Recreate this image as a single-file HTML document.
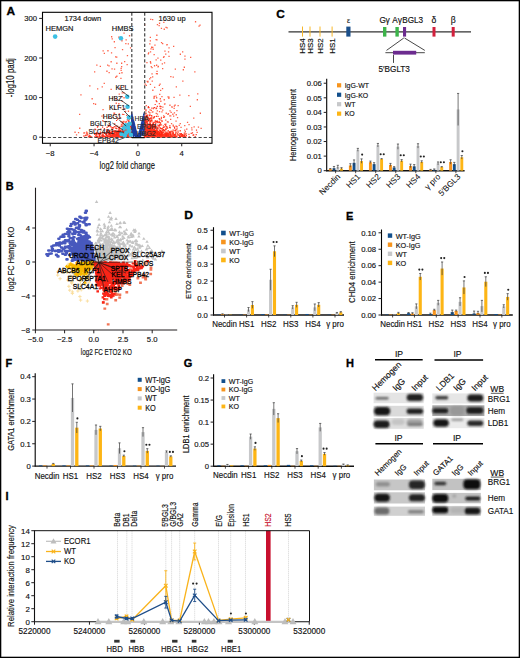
<!DOCTYPE html>
<html><head><meta charset="utf-8"><style>
html,body{margin:0;padding:0;background:#fff;width:520px;height:658px;overflow:hidden}
svg{display:block}
text{font-family:"Liberation Sans", sans-serif}
</style></head><body>
<svg width="520" height="658" viewBox="0 0 520 658">
<defs><filter id="bl" x="-20%" y="-60%" width="140%" height="220%"><feGaussianBlur stdDeviation="0.9"/></filter></defs>
<rect x="0" y="0" width="520" height="658" fill="#fff"/>
<text transform="translate(6.5 14.9) scale(1.08 1)" font-size="11" text-anchor="start" fill="#000" font-weight="bold" stroke="#000" stroke-width="0.3">A</text>
<path fill="#ff3a1a" fill-opacity="0.8" d="M156.0 97.1h1.3v1.3h-1.3zM170.6 130.5h1.3v1.3h-1.3zM155.6 100.1h1.3v1.3h-1.3zM158.5 121.0h1.3v1.3h-1.3zM174.4 134.1h1.3v1.3h-1.3zM156.8 113.5h1.3v1.3h-1.3zM152.2 111.3h1.3v1.3h-1.3zM158.6 134.0h1.3v1.3h-1.3zM156.4 129.9h1.3v1.3h-1.3zM176.3 109.9h1.3v1.3h-1.3zM153.7 95.8h1.3v1.3h-1.3zM170.0 118.7h1.3v1.3h-1.3zM158.6 118.0h1.3v1.3h-1.3zM168.9 132.2h1.3v1.3h-1.3zM145.6 105.0h1.3v1.3h-1.3zM153.5 53.9h1.3v1.3h-1.3zM157.5 115.8h1.3v1.3h-1.3zM149.1 129.6h1.3v1.3h-1.3zM148.7 120.5h1.3v1.3h-1.3zM155.4 120.5h1.3v1.3h-1.3zM151.6 80.5h1.3v1.3h-1.3zM180.4 126.7h1.3v1.3h-1.3zM190.0 56.7h1.3v1.3h-1.3zM182.2 80.5h1.3v1.3h-1.3zM193.1 117.4h1.3v1.3h-1.3zM149.7 40.3h1.3v1.3h-1.3zM192.4 134.6h1.3v1.3h-1.3zM163.0 115.2h1.3v1.3h-1.3zM167.9 51.2h1.3v1.3h-1.3zM165.1 119.5h1.3v1.3h-1.3zM162.5 129.7h1.3v1.3h-1.3zM159.3 124.7h1.3v1.3h-1.3zM162.9 56.8h1.3v1.3h-1.3zM159.0 133.1h1.3v1.3h-1.3zM171.1 106.3h1.3v1.3h-1.3zM155.5 38.9h1.3v1.3h-1.3zM160.1 59.5h1.3v1.3h-1.3zM148.2 134.6h1.3v1.3h-1.3zM169.2 115.2h1.3v1.3h-1.3zM167.8 113.1h1.3v1.3h-1.3zM160.8 124.3h1.3v1.3h-1.3zM169.2 126.8h1.3v1.3h-1.3zM162.8 125.3h1.3v1.3h-1.3zM171.6 106.5h1.3v1.3h-1.3zM175.4 120.5h1.3v1.3h-1.3zM169.6 127.2h1.3v1.3h-1.3zM159.6 133.4h1.3v1.3h-1.3zM163.9 62.3h1.3v1.3h-1.3zM173.0 45.7h1.3v1.3h-1.3zM150.1 18.8h1.3v1.3h-1.3zM167.2 113.8h1.3v1.3h-1.3zM177.0 133.1h1.3v1.3h-1.3zM147.8 126.6h1.3v1.3h-1.3zM156.4 70.7h1.3v1.3h-1.3zM159.0 134.6h1.3v1.3h-1.3zM177.5 104.9h1.3v1.3h-1.3zM170.1 115.2h1.3v1.3h-1.3zM167.4 96.3h1.3v1.3h-1.3zM162.2 106.5h1.3v1.3h-1.3zM150.7 133.6h1.3v1.3h-1.3zM199.7 112.6h1.3v1.3h-1.3zM183.7 66.6h1.3v1.3h-1.3zM158.7 84.8h1.3v1.3h-1.3zM150.6 130.7h1.3v1.3h-1.3zM159.5 105.5h1.3v1.3h-1.3zM148.4 124.6h1.3v1.3h-1.3zM173.7 105.4h1.3v1.3h-1.3zM159.5 134.5h1.3v1.3h-1.3zM156.0 64.6h1.3v1.3h-1.3zM160.8 27.7h1.3v1.3h-1.3zM162.6 131.6h1.3v1.3h-1.3zM159.1 132.2h1.3v1.3h-1.3zM153.3 116.5h1.3v1.3h-1.3zM172.0 133.1h1.3v1.3h-1.3zM161.3 111.3h1.3v1.3h-1.3zM151.7 134.5h1.3v1.3h-1.3zM156.3 126.7h1.3v1.3h-1.3zM179.7 130.1h1.3v1.3h-1.3zM157.6 133.6h1.3v1.3h-1.3zM165.3 134.0h1.3v1.3h-1.3zM151.4 67.0h1.3v1.3h-1.3zM159.5 83.5h1.3v1.3h-1.3zM155.9 132.6h1.3v1.3h-1.3zM184.5 134.0h1.3v1.3h-1.3zM166.2 44.3h1.3v1.3h-1.3zM175.2 131.5h1.3v1.3h-1.3zM149.9 51.3h1.3v1.3h-1.3zM156.7 110.3h1.3v1.3h-1.3zM178.6 124.7h1.3v1.3h-1.3zM162.5 128.9h1.3v1.3h-1.3zM179.9 133.3h1.3v1.3h-1.3zM160.2 108.0h1.3v1.3h-1.3zM149.1 129.5h1.3v1.3h-1.3zM151.8 132.1h1.3v1.3h-1.3zM163.1 130.1h1.3v1.3h-1.3zM151.4 73.3h1.3v1.3h-1.3zM147.1 130.4h1.3v1.3h-1.3zM159.1 93.7h1.3v1.3h-1.3zM179.2 94.4h1.3v1.3h-1.3zM157.3 57.5h1.3v1.3h-1.3zM151.4 133.2h1.3v1.3h-1.3zM147.2 81.4h1.3v1.3h-1.3zM158.9 132.8h1.3v1.3h-1.3zM159.3 134.5h1.3v1.3h-1.3zM184.7 133.2h1.3v1.3h-1.3zM164.7 131.2h1.3v1.3h-1.3zM144.3 126.9h1.3v1.3h-1.3zM155.8 73.0h1.3v1.3h-1.3zM168.4 55.7h1.3v1.3h-1.3zM151.1 131.5h1.3v1.3h-1.3zM150.1 132.5h1.3v1.3h-1.3zM188.4 124.0h1.3v1.3h-1.3zM150.2 130.2h1.3v1.3h-1.3zM186.9 121.8h1.3v1.3h-1.3zM163.6 99.1h1.3v1.3h-1.3zM161.9 87.9h1.3v1.3h-1.3zM149.7 36.7h1.3v1.3h-1.3zM184.1 134.5h1.3v1.3h-1.3zM170.9 130.9h1.3v1.3h-1.3zM168.2 97.7h1.3v1.3h-1.3zM161.3 134.5h1.3v1.3h-1.3zM159.2 132.7h1.3v1.3h-1.3zM175.7 86.3h1.3v1.3h-1.3zM169.0 131.6h1.3v1.3h-1.3zM156.2 34.6h1.3v1.3h-1.3zM150.4 48.2h1.3v1.3h-1.3zM200.5 127.7h1.3v1.3h-1.3zM152.0 76.3h1.3v1.3h-1.3zM164.3 103.3h1.3v1.3h-1.3zM149.8 61.1h1.3v1.3h-1.3zM154.8 126.2h1.3v1.3h-1.3zM154.6 130.2h1.3v1.3h-1.3zM151.0 119.8h1.3v1.3h-1.3zM160.7 118.0h1.3v1.3h-1.3zM145.6 134.4h1.3v1.3h-1.3zM149.0 78.3h1.3v1.3h-1.3zM163.2 21.8h1.3v1.3h-1.3zM163.8 116.1h1.3v1.3h-1.3zM145.3 110.3h1.3v1.3h-1.3zM173.4 96.7h1.3v1.3h-1.3zM155.4 95.4h1.3v1.3h-1.3zM147.0 133.9h1.3v1.3h-1.3zM155.5 59.2h1.3v1.3h-1.3zM153.4 97.6h1.3v1.3h-1.3zM194.2 71.3h1.3v1.3h-1.3zM154.0 128.1h1.3v1.3h-1.3zM161.5 128.4h1.3v1.3h-1.3zM147.7 125.7h1.3v1.3h-1.3zM196.7 99.1h1.3v1.3h-1.3zM162.0 42.9h1.3v1.3h-1.3zM173.0 129.4h1.3v1.3h-1.3zM152.2 89.6h1.3v1.3h-1.3zM158.5 24.9h1.3v1.3h-1.3zM144.5 83.5h1.3v1.3h-1.3zM184.3 55.4h1.3v1.3h-1.3zM179.5 130.1h1.3v1.3h-1.3zM159.9 122.0h1.3v1.3h-1.3zM197.1 93.3h1.3v1.3h-1.3zM158.6 133.5h1.3v1.3h-1.3zM159.6 107.8h1.3v1.3h-1.3zM159.8 134.4h1.3v1.3h-1.3zM199.4 24.4h1.3v1.3h-1.3zM166.5 27.2h1.3v1.3h-1.3zM181.4 134.5h1.3v1.3h-1.3zM172.3 129.5h1.3v1.3h-1.3zM176.9 116.9h1.3v1.3h-1.3zM154.2 127.2h1.3v1.3h-1.3zM149.8 119.9h1.3v1.3h-1.3zM172.7 125.5h1.3v1.3h-1.3zM170.5 111.8h1.3v1.3h-1.3zM154.1 134.1h1.3v1.3h-1.3zM150.7 109.7h1.3v1.3h-1.3zM150.4 131.2h1.3v1.3h-1.3zM167.5 131.3h1.3v1.3h-1.3zM172.7 132.1h1.3v1.3h-1.3zM172.2 113.6h1.3v1.3h-1.3zM149.3 123.0h1.3v1.3h-1.3zM165.1 53.5h1.3v1.3h-1.3zM150.1 77.0h1.3v1.3h-1.3zM149.8 83.7h1.3v1.3h-1.3zM153.4 124.2h1.3v1.3h-1.3zM155.4 107.9h1.3v1.3h-1.3zM174.4 134.6h1.3v1.3h-1.3zM184.1 129.4h1.3v1.3h-1.3zM168.4 47.2h1.3v1.3h-1.3zM152.8 107.9h1.3v1.3h-1.3zM191.1 127.3h1.3v1.3h-1.3zM150.1 62.4h1.3v1.3h-1.3zM147.3 80.8h1.3v1.3h-1.3zM171.3 134.3h1.3v1.3h-1.3zM157.0 134.2h1.3v1.3h-1.3zM150.3 119.9h1.3v1.3h-1.3zM151.2 134.6h1.3v1.3h-1.3zM171.5 133.1h1.3v1.3h-1.3zM160.0 89.8h1.3v1.3h-1.3zM164.3 50.5h1.3v1.3h-1.3zM157.4 66.3h1.3v1.3h-1.3zM145.8 114.8h1.3v1.3h-1.3zM166.2 133.1h1.3v1.3h-1.3zM152.7 117.4h1.3v1.3h-1.3zM149.4 124.1h1.3v1.3h-1.3zM147.9 132.4h1.3v1.3h-1.3zM166.0 126.2h1.3v1.3h-1.3zM172.5 124.4h1.3v1.3h-1.3zM166.1 134.6h1.3v1.3h-1.3zM152.7 134.5h1.3v1.3h-1.3zM157.6 130.5h1.3v1.3h-1.3zM172.3 130.9h1.3v1.3h-1.3zM163.6 28.6h1.3v1.3h-1.3zM182.0 51.3h1.3v1.3h-1.3zM159.7 98.1h1.3v1.3h-1.3zM182.7 69.1h1.3v1.3h-1.3zM191.3 129.2h1.3v1.3h-1.3zM175.6 114.1h1.3v1.3h-1.3zM162.1 109.4h1.3v1.3h-1.3zM159.5 127.5h1.3v1.3h-1.3zM160.8 116.8h1.3v1.3h-1.3zM160.8 131.8h1.3v1.3h-1.3zM165.4 134.6h1.3v1.3h-1.3zM153.5 129.3h1.3v1.3h-1.3zM159.0 129.3h1.3v1.3h-1.3zM149.4 109.3h1.3v1.3h-1.3zM189.7 105.7h1.3v1.3h-1.3zM148.0 52.3h1.3v1.3h-1.3zM154.3 44.5h1.3v1.3h-1.3zM153.4 134.6h1.3v1.3h-1.3zM154.0 86.8h1.3v1.3h-1.3zM174.9 132.8h1.3v1.3h-1.3zM153.5 96.1h1.3v1.3h-1.3zM165.4 26.8h1.3v1.3h-1.3zM150.6 66.0h1.3v1.3h-1.3zM158.9 111.0h1.3v1.3h-1.3zM161.3 96.0h1.3v1.3h-1.3zM148.6 127.5h1.3v1.3h-1.3zM176.9 134.5h1.3v1.3h-1.3zM173.0 115.5h1.3v1.3h-1.3zM145.8 118.5h1.3v1.3h-1.3zM173.5 107.8h1.3v1.3h-1.3zM150.3 128.0h1.3v1.3h-1.3zM174.5 133.8h1.3v1.3h-1.3zM169.3 104.6h1.3v1.3h-1.3zM158.7 102.9h1.3v1.3h-1.3zM184.7 131.1h1.3v1.3h-1.3zM156.6 73.1h1.3v1.3h-1.3zM158.9 22.6h1.3v1.3h-1.3zM145.4 112.5h1.3v1.3h-1.3zM188.2 95.0h1.3v1.3h-1.3zM152.0 19.0h1.3v1.3h-1.3zM147.0 134.3h1.3v1.3h-1.3zM168.4 134.5h1.3v1.3h-1.3zM152.8 133.2h1.3v1.3h-1.3zM146.6 80.7h1.3v1.3h-1.3zM177.4 131.6h1.3v1.3h-1.3zM162.0 68.0h1.3v1.3h-1.3zM149.2 43.3h1.3v1.3h-1.3zM178.5 134.5h1.3v1.3h-1.3zM147.7 53.3h1.3v1.3h-1.3zM179.6 122.9h1.3v1.3h-1.3zM156.8 132.1h1.3v1.3h-1.3zM155.6 121.0h1.3v1.3h-1.3zM172.6 76.5h1.3v1.3h-1.3zM151.6 111.4h1.3v1.3h-1.3zM179.7 53.6h1.3v1.3h-1.3zM160.0 130.1h1.3v1.3h-1.3zM151.0 46.6h1.3v1.3h-1.3zM163.9 103.4h1.3v1.3h-1.3zM152.5 48.6h1.3v1.3h-1.3zM193.5 126.2h1.3v1.3h-1.3zM160.8 133.1h1.3v1.3h-1.3zM151.2 134.6h1.3v1.3h-1.3zM153.6 134.6h1.3v1.3h-1.3zM160.5 134.3h1.3v1.3h-1.3zM145.7 84.7h1.3v1.3h-1.3zM196.5 131.8h1.3v1.3h-1.3zM168.6 134.5h1.3v1.3h-1.3zM166.8 121.3h1.3v1.3h-1.3zM153.6 121.5h1.3v1.3h-1.3zM188.3 133.7h1.3v1.3h-1.3zM161.1 134.2h1.3v1.3h-1.3zM156.3 39.3h1.3v1.3h-1.3zM198.4 25.5h1.3v1.3h-1.3zM153.8 130.5h1.3v1.3h-1.3zM147.9 134.5h1.3v1.3h-1.3zM170.9 123.0h1.3v1.3h-1.3zM182.6 134.6h1.3v1.3h-1.3zM169.4 110.2h1.3v1.3h-1.3zM194.9 21.1h1.3v1.3h-1.3zM159.1 123.7h1.3v1.3h-1.3zM156.8 23.9h1.3v1.3h-1.3zM152.3 122.9h1.3v1.3h-1.3zM175.4 134.6h1.3v1.3h-1.3zM175.3 131.2h1.3v1.3h-1.3zM154.7 131.6h1.3v1.3h-1.3zM184.3 58.4h1.3v1.3h-1.3zM183.2 134.5h1.3v1.3h-1.3zM168.3 96.4h1.3v1.3h-1.3zM144.1 24.3h1.3v1.3h-1.3zM163.4 55.9h1.3v1.3h-1.3zM152.1 46.8h1.3v1.3h-1.3zM184.1 125.0h1.3v1.3h-1.3zM173.8 112.2h1.3v1.3h-1.3zM176.5 128.3h1.3v1.3h-1.3zM175.6 132.2h1.3v1.3h-1.3zM160.9 41.9h1.3v1.3h-1.3zM165.6 112.6h1.3v1.3h-1.3zM169.7 133.8h1.3v1.3h-1.3zM153.9 65.1h1.3v1.3h-1.3zM161.7 63.2h1.3v1.3h-1.3zM146.3 62.0h1.3v1.3h-1.3zM150.8 124.9h1.3v1.3h-1.3zM156.9 133.7h1.3v1.3h-1.3zM197.8 126.4h1.3v1.3h-1.3zM149.9 119.4h1.3v1.3h-1.3zM170.2 76.0h1.3v1.3h-1.3zM174.7 68.4h1.3v1.3h-1.3zM155.6 112.8h1.3v1.3h-1.3zM162.0 127.4h1.3v1.3h-1.3zM172.6 132.7h1.3v1.3h-1.3zM185.8 133.2h1.3v1.3h-1.3zM156.3 128.2h1.3v1.3h-1.3zM177.7 134.3h1.3v1.3h-1.3zM164.2 132.7h1.3v1.3h-1.3zM160.2 100.6h1.3v1.3h-1.3zM161.0 120.3h1.3v1.3h-1.3zM163.3 129.6h1.3v1.3h-1.3zM157.7 65.7h1.3v1.3h-1.3zM160.5 105.9h1.3v1.3h-1.3zM149.3 127.9h1.3v1.3h-1.3zM169.2 125.0h1.3v1.3h-1.3zM166.5 43.9h1.3v1.3h-1.3zM113.9 112.6h1.3v1.3h-1.3zM113.0 114.7h1.3v1.3h-1.3zM107.0 64.5h1.3v1.3h-1.3zM128.3 118.0h1.3v1.3h-1.3zM93.0 103.0h1.3v1.3h-1.3zM122.2 133.1h1.3v1.3h-1.3zM99.7 65.8h1.3v1.3h-1.3zM99.3 134.3h1.3v1.3h-1.3zM127.8 110.6h1.3v1.3h-1.3zM108.1 116.6h1.3v1.3h-1.3zM121.0 65.9h1.3v1.3h-1.3zM120.8 134.6h1.3v1.3h-1.3zM111.3 127.9h1.3v1.3h-1.3zM119.4 134.3h1.3v1.3h-1.3zM113.9 68.4h1.3v1.3h-1.3zM113.3 112.4h1.3v1.3h-1.3zM127.9 120.8h1.3v1.3h-1.3zM116.9 105.3h1.3v1.3h-1.3zM120.8 123.8h1.3v1.3h-1.3zM97.2 125.8h1.3v1.3h-1.3zM115.5 98.5h1.3v1.3h-1.3zM115.5 114.2h1.3v1.3h-1.3zM105.9 134.3h1.3v1.3h-1.3zM114.4 47.0h1.3v1.3h-1.3zM102.4 109.0h1.3v1.3h-1.3zM122.7 125.6h1.3v1.3h-1.3zM86.7 132.4h1.3v1.3h-1.3zM102.9 116.9h1.3v1.3h-1.3zM107.3 50.1h1.3v1.3h-1.3zM121.8 134.2h1.3v1.3h-1.3zM108.9 124.1h1.3v1.3h-1.3zM121.9 49.0h1.3v1.3h-1.3zM84.0 132.2h1.3v1.3h-1.3zM128.6 118.8h1.3v1.3h-1.3zM123.2 92.3h1.3v1.3h-1.3zM113.2 133.7h1.3v1.3h-1.3zM101.3 115.5h1.3v1.3h-1.3zM126.5 63.9h1.3v1.3h-1.3zM123.4 32.4h1.3v1.3h-1.3zM115.1 76.6h1.3v1.3h-1.3zM112.2 133.7h1.3v1.3h-1.3zM111.8 97.8h1.3v1.3h-1.3zM120.6 132.6h1.3v1.3h-1.3zM124.0 61.0h1.3v1.3h-1.3zM105.7 134.5h1.3v1.3h-1.3zM127.9 122.4h1.3v1.3h-1.3zM121.9 113.8h1.3v1.3h-1.3zM127.1 131.3h1.3v1.3h-1.3zM108.7 133.6h1.3v1.3h-1.3zM115.3 98.0h1.3v1.3h-1.3zM126.5 107.4h1.3v1.3h-1.3zM107.2 132.8h1.3v1.3h-1.3zM102.2 120.1h1.3v1.3h-1.3zM74.4 131.6h1.3v1.3h-1.3zM124.9 110.8h1.3v1.3h-1.3zM126.8 55.0h1.3v1.3h-1.3zM125.9 105.0h1.3v1.3h-1.3zM109.8 131.8h1.3v1.3h-1.3zM123.2 120.7h1.3v1.3h-1.3zM125.2 130.3h1.3v1.3h-1.3zM116.1 56.4h1.3v1.3h-1.3zM85.2 134.5h1.3v1.3h-1.3zM123.2 85.7h1.3v1.3h-1.3zM116.2 132.1h1.3v1.3h-1.3zM107.7 125.8h1.3v1.3h-1.3zM91.5 98.1h1.3v1.3h-1.3zM121.3 134.2h1.3v1.3h-1.3zM128.9 35.1h1.3v1.3h-1.3zM89.2 85.3h1.3v1.3h-1.3zM129.9 47.3h1.3v1.3h-1.3zM116.4 117.1h1.3v1.3h-1.3zM94.4 128.4h1.3v1.3h-1.3zM118.1 132.2h1.3v1.3h-1.3zM122.3 130.5h1.3v1.3h-1.3zM118.1 36.5h1.3v1.3h-1.3zM108.5 72.0h1.3v1.3h-1.3zM80.3 94.3h1.3v1.3h-1.3zM95.6 133.7h1.3v1.3h-1.3zM77.9 131.9h1.3v1.3h-1.3zM102.5 50.3h1.3v1.3h-1.3zM111.4 68.3h1.3v1.3h-1.3zM96.2 64.5h1.3v1.3h-1.3zM121.4 125.4h1.3v1.3h-1.3zM123.0 129.0h1.3v1.3h-1.3zM112.1 128.8h1.3v1.3h-1.3zM101.6 86.2h1.3v1.3h-1.3zM94.0 71.3h1.3v1.3h-1.3zM127.7 43.3h1.3v1.3h-1.3zM121.0 62.6h1.3v1.3h-1.3zM116.2 62.6h1.3v1.3h-1.3zM105.4 133.3h1.3v1.3h-1.3zM122.7 123.0h1.3v1.3h-1.3zM110.5 61.1h1.3v1.3h-1.3zM120.5 133.8h1.3v1.3h-1.3zM102.9 114.5h1.3v1.3h-1.3zM120.5 133.1h1.3v1.3h-1.3zM122.4 121.0h1.3v1.3h-1.3zM113.8 96.2h1.3v1.3h-1.3zM124.2 108.1h1.3v1.3h-1.3zM118.6 113.3h1.3v1.3h-1.3zM118.2 103.1h1.3v1.3h-1.3zM110.9 52.3h1.3v1.3h-1.3zM121.3 40.1h1.3v1.3h-1.3zM118.6 93.5h1.3v1.3h-1.3zM119.3 87.4h1.3v1.3h-1.3zM75.9 134.2h1.3v1.3h-1.3zM115.6 102.6h1.3v1.3h-1.3zM103.7 52.8h1.3v1.3h-1.3zM118.7 134.4h1.3v1.3h-1.3zM113.7 41.1h1.3v1.3h-1.3zM116.2 134.3h1.3v1.3h-1.3zM121.6 92.2h1.3v1.3h-1.3zM109.7 125.8h1.3v1.3h-1.3zM111.0 36.1h1.3v1.3h-1.3zM118.7 87.5h1.3v1.3h-1.3zM103.6 82.7h1.3v1.3h-1.3zM107.5 131.9h1.3v1.3h-1.3zM120.5 69.7h1.3v1.3h-1.3zM120.1 107.2h1.3v1.3h-1.3zM116.9 125.4h1.3v1.3h-1.3zM125.5 39.3h1.3v1.3h-1.3zM125.2 42.9h1.3v1.3h-1.3zM126.0 114.8h1.3v1.3h-1.3zM117.1 118.6h1.3v1.3h-1.3zM122.9 127.2h1.3v1.3h-1.3zM79.0 113.7h1.3v1.3h-1.3zM121.3 72.1h1.3v1.3h-1.3zM116.2 75.6h1.3v1.3h-1.3zM97.0 88.3h1.3v1.3h-1.3zM120.4 121.0h1.3v1.3h-1.3zM79.1 127.6h1.3v1.3h-1.3zM121.8 121.7h1.3v1.3h-1.3zM94.9 103.6h1.3v1.3h-1.3zM119.9 117.0h1.3v1.3h-1.3zM111.6 38.2h1.3v1.3h-1.3zM118.9 72.8h1.3v1.3h-1.3zM120.3 77.8h1.3v1.3h-1.3zM120.5 67.7h1.3v1.3h-1.3zM115.0 56.3h1.3v1.3h-1.3zM120.0 88.4h1.3v1.3h-1.3zM112.4 117.0h1.3v1.3h-1.3zM110.5 88.7h1.3v1.3h-1.3zM121.5 100.7h1.3v1.3h-1.3zM106.3 70.6h1.3v1.3h-1.3zM114.1 108.8h1.3v1.3h-1.3zM108.4 65.2h1.3v1.3h-1.3zM97.2 132.8h1.3v1.3h-1.3zM121.6 96.0h1.3v1.3h-1.3zM123.4 97.1h1.3v1.3h-1.3zM99.8 133.7h1.3v1.3h-1.3z"/>
<path fill="#ff1e08" fill-opacity="0.9" d="M153.5 133.8h1.2v1.2h-1.2zM151.0 136.1h1.2v1.2h-1.2zM154.7 134.1h1.2v1.2h-1.2zM143.7 130.3h1.2v1.2h-1.2zM144.6 134.6h1.2v1.2h-1.2zM144.1 132.9h1.2v1.2h-1.2zM148.6 126.2h1.2v1.2h-1.2zM144.0 125.5h1.2v1.2h-1.2zM144.4 135.0h1.2v1.2h-1.2zM149.7 134.0h1.2v1.2h-1.2zM146.1 131.3h1.2v1.2h-1.2zM145.2 126.6h1.2v1.2h-1.2zM145.1 125.0h1.2v1.2h-1.2zM153.7 131.7h1.2v1.2h-1.2zM143.9 127.1h1.2v1.2h-1.2zM143.9 132.1h1.2v1.2h-1.2zM147.0 136.2h1.2v1.2h-1.2zM149.7 128.4h1.2v1.2h-1.2zM149.0 133.4h1.2v1.2h-1.2zM148.0 131.0h1.2v1.2h-1.2zM145.3 123.8h1.2v1.2h-1.2zM176.5 126.3h1.2v1.2h-1.2zM163.3 134.1h1.2v1.2h-1.2zM169.6 136.1h1.2v1.2h-1.2zM147.6 135.7h1.2v1.2h-1.2zM147.4 129.3h1.2v1.2h-1.2zM151.1 132.8h1.2v1.2h-1.2zM146.2 135.3h1.2v1.2h-1.2zM146.8 134.5h1.2v1.2h-1.2zM145.0 128.2h1.2v1.2h-1.2zM148.1 132.9h1.2v1.2h-1.2zM145.0 128.9h1.2v1.2h-1.2zM145.0 134.6h1.2v1.2h-1.2zM148.7 128.9h1.2v1.2h-1.2zM165.5 127.9h1.2v1.2h-1.2zM161.6 120.6h1.2v1.2h-1.2zM151.4 128.5h1.2v1.2h-1.2zM144.1 135.1h1.2v1.2h-1.2zM143.8 124.0h1.2v1.2h-1.2zM151.4 130.3h1.2v1.2h-1.2zM145.6 133.8h1.2v1.2h-1.2zM144.8 130.3h1.2v1.2h-1.2zM172.4 134.3h1.2v1.2h-1.2zM144.0 135.4h1.2v1.2h-1.2zM146.4 122.1h1.2v1.2h-1.2zM153.5 132.8h1.2v1.2h-1.2zM144.4 135.9h1.2v1.2h-1.2zM144.7 127.1h1.2v1.2h-1.2zM147.6 107.0h1.2v1.2h-1.2zM158.3 126.6h1.2v1.2h-1.2zM147.6 125.7h1.2v1.2h-1.2zM144.5 135.9h1.2v1.2h-1.2zM148.7 132.1h1.2v1.2h-1.2zM145.1 134.8h1.2v1.2h-1.2zM143.8 121.4h1.2v1.2h-1.2zM151.2 118.2h1.2v1.2h-1.2zM167.5 133.0h1.2v1.2h-1.2zM151.7 133.5h1.2v1.2h-1.2zM153.8 124.9h1.2v1.2h-1.2zM144.6 136.5h1.2v1.2h-1.2zM145.2 131.0h1.2v1.2h-1.2zM146.6 136.5h1.2v1.2h-1.2zM154.4 126.8h1.2v1.2h-1.2zM147.5 136.3h1.2v1.2h-1.2zM157.0 131.8h1.2v1.2h-1.2zM144.2 134.1h1.2v1.2h-1.2zM149.6 122.9h1.2v1.2h-1.2zM147.7 130.1h1.2v1.2h-1.2zM145.1 134.8h1.2v1.2h-1.2zM158.0 133.5h1.2v1.2h-1.2zM144.4 130.9h1.2v1.2h-1.2zM144.5 135.2h1.2v1.2h-1.2zM147.4 131.0h1.2v1.2h-1.2zM149.8 128.8h1.2v1.2h-1.2zM147.2 136.2h1.2v1.2h-1.2zM151.5 136.2h1.2v1.2h-1.2zM147.5 133.4h1.2v1.2h-1.2zM150.4 128.7h1.2v1.2h-1.2zM145.4 130.0h1.2v1.2h-1.2zM150.8 132.6h1.2v1.2h-1.2zM144.6 121.4h1.2v1.2h-1.2zM149.2 136.2h1.2v1.2h-1.2zM145.4 109.2h1.2v1.2h-1.2zM145.3 133.4h1.2v1.2h-1.2zM153.1 125.6h1.2v1.2h-1.2zM149.8 128.0h1.2v1.2h-1.2zM143.9 136.0h1.2v1.2h-1.2zM166.2 126.3h1.2v1.2h-1.2zM143.9 136.3h1.2v1.2h-1.2zM145.4 119.7h1.2v1.2h-1.2zM145.2 129.5h1.2v1.2h-1.2zM159.8 130.2h1.2v1.2h-1.2zM158.9 134.7h1.2v1.2h-1.2zM144.7 136.5h1.2v1.2h-1.2zM152.2 135.9h1.2v1.2h-1.2zM165.5 128.8h1.2v1.2h-1.2zM145.0 126.2h1.2v1.2h-1.2zM144.8 132.1h1.2v1.2h-1.2zM144.4 126.8h1.2v1.2h-1.2zM157.0 120.9h1.2v1.2h-1.2zM143.7 124.5h1.2v1.2h-1.2zM148.6 125.7h1.2v1.2h-1.2zM147.9 130.5h1.2v1.2h-1.2zM149.2 126.4h1.2v1.2h-1.2zM144.2 136.2h1.2v1.2h-1.2zM148.5 134.4h1.2v1.2h-1.2zM146.8 136.6h1.2v1.2h-1.2zM151.9 136.4h1.2v1.2h-1.2zM154.4 126.0h1.2v1.2h-1.2zM147.4 135.8h1.2v1.2h-1.2zM150.0 135.1h1.2v1.2h-1.2zM147.1 135.9h1.2v1.2h-1.2zM166.3 131.6h1.2v1.2h-1.2zM146.3 136.0h1.2v1.2h-1.2zM151.6 124.6h1.2v1.2h-1.2zM155.1 135.9h1.2v1.2h-1.2zM146.5 134.3h1.2v1.2h-1.2zM152.4 135.6h1.2v1.2h-1.2zM149.3 112.3h1.2v1.2h-1.2zM152.5 136.6h1.2v1.2h-1.2zM144.2 135.8h1.2v1.2h-1.2zM150.8 130.8h1.2v1.2h-1.2zM148.1 132.7h1.2v1.2h-1.2zM146.9 130.6h1.2v1.2h-1.2zM150.0 120.9h1.2v1.2h-1.2zM151.7 126.5h1.2v1.2h-1.2zM158.4 125.1h1.2v1.2h-1.2zM151.3 136.4h1.2v1.2h-1.2zM150.6 124.6h1.2v1.2h-1.2zM147.1 123.3h1.2v1.2h-1.2zM144.9 118.5h1.2v1.2h-1.2zM147.2 128.8h1.2v1.2h-1.2zM145.5 134.3h1.2v1.2h-1.2zM146.3 134.1h1.2v1.2h-1.2zM144.3 132.9h1.2v1.2h-1.2zM167.6 129.9h1.2v1.2h-1.2zM159.9 127.5h1.2v1.2h-1.2zM154.6 103.9h1.2v1.2h-1.2zM152.1 134.6h1.2v1.2h-1.2zM145.4 133.2h1.2v1.2h-1.2zM143.8 134.9h1.2v1.2h-1.2zM156.8 120.5h1.2v1.2h-1.2zM146.1 127.3h1.2v1.2h-1.2zM152.7 122.6h1.2v1.2h-1.2zM153.3 131.8h1.2v1.2h-1.2zM144.4 125.5h1.2v1.2h-1.2zM146.0 130.4h1.2v1.2h-1.2zM146.5 131.7h1.2v1.2h-1.2zM164.0 135.5h1.2v1.2h-1.2zM148.3 129.9h1.2v1.2h-1.2zM148.4 119.0h1.2v1.2h-1.2zM146.9 121.1h1.2v1.2h-1.2zM150.8 114.9h1.2v1.2h-1.2zM144.3 135.1h1.2v1.2h-1.2zM145.8 121.6h1.2v1.2h-1.2zM143.8 134.7h1.2v1.2h-1.2zM151.3 107.6h1.2v1.2h-1.2zM144.9 132.9h1.2v1.2h-1.2zM150.7 129.2h1.2v1.2h-1.2zM152.0 127.7h1.2v1.2h-1.2zM145.4 134.7h1.2v1.2h-1.2zM143.9 129.2h1.2v1.2h-1.2zM145.1 134.7h1.2v1.2h-1.2zM163.8 130.1h1.2v1.2h-1.2zM149.1 129.8h1.2v1.2h-1.2zM149.2 129.1h1.2v1.2h-1.2zM145.9 136.2h1.2v1.2h-1.2zM144.1 136.5h1.2v1.2h-1.2zM146.4 135.6h1.2v1.2h-1.2zM144.4 132.3h1.2v1.2h-1.2zM164.8 129.2h1.2v1.2h-1.2zM145.6 127.3h1.2v1.2h-1.2zM144.9 135.9h1.2v1.2h-1.2zM145.9 133.3h1.2v1.2h-1.2zM150.8 132.9h1.2v1.2h-1.2zM151.6 136.0h1.2v1.2h-1.2zM159.9 133.9h1.2v1.2h-1.2zM154.5 136.4h1.2v1.2h-1.2zM154.3 135.0h1.2v1.2h-1.2zM155.4 126.3h1.2v1.2h-1.2zM150.4 134.5h1.2v1.2h-1.2zM143.8 135.3h1.2v1.2h-1.2zM157.9 135.5h1.2v1.2h-1.2zM150.2 131.0h1.2v1.2h-1.2zM150.2 135.3h1.2v1.2h-1.2zM144.6 136.0h1.2v1.2h-1.2zM168.2 133.5h1.2v1.2h-1.2zM150.1 131.3h1.2v1.2h-1.2zM145.2 136.2h1.2v1.2h-1.2zM143.8 124.5h1.2v1.2h-1.2zM144.6 115.7h1.2v1.2h-1.2zM146.4 128.5h1.2v1.2h-1.2zM144.6 126.8h1.2v1.2h-1.2zM145.5 133.7h1.2v1.2h-1.2zM148.2 135.9h1.2v1.2h-1.2zM145.4 126.5h1.2v1.2h-1.2zM145.7 133.6h1.2v1.2h-1.2zM152.4 135.0h1.2v1.2h-1.2zM145.0 135.0h1.2v1.2h-1.2zM146.6 133.7h1.2v1.2h-1.2zM149.9 132.6h1.2v1.2h-1.2zM156.0 136.3h1.2v1.2h-1.2zM150.3 125.1h1.2v1.2h-1.2zM145.3 136.4h1.2v1.2h-1.2zM147.2 135.8h1.2v1.2h-1.2zM147.4 128.7h1.2v1.2h-1.2zM144.3 135.8h1.2v1.2h-1.2zM147.6 135.4h1.2v1.2h-1.2zM145.3 132.9h1.2v1.2h-1.2zM144.5 136.2h1.2v1.2h-1.2zM146.4 132.6h1.2v1.2h-1.2zM160.3 131.5h1.2v1.2h-1.2zM144.2 135.0h1.2v1.2h-1.2zM151.9 131.4h1.2v1.2h-1.2zM156.0 115.8h1.2v1.2h-1.2zM155.5 135.9h1.2v1.2h-1.2zM161.1 131.9h1.2v1.2h-1.2zM145.4 135.4h1.2v1.2h-1.2zM155.8 135.1h1.2v1.2h-1.2zM144.2 134.6h1.2v1.2h-1.2zM159.3 132.7h1.2v1.2h-1.2zM151.6 136.1h1.2v1.2h-1.2zM147.3 134.2h1.2v1.2h-1.2zM145.1 129.7h1.2v1.2h-1.2zM146.4 135.8h1.2v1.2h-1.2zM168.7 132.4h1.2v1.2h-1.2zM144.9 136.5h1.2v1.2h-1.2zM150.1 132.0h1.2v1.2h-1.2zM143.9 132.6h1.2v1.2h-1.2zM151.8 131.7h1.2v1.2h-1.2zM145.3 132.2h1.2v1.2h-1.2zM149.3 129.9h1.2v1.2h-1.2zM144.7 126.3h1.2v1.2h-1.2zM161.3 128.1h1.2v1.2h-1.2zM155.4 133.7h1.2v1.2h-1.2zM157.8 135.3h1.2v1.2h-1.2zM145.3 130.8h1.2v1.2h-1.2zM157.7 136.1h1.2v1.2h-1.2zM145.2 136.4h1.2v1.2h-1.2zM147.2 135.6h1.2v1.2h-1.2zM145.0 127.8h1.2v1.2h-1.2zM149.0 118.8h1.2v1.2h-1.2zM146.8 129.4h1.2v1.2h-1.2zM143.8 117.8h1.2v1.2h-1.2zM145.3 132.5h1.2v1.2h-1.2zM148.0 117.8h1.2v1.2h-1.2zM147.8 106.1h1.2v1.2h-1.2zM149.6 135.1h1.2v1.2h-1.2zM154.5 135.2h1.2v1.2h-1.2zM190.6 132.7h1.2v1.2h-1.2zM145.3 116.0h1.2v1.2h-1.2zM146.1 133.3h1.2v1.2h-1.2zM146.2 129.6h1.2v1.2h-1.2zM143.9 133.6h1.2v1.2h-1.2zM144.8 125.4h1.2v1.2h-1.2zM143.7 130.7h1.2v1.2h-1.2zM145.5 132.8h1.2v1.2h-1.2zM148.7 128.7h1.2v1.2h-1.2zM144.6 134.9h1.2v1.2h-1.2zM144.5 116.2h1.2v1.2h-1.2zM144.7 135.7h1.2v1.2h-1.2zM148.2 131.1h1.2v1.2h-1.2zM156.8 136.2h1.2v1.2h-1.2zM145.3 135.4h1.2v1.2h-1.2zM149.0 132.8h1.2v1.2h-1.2zM146.9 122.7h1.2v1.2h-1.2zM150.2 124.1h1.2v1.2h-1.2zM162.7 134.6h1.2v1.2h-1.2zM160.9 133.3h1.2v1.2h-1.2zM144.0 121.0h1.2v1.2h-1.2zM144.4 136.5h1.2v1.2h-1.2zM145.8 134.4h1.2v1.2h-1.2zM164.3 123.7h1.2v1.2h-1.2zM147.0 131.8h1.2v1.2h-1.2zM155.1 126.2h1.2v1.2h-1.2zM150.1 132.0h1.2v1.2h-1.2zM144.5 134.8h1.2v1.2h-1.2zM150.2 131.0h1.2v1.2h-1.2zM153.4 122.1h1.2v1.2h-1.2zM163.5 135.2h1.2v1.2h-1.2zM144.2 122.2h1.2v1.2h-1.2zM148.8 135.3h1.2v1.2h-1.2zM150.8 134.7h1.2v1.2h-1.2zM145.3 133.7h1.2v1.2h-1.2zM148.2 129.4h1.2v1.2h-1.2zM144.2 128.0h1.2v1.2h-1.2zM149.6 132.6h1.2v1.2h-1.2zM150.4 126.4h1.2v1.2h-1.2zM143.8 132.5h1.2v1.2h-1.2zM150.5 128.8h1.2v1.2h-1.2zM150.0 135.3h1.2v1.2h-1.2zM162.9 126.8h1.2v1.2h-1.2zM145.3 133.0h1.2v1.2h-1.2zM162.8 135.1h1.2v1.2h-1.2zM146.9 115.9h1.2v1.2h-1.2zM157.6 134.9h1.2v1.2h-1.2zM151.7 133.8h1.2v1.2h-1.2zM150.3 127.4h1.2v1.2h-1.2zM144.5 135.0h1.2v1.2h-1.2zM145.2 134.6h1.2v1.2h-1.2zM143.9 135.7h1.2v1.2h-1.2zM146.9 133.1h1.2v1.2h-1.2zM144.2 131.1h1.2v1.2h-1.2zM160.9 131.1h1.2v1.2h-1.2zM146.4 128.9h1.2v1.2h-1.2zM147.2 135.4h1.2v1.2h-1.2zM147.7 136.5h1.2v1.2h-1.2zM150.5 135.5h1.2v1.2h-1.2zM146.5 115.8h1.2v1.2h-1.2zM152.5 125.2h1.2v1.2h-1.2zM149.9 130.2h1.2v1.2h-1.2zM151.1 115.1h1.2v1.2h-1.2zM145.0 127.4h1.2v1.2h-1.2zM145.9 134.7h1.2v1.2h-1.2zM154.1 130.8h1.2v1.2h-1.2zM155.1 123.4h1.2v1.2h-1.2zM149.1 135.2h1.2v1.2h-1.2zM143.8 131.8h1.2v1.2h-1.2zM151.5 134.6h1.2v1.2h-1.2zM144.1 136.6h1.2v1.2h-1.2zM144.9 129.1h1.2v1.2h-1.2zM143.7 134.9h1.2v1.2h-1.2zM145.6 128.7h1.2v1.2h-1.2zM170.0 136.5h1.2v1.2h-1.2zM144.4 119.3h1.2v1.2h-1.2zM164.8 135.6h1.2v1.2h-1.2zM146.2 131.9h1.2v1.2h-1.2zM146.0 133.2h1.2v1.2h-1.2zM147.6 134.7h1.2v1.2h-1.2zM144.1 136.0h1.2v1.2h-1.2zM144.8 136.0h1.2v1.2h-1.2zM149.6 129.0h1.2v1.2h-1.2zM145.6 126.7h1.2v1.2h-1.2zM151.6 134.0h1.2v1.2h-1.2zM147.8 135.3h1.2v1.2h-1.2zM159.7 131.4h1.2v1.2h-1.2zM144.0 135.5h1.2v1.2h-1.2zM150.8 133.5h1.2v1.2h-1.2zM151.3 134.9h1.2v1.2h-1.2zM153.3 126.3h1.2v1.2h-1.2zM144.3 131.0h1.2v1.2h-1.2zM145.0 128.8h1.2v1.2h-1.2zM153.5 126.7h1.2v1.2h-1.2zM145.3 136.0h1.2v1.2h-1.2zM150.3 131.3h1.2v1.2h-1.2zM144.6 135.2h1.2v1.2h-1.2zM149.0 135.9h1.2v1.2h-1.2zM149.8 134.9h1.2v1.2h-1.2zM145.5 133.1h1.2v1.2h-1.2zM148.3 128.4h1.2v1.2h-1.2zM143.9 128.4h1.2v1.2h-1.2zM145.2 134.4h1.2v1.2h-1.2zM149.9 129.2h1.2v1.2h-1.2zM149.5 121.9h1.2v1.2h-1.2zM145.1 134.2h1.2v1.2h-1.2zM150.3 134.7h1.2v1.2h-1.2zM144.7 135.0h1.2v1.2h-1.2zM152.6 125.5h1.2v1.2h-1.2zM151.3 116.4h1.2v1.2h-1.2zM153.2 134.3h1.2v1.2h-1.2zM146.0 128.5h1.2v1.2h-1.2zM144.1 130.6h1.2v1.2h-1.2zM144.3 136.3h1.2v1.2h-1.2zM148.1 135.6h1.2v1.2h-1.2zM159.9 123.3h1.2v1.2h-1.2zM147.4 135.2h1.2v1.2h-1.2zM144.5 132.1h1.2v1.2h-1.2zM148.2 133.7h1.2v1.2h-1.2zM151.3 131.8h1.2v1.2h-1.2zM152.7 135.9h1.2v1.2h-1.2zM144.1 133.5h1.2v1.2h-1.2zM147.7 134.8h1.2v1.2h-1.2zM150.4 135.0h1.2v1.2h-1.2zM146.0 132.5h1.2v1.2h-1.2zM151.2 127.3h1.2v1.2h-1.2zM146.5 132.8h1.2v1.2h-1.2zM159.5 119.4h1.2v1.2h-1.2zM149.5 135.9h1.2v1.2h-1.2zM147.4 130.2h1.2v1.2h-1.2zM145.7 136.4h1.2v1.2h-1.2zM167.7 121.4h1.2v1.2h-1.2zM144.5 132.6h1.2v1.2h-1.2zM149.5 134.3h1.2v1.2h-1.2zM144.1 127.8h1.2v1.2h-1.2zM152.6 133.0h1.2v1.2h-1.2zM144.3 133.4h1.2v1.2h-1.2zM144.3 115.6h1.2v1.2h-1.2zM144.0 134.4h1.2v1.2h-1.2zM152.5 135.7h1.2v1.2h-1.2zM144.4 136.1h1.2v1.2h-1.2zM144.8 131.8h1.2v1.2h-1.2zM154.5 135.4h1.2v1.2h-1.2zM144.9 127.4h1.2v1.2h-1.2zM147.1 134.0h1.2v1.2h-1.2zM144.5 134.8h1.2v1.2h-1.2zM165.2 135.8h1.2v1.2h-1.2zM145.5 128.0h1.2v1.2h-1.2zM157.1 121.7h1.2v1.2h-1.2zM147.6 116.8h1.2v1.2h-1.2zM149.3 134.4h1.2v1.2h-1.2zM147.5 128.6h1.2v1.2h-1.2zM151.7 135.7h1.2v1.2h-1.2zM145.0 116.5h1.2v1.2h-1.2zM144.4 126.0h1.2v1.2h-1.2zM146.2 134.8h1.2v1.2h-1.2zM145.5 132.6h1.2v1.2h-1.2zM171.8 135.6h1.2v1.2h-1.2zM155.3 134.1h1.2v1.2h-1.2zM144.9 127.9h1.2v1.2h-1.2zM146.2 135.3h1.2v1.2h-1.2zM147.0 125.7h1.2v1.2h-1.2zM155.7 131.2h1.2v1.2h-1.2zM143.8 127.5h1.2v1.2h-1.2zM149.3 122.0h1.2v1.2h-1.2zM162.0 134.1h1.2v1.2h-1.2zM155.1 125.8h1.2v1.2h-1.2zM145.6 133.7h1.2v1.2h-1.2zM146.5 133.8h1.2v1.2h-1.2zM146.6 135.9h1.2v1.2h-1.2zM145.3 121.4h1.2v1.2h-1.2zM146.9 130.2h1.2v1.2h-1.2zM156.9 127.7h1.2v1.2h-1.2zM145.4 120.6h1.2v1.2h-1.2zM153.5 107.0h1.2v1.2h-1.2zM151.6 127.7h1.2v1.2h-1.2zM153.8 134.8h1.2v1.2h-1.2zM150.1 133.6h1.2v1.2h-1.2zM154.7 135.7h1.2v1.2h-1.2zM148.4 134.0h1.2v1.2h-1.2zM154.1 133.9h1.2v1.2h-1.2zM154.9 124.7h1.2v1.2h-1.2zM156.4 135.7h1.2v1.2h-1.2zM160.5 128.0h1.2v1.2h-1.2zM150.5 129.9h1.2v1.2h-1.2zM144.0 123.7h1.2v1.2h-1.2zM148.5 132.7h1.2v1.2h-1.2zM146.2 126.9h1.2v1.2h-1.2zM152.9 123.7h1.2v1.2h-1.2zM145.2 134.0h1.2v1.2h-1.2zM145.4 135.9h1.2v1.2h-1.2zM146.1 136.4h1.2v1.2h-1.2zM153.3 135.0h1.2v1.2h-1.2zM144.2 136.2h1.2v1.2h-1.2zM151.9 135.2h1.2v1.2h-1.2zM147.4 133.3h1.2v1.2h-1.2zM153.5 117.1h1.2v1.2h-1.2zM145.9 130.3h1.2v1.2h-1.2zM157.3 132.6h1.2v1.2h-1.2zM157.6 128.2h1.2v1.2h-1.2zM146.0 123.5h1.2v1.2h-1.2zM148.8 135.9h1.2v1.2h-1.2zM149.0 125.4h1.2v1.2h-1.2zM148.1 132.4h1.2v1.2h-1.2zM147.0 123.1h1.2v1.2h-1.2zM150.3 135.1h1.2v1.2h-1.2zM146.4 133.7h1.2v1.2h-1.2zM162.9 129.1h1.2v1.2h-1.2zM144.5 121.0h1.2v1.2h-1.2zM143.9 130.9h1.2v1.2h-1.2zM147.1 128.6h1.2v1.2h-1.2zM147.1 136.0h1.2v1.2h-1.2zM148.2 125.7h1.2v1.2h-1.2zM153.1 133.8h1.2v1.2h-1.2zM145.2 127.9h1.2v1.2h-1.2zM153.5 135.0h1.2v1.2h-1.2zM156.7 105.7h1.2v1.2h-1.2zM147.1 133.6h1.2v1.2h-1.2zM151.2 119.8h1.2v1.2h-1.2zM145.1 134.3h1.2v1.2h-1.2zM146.1 128.3h1.2v1.2h-1.2zM145.0 131.6h1.2v1.2h-1.2zM147.9 129.6h1.2v1.2h-1.2zM144.6 116.7h1.2v1.2h-1.2zM173.9 126.6h1.2v1.2h-1.2zM144.9 121.3h1.2v1.2h-1.2zM148.5 127.6h1.2v1.2h-1.2zM155.9 133.8h1.2v1.2h-1.2zM159.2 135.1h1.2v1.2h-1.2zM143.9 132.2h1.2v1.2h-1.2zM157.5 122.0h1.2v1.2h-1.2zM162.4 132.1h1.2v1.2h-1.2zM160.0 131.4h1.2v1.2h-1.2zM144.6 130.3h1.2v1.2h-1.2zM153.5 133.1h1.2v1.2h-1.2zM149.3 134.7h1.2v1.2h-1.2zM145.7 133.1h1.2v1.2h-1.2zM148.1 132.6h1.2v1.2h-1.2zM144.3 136.6h1.2v1.2h-1.2zM146.2 128.6h1.2v1.2h-1.2zM152.0 134.9h1.2v1.2h-1.2zM145.5 132.0h1.2v1.2h-1.2zM144.9 130.7h1.2v1.2h-1.2zM157.8 135.2h1.2v1.2h-1.2zM149.0 128.5h1.2v1.2h-1.2zM152.0 128.7h1.2v1.2h-1.2zM151.2 134.6h1.2v1.2h-1.2zM154.7 120.2h1.2v1.2h-1.2zM144.0 118.3h1.2v1.2h-1.2zM147.2 136.0h1.2v1.2h-1.2zM144.1 126.5h1.2v1.2h-1.2zM150.5 135.6h1.2v1.2h-1.2zM147.4 130.1h1.2v1.2h-1.2zM180.1 134.0h1.2v1.2h-1.2zM152.5 134.8h1.2v1.2h-1.2zM145.0 135.5h1.2v1.2h-1.2zM146.9 130.5h1.2v1.2h-1.2zM145.9 135.5h1.2v1.2h-1.2zM145.2 136.0h1.2v1.2h-1.2zM145.0 134.2h1.2v1.2h-1.2zM147.9 135.3h1.2v1.2h-1.2zM147.7 132.9h1.2v1.2h-1.2zM165.5 132.4h1.2v1.2h-1.2zM161.2 132.6h1.2v1.2h-1.2zM145.0 130.9h1.2v1.2h-1.2zM144.7 135.4h1.2v1.2h-1.2zM144.2 128.9h1.2v1.2h-1.2zM164.3 133.3h1.2v1.2h-1.2zM146.3 133.1h1.2v1.2h-1.2zM146.3 129.2h1.2v1.2h-1.2zM146.7 135.6h1.2v1.2h-1.2zM155.8 131.2h1.2v1.2h-1.2zM143.8 124.6h1.2v1.2h-1.2zM151.6 133.8h1.2v1.2h-1.2zM149.7 120.6h1.2v1.2h-1.2zM146.8 133.0h1.2v1.2h-1.2zM145.8 131.5h1.2v1.2h-1.2zM150.3 128.2h1.2v1.2h-1.2zM161.7 135.6h1.2v1.2h-1.2zM146.5 124.5h1.2v1.2h-1.2zM153.1 131.0h1.2v1.2h-1.2zM150.5 134.0h1.2v1.2h-1.2zM161.2 131.5h1.2v1.2h-1.2zM146.8 135.3h1.2v1.2h-1.2zM144.5 122.2h1.2v1.2h-1.2zM153.4 136.4h1.2v1.2h-1.2zM146.1 132.5h1.2v1.2h-1.2zM147.8 133.7h1.2v1.2h-1.2zM157.3 133.9h1.2v1.2h-1.2zM148.3 119.8h1.2v1.2h-1.2zM149.9 132.5h1.2v1.2h-1.2zM146.1 133.5h1.2v1.2h-1.2zM149.4 126.8h1.2v1.2h-1.2zM145.5 133.7h1.2v1.2h-1.2zM146.7 133.7h1.2v1.2h-1.2zM158.4 131.7h1.2v1.2h-1.2zM145.7 134.0h1.2v1.2h-1.2zM154.1 135.5h1.2v1.2h-1.2zM150.8 136.5h1.2v1.2h-1.2zM145.0 136.2h1.2v1.2h-1.2zM153.6 135.6h1.2v1.2h-1.2zM145.3 136.2h1.2v1.2h-1.2zM145.6 128.2h1.2v1.2h-1.2zM151.4 121.3h1.2v1.2h-1.2zM161.4 131.5h1.2v1.2h-1.2zM159.1 136.0h1.2v1.2h-1.2zM159.3 133.0h1.2v1.2h-1.2zM145.0 127.9h1.2v1.2h-1.2zM155.5 133.5h1.2v1.2h-1.2zM144.3 123.5h1.2v1.2h-1.2zM152.2 130.8h1.2v1.2h-1.2zM166.4 136.4h1.2v1.2h-1.2zM144.1 135.8h1.2v1.2h-1.2zM143.8 128.8h1.2v1.2h-1.2zM149.7 135.8h1.2v1.2h-1.2zM144.8 135.3h1.2v1.2h-1.2zM149.4 129.5h1.2v1.2h-1.2zM164.8 133.8h1.2v1.2h-1.2zM167.0 133.0h1.2v1.2h-1.2zM146.7 134.7h1.2v1.2h-1.2zM145.3 113.3h1.2v1.2h-1.2zM175.5 128.8h1.2v1.2h-1.2zM144.9 135.3h1.2v1.2h-1.2zM144.7 133.9h1.2v1.2h-1.2zM151.8 136.2h1.2v1.2h-1.2zM148.3 129.4h1.2v1.2h-1.2zM143.9 132.9h1.2v1.2h-1.2zM153.1 131.2h1.2v1.2h-1.2zM147.3 123.1h1.2v1.2h-1.2zM149.3 134.0h1.2v1.2h-1.2zM146.8 118.4h1.2v1.2h-1.2zM155.5 121.0h1.2v1.2h-1.2zM148.7 135.6h1.2v1.2h-1.2zM144.9 133.5h1.2v1.2h-1.2zM150.8 136.6h1.2v1.2h-1.2zM153.5 126.8h1.2v1.2h-1.2zM148.1 136.6h1.2v1.2h-1.2zM153.4 133.2h1.2v1.2h-1.2zM150.4 131.3h1.2v1.2h-1.2zM151.6 133.3h1.2v1.2h-1.2zM163.1 116.9h1.2v1.2h-1.2zM159.7 130.5h1.2v1.2h-1.2zM146.0 133.6h1.2v1.2h-1.2zM145.6 121.8h1.2v1.2h-1.2zM153.2 126.8h1.2v1.2h-1.2zM154.1 106.9h1.2v1.2h-1.2zM150.7 134.2h1.2v1.2h-1.2zM152.3 134.7h1.2v1.2h-1.2zM149.4 135.5h1.2v1.2h-1.2zM155.5 132.3h1.2v1.2h-1.2zM145.7 120.4h1.2v1.2h-1.2zM144.2 119.7h1.2v1.2h-1.2zM152.2 135.6h1.2v1.2h-1.2zM152.3 131.2h1.2v1.2h-1.2zM158.0 131.0h1.2v1.2h-1.2zM147.1 119.4h1.2v1.2h-1.2zM144.3 127.1h1.2v1.2h-1.2zM144.4 134.5h1.2v1.2h-1.2zM144.4 123.6h1.2v1.2h-1.2zM147.2 128.4h1.2v1.2h-1.2zM145.5 128.3h1.2v1.2h-1.2zM150.0 135.9h1.2v1.2h-1.2zM147.8 128.5h1.2v1.2h-1.2zM145.2 129.9h1.2v1.2h-1.2zM145.7 133.7h1.2v1.2h-1.2zM158.9 118.4h1.2v1.2h-1.2zM180.9 133.1h1.2v1.2h-1.2zM148.8 126.1h1.2v1.2h-1.2zM152.3 132.7h1.2v1.2h-1.2zM155.7 133.4h1.2v1.2h-1.2zM161.8 132.5h1.2v1.2h-1.2zM144.5 127.8h1.2v1.2h-1.2zM144.7 129.4h1.2v1.2h-1.2zM144.0 108.4h1.2v1.2h-1.2zM148.4 128.1h1.2v1.2h-1.2zM144.6 130.2h1.2v1.2h-1.2zM146.6 134.8h1.2v1.2h-1.2zM153.9 136.4h1.2v1.2h-1.2zM147.6 136.0h1.2v1.2h-1.2zM155.2 122.4h1.2v1.2h-1.2zM143.9 132.6h1.2v1.2h-1.2zM147.5 128.6h1.2v1.2h-1.2zM151.6 133.9h1.2v1.2h-1.2zM160.0 135.3h1.2v1.2h-1.2zM144.6 125.9h1.2v1.2h-1.2zM144.5 135.3h1.2v1.2h-1.2zM147.9 134.0h1.2v1.2h-1.2zM144.8 119.8h1.2v1.2h-1.2zM147.6 126.8h1.2v1.2h-1.2zM145.4 121.2h1.2v1.2h-1.2zM145.2 121.6h1.2v1.2h-1.2zM149.4 114.2h1.2v1.2h-1.2zM152.6 130.3h1.2v1.2h-1.2zM148.3 124.4h1.2v1.2h-1.2zM147.2 135.9h1.2v1.2h-1.2zM158.5 126.2h1.2v1.2h-1.2zM150.6 127.9h1.2v1.2h-1.2zM145.3 132.7h1.2v1.2h-1.2zM154.1 115.9h1.2v1.2h-1.2zM159.2 135.5h1.2v1.2h-1.2zM150.7 131.5h1.2v1.2h-1.2zM146.8 135.4h1.2v1.2h-1.2zM144.6 132.6h1.2v1.2h-1.2zM147.8 134.6h1.2v1.2h-1.2zM146.5 131.5h1.2v1.2h-1.2zM152.4 131.0h1.2v1.2h-1.2zM144.8 122.8h1.2v1.2h-1.2zM146.5 116.2h1.2v1.2h-1.2zM167.8 135.6h1.2v1.2h-1.2zM149.0 115.0h1.2v1.2h-1.2zM146.6 131.6h1.2v1.2h-1.2zM146.0 136.4h1.2v1.2h-1.2zM145.1 135.8h1.2v1.2h-1.2zM145.7 130.3h1.2v1.2h-1.2zM148.7 117.8h1.2v1.2h-1.2zM150.7 133.7h1.2v1.2h-1.2zM161.7 130.2h1.2v1.2h-1.2zM148.4 124.0h1.2v1.2h-1.2zM150.4 133.8h1.2v1.2h-1.2zM149.3 134.3h1.2v1.2h-1.2zM164.7 134.8h1.2v1.2h-1.2zM165.5 136.2h1.2v1.2h-1.2zM143.8 131.5h1.2v1.2h-1.2zM145.1 132.1h1.2v1.2h-1.2zM144.5 125.1h1.2v1.2h-1.2zM150.4 129.3h1.2v1.2h-1.2zM159.5 105.9h1.2v1.2h-1.2zM150.5 128.7h1.2v1.2h-1.2zM143.7 136.3h1.2v1.2h-1.2zM147.1 114.6h1.2v1.2h-1.2zM146.0 131.3h1.2v1.2h-1.2zM143.8 133.2h1.2v1.2h-1.2zM157.7 131.0h1.2v1.2h-1.2zM154.2 136.5h1.2v1.2h-1.2zM145.1 135.3h1.2v1.2h-1.2zM154.5 135.9h1.2v1.2h-1.2zM159.9 134.6h1.2v1.2h-1.2zM156.5 132.0h1.2v1.2h-1.2zM146.1 115.1h1.2v1.2h-1.2zM146.8 129.0h1.2v1.2h-1.2zM144.1 125.4h1.2v1.2h-1.2zM167.7 135.9h1.2v1.2h-1.2zM152.0 134.6h1.2v1.2h-1.2zM144.7 133.7h1.2v1.2h-1.2zM150.2 117.2h1.2v1.2h-1.2zM174.5 104.6h1.2v1.2h-1.2zM149.6 129.9h1.2v1.2h-1.2zM144.8 128.4h1.2v1.2h-1.2zM148.5 133.8h1.2v1.2h-1.2zM157.6 134.7h1.2v1.2h-1.2zM144.6 135.5h1.2v1.2h-1.2zM144.7 131.0h1.2v1.2h-1.2zM153.4 135.5h1.2v1.2h-1.2zM147.9 131.2h1.2v1.2h-1.2zM148.7 133.2h1.2v1.2h-1.2zM148.4 136.5h1.2v1.2h-1.2zM144.1 133.1h1.2v1.2h-1.2zM145.3 127.6h1.2v1.2h-1.2zM145.4 125.6h1.2v1.2h-1.2zM145.4 136.0h1.2v1.2h-1.2zM147.6 133.5h1.2v1.2h-1.2zM146.2 127.4h1.2v1.2h-1.2zM145.2 129.6h1.2v1.2h-1.2zM154.6 132.8h1.2v1.2h-1.2zM147.9 120.3h1.2v1.2h-1.2zM149.3 135.3h1.2v1.2h-1.2zM144.1 136.1h1.2v1.2h-1.2zM146.1 136.0h1.2v1.2h-1.2zM150.0 133.1h1.2v1.2h-1.2zM145.9 132.1h1.2v1.2h-1.2zM160.3 134.8h1.2v1.2h-1.2zM144.7 134.3h1.2v1.2h-1.2zM146.1 121.3h1.2v1.2h-1.2zM151.1 133.1h1.2v1.2h-1.2zM144.8 136.3h1.2v1.2h-1.2zM144.5 124.7h1.2v1.2h-1.2zM150.0 135.5h1.2v1.2h-1.2zM149.6 136.2h1.2v1.2h-1.2zM148.0 134.0h1.2v1.2h-1.2zM144.4 128.0h1.2v1.2h-1.2zM151.3 132.1h1.2v1.2h-1.2zM144.8 129.6h1.2v1.2h-1.2zM147.1 129.7h1.2v1.2h-1.2zM144.3 121.8h1.2v1.2h-1.2zM143.7 135.0h1.2v1.2h-1.2zM146.8 135.2h1.2v1.2h-1.2zM144.3 129.2h1.2v1.2h-1.2zM174.4 134.0h1.2v1.2h-1.2zM145.6 129.6h1.2v1.2h-1.2zM145.2 133.4h1.2v1.2h-1.2zM150.7 133.0h1.2v1.2h-1.2zM144.7 136.1h1.2v1.2h-1.2zM148.4 107.0h1.2v1.2h-1.2zM158.9 135.9h1.2v1.2h-1.2zM147.9 132.4h1.2v1.2h-1.2zM145.0 129.6h1.2v1.2h-1.2zM147.8 126.1h1.2v1.2h-1.2zM145.8 119.4h1.2v1.2h-1.2zM153.9 132.5h1.2v1.2h-1.2zM144.6 132.4h1.2v1.2h-1.2zM144.5 129.3h1.2v1.2h-1.2zM150.9 131.1h1.2v1.2h-1.2zM166.3 136.3h1.2v1.2h-1.2zM151.3 126.4h1.2v1.2h-1.2zM144.4 134.1h1.2v1.2h-1.2zM144.0 131.1h1.2v1.2h-1.2zM151.5 133.9h1.2v1.2h-1.2zM150.9 133.7h1.2v1.2h-1.2zM151.2 134.5h1.2v1.2h-1.2zM166.8 132.9h1.2v1.2h-1.2zM143.7 136.0h1.2v1.2h-1.2zM151.5 123.9h1.2v1.2h-1.2zM149.8 135.5h1.2v1.2h-1.2zM156.1 128.6h1.2v1.2h-1.2zM144.4 133.6h1.2v1.2h-1.2zM150.4 136.6h1.2v1.2h-1.2zM144.0 133.8h1.2v1.2h-1.2zM156.2 101.0h1.2v1.2h-1.2zM146.0 121.4h1.2v1.2h-1.2zM153.0 123.9h1.2v1.2h-1.2zM149.1 114.5h1.2v1.2h-1.2zM149.9 117.9h1.2v1.2h-1.2zM148.7 135.2h1.2v1.2h-1.2zM148.1 132.4h1.2v1.2h-1.2zM146.2 133.6h1.2v1.2h-1.2zM148.0 131.0h1.2v1.2h-1.2zM145.2 134.5h1.2v1.2h-1.2zM147.9 132.2h1.2v1.2h-1.2zM147.0 129.7h1.2v1.2h-1.2zM144.9 131.8h1.2v1.2h-1.2zM145.7 127.3h1.2v1.2h-1.2zM151.0 127.0h1.2v1.2h-1.2zM148.1 134.8h1.2v1.2h-1.2zM159.4 132.1h1.2v1.2h-1.2zM146.5 134.4h1.2v1.2h-1.2zM146.8 128.8h1.2v1.2h-1.2zM154.0 132.4h1.2v1.2h-1.2zM151.6 135.1h1.2v1.2h-1.2zM147.3 133.8h1.2v1.2h-1.2zM145.9 133.8h1.2v1.2h-1.2zM152.2 128.2h1.2v1.2h-1.2zM145.1 134.9h1.2v1.2h-1.2zM153.0 129.9h1.2v1.2h-1.2zM150.5 130.2h1.2v1.2h-1.2zM150.8 134.6h1.2v1.2h-1.2zM144.1 133.8h1.2v1.2h-1.2zM143.9 115.9h1.2v1.2h-1.2zM148.2 129.6h1.2v1.2h-1.2zM164.2 126.3h1.2v1.2h-1.2zM145.3 134.0h1.2v1.2h-1.2zM144.4 126.5h1.2v1.2h-1.2zM151.8 132.4h1.2v1.2h-1.2zM146.5 134.6h1.2v1.2h-1.2zM147.7 128.7h1.2v1.2h-1.2zM157.3 124.6h1.2v1.2h-1.2zM155.9 132.9h1.2v1.2h-1.2zM147.0 134.2h1.2v1.2h-1.2zM165.8 135.3h1.2v1.2h-1.2zM144.7 134.5h1.2v1.2h-1.2zM159.1 124.5h1.2v1.2h-1.2zM146.1 124.5h1.2v1.2h-1.2zM157.1 133.1h1.2v1.2h-1.2zM145.0 127.2h1.2v1.2h-1.2zM146.5 135.8h1.2v1.2h-1.2zM157.8 132.9h1.2v1.2h-1.2zM146.8 130.9h1.2v1.2h-1.2zM145.5 136.5h1.2v1.2h-1.2zM146.7 133.6h1.2v1.2h-1.2zM143.8 133.7h1.2v1.2h-1.2zM152.3 134.0h1.2v1.2h-1.2zM150.6 130.4h1.2v1.2h-1.2zM145.0 136.5h1.2v1.2h-1.2zM150.5 130.6h1.2v1.2h-1.2zM145.8 135.2h1.2v1.2h-1.2zM155.4 121.4h1.2v1.2h-1.2zM145.3 131.0h1.2v1.2h-1.2zM148.9 134.1h1.2v1.2h-1.2zM143.9 134.1h1.2v1.2h-1.2zM149.9 130.8h1.2v1.2h-1.2zM148.0 135.8h1.2v1.2h-1.2zM145.2 134.2h1.2v1.2h-1.2zM147.0 133.7h1.2v1.2h-1.2zM157.7 135.8h1.2v1.2h-1.2zM169.6 134.9h1.2v1.2h-1.2zM155.4 134.8h1.2v1.2h-1.2zM149.0 133.6h1.2v1.2h-1.2zM143.9 126.5h1.2v1.2h-1.2zM153.7 134.6h1.2v1.2h-1.2zM152.7 132.5h1.2v1.2h-1.2zM169.9 136.2h1.2v1.2h-1.2zM146.6 135.0h1.2v1.2h-1.2zM149.6 127.1h1.2v1.2h-1.2zM154.8 131.6h1.2v1.2h-1.2zM146.7 126.4h1.2v1.2h-1.2zM144.4 134.7h1.2v1.2h-1.2zM152.1 132.9h1.2v1.2h-1.2zM173.6 136.0h1.2v1.2h-1.2zM147.4 135.1h1.2v1.2h-1.2zM143.7 136.0h1.2v1.2h-1.2zM144.3 133.7h1.2v1.2h-1.2zM147.1 132.1h1.2v1.2h-1.2zM145.8 128.9h1.2v1.2h-1.2zM148.1 111.2h1.2v1.2h-1.2zM144.8 132.1h1.2v1.2h-1.2zM147.8 133.7h1.2v1.2h-1.2zM155.6 135.1h1.2v1.2h-1.2zM156.4 133.8h1.2v1.2h-1.2zM146.2 130.6h1.2v1.2h-1.2zM148.7 134.5h1.2v1.2h-1.2zM144.2 116.9h1.2v1.2h-1.2zM146.5 135.8h1.2v1.2h-1.2zM150.2 131.8h1.2v1.2h-1.2zM146.1 134.1h1.2v1.2h-1.2zM155.0 134.0h1.2v1.2h-1.2zM147.0 116.7h1.2v1.2h-1.2zM146.4 133.3h1.2v1.2h-1.2zM144.8 129.7h1.2v1.2h-1.2zM150.3 132.9h1.2v1.2h-1.2zM146.9 134.9h1.2v1.2h-1.2zM153.1 132.7h1.2v1.2h-1.2zM154.5 133.6h1.2v1.2h-1.2zM151.7 136.4h1.2v1.2h-1.2zM145.2 116.1h1.2v1.2h-1.2zM150.6 129.5h1.2v1.2h-1.2zM147.9 132.5h1.2v1.2h-1.2zM145.0 135.4h1.2v1.2h-1.2zM150.0 129.1h1.2v1.2h-1.2zM145.5 130.0h1.2v1.2h-1.2zM144.6 130.6h1.2v1.2h-1.2zM144.8 132.1h1.2v1.2h-1.2zM146.0 131.5h1.2v1.2h-1.2zM144.6 132.4h1.2v1.2h-1.2zM149.5 135.7h1.2v1.2h-1.2zM145.9 129.4h1.2v1.2h-1.2zM148.5 130.5h1.2v1.2h-1.2zM152.8 131.2h1.2v1.2h-1.2zM145.2 132.9h1.2v1.2h-1.2zM154.4 131.3h1.2v1.2h-1.2zM152.1 133.7h1.2v1.2h-1.2zM147.3 114.4h1.2v1.2h-1.2zM154.1 129.9h1.2v1.2h-1.2zM144.4 130.6h1.2v1.2h-1.2zM143.9 119.4h1.2v1.2h-1.2zM165.3 128.3h1.2v1.2h-1.2zM145.6 124.8h1.2v1.2h-1.2zM144.9 125.5h1.2v1.2h-1.2zM148.1 136.5h1.2v1.2h-1.2zM157.0 132.9h1.2v1.2h-1.2zM154.4 129.2h1.2v1.2h-1.2zM148.3 124.0h1.2v1.2h-1.2zM145.1 122.1h1.2v1.2h-1.2zM146.2 136.4h1.2v1.2h-1.2zM146.2 136.2h1.2v1.2h-1.2zM144.2 130.4h1.2v1.2h-1.2zM144.5 135.5h1.2v1.2h-1.2zM145.8 134.5h1.2v1.2h-1.2zM158.9 121.7h1.2v1.2h-1.2zM156.0 107.5h1.2v1.2h-1.2zM147.2 126.5h1.2v1.2h-1.2zM145.7 120.1h1.2v1.2h-1.2zM153.7 128.3h1.2v1.2h-1.2zM145.3 136.0h1.2v1.2h-1.2zM159.3 131.5h1.2v1.2h-1.2zM149.4 124.1h1.2v1.2h-1.2zM144.6 129.0h1.2v1.2h-1.2zM147.5 126.8h1.2v1.2h-1.2zM147.4 135.2h1.2v1.2h-1.2zM162.6 134.5h1.2v1.2h-1.2zM151.9 125.3h1.2v1.2h-1.2zM145.4 129.1h1.2v1.2h-1.2zM146.8 135.0h1.2v1.2h-1.2zM145.2 117.1h1.2v1.2h-1.2zM146.5 132.1h1.2v1.2h-1.2zM147.9 136.4h1.2v1.2h-1.2zM152.2 127.9h1.2v1.2h-1.2zM156.3 133.8h1.2v1.2h-1.2zM145.1 133.9h1.2v1.2h-1.2zM151.7 129.8h1.2v1.2h-1.2zM146.9 131.9h1.2v1.2h-1.2zM144.7 120.7h1.2v1.2h-1.2zM147.6 132.1h1.2v1.2h-1.2zM153.0 135.2h1.2v1.2h-1.2zM151.4 133.8h1.2v1.2h-1.2zM153.8 136.0h1.2v1.2h-1.2zM145.7 130.2h1.2v1.2h-1.2zM147.7 133.6h1.2v1.2h-1.2zM148.9 135.0h1.2v1.2h-1.2zM147.2 136.6h1.2v1.2h-1.2zM153.4 134.7h1.2v1.2h-1.2zM154.4 131.5h1.2v1.2h-1.2zM149.3 130.4h1.2v1.2h-1.2zM144.5 127.1h1.2v1.2h-1.2zM145.8 124.0h1.2v1.2h-1.2zM153.0 129.4h1.2v1.2h-1.2zM153.9 133.0h1.2v1.2h-1.2zM150.5 117.3h1.2v1.2h-1.2zM145.0 135.9h1.2v1.2h-1.2zM146.9 132.1h1.2v1.2h-1.2zM144.7 135.0h1.2v1.2h-1.2zM155.9 133.5h1.2v1.2h-1.2zM144.7 135.3h1.2v1.2h-1.2zM156.0 136.1h1.2v1.2h-1.2zM152.9 134.8h1.2v1.2h-1.2zM152.0 134.9h1.2v1.2h-1.2zM169.5 136.6h1.2v1.2h-1.2zM181.6 136.1h1.2v1.2h-1.2zM144.3 133.1h1.2v1.2h-1.2zM155.7 134.8h1.2v1.2h-1.2zM147.2 133.0h1.2v1.2h-1.2zM148.9 133.5h1.2v1.2h-1.2zM147.4 134.6h1.2v1.2h-1.2zM158.6 135.5h1.2v1.2h-1.2zM153.0 136.4h1.2v1.2h-1.2zM158.4 133.8h1.2v1.2h-1.2zM146.1 134.7h1.2v1.2h-1.2zM162.5 136.3h1.2v1.2h-1.2zM169.7 131.7h1.2v1.2h-1.2zM144.4 135.9h1.2v1.2h-1.2zM145.0 135.9h1.2v1.2h-1.2zM145.0 135.0h1.2v1.2h-1.2zM147.8 135.8h1.2v1.2h-1.2zM152.5 135.5h1.2v1.2h-1.2zM165.8 133.6h1.2v1.2h-1.2zM145.4 136.0h1.2v1.2h-1.2zM143.8 135.7h1.2v1.2h-1.2zM145.3 133.8h1.2v1.2h-1.2zM165.3 123.6h1.2v1.2h-1.2zM147.1 136.5h1.2v1.2h-1.2zM163.9 135.3h1.2v1.2h-1.2zM181.8 135.4h1.2v1.2h-1.2zM149.0 136.4h1.2v1.2h-1.2zM185.8 134.9h1.2v1.2h-1.2zM152.0 135.2h1.2v1.2h-1.2zM164.6 132.4h1.2v1.2h-1.2zM152.9 136.1h1.2v1.2h-1.2zM151.1 131.3h1.2v1.2h-1.2zM151.2 134.0h1.2v1.2h-1.2zM155.4 135.1h1.2v1.2h-1.2zM155.9 135.9h1.2v1.2h-1.2zM155.3 131.8h1.2v1.2h-1.2zM144.9 135.5h1.2v1.2h-1.2zM174.0 127.5h1.2v1.2h-1.2zM143.9 134.3h1.2v1.2h-1.2zM158.0 132.2h1.2v1.2h-1.2zM152.8 136.3h1.2v1.2h-1.2zM148.8 133.6h1.2v1.2h-1.2zM162.3 136.1h1.2v1.2h-1.2zM158.4 134.1h1.2v1.2h-1.2zM159.0 136.5h1.2v1.2h-1.2zM152.0 135.7h1.2v1.2h-1.2zM156.7 135.6h1.2v1.2h-1.2zM145.7 134.0h1.2v1.2h-1.2zM148.5 132.9h1.2v1.2h-1.2zM148.9 134.7h1.2v1.2h-1.2zM167.2 136.3h1.2v1.2h-1.2zM162.4 136.4h1.2v1.2h-1.2zM182.9 136.5h1.2v1.2h-1.2zM162.1 135.5h1.2v1.2h-1.2zM146.5 135.4h1.2v1.2h-1.2zM153.6 135.3h1.2v1.2h-1.2zM145.6 134.8h1.2v1.2h-1.2zM148.8 128.5h1.2v1.2h-1.2zM150.6 135.2h1.2v1.2h-1.2zM147.4 128.4h1.2v1.2h-1.2zM149.2 134.1h1.2v1.2h-1.2zM169.2 135.4h1.2v1.2h-1.2zM163.8 135.8h1.2v1.2h-1.2zM145.4 136.5h1.2v1.2h-1.2zM152.2 131.7h1.2v1.2h-1.2zM146.9 135.2h1.2v1.2h-1.2zM164.2 135.8h1.2v1.2h-1.2zM146.1 134.9h1.2v1.2h-1.2zM151.6 130.0h1.2v1.2h-1.2zM176.2 136.0h1.2v1.2h-1.2zM155.4 135.3h1.2v1.2h-1.2zM144.2 135.2h1.2v1.2h-1.2zM178.9 135.7h1.2v1.2h-1.2zM156.3 133.7h1.2v1.2h-1.2zM144.6 130.5h1.2v1.2h-1.2zM145.4 135.7h1.2v1.2h-1.2zM161.6 136.6h1.2v1.2h-1.2zM150.4 136.3h1.2v1.2h-1.2zM152.8 136.6h1.2v1.2h-1.2zM146.0 136.0h1.2v1.2h-1.2zM144.9 136.4h1.2v1.2h-1.2zM146.8 134.9h1.2v1.2h-1.2zM145.8 132.5h1.2v1.2h-1.2zM151.4 135.9h1.2v1.2h-1.2zM147.6 132.3h1.2v1.2h-1.2zM144.4 133.4h1.2v1.2h-1.2zM145.2 129.7h1.2v1.2h-1.2zM151.2 134.4h1.2v1.2h-1.2zM172.1 136.3h1.2v1.2h-1.2zM144.7 133.8h1.2v1.2h-1.2zM156.3 133.6h1.2v1.2h-1.2zM148.3 135.0h1.2v1.2h-1.2zM146.7 135.2h1.2v1.2h-1.2zM148.4 134.5h1.2v1.2h-1.2zM148.8 135.8h1.2v1.2h-1.2zM158.4 136.4h1.2v1.2h-1.2zM166.7 135.0h1.2v1.2h-1.2zM147.4 136.3h1.2v1.2h-1.2zM153.8 134.9h1.2v1.2h-1.2zM161.8 135.5h1.2v1.2h-1.2zM151.3 131.3h1.2v1.2h-1.2zM148.3 127.2h1.2v1.2h-1.2zM175.5 125.6h1.2v1.2h-1.2zM184.6 135.9h1.2v1.2h-1.2zM167.7 134.4h1.2v1.2h-1.2zM147.0 122.4h1.2v1.2h-1.2zM158.6 132.7h1.2v1.2h-1.2zM155.3 136.4h1.2v1.2h-1.2zM172.1 136.1h1.2v1.2h-1.2zM148.0 134.3h1.2v1.2h-1.2zM146.8 135.1h1.2v1.2h-1.2zM161.5 136.4h1.2v1.2h-1.2zM159.1 136.3h1.2v1.2h-1.2zM152.9 134.1h1.2v1.2h-1.2zM160.3 136.5h1.2v1.2h-1.2zM146.7 128.9h1.2v1.2h-1.2zM150.8 135.3h1.2v1.2h-1.2zM150.4 133.8h1.2v1.2h-1.2zM162.9 134.1h1.2v1.2h-1.2zM151.0 134.6h1.2v1.2h-1.2zM154.0 136.1h1.2v1.2h-1.2zM186.2 128.6h1.2v1.2h-1.2zM165.1 125.0h1.2v1.2h-1.2zM152.6 132.3h1.2v1.2h-1.2zM147.6 133.4h1.2v1.2h-1.2zM161.6 130.0h1.2v1.2h-1.2zM169.2 131.6h1.2v1.2h-1.2zM148.2 132.9h1.2v1.2h-1.2zM152.9 135.7h1.2v1.2h-1.2zM150.3 132.8h1.2v1.2h-1.2zM170.1 132.2h1.2v1.2h-1.2zM159.5 136.2h1.2v1.2h-1.2zM146.1 134.6h1.2v1.2h-1.2zM147.1 135.6h1.2v1.2h-1.2zM145.3 136.2h1.2v1.2h-1.2zM161.7 136.0h1.2v1.2h-1.2zM170.5 135.7h1.2v1.2h-1.2zM170.6 135.7h1.2v1.2h-1.2zM148.1 135.4h1.2v1.2h-1.2zM143.9 135.2h1.2v1.2h-1.2zM150.5 136.6h1.2v1.2h-1.2zM171.9 135.5h1.2v1.2h-1.2zM143.7 128.9h1.2v1.2h-1.2zM147.4 135.9h1.2v1.2h-1.2zM144.1 136.4h1.2v1.2h-1.2zM161.3 134.5h1.2v1.2h-1.2zM153.7 135.9h1.2v1.2h-1.2zM148.5 128.3h1.2v1.2h-1.2zM150.3 125.8h1.2v1.2h-1.2zM174.7 136.3h1.2v1.2h-1.2zM170.6 136.5h1.2v1.2h-1.2zM161.4 132.7h1.2v1.2h-1.2zM160.7 134.7h1.2v1.2h-1.2zM167.6 136.2h1.2v1.2h-1.2zM154.8 135.9h1.2v1.2h-1.2zM151.0 136.1h1.2v1.2h-1.2zM161.3 134.6h1.2v1.2h-1.2zM165.2 134.2h1.2v1.2h-1.2zM156.7 130.5h1.2v1.2h-1.2zM167.6 134.6h1.2v1.2h-1.2zM149.3 130.4h1.2v1.2h-1.2zM150.3 136.3h1.2v1.2h-1.2zM149.5 133.7h1.2v1.2h-1.2zM181.9 134.1h1.2v1.2h-1.2zM159.2 130.0h1.2v1.2h-1.2zM165.1 135.2h1.2v1.2h-1.2zM152.5 133.2h1.2v1.2h-1.2zM149.2 136.3h1.2v1.2h-1.2zM157.5 132.7h1.2v1.2h-1.2zM147.8 133.9h1.2v1.2h-1.2zM175.5 136.3h1.2v1.2h-1.2zM145.8 135.0h1.2v1.2h-1.2zM149.5 129.5h1.2v1.2h-1.2zM167.7 132.9h1.2v1.2h-1.2zM157.9 136.1h1.2v1.2h-1.2zM194.6 136.1h1.2v1.2h-1.2zM144.8 135.2h1.2v1.2h-1.2zM144.0 135.0h1.2v1.2h-1.2zM151.3 129.3h1.2v1.2h-1.2zM151.3 132.1h1.2v1.2h-1.2zM165.3 134.5h1.2v1.2h-1.2zM147.6 135.7h1.2v1.2h-1.2zM153.3 135.4h1.2v1.2h-1.2zM158.5 134.9h1.2v1.2h-1.2zM149.3 134.4h1.2v1.2h-1.2zM154.6 135.6h1.2v1.2h-1.2zM143.9 136.4h1.2v1.2h-1.2zM144.5 135.3h1.2v1.2h-1.2zM169.5 133.8h1.2v1.2h-1.2zM191.9 132.3h1.2v1.2h-1.2zM156.3 134.5h1.2v1.2h-1.2zM143.9 135.5h1.2v1.2h-1.2zM148.0 134.3h1.2v1.2h-1.2zM144.7 134.7h1.2v1.2h-1.2zM150.4 135.0h1.2v1.2h-1.2zM151.1 136.3h1.2v1.2h-1.2zM162.4 132.8h1.2v1.2h-1.2zM156.7 136.3h1.2v1.2h-1.2zM156.7 131.7h1.2v1.2h-1.2zM184.6 136.5h1.2v1.2h-1.2zM173.7 134.0h1.2v1.2h-1.2zM148.3 130.6h1.2v1.2h-1.2zM168.6 131.2h1.2v1.2h-1.2zM147.8 134.6h1.2v1.2h-1.2zM150.5 135.8h1.2v1.2h-1.2zM164.1 134.3h1.2v1.2h-1.2zM149.5 134.7h1.2v1.2h-1.2zM181.3 134.6h1.2v1.2h-1.2zM178.6 134.6h1.2v1.2h-1.2zM145.3 135.1h1.2v1.2h-1.2zM155.2 133.5h1.2v1.2h-1.2zM193.1 134.3h1.2v1.2h-1.2zM153.0 134.2h1.2v1.2h-1.2zM154.6 133.7h1.2v1.2h-1.2zM185.6 136.6h1.2v1.2h-1.2zM149.2 131.6h1.2v1.2h-1.2zM144.6 132.9h1.2v1.2h-1.2zM144.2 134.1h1.2v1.2h-1.2zM166.7 136.0h1.2v1.2h-1.2zM150.6 136.0h1.2v1.2h-1.2zM161.1 134.8h1.2v1.2h-1.2zM157.0 135.7h1.2v1.2h-1.2zM156.3 129.3h1.2v1.2h-1.2zM165.2 129.4h1.2v1.2h-1.2zM147.8 134.9h1.2v1.2h-1.2zM150.7 135.6h1.2v1.2h-1.2zM166.9 136.1h1.2v1.2h-1.2zM155.4 133.1h1.2v1.2h-1.2zM182.8 136.6h1.2v1.2h-1.2zM148.2 135.0h1.2v1.2h-1.2zM183.0 136.2h1.2v1.2h-1.2zM169.9 135.4h1.2v1.2h-1.2zM155.0 130.3h1.2v1.2h-1.2zM144.7 135.7h1.2v1.2h-1.2zM146.1 136.3h1.2v1.2h-1.2zM148.9 133.7h1.2v1.2h-1.2zM156.1 136.3h1.2v1.2h-1.2zM166.7 134.9h1.2v1.2h-1.2zM145.9 132.5h1.2v1.2h-1.2zM168.2 136.0h1.2v1.2h-1.2zM183.7 132.6h1.2v1.2h-1.2zM147.4 136.6h1.2v1.2h-1.2zM172.5 132.4h1.2v1.2h-1.2zM145.2 133.1h1.2v1.2h-1.2zM164.8 134.2h1.2v1.2h-1.2zM169.2 126.7h1.2v1.2h-1.2zM149.4 132.3h1.2v1.2h-1.2zM179.9 135.7h1.2v1.2h-1.2zM160.1 133.9h1.2v1.2h-1.2zM170.6 134.6h1.2v1.2h-1.2zM148.3 135.9h1.2v1.2h-1.2zM154.9 136.3h1.2v1.2h-1.2zM171.7 131.4h1.2v1.2h-1.2zM147.7 133.8h1.2v1.2h-1.2zM159.6 136.3h1.2v1.2h-1.2zM165.2 133.1h1.2v1.2h-1.2zM148.9 136.4h1.2v1.2h-1.2zM148.4 133.1h1.2v1.2h-1.2zM152.7 132.6h1.2v1.2h-1.2zM146.2 136.3h1.2v1.2h-1.2zM149.8 131.6h1.2v1.2h-1.2zM146.2 136.4h1.2v1.2h-1.2zM163.6 136.4h1.2v1.2h-1.2zM159.4 136.4h1.2v1.2h-1.2zM147.8 134.0h1.2v1.2h-1.2zM173.2 135.3h1.2v1.2h-1.2zM152.2 136.5h1.2v1.2h-1.2zM149.6 135.9h1.2v1.2h-1.2zM165.9 133.6h1.2v1.2h-1.2zM165.6 134.8h1.2v1.2h-1.2zM160.8 136.3h1.2v1.2h-1.2zM150.6 135.8h1.2v1.2h-1.2zM148.4 133.4h1.2v1.2h-1.2zM147.1 135.7h1.2v1.2h-1.2zM148.4 131.9h1.2v1.2h-1.2zM158.2 135.0h1.2v1.2h-1.2zM150.5 130.6h1.2v1.2h-1.2zM183.7 135.2h1.2v1.2h-1.2zM155.6 131.9h1.2v1.2h-1.2zM147.9 135.9h1.2v1.2h-1.2zM145.3 134.9h1.2v1.2h-1.2zM164.6 136.2h1.2v1.2h-1.2zM151.8 125.5h1.2v1.2h-1.2zM153.1 135.5h1.2v1.2h-1.2zM169.8 131.3h1.2v1.2h-1.2zM150.4 136.3h1.2v1.2h-1.2zM158.1 133.4h1.2v1.2h-1.2zM180.3 134.0h1.2v1.2h-1.2zM149.0 134.9h1.2v1.2h-1.2zM148.5 135.2h1.2v1.2h-1.2zM152.7 130.8h1.2v1.2h-1.2zM177.4 130.4h1.2v1.2h-1.2zM153.0 128.7h1.2v1.2h-1.2zM145.8 130.6h1.2v1.2h-1.2zM158.3 131.7h1.2v1.2h-1.2zM151.3 125.4h1.2v1.2h-1.2zM144.1 132.1h1.2v1.2h-1.2zM168.1 135.5h1.2v1.2h-1.2zM168.8 136.0h1.2v1.2h-1.2zM163.6 135.1h1.2v1.2h-1.2zM151.3 136.1h1.2v1.2h-1.2zM166.6 133.5h1.2v1.2h-1.2zM145.0 127.5h1.2v1.2h-1.2zM147.3 135.5h1.2v1.2h-1.2zM151.3 134.6h1.2v1.2h-1.2zM175.2 129.7h1.2v1.2h-1.2zM158.0 135.5h1.2v1.2h-1.2zM145.3 136.4h1.2v1.2h-1.2zM154.1 134.5h1.2v1.2h-1.2zM152.2 127.0h1.2v1.2h-1.2zM151.3 135.6h1.2v1.2h-1.2zM151.4 136.2h1.2v1.2h-1.2zM183.6 134.5h1.2v1.2h-1.2zM154.9 135.3h1.2v1.2h-1.2zM147.8 135.7h1.2v1.2h-1.2zM153.4 135.2h1.2v1.2h-1.2zM174.0 136.0h1.2v1.2h-1.2zM144.5 136.2h1.2v1.2h-1.2zM149.8 133.0h1.2v1.2h-1.2zM175.1 136.0h1.2v1.2h-1.2zM165.3 135.2h1.2v1.2h-1.2zM154.7 134.8h1.2v1.2h-1.2zM144.3 136.4h1.2v1.2h-1.2zM159.4 133.8h1.2v1.2h-1.2zM150.5 130.6h1.2v1.2h-1.2zM168.1 135.7h1.2v1.2h-1.2zM144.7 134.7h1.2v1.2h-1.2zM158.8 136.0h1.2v1.2h-1.2zM144.4 135.0h1.2v1.2h-1.2zM144.2 133.4h1.2v1.2h-1.2zM157.7 135.8h1.2v1.2h-1.2zM152.1 136.0h1.2v1.2h-1.2zM146.6 136.1h1.2v1.2h-1.2zM167.8 135.2h1.2v1.2h-1.2zM161.6 135.6h1.2v1.2h-1.2zM167.1 134.4h1.2v1.2h-1.2zM158.8 135.4h1.2v1.2h-1.2zM155.5 136.1h1.2v1.2h-1.2zM195.6 134.0h1.2v1.2h-1.2zM154.5 134.2h1.2v1.2h-1.2zM145.2 135.6h1.2v1.2h-1.2zM147.4 132.2h1.2v1.2h-1.2zM143.9 135.2h1.2v1.2h-1.2zM172.6 133.0h1.2v1.2h-1.2zM161.8 135.7h1.2v1.2h-1.2zM147.5 133.7h1.2v1.2h-1.2zM148.8 133.5h1.2v1.2h-1.2zM149.8 133.2h1.2v1.2h-1.2zM155.8 132.6h1.2v1.2h-1.2zM164.1 126.4h1.2v1.2h-1.2zM143.9 131.6h1.2v1.2h-1.2zM144.1 134.7h1.2v1.2h-1.2zM150.7 133.1h1.2v1.2h-1.2zM149.1 136.0h1.2v1.2h-1.2zM165.6 134.7h1.2v1.2h-1.2zM163.8 135.0h1.2v1.2h-1.2zM144.2 133.1h1.2v1.2h-1.2zM147.2 135.1h1.2v1.2h-1.2zM143.7 135.9h1.2v1.2h-1.2zM159.3 133.2h1.2v1.2h-1.2zM158.1 135.2h1.2v1.2h-1.2zM162.5 134.0h1.2v1.2h-1.2zM147.0 134.8h1.2v1.2h-1.2zM156.7 133.5h1.2v1.2h-1.2zM146.9 135.7h1.2v1.2h-1.2zM149.7 136.4h1.2v1.2h-1.2zM149.8 133.5h1.2v1.2h-1.2zM156.0 136.1h1.2v1.2h-1.2zM162.5 136.3h1.2v1.2h-1.2zM163.5 136.2h1.2v1.2h-1.2zM145.2 135.9h1.2v1.2h-1.2zM154.0 135.9h1.2v1.2h-1.2zM174.4 130.0h1.2v1.2h-1.2zM148.5 133.3h1.2v1.2h-1.2zM160.7 134.6h1.2v1.2h-1.2zM147.9 129.5h1.2v1.2h-1.2zM188.4 136.6h1.2v1.2h-1.2zM149.4 135.7h1.2v1.2h-1.2zM146.9 135.3h1.2v1.2h-1.2zM176.3 136.5h1.2v1.2h-1.2zM169.5 135.7h1.2v1.2h-1.2zM143.9 131.1h1.2v1.2h-1.2zM148.2 136.0h1.2v1.2h-1.2zM145.5 135.5h1.2v1.2h-1.2zM145.5 136.1h1.2v1.2h-1.2zM147.8 134.5h1.2v1.2h-1.2zM152.1 135.7h1.2v1.2h-1.2zM154.3 133.1h1.2v1.2h-1.2zM162.1 135.6h1.2v1.2h-1.2zM179.3 132.9h1.2v1.2h-1.2zM155.5 135.1h1.2v1.2h-1.2zM149.4 136.3h1.2v1.2h-1.2zM174.6 134.4h1.2v1.2h-1.2zM145.2 130.4h1.2v1.2h-1.2zM174.8 136.5h1.2v1.2h-1.2zM160.9 136.0h1.2v1.2h-1.2zM154.6 132.3h1.2v1.2h-1.2zM149.9 135.0h1.2v1.2h-1.2zM159.3 136.1h1.2v1.2h-1.2zM157.7 135.3h1.2v1.2h-1.2zM153.8 133.7h1.2v1.2h-1.2zM144.3 135.8h1.2v1.2h-1.2zM145.5 136.2h1.2v1.2h-1.2zM154.4 136.1h1.2v1.2h-1.2zM166.3 136.4h1.2v1.2h-1.2zM157.6 131.9h1.2v1.2h-1.2zM145.6 136.0h1.2v1.2h-1.2zM164.3 135.1h1.2v1.2h-1.2zM182.0 135.6h1.2v1.2h-1.2zM150.9 129.1h1.2v1.2h-1.2zM149.7 128.5h1.2v1.2h-1.2zM175.3 136.1h1.2v1.2h-1.2zM155.0 129.9h1.2v1.2h-1.2zM145.5 132.1h1.2v1.2h-1.2zM164.9 133.3h1.2v1.2h-1.2zM156.8 136.3h1.2v1.2h-1.2zM189.0 136.3h1.2v1.2h-1.2zM165.5 133.5h1.2v1.2h-1.2zM149.2 133.9h1.2v1.2h-1.2zM151.2 133.3h1.2v1.2h-1.2zM144.3 130.2h1.2v1.2h-1.2zM150.6 132.7h1.2v1.2h-1.2zM152.8 132.6h1.2v1.2h-1.2zM148.8 134.7h1.2v1.2h-1.2zM144.1 135.0h1.2v1.2h-1.2zM144.9 131.9h1.2v1.2h-1.2zM159.8 135.3h1.2v1.2h-1.2zM195.9 129.6h1.2v1.2h-1.2zM188.5 136.4h1.2v1.2h-1.2zM161.1 133.5h1.2v1.2h-1.2zM157.0 136.6h1.2v1.2h-1.2zM180.4 135.2h1.2v1.2h-1.2zM156.6 132.6h1.2v1.2h-1.2zM148.3 136.5h1.2v1.2h-1.2zM180.3 135.9h1.2v1.2h-1.2zM144.3 136.3h1.2v1.2h-1.2zM183.6 136.0h1.2v1.2h-1.2zM146.0 131.2h1.2v1.2h-1.2zM159.3 134.5h1.2v1.2h-1.2zM145.7 135.3h1.2v1.2h-1.2zM185.4 136.6h1.2v1.2h-1.2zM151.5 136.5h1.2v1.2h-1.2zM149.3 129.3h1.2v1.2h-1.2zM169.9 133.5h1.2v1.2h-1.2zM144.3 133.8h1.2v1.2h-1.2zM153.4 135.0h1.2v1.2h-1.2zM145.9 134.9h1.2v1.2h-1.2zM166.8 136.3h1.2v1.2h-1.2zM173.5 135.3h1.2v1.2h-1.2zM148.1 136.0h1.2v1.2h-1.2zM152.5 134.1h1.2v1.2h-1.2zM155.7 131.4h1.2v1.2h-1.2zM153.9 134.9h1.2v1.2h-1.2zM155.3 136.6h1.2v1.2h-1.2zM149.4 135.7h1.2v1.2h-1.2zM145.6 135.3h1.2v1.2h-1.2zM144.2 130.6h1.2v1.2h-1.2zM153.1 131.6h1.2v1.2h-1.2zM160.7 133.5h1.2v1.2h-1.2zM164.0 135.7h1.2v1.2h-1.2zM162.3 136.1h1.2v1.2h-1.2zM155.2 134.5h1.2v1.2h-1.2zM165.0 136.2h1.2v1.2h-1.2zM149.7 132.5h1.2v1.2h-1.2zM167.0 127.5h1.2v1.2h-1.2zM145.5 136.0h1.2v1.2h-1.2zM145.3 133.5h1.2v1.2h-1.2zM163.2 134.1h1.2v1.2h-1.2zM165.3 134.9h1.2v1.2h-1.2zM155.5 130.6h1.2v1.2h-1.2zM158.6 134.1h1.2v1.2h-1.2zM156.4 135.0h1.2v1.2h-1.2zM163.9 134.6h1.2v1.2h-1.2zM145.7 135.3h1.2v1.2h-1.2zM151.5 135.3h1.2v1.2h-1.2zM155.4 135.5h1.2v1.2h-1.2zM150.8 135.3h1.2v1.2h-1.2zM150.3 128.1h1.2v1.2h-1.2zM145.1 136.6h1.2v1.2h-1.2zM161.9 135.4h1.2v1.2h-1.2zM152.2 134.5h1.2v1.2h-1.2zM150.2 136.0h1.2v1.2h-1.2zM143.9 131.7h1.2v1.2h-1.2zM183.6 135.8h1.2v1.2h-1.2zM152.6 135.7h1.2v1.2h-1.2zM144.6 131.3h1.2v1.2h-1.2zM169.5 135.9h1.2v1.2h-1.2zM147.9 133.8h1.2v1.2h-1.2zM166.4 135.1h1.2v1.2h-1.2zM150.7 136.0h1.2v1.2h-1.2zM166.5 131.9h1.2v1.2h-1.2zM171.5 136.3h1.2v1.2h-1.2zM156.5 126.6h1.2v1.2h-1.2zM161.6 135.1h1.2v1.2h-1.2zM145.9 136.5h1.2v1.2h-1.2zM162.5 136.4h1.2v1.2h-1.2zM167.3 134.0h1.2v1.2h-1.2zM126.7 129.6h1.2v1.2h-1.2zM113.2 133.6h1.2v1.2h-1.2zM130.2 133.8h1.2v1.2h-1.2zM127.3 135.7h1.2v1.2h-1.2zM113.5 132.4h1.2v1.2h-1.2zM130.0 135.8h1.2v1.2h-1.2zM128.1 133.9h1.2v1.2h-1.2zM128.3 134.8h1.2v1.2h-1.2zM119.8 136.0h1.2v1.2h-1.2zM122.5 135.3h1.2v1.2h-1.2zM111.9 127.0h1.2v1.2h-1.2zM128.3 133.6h1.2v1.2h-1.2zM130.1 134.9h1.2v1.2h-1.2zM124.5 133.4h1.2v1.2h-1.2zM128.1 136.5h1.2v1.2h-1.2zM130.0 134.0h1.2v1.2h-1.2zM129.7 135.4h1.2v1.2h-1.2zM124.6 129.3h1.2v1.2h-1.2zM126.1 135.7h1.2v1.2h-1.2zM125.1 135.6h1.2v1.2h-1.2zM120.9 136.1h1.2v1.2h-1.2zM128.9 134.8h1.2v1.2h-1.2zM115.2 136.0h1.2v1.2h-1.2zM129.5 136.2h1.2v1.2h-1.2zM129.3 135.3h1.2v1.2h-1.2zM127.6 132.1h1.2v1.2h-1.2zM127.5 134.6h1.2v1.2h-1.2zM127.6 131.9h1.2v1.2h-1.2zM115.5 134.8h1.2v1.2h-1.2zM114.2 135.7h1.2v1.2h-1.2zM105.8 134.2h1.2v1.2h-1.2zM123.4 135.1h1.2v1.2h-1.2zM128.8 136.1h1.2v1.2h-1.2zM116.6 135.2h1.2v1.2h-1.2zM123.0 134.6h1.2v1.2h-1.2zM126.0 135.9h1.2v1.2h-1.2zM129.6 135.3h1.2v1.2h-1.2zM123.4 134.1h1.2v1.2h-1.2zM130.9 132.7h1.2v1.2h-1.2zM127.2 136.4h1.2v1.2h-1.2zM128.9 135.8h1.2v1.2h-1.2zM119.5 134.1h1.2v1.2h-1.2zM128.3 135.7h1.2v1.2h-1.2zM128.6 135.6h1.2v1.2h-1.2zM128.1 131.6h1.2v1.2h-1.2zM120.7 132.8h1.2v1.2h-1.2zM116.7 133.2h1.2v1.2h-1.2zM130.1 136.5h1.2v1.2h-1.2zM129.7 135.7h1.2v1.2h-1.2zM125.9 131.1h1.2v1.2h-1.2zM125.1 134.8h1.2v1.2h-1.2zM129.1 123.9h1.2v1.2h-1.2zM121.7 135.3h1.2v1.2h-1.2zM130.6 123.9h1.2v1.2h-1.2zM128.9 130.6h1.2v1.2h-1.2zM130.1 133.2h1.2v1.2h-1.2zM128.0 129.6h1.2v1.2h-1.2zM128.6 136.3h1.2v1.2h-1.2zM129.4 131.4h1.2v1.2h-1.2zM105.6 133.3h1.2v1.2h-1.2zM123.4 135.6h1.2v1.2h-1.2zM128.8 136.3h1.2v1.2h-1.2zM103.4 136.5h1.2v1.2h-1.2zM124.7 135.2h1.2v1.2h-1.2zM129.5 134.8h1.2v1.2h-1.2zM113.3 135.7h1.2v1.2h-1.2zM129.7 133.5h1.2v1.2h-1.2zM123.9 134.3h1.2v1.2h-1.2zM129.6 130.0h1.2v1.2h-1.2zM130.1 136.0h1.2v1.2h-1.2zM129.1 134.3h1.2v1.2h-1.2zM126.6 134.0h1.2v1.2h-1.2zM122.4 129.5h1.2v1.2h-1.2zM126.7 136.5h1.2v1.2h-1.2zM119.2 136.5h1.2v1.2h-1.2zM128.4 136.1h1.2v1.2h-1.2zM124.8 131.8h1.2v1.2h-1.2zM130.0 135.5h1.2v1.2h-1.2zM118.4 132.9h1.2v1.2h-1.2zM130.1 132.9h1.2v1.2h-1.2zM120.5 134.9h1.2v1.2h-1.2zM129.8 133.2h1.2v1.2h-1.2zM128.4 136.1h1.2v1.2h-1.2zM129.7 135.0h1.2v1.2h-1.2zM130.0 135.1h1.2v1.2h-1.2zM125.6 134.1h1.2v1.2h-1.2zM127.5 131.5h1.2v1.2h-1.2zM130.3 135.3h1.2v1.2h-1.2zM113.1 130.3h1.2v1.2h-1.2zM114.2 132.0h1.2v1.2h-1.2zM125.8 131.7h1.2v1.2h-1.2zM125.3 136.2h1.2v1.2h-1.2zM128.9 136.3h1.2v1.2h-1.2zM117.2 135.4h1.2v1.2h-1.2zM127.4 134.2h1.2v1.2h-1.2zM130.2 132.7h1.2v1.2h-1.2zM120.4 131.6h1.2v1.2h-1.2zM116.9 135.4h1.2v1.2h-1.2zM129.9 132.1h1.2v1.2h-1.2zM123.1 135.1h1.2v1.2h-1.2zM128.1 136.1h1.2v1.2h-1.2zM119.2 134.6h1.2v1.2h-1.2zM119.9 135.3h1.2v1.2h-1.2zM128.3 134.3h1.2v1.2h-1.2zM121.9 129.8h1.2v1.2h-1.2zM128.0 132.9h1.2v1.2h-1.2zM127.5 130.3h1.2v1.2h-1.2zM121.5 134.0h1.2v1.2h-1.2zM127.9 135.6h1.2v1.2h-1.2zM116.7 131.5h1.2v1.2h-1.2zM128.5 136.3h1.2v1.2h-1.2zM129.5 126.0h1.2v1.2h-1.2zM130.6 131.3h1.2v1.2h-1.2zM125.9 134.0h1.2v1.2h-1.2zM125.8 134.9h1.2v1.2h-1.2zM125.5 136.3h1.2v1.2h-1.2zM114.3 136.3h1.2v1.2h-1.2zM129.9 133.1h1.2v1.2h-1.2zM124.2 131.4h1.2v1.2h-1.2zM123.1 128.1h1.2v1.2h-1.2zM130.5 136.6h1.2v1.2h-1.2zM129.1 131.8h1.2v1.2h-1.2zM129.8 134.2h1.2v1.2h-1.2zM121.2 136.1h1.2v1.2h-1.2zM126.0 129.3h1.2v1.2h-1.2zM121.8 135.0h1.2v1.2h-1.2zM126.6 135.6h1.2v1.2h-1.2zM109.6 131.8h1.2v1.2h-1.2zM123.4 135.5h1.2v1.2h-1.2zM122.2 134.5h1.2v1.2h-1.2zM120.4 135.2h1.2v1.2h-1.2zM116.9 132.9h1.2v1.2h-1.2zM126.9 134.0h1.2v1.2h-1.2zM120.1 134.2h1.2v1.2h-1.2zM109.7 136.6h1.2v1.2h-1.2zM115.9 132.6h1.2v1.2h-1.2zM126.5 130.6h1.2v1.2h-1.2zM129.8 135.3h1.2v1.2h-1.2zM122.7 131.1h1.2v1.2h-1.2zM127.8 120.3h1.2v1.2h-1.2zM124.0 136.5h1.2v1.2h-1.2zM130.0 136.3h1.2v1.2h-1.2zM125.3 135.4h1.2v1.2h-1.2zM128.9 134.7h1.2v1.2h-1.2zM130.4 129.0h1.2v1.2h-1.2zM118.9 134.0h1.2v1.2h-1.2zM127.0 135.4h1.2v1.2h-1.2zM124.8 135.3h1.2v1.2h-1.2zM106.5 126.7h1.2v1.2h-1.2zM122.4 131.1h1.2v1.2h-1.2zM130.4 136.2h1.2v1.2h-1.2zM128.1 136.2h1.2v1.2h-1.2zM127.3 123.1h1.2v1.2h-1.2zM119.1 126.5h1.2v1.2h-1.2zM129.2 135.8h1.2v1.2h-1.2zM130.7 135.6h1.2v1.2h-1.2zM130.5 134.2h1.2v1.2h-1.2zM128.5 133.1h1.2v1.2h-1.2zM125.5 133.7h1.2v1.2h-1.2zM128.5 132.4h1.2v1.2h-1.2zM123.2 132.6h1.2v1.2h-1.2zM126.7 134.6h1.2v1.2h-1.2zM128.7 136.5h1.2v1.2h-1.2zM126.8 133.6h1.2v1.2h-1.2zM129.5 130.4h1.2v1.2h-1.2zM117.0 130.5h1.2v1.2h-1.2zM119.8 134.5h1.2v1.2h-1.2zM129.6 135.6h1.2v1.2h-1.2zM122.1 123.4h1.2v1.2h-1.2zM130.1 136.6h1.2v1.2h-1.2zM128.0 135.2h1.2v1.2h-1.2zM124.9 136.2h1.2v1.2h-1.2zM118.7 135.3h1.2v1.2h-1.2zM115.2 135.3h1.2v1.2h-1.2zM128.5 136.0h1.2v1.2h-1.2zM108.7 133.8h1.2v1.2h-1.2zM119.4 136.4h1.2v1.2h-1.2zM125.7 132.4h1.2v1.2h-1.2zM103.8 127.9h1.2v1.2h-1.2zM130.2 135.1h1.2v1.2h-1.2zM86.9 134.2h1.2v1.2h-1.2zM110.2 135.7h1.2v1.2h-1.2zM130.7 127.3h1.2v1.2h-1.2zM128.9 134.0h1.2v1.2h-1.2zM127.9 133.9h1.2v1.2h-1.2zM113.0 127.3h1.2v1.2h-1.2zM117.1 135.7h1.2v1.2h-1.2zM119.6 136.5h1.2v1.2h-1.2zM127.3 127.5h1.2v1.2h-1.2zM129.0 135.2h1.2v1.2h-1.2zM125.2 135.7h1.2v1.2h-1.2zM122.8 133.3h1.2v1.2h-1.2zM130.2 128.6h1.2v1.2h-1.2zM130.4 132.8h1.2v1.2h-1.2zM128.1 136.1h1.2v1.2h-1.2zM130.4 117.3h1.2v1.2h-1.2zM120.3 134.7h1.2v1.2h-1.2zM120.5 125.5h1.2v1.2h-1.2zM113.7 134.2h1.2v1.2h-1.2zM128.8 134.3h1.2v1.2h-1.2zM104.7 132.4h1.2v1.2h-1.2zM123.6 130.7h1.2v1.2h-1.2zM127.4 134.0h1.2v1.2h-1.2zM118.5 135.9h1.2v1.2h-1.2zM118.0 136.5h1.2v1.2h-1.2zM125.8 133.9h1.2v1.2h-1.2zM129.8 128.5h1.2v1.2h-1.2zM127.1 136.0h1.2v1.2h-1.2zM127.4 133.8h1.2v1.2h-1.2zM127.2 136.6h1.2v1.2h-1.2zM130.3 132.6h1.2v1.2h-1.2zM130.0 135.7h1.2v1.2h-1.2zM120.1 130.3h1.2v1.2h-1.2zM116.9 136.0h1.2v1.2h-1.2zM130.9 132.2h1.2v1.2h-1.2zM124.9 135.2h1.2v1.2h-1.2zM130.8 134.8h1.2v1.2h-1.2zM129.1 133.8h1.2v1.2h-1.2zM104.9 135.9h1.2v1.2h-1.2zM130.4 132.8h1.2v1.2h-1.2zM130.1 135.8h1.2v1.2h-1.2zM127.1 123.1h1.2v1.2h-1.2zM128.3 135.4h1.2v1.2h-1.2zM126.6 136.0h1.2v1.2h-1.2zM127.5 132.8h1.2v1.2h-1.2zM128.3 131.6h1.2v1.2h-1.2zM129.5 136.3h1.2v1.2h-1.2zM124.4 134.7h1.2v1.2h-1.2zM114.4 136.2h1.2v1.2h-1.2zM121.9 133.1h1.2v1.2h-1.2zM127.8 136.2h1.2v1.2h-1.2zM124.7 132.1h1.2v1.2h-1.2zM126.7 134.6h1.2v1.2h-1.2zM123.3 133.6h1.2v1.2h-1.2zM127.3 135.9h1.2v1.2h-1.2zM126.8 134.1h1.2v1.2h-1.2zM116.0 119.9h1.2v1.2h-1.2zM125.5 135.3h1.2v1.2h-1.2zM129.2 133.4h1.2v1.2h-1.2zM122.1 135.7h1.2v1.2h-1.2zM123.2 113.9h1.2v1.2h-1.2zM127.6 127.7h1.2v1.2h-1.2zM127.1 133.3h1.2v1.2h-1.2zM117.6 135.9h1.2v1.2h-1.2zM128.1 123.5h1.2v1.2h-1.2zM130.4 135.4h1.2v1.2h-1.2zM126.6 132.3h1.2v1.2h-1.2zM124.3 128.2h1.2v1.2h-1.2zM123.6 136.6h1.2v1.2h-1.2zM130.4 136.5h1.2v1.2h-1.2zM127.2 136.5h1.2v1.2h-1.2zM126.0 133.4h1.2v1.2h-1.2zM129.4 130.5h1.2v1.2h-1.2zM127.4 126.4h1.2v1.2h-1.2zM128.0 133.5h1.2v1.2h-1.2zM125.8 135.6h1.2v1.2h-1.2zM120.9 136.6h1.2v1.2h-1.2zM129.0 135.4h1.2v1.2h-1.2zM116.8 134.4h1.2v1.2h-1.2zM130.6 135.5h1.2v1.2h-1.2zM124.7 131.4h1.2v1.2h-1.2zM130.1 131.8h1.2v1.2h-1.2zM127.6 134.2h1.2v1.2h-1.2zM127.3 134.8h1.2v1.2h-1.2zM100.3 128.6h1.2v1.2h-1.2zM114.4 132.4h1.2v1.2h-1.2zM123.0 136.1h1.2v1.2h-1.2zM130.7 131.0h1.2v1.2h-1.2zM123.5 133.4h1.2v1.2h-1.2zM128.4 135.6h1.2v1.2h-1.2zM114.2 134.2h1.2v1.2h-1.2zM130.8 135.3h1.2v1.2h-1.2zM128.1 136.4h1.2v1.2h-1.2zM105.8 129.2h1.2v1.2h-1.2zM119.8 136.6h1.2v1.2h-1.2zM127.3 136.2h1.2v1.2h-1.2zM122.4 131.3h1.2v1.2h-1.2zM120.6 131.6h1.2v1.2h-1.2zM130.0 136.6h1.2v1.2h-1.2zM130.2 130.7h1.2v1.2h-1.2zM119.3 134.3h1.2v1.2h-1.2zM129.1 130.4h1.2v1.2h-1.2zM130.0 135.4h1.2v1.2h-1.2zM130.9 123.7h1.2v1.2h-1.2zM127.4 131.9h1.2v1.2h-1.2zM120.3 133.8h1.2v1.2h-1.2zM102.4 131.9h1.2v1.2h-1.2zM113.7 126.1h1.2v1.2h-1.2zM130.3 132.2h1.2v1.2h-1.2zM129.2 135.4h1.2v1.2h-1.2zM128.1 122.4h1.2v1.2h-1.2zM130.5 134.8h1.2v1.2h-1.2zM130.0 117.7h1.2v1.2h-1.2zM126.4 132.8h1.2v1.2h-1.2zM126.1 132.0h1.2v1.2h-1.2zM128.2 134.9h1.2v1.2h-1.2zM121.9 132.8h1.2v1.2h-1.2zM116.5 135.4h1.2v1.2h-1.2zM118.5 132.4h1.2v1.2h-1.2zM125.3 134.9h1.2v1.2h-1.2zM125.4 136.3h1.2v1.2h-1.2zM130.2 135.4h1.2v1.2h-1.2zM130.0 136.4h1.2v1.2h-1.2zM122.6 132.4h1.2v1.2h-1.2zM124.6 135.9h1.2v1.2h-1.2zM122.5 131.1h1.2v1.2h-1.2zM124.5 135.8h1.2v1.2h-1.2zM125.4 135.0h1.2v1.2h-1.2zM128.8 136.1h1.2v1.2h-1.2zM117.7 133.4h1.2v1.2h-1.2zM113.1 136.0h1.2v1.2h-1.2zM128.9 134.3h1.2v1.2h-1.2zM130.5 135.5h1.2v1.2h-1.2zM125.8 134.5h1.2v1.2h-1.2zM115.1 133.9h1.2v1.2h-1.2zM124.2 133.8h1.2v1.2h-1.2zM120.8 135.2h1.2v1.2h-1.2zM130.9 124.1h1.2v1.2h-1.2zM120.5 136.2h1.2v1.2h-1.2zM130.1 135.8h1.2v1.2h-1.2zM123.8 136.2h1.2v1.2h-1.2zM130.8 134.4h1.2v1.2h-1.2zM130.8 135.7h1.2v1.2h-1.2zM127.7 135.9h1.2v1.2h-1.2zM130.9 135.6h1.2v1.2h-1.2zM129.1 135.4h1.2v1.2h-1.2zM127.4 135.2h1.2v1.2h-1.2zM128.3 136.5h1.2v1.2h-1.2zM118.9 132.4h1.2v1.2h-1.2zM126.4 136.6h1.2v1.2h-1.2zM129.1 129.3h1.2v1.2h-1.2zM126.9 135.9h1.2v1.2h-1.2zM119.6 129.6h1.2v1.2h-1.2zM130.0 134.4h1.2v1.2h-1.2zM125.5 136.2h1.2v1.2h-1.2zM128.4 133.5h1.2v1.2h-1.2zM123.5 133.5h1.2v1.2h-1.2zM124.5 135.1h1.2v1.2h-1.2zM130.4 136.5h1.2v1.2h-1.2zM118.9 130.3h1.2v1.2h-1.2zM115.4 136.3h1.2v1.2h-1.2zM121.2 136.0h1.2v1.2h-1.2zM128.1 135.9h1.2v1.2h-1.2zM118.0 131.2h1.2v1.2h-1.2zM119.1 135.1h1.2v1.2h-1.2zM112.8 135.6h1.2v1.2h-1.2zM125.3 133.1h1.2v1.2h-1.2zM129.1 135.1h1.2v1.2h-1.2zM130.2 131.6h1.2v1.2h-1.2zM129.5 136.1h1.2v1.2h-1.2zM128.7 133.4h1.2v1.2h-1.2zM124.2 134.2h1.2v1.2h-1.2zM118.3 132.2h1.2v1.2h-1.2zM129.3 134.2h1.2v1.2h-1.2zM129.7 135.7h1.2v1.2h-1.2zM129.8 136.3h1.2v1.2h-1.2zM128.1 129.7h1.2v1.2h-1.2zM123.9 136.3h1.2v1.2h-1.2zM129.3 133.8h1.2v1.2h-1.2zM125.9 136.5h1.2v1.2h-1.2zM130.2 134.0h1.2v1.2h-1.2zM124.8 136.3h1.2v1.2h-1.2zM121.1 135.7h1.2v1.2h-1.2zM125.0 134.2h1.2v1.2h-1.2zM128.2 127.3h1.2v1.2h-1.2zM127.6 134.9h1.2v1.2h-1.2zM125.8 130.8h1.2v1.2h-1.2zM102.0 132.0h1.2v1.2h-1.2zM125.8 132.6h1.2v1.2h-1.2zM124.2 126.5h1.2v1.2h-1.2zM107.7 132.1h1.2v1.2h-1.2zM129.3 133.9h1.2v1.2h-1.2zM127.1 135.8h1.2v1.2h-1.2zM120.9 135.8h1.2v1.2h-1.2zM122.8 134.5h1.2v1.2h-1.2zM127.2 132.7h1.2v1.2h-1.2zM122.4 122.1h1.2v1.2h-1.2zM86.1 131.5h1.2v1.2h-1.2zM128.9 133.1h1.2v1.2h-1.2zM126.4 127.7h1.2v1.2h-1.2zM127.0 135.2h1.2v1.2h-1.2zM130.7 134.6h1.2v1.2h-1.2zM125.9 135.4h1.2v1.2h-1.2zM130.2 134.5h1.2v1.2h-1.2zM130.4 136.0h1.2v1.2h-1.2zM127.0 135.2h1.2v1.2h-1.2zM126.3 134.2h1.2v1.2h-1.2zM127.7 136.1h1.2v1.2h-1.2zM130.8 134.0h1.2v1.2h-1.2zM107.8 135.6h1.2v1.2h-1.2zM128.0 135.4h1.2v1.2h-1.2zM122.0 134.4h1.2v1.2h-1.2zM120.4 136.6h1.2v1.2h-1.2zM130.0 135.9h1.2v1.2h-1.2zM127.9 135.0h1.2v1.2h-1.2zM127.7 125.9h1.2v1.2h-1.2zM127.1 133.9h1.2v1.2h-1.2zM109.1 133.3h1.2v1.2h-1.2zM124.9 131.0h1.2v1.2h-1.2zM128.2 136.5h1.2v1.2h-1.2zM110.1 134.2h1.2v1.2h-1.2zM125.2 136.4h1.2v1.2h-1.2zM121.9 135.1h1.2v1.2h-1.2zM124.1 135.5h1.2v1.2h-1.2zM114.4 135.1h1.2v1.2h-1.2zM128.8 129.5h1.2v1.2h-1.2zM129.2 135.6h1.2v1.2h-1.2zM126.5 124.1h1.2v1.2h-1.2zM130.1 135.9h1.2v1.2h-1.2zM120.4 136.4h1.2v1.2h-1.2zM127.4 131.8h1.2v1.2h-1.2zM122.7 131.6h1.2v1.2h-1.2zM130.1 129.6h1.2v1.2h-1.2zM128.0 131.3h1.2v1.2h-1.2zM126.7 129.6h1.2v1.2h-1.2zM126.6 135.7h1.2v1.2h-1.2zM129.8 134.4h1.2v1.2h-1.2zM130.6 136.0h1.2v1.2h-1.2zM117.2 133.9h1.2v1.2h-1.2zM117.8 136.1h1.2v1.2h-1.2zM126.6 134.6h1.2v1.2h-1.2zM130.1 135.6h1.2v1.2h-1.2zM114.1 132.5h1.2v1.2h-1.2zM126.2 133.6h1.2v1.2h-1.2zM117.9 126.9h1.2v1.2h-1.2zM125.0 136.4h1.2v1.2h-1.2zM117.4 136.0h1.2v1.2h-1.2zM129.1 136.1h1.2v1.2h-1.2zM126.2 133.8h1.2v1.2h-1.2zM126.8 134.6h1.2v1.2h-1.2zM129.9 132.6h1.2v1.2h-1.2zM125.8 135.4h1.2v1.2h-1.2zM119.1 127.7h1.2v1.2h-1.2zM114.1 123.3h1.2v1.2h-1.2zM130.4 135.0h1.2v1.2h-1.2zM127.0 135.7h1.2v1.2h-1.2zM121.9 129.1h1.2v1.2h-1.2zM129.9 134.4h1.2v1.2h-1.2zM108.4 129.6h1.2v1.2h-1.2zM126.9 136.2h1.2v1.2h-1.2zM126.9 134.3h1.2v1.2h-1.2zM120.8 135.9h1.2v1.2h-1.2zM128.7 123.4h1.2v1.2h-1.2zM130.8 133.6h1.2v1.2h-1.2zM130.2 132.2h1.2v1.2h-1.2zM127.3 128.4h1.2v1.2h-1.2zM129.2 129.9h1.2v1.2h-1.2zM129.2 136.4h1.2v1.2h-1.2zM130.3 136.3h1.2v1.2h-1.2zM127.7 125.3h1.2v1.2h-1.2zM128.0 132.6h1.2v1.2h-1.2zM130.7 134.3h1.2v1.2h-1.2zM125.8 136.3h1.2v1.2h-1.2zM125.2 134.7h1.2v1.2h-1.2zM128.3 131.0h1.2v1.2h-1.2zM123.2 136.2h1.2v1.2h-1.2zM130.2 136.4h1.2v1.2h-1.2zM128.9 133.4h1.2v1.2h-1.2zM108.2 125.6h1.2v1.2h-1.2zM117.7 136.2h1.2v1.2h-1.2zM120.6 132.1h1.2v1.2h-1.2zM126.7 119.3h1.2v1.2h-1.2zM124.9 136.2h1.2v1.2h-1.2zM129.3 136.2h1.2v1.2h-1.2zM124.7 133.5h1.2v1.2h-1.2zM118.1 136.6h1.2v1.2h-1.2zM130.8 125.2h1.2v1.2h-1.2zM128.9 135.6h1.2v1.2h-1.2zM117.6 136.2h1.2v1.2h-1.2zM120.5 129.4h1.2v1.2h-1.2zM125.5 133.6h1.2v1.2h-1.2zM130.8 133.6h1.2v1.2h-1.2zM124.6 131.9h1.2v1.2h-1.2zM126.1 136.2h1.2v1.2h-1.2zM129.2 133.2h1.2v1.2h-1.2zM130.3 136.2h1.2v1.2h-1.2zM129.0 131.6h1.2v1.2h-1.2zM125.7 135.2h1.2v1.2h-1.2zM109.1 133.8h1.2v1.2h-1.2zM129.1 134.0h1.2v1.2h-1.2zM118.2 135.1h1.2v1.2h-1.2zM127.1 133.9h1.2v1.2h-1.2zM102.2 133.4h1.2v1.2h-1.2zM129.6 133.8h1.2v1.2h-1.2zM128.3 134.6h1.2v1.2h-1.2zM122.7 136.5h1.2v1.2h-1.2zM126.2 135.4h1.2v1.2h-1.2zM124.9 131.2h1.2v1.2h-1.2zM126.7 133.5h1.2v1.2h-1.2zM128.6 135.7h1.2v1.2h-1.2zM126.2 134.2h1.2v1.2h-1.2zM129.2 132.0h1.2v1.2h-1.2zM126.3 135.2h1.2v1.2h-1.2zM129.0 130.9h1.2v1.2h-1.2zM115.6 127.8h1.2v1.2h-1.2zM129.0 136.4h1.2v1.2h-1.2zM124.3 136.5h1.2v1.2h-1.2zM118.1 133.0h1.2v1.2h-1.2zM128.2 134.8h1.2v1.2h-1.2zM123.3 136.0h1.2v1.2h-1.2zM127.9 131.7h1.2v1.2h-1.2zM123.4 133.8h1.2v1.2h-1.2zM130.2 135.8h1.2v1.2h-1.2zM128.9 136.5h1.2v1.2h-1.2zM124.2 133.9h1.2v1.2h-1.2zM113.9 134.0h1.2v1.2h-1.2zM114.4 134.6h1.2v1.2h-1.2zM126.1 135.6h1.2v1.2h-1.2zM126.8 127.9h1.2v1.2h-1.2zM126.5 136.6h1.2v1.2h-1.2zM128.0 135.9h1.2v1.2h-1.2zM124.5 134.3h1.2v1.2h-1.2zM126.6 128.3h1.2v1.2h-1.2zM121.4 136.3h1.2v1.2h-1.2zM130.7 132.8h1.2v1.2h-1.2zM124.9 133.3h1.2v1.2h-1.2zM126.3 136.5h1.2v1.2h-1.2zM126.9 130.9h1.2v1.2h-1.2zM124.8 136.5h1.2v1.2h-1.2zM130.0 129.2h1.2v1.2h-1.2zM125.7 136.0h1.2v1.2h-1.2zM122.8 128.4h1.2v1.2h-1.2zM117.7 133.3h1.2v1.2h-1.2zM120.1 136.3h1.2v1.2h-1.2zM126.8 131.3h1.2v1.2h-1.2zM128.1 136.1h1.2v1.2h-1.2zM117.7 132.7h1.2v1.2h-1.2zM130.8 136.4h1.2v1.2h-1.2zM125.5 126.8h1.2v1.2h-1.2zM124.6 130.0h1.2v1.2h-1.2zM130.2 133.9h1.2v1.2h-1.2zM129.6 135.3h1.2v1.2h-1.2zM129.8 134.6h1.2v1.2h-1.2zM130.6 133.2h1.2v1.2h-1.2zM124.1 129.2h1.2v1.2h-1.2zM121.3 136.4h1.2v1.2h-1.2zM117.5 134.1h1.2v1.2h-1.2zM112.8 134.5h1.2v1.2h-1.2zM130.3 132.7h1.2v1.2h-1.2zM129.6 123.5h1.2v1.2h-1.2zM125.8 129.2h1.2v1.2h-1.2zM126.4 135.3h1.2v1.2h-1.2zM123.8 132.7h1.2v1.2h-1.2zM126.8 135.6h1.2v1.2h-1.2zM127.3 132.6h1.2v1.2h-1.2zM129.2 136.1h1.2v1.2h-1.2zM126.5 133.2h1.2v1.2h-1.2zM130.4 135.6h1.2v1.2h-1.2zM107.5 135.6h1.2v1.2h-1.2zM121.2 135.4h1.2v1.2h-1.2zM130.3 134.5h1.2v1.2h-1.2zM117.5 131.8h1.2v1.2h-1.2zM130.6 132.7h1.2v1.2h-1.2zM124.5 134.5h1.2v1.2h-1.2zM123.7 134.3h1.2v1.2h-1.2zM129.6 132.8h1.2v1.2h-1.2zM130.0 135.4h1.2v1.2h-1.2zM118.3 133.9h1.2v1.2h-1.2zM126.2 132.7h1.2v1.2h-1.2zM126.4 135.1h1.2v1.2h-1.2zM125.6 136.5h1.2v1.2h-1.2zM128.0 136.5h1.2v1.2h-1.2zM95.0 129.0h1.2v1.2h-1.2zM123.9 136.1h1.2v1.2h-1.2zM118.2 135.5h1.2v1.2h-1.2zM120.1 133.3h1.2v1.2h-1.2zM124.8 132.3h1.2v1.2h-1.2zM128.8 130.9h1.2v1.2h-1.2zM125.7 132.1h1.2v1.2h-1.2zM118.8 135.7h1.2v1.2h-1.2zM127.4 135.2h1.2v1.2h-1.2zM130.4 130.0h1.2v1.2h-1.2zM123.3 134.5h1.2v1.2h-1.2zM125.7 129.9h1.2v1.2h-1.2zM130.4 135.2h1.2v1.2h-1.2zM123.3 134.2h1.2v1.2h-1.2zM126.4 135.7h1.2v1.2h-1.2zM129.2 133.1h1.2v1.2h-1.2zM128.1 127.8h1.2v1.2h-1.2zM115.6 125.5h1.2v1.2h-1.2zM128.8 134.3h1.2v1.2h-1.2zM130.2 135.2h1.2v1.2h-1.2zM130.4 134.4h1.2v1.2h-1.2zM110.2 132.0h1.2v1.2h-1.2zM127.9 135.6h1.2v1.2h-1.2zM113.3 136.4h1.2v1.2h-1.2zM118.6 130.5h1.2v1.2h-1.2zM130.4 127.0h1.2v1.2h-1.2zM124.1 135.0h1.2v1.2h-1.2zM127.2 133.6h1.2v1.2h-1.2zM126.0 130.2h1.2v1.2h-1.2zM116.1 135.3h1.2v1.2h-1.2zM130.8 131.8h1.2v1.2h-1.2zM124.0 133.2h1.2v1.2h-1.2zM130.4 136.4h1.2v1.2h-1.2zM115.8 135.2h1.2v1.2h-1.2zM126.7 125.1h1.2v1.2h-1.2zM129.5 133.4h1.2v1.2h-1.2zM130.5 134.0h1.2v1.2h-1.2zM122.1 136.1h1.2v1.2h-1.2zM121.5 125.6h1.2v1.2h-1.2zM119.4 131.6h1.2v1.2h-1.2zM111.5 132.6h1.2v1.2h-1.2zM125.7 131.1h1.2v1.2h-1.2zM120.1 133.5h1.2v1.2h-1.2zM123.6 136.0h1.2v1.2h-1.2zM128.2 135.4h1.2v1.2h-1.2zM118.0 131.8h1.2v1.2h-1.2zM128.6 120.5h1.2v1.2h-1.2zM130.5 136.4h1.2v1.2h-1.2zM128.3 136.3h1.2v1.2h-1.2zM111.2 135.2h1.2v1.2h-1.2zM127.7 130.5h1.2v1.2h-1.2zM125.9 133.4h1.2v1.2h-1.2zM127.1 134.6h1.2v1.2h-1.2zM110.2 135.6h1.2v1.2h-1.2zM126.0 134.5h1.2v1.2h-1.2zM129.9 136.1h1.2v1.2h-1.2zM126.2 131.5h1.2v1.2h-1.2zM127.2 136.4h1.2v1.2h-1.2zM112.9 136.1h1.2v1.2h-1.2zM116.7 136.5h1.2v1.2h-1.2zM124.0 136.1h1.2v1.2h-1.2zM128.9 134.9h1.2v1.2h-1.2zM121.6 134.8h1.2v1.2h-1.2zM127.3 135.0h1.2v1.2h-1.2zM126.1 135.6h1.2v1.2h-1.2zM110.8 135.9h1.2v1.2h-1.2zM130.0 134.1h1.2v1.2h-1.2zM128.0 132.6h1.2v1.2h-1.2zM130.6 133.0h1.2v1.2h-1.2zM127.9 128.3h1.2v1.2h-1.2zM128.5 134.8h1.2v1.2h-1.2zM128.4 134.2h1.2v1.2h-1.2zM128.7 133.1h1.2v1.2h-1.2zM127.4 132.7h1.2v1.2h-1.2zM128.6 134.7h1.2v1.2h-1.2zM125.5 132.6h1.2v1.2h-1.2zM123.9 134.8h1.2v1.2h-1.2zM130.3 136.2h1.2v1.2h-1.2zM129.8 136.0h1.2v1.2h-1.2zM129.6 133.2h1.2v1.2h-1.2zM128.1 129.0h1.2v1.2h-1.2zM129.1 135.7h1.2v1.2h-1.2zM129.6 136.1h1.2v1.2h-1.2zM123.4 133.9h1.2v1.2h-1.2zM129.0 131.3h1.2v1.2h-1.2zM123.5 134.8h1.2v1.2h-1.2zM124.7 133.2h1.2v1.2h-1.2zM127.1 136.3h1.2v1.2h-1.2zM127.9 127.3h1.2v1.2h-1.2zM127.8 133.4h1.2v1.2h-1.2zM130.3 131.9h1.2v1.2h-1.2zM117.8 135.1h1.2v1.2h-1.2zM127.8 134.3h1.2v1.2h-1.2zM129.0 135.9h1.2v1.2h-1.2zM130.0 132.9h1.2v1.2h-1.2zM126.2 126.7h1.2v1.2h-1.2zM109.3 130.0h1.2v1.2h-1.2zM111.9 130.8h1.2v1.2h-1.2zM130.7 136.2h1.2v1.2h-1.2zM106.4 130.0h1.2v1.2h-1.2zM124.6 133.5h1.2v1.2h-1.2zM127.1 134.8h1.2v1.2h-1.2zM129.9 134.1h1.2v1.2h-1.2zM128.8 136.2h1.2v1.2h-1.2zM117.5 133.9h1.2v1.2h-1.2zM117.2 135.5h1.2v1.2h-1.2zM125.2 135.6h1.2v1.2h-1.2zM119.2 135.9h1.2v1.2h-1.2zM124.0 134.0h1.2v1.2h-1.2zM128.3 136.3h1.2v1.2h-1.2zM126.5 134.3h1.2v1.2h-1.2zM119.7 135.9h1.2v1.2h-1.2zM129.5 135.4h1.2v1.2h-1.2zM120.2 135.8h1.2v1.2h-1.2zM124.3 136.5h1.2v1.2h-1.2zM130.3 132.7h1.2v1.2h-1.2zM126.4 136.2h1.2v1.2h-1.2zM126.7 127.7h1.2v1.2h-1.2zM127.6 134.0h1.2v1.2h-1.2zM127.3 134.4h1.2v1.2h-1.2zM130.6 129.8h1.2v1.2h-1.2zM125.2 135.2h1.2v1.2h-1.2zM128.7 135.9h1.2v1.2h-1.2zM113.0 130.8h1.2v1.2h-1.2zM127.8 133.7h1.2v1.2h-1.2zM125.6 135.9h1.2v1.2h-1.2zM130.7 132.4h1.2v1.2h-1.2zM129.7 134.0h1.2v1.2h-1.2zM130.8 136.5h1.2v1.2h-1.2zM129.7 133.2h1.2v1.2h-1.2zM124.6 121.6h1.2v1.2h-1.2zM123.8 134.3h1.2v1.2h-1.2zM130.8 126.6h1.2v1.2h-1.2zM126.5 130.4h1.2v1.2h-1.2zM130.6 130.9h1.2v1.2h-1.2zM126.6 135.8h1.2v1.2h-1.2zM127.5 136.4h1.2v1.2h-1.2zM125.2 135.8h1.2v1.2h-1.2zM122.9 136.0h1.2v1.2h-1.2zM123.2 133.6h1.2v1.2h-1.2zM122.7 127.1h1.2v1.2h-1.2zM128.6 133.0h1.2v1.2h-1.2zM127.6 129.5h1.2v1.2h-1.2zM119.4 132.0h1.2v1.2h-1.2zM124.9 135.6h1.2v1.2h-1.2zM115.2 125.6h1.2v1.2h-1.2zM111.2 135.3h1.2v1.2h-1.2zM119.5 133.0h1.2v1.2h-1.2zM118.8 131.5h1.2v1.2h-1.2zM126.9 135.0h1.2v1.2h-1.2zM120.4 133.2h1.2v1.2h-1.2zM125.8 130.0h1.2v1.2h-1.2zM130.7 136.6h1.2v1.2h-1.2zM126.8 136.3h1.2v1.2h-1.2zM118.7 136.3h1.2v1.2h-1.2zM116.8 135.8h1.2v1.2h-1.2zM129.9 132.2h1.2v1.2h-1.2zM123.4 134.9h1.2v1.2h-1.2zM124.9 134.0h1.2v1.2h-1.2zM111.4 134.4h1.2v1.2h-1.2zM125.8 134.6h1.2v1.2h-1.2zM127.4 132.9h1.2v1.2h-1.2zM130.1 132.9h1.2v1.2h-1.2zM113.5 132.1h1.2v1.2h-1.2zM125.7 135.2h1.2v1.2h-1.2zM130.2 136.3h1.2v1.2h-1.2zM125.8 129.9h1.2v1.2h-1.2zM117.7 136.0h1.2v1.2h-1.2zM121.8 131.4h1.2v1.2h-1.2zM126.6 130.4h1.2v1.2h-1.2zM129.5 135.3h1.2v1.2h-1.2zM126.1 132.5h1.2v1.2h-1.2zM127.0 135.5h1.2v1.2h-1.2zM117.6 135.0h1.2v1.2h-1.2zM127.3 135.8h1.2v1.2h-1.2zM126.5 132.7h1.2v1.2h-1.2zM127.9 133.2h1.2v1.2h-1.2zM126.4 136.6h1.2v1.2h-1.2zM109.3 135.5h1.2v1.2h-1.2zM125.7 126.5h1.2v1.2h-1.2zM129.4 136.4h1.2v1.2h-1.2zM129.4 136.1h1.2v1.2h-1.2zM118.4 134.3h1.2v1.2h-1.2zM130.6 135.6h1.2v1.2h-1.2zM126.2 136.0h1.2v1.2h-1.2zM128.5 129.2h1.2v1.2h-1.2zM127.0 135.8h1.2v1.2h-1.2zM124.9 136.2h1.2v1.2h-1.2zM126.1 133.3h1.2v1.2h-1.2zM130.3 134.1h1.2v1.2h-1.2zM128.5 132.3h1.2v1.2h-1.2zM124.6 129.0h1.2v1.2h-1.2zM124.7 136.0h1.2v1.2h-1.2zM129.5 132.7h1.2v1.2h-1.2zM120.0 136.4h1.2v1.2h-1.2zM127.3 135.5h1.2v1.2h-1.2zM126.7 130.1h1.2v1.2h-1.2zM125.5 132.3h1.2v1.2h-1.2zM121.4 135.6h1.2v1.2h-1.2zM124.5 135.1h1.2v1.2h-1.2zM126.7 134.2h1.2v1.2h-1.2zM123.7 136.0h1.2v1.2h-1.2zM118.9 136.0h1.2v1.2h-1.2zM128.4 130.6h1.2v1.2h-1.2zM103.2 135.2h1.2v1.2h-1.2zM110.9 136.5h1.2v1.2h-1.2zM110.5 135.9h1.2v1.2h-1.2zM130.7 132.1h1.2v1.2h-1.2zM129.7 132.2h1.2v1.2h-1.2zM130.8 136.2h1.2v1.2h-1.2zM128.0 136.3h1.2v1.2h-1.2zM126.7 135.3h1.2v1.2h-1.2zM122.1 134.4h1.2v1.2h-1.2zM108.8 130.7h1.2v1.2h-1.2zM129.7 128.7h1.2v1.2h-1.2zM116.1 134.0h1.2v1.2h-1.2zM126.0 136.0h1.2v1.2h-1.2zM128.3 135.8h1.2v1.2h-1.2zM129.5 133.6h1.2v1.2h-1.2zM128.3 132.0h1.2v1.2h-1.2zM125.3 131.0h1.2v1.2h-1.2zM130.3 130.6h1.2v1.2h-1.2zM126.2 133.4h1.2v1.2h-1.2zM129.1 132.8h1.2v1.2h-1.2zM127.5 132.6h1.2v1.2h-1.2zM125.1 136.1h1.2v1.2h-1.2zM128.5 132.2h1.2v1.2h-1.2zM130.8 133.4h1.2v1.2h-1.2zM125.7 132.6h1.2v1.2h-1.2zM128.3 134.5h1.2v1.2h-1.2zM126.6 132.2h1.2v1.2h-1.2zM130.4 134.3h1.2v1.2h-1.2zM128.9 133.8h1.2v1.2h-1.2zM128.9 135.9h1.2v1.2h-1.2zM129.2 129.5h1.2v1.2h-1.2zM127.9 129.9h1.2v1.2h-1.2zM122.1 135.6h1.2v1.2h-1.2zM125.6 136.6h1.2v1.2h-1.2zM113.1 133.4h1.2v1.2h-1.2zM130.1 134.3h1.2v1.2h-1.2zM126.4 133.1h1.2v1.2h-1.2zM128.6 129.0h1.2v1.2h-1.2zM124.5 136.4h1.2v1.2h-1.2zM119.7 129.8h1.2v1.2h-1.2zM128.5 132.7h1.2v1.2h-1.2zM117.9 129.8h1.2v1.2h-1.2zM130.4 130.9h1.2v1.2h-1.2zM129.0 131.5h1.2v1.2h-1.2zM123.3 134.6h1.2v1.2h-1.2zM115.6 131.4h1.2v1.2h-1.2zM96.9 126.5h1.2v1.2h-1.2zM125.3 132.4h1.2v1.2h-1.2zM123.6 135.0h1.2v1.2h-1.2zM126.3 134.4h1.2v1.2h-1.2zM129.3 135.6h1.2v1.2h-1.2zM118.6 130.7h1.2v1.2h-1.2zM123.0 132.9h1.2v1.2h-1.2zM126.2 133.9h1.2v1.2h-1.2zM123.7 136.6h1.2v1.2h-1.2zM127.0 125.5h1.2v1.2h-1.2zM129.4 134.6h1.2v1.2h-1.2zM130.4 135.7h1.2v1.2h-1.2zM119.5 136.5h1.2v1.2h-1.2zM120.3 131.5h1.2v1.2h-1.2zM117.6 135.7h1.2v1.2h-1.2zM113.3 135.1h1.2v1.2h-1.2zM127.0 127.1h1.2v1.2h-1.2zM125.7 133.0h1.2v1.2h-1.2zM130.1 136.6h1.2v1.2h-1.2zM128.9 136.2h1.2v1.2h-1.2zM119.5 135.7h1.2v1.2h-1.2zM110.1 133.0h1.2v1.2h-1.2zM129.5 132.7h1.2v1.2h-1.2zM128.4 134.2h1.2v1.2h-1.2zM130.4 130.9h1.2v1.2h-1.2zM120.7 133.8h1.2v1.2h-1.2zM123.2 135.3h1.2v1.2h-1.2zM130.0 135.4h1.2v1.2h-1.2zM122.0 134.0h1.2v1.2h-1.2zM129.9 135.7h1.2v1.2h-1.2zM126.7 136.6h1.2v1.2h-1.2zM130.6 134.7h1.2v1.2h-1.2zM129.9 129.6h1.2v1.2h-1.2zM130.0 132.2h1.2v1.2h-1.2zM120.5 135.4h1.2v1.2h-1.2zM125.8 121.3h1.2v1.2h-1.2zM124.6 135.0h1.2v1.2h-1.2zM106.4 135.6h1.2v1.2h-1.2zM110.4 135.4h1.2v1.2h-1.2zM127.3 135.4h1.2v1.2h-1.2zM123.9 129.8h1.2v1.2h-1.2zM123.2 136.0h1.2v1.2h-1.2zM100.4 132.5h1.2v1.2h-1.2zM126.2 130.6h1.2v1.2h-1.2zM130.1 133.7h1.2v1.2h-1.2zM120.8 131.9h1.2v1.2h-1.2zM123.5 136.4h1.2v1.2h-1.2zM126.6 135.6h1.2v1.2h-1.2zM124.7 135.0h1.2v1.2h-1.2zM126.9 134.2h1.2v1.2h-1.2zM125.1 129.6h1.2v1.2h-1.2zM128.7 135.6h1.2v1.2h-1.2zM129.5 136.2h1.2v1.2h-1.2zM118.4 128.6h1.2v1.2h-1.2zM130.0 135.2h1.2v1.2h-1.2zM115.5 130.3h1.2v1.2h-1.2zM105.7 121.1h1.2v1.2h-1.2zM128.5 136.4h1.2v1.2h-1.2zM129.0 134.4h1.2v1.2h-1.2zM130.8 135.7h1.2v1.2h-1.2zM126.7 133.0h1.2v1.2h-1.2zM129.8 136.2h1.2v1.2h-1.2zM128.3 136.3h1.2v1.2h-1.2zM130.0 136.3h1.2v1.2h-1.2zM120.3 129.9h1.2v1.2h-1.2zM130.6 131.4h1.2v1.2h-1.2zM118.7 133.3h1.2v1.2h-1.2zM128.5 131.2h1.2v1.2h-1.2zM130.3 136.4h1.2v1.2h-1.2zM110.5 135.8h1.2v1.2h-1.2zM114.7 132.2h1.2v1.2h-1.2zM130.6 136.3h1.2v1.2h-1.2zM124.1 136.1h1.2v1.2h-1.2zM123.7 133.1h1.2v1.2h-1.2zM129.2 134.5h1.2v1.2h-1.2zM129.3 130.1h1.2v1.2h-1.2zM124.3 132.9h1.2v1.2h-1.2zM124.5 136.4h1.2v1.2h-1.2zM116.6 131.8h1.2v1.2h-1.2zM126.1 133.8h1.2v1.2h-1.2zM126.4 132.1h1.2v1.2h-1.2zM125.9 135.6h1.2v1.2h-1.2zM126.1 135.8h1.2v1.2h-1.2zM130.9 134.3h1.2v1.2h-1.2zM117.4 132.6h1.2v1.2h-1.2zM129.3 134.4h1.2v1.2h-1.2zM125.1 133.9h1.2v1.2h-1.2zM126.8 134.3h1.2v1.2h-1.2zM123.2 129.9h1.2v1.2h-1.2zM126.1 131.7h1.2v1.2h-1.2zM123.4 136.2h1.2v1.2h-1.2zM128.9 135.4h1.2v1.2h-1.2zM128.0 134.5h1.2v1.2h-1.2zM128.6 117.2h1.2v1.2h-1.2zM122.2 135.1h1.2v1.2h-1.2zM123.0 128.4h1.2v1.2h-1.2zM129.7 133.5h1.2v1.2h-1.2zM109.9 135.1h1.2v1.2h-1.2zM117.1 131.4h1.2v1.2h-1.2zM128.4 136.1h1.2v1.2h-1.2zM120.1 134.9h1.2v1.2h-1.2zM128.1 134.6h1.2v1.2h-1.2zM122.3 129.5h1.2v1.2h-1.2zM114.6 132.0h1.2v1.2h-1.2zM129.6 135.1h1.2v1.2h-1.2zM130.8 135.9h1.2v1.2h-1.2zM128.2 136.0h1.2v1.2h-1.2zM126.6 136.2h1.2v1.2h-1.2zM123.9 134.9h1.2v1.2h-1.2zM129.0 132.9h1.2v1.2h-1.2zM128.3 136.5h1.2v1.2h-1.2zM118.9 132.2h1.2v1.2h-1.2zM117.0 135.5h1.2v1.2h-1.2zM128.9 132.8h1.2v1.2h-1.2zM129.8 125.8h1.2v1.2h-1.2zM123.9 134.1h1.2v1.2h-1.2zM130.5 135.5h1.2v1.2h-1.2zM127.3 124.1h1.2v1.2h-1.2zM129.9 133.8h1.2v1.2h-1.2zM130.4 125.4h1.2v1.2h-1.2zM121.8 131.3h1.2v1.2h-1.2zM121.8 136.0h1.2v1.2h-1.2zM129.1 136.5h1.2v1.2h-1.2zM125.6 136.3h1.2v1.2h-1.2zM129.5 136.0h1.2v1.2h-1.2zM114.3 131.7h1.2v1.2h-1.2zM128.7 125.4h1.2v1.2h-1.2zM129.7 136.1h1.2v1.2h-1.2zM127.7 131.4h1.2v1.2h-1.2zM130.2 131.7h1.2v1.2h-1.2zM125.7 131.5h1.2v1.2h-1.2zM128.2 136.5h1.2v1.2h-1.2zM130.2 132.5h1.2v1.2h-1.2zM126.2 132.0h1.2v1.2h-1.2zM129.4 135.6h1.2v1.2h-1.2zM129.3 130.6h1.2v1.2h-1.2zM122.9 136.1h1.2v1.2h-1.2zM122.4 136.5h1.2v1.2h-1.2zM126.8 135.7h1.2v1.2h-1.2zM121.4 132.6h1.2v1.2h-1.2zM123.3 135.9h1.2v1.2h-1.2zM130.6 133.4h1.2v1.2h-1.2zM123.1 136.6h1.2v1.2h-1.2zM118.9 129.4h1.2v1.2h-1.2zM127.9 134.3h1.2v1.2h-1.2zM124.0 128.4h1.2v1.2h-1.2zM124.0 134.3h1.2v1.2h-1.2zM121.3 134.5h1.2v1.2h-1.2zM130.7 134.1h1.2v1.2h-1.2zM127.4 135.3h1.2v1.2h-1.2zM127.6 135.8h1.2v1.2h-1.2zM128.4 132.2h1.2v1.2h-1.2zM116.6 134.7h1.2v1.2h-1.2zM118.6 136.2h1.2v1.2h-1.2zM126.1 132.3h1.2v1.2h-1.2zM120.9 135.0h1.2v1.2h-1.2zM129.7 126.3h1.2v1.2h-1.2zM124.7 133.2h1.2v1.2h-1.2zM128.1 136.2h1.2v1.2h-1.2zM125.3 135.0h1.2v1.2h-1.2zM116.4 133.2h1.2v1.2h-1.2zM121.6 133.9h1.2v1.2h-1.2zM121.7 136.1h1.2v1.2h-1.2zM94.1 133.8h1.2v1.2h-1.2zM124.9 135.9h1.2v1.2h-1.2zM130.3 132.7h1.2v1.2h-1.2zM122.4 133.1h1.2v1.2h-1.2zM129.0 134.5h1.2v1.2h-1.2zM121.3 133.4h1.2v1.2h-1.2zM115.1 136.3h1.2v1.2h-1.2zM121.1 136.6h1.2v1.2h-1.2zM124.4 134.2h1.2v1.2h-1.2zM130.4 134.9h1.2v1.2h-1.2zM123.6 130.2h1.2v1.2h-1.2zM130.4 134.3h1.2v1.2h-1.2zM120.5 136.2h1.2v1.2h-1.2zM116.2 127.7h1.2v1.2h-1.2zM128.1 135.9h1.2v1.2h-1.2zM129.9 135.8h1.2v1.2h-1.2zM127.3 132.7h1.2v1.2h-1.2zM112.7 134.0h1.2v1.2h-1.2zM110.8 134.8h1.2v1.2h-1.2zM123.8 136.6h1.2v1.2h-1.2zM127.3 136.5h1.2v1.2h-1.2zM130.0 131.4h1.2v1.2h-1.2zM130.1 135.5h1.2v1.2h-1.2zM126.0 134.2h1.2v1.2h-1.2zM130.7 136.2h1.2v1.2h-1.2zM113.6 135.8h1.2v1.2h-1.2zM129.4 135.6h1.2v1.2h-1.2zM123.7 124.4h1.2v1.2h-1.2zM130.1 136.3h1.2v1.2h-1.2zM129.7 135.3h1.2v1.2h-1.2zM120.1 136.4h1.2v1.2h-1.2zM119.0 135.9h1.2v1.2h-1.2zM116.7 135.1h1.2v1.2h-1.2zM126.3 135.7h1.2v1.2h-1.2zM119.4 135.8h1.2v1.2h-1.2zM118.1 136.5h1.2v1.2h-1.2zM122.5 129.7h1.2v1.2h-1.2zM123.1 135.5h1.2v1.2h-1.2zM109.4 133.9h1.2v1.2h-1.2zM110.4 135.8h1.2v1.2h-1.2zM111.8 136.2h1.2v1.2h-1.2zM116.2 136.6h1.2v1.2h-1.2zM127.6 136.3h1.2v1.2h-1.2zM124.2 134.5h1.2v1.2h-1.2zM130.6 133.3h1.2v1.2h-1.2zM129.4 131.8h1.2v1.2h-1.2zM85.2 135.1h1.2v1.2h-1.2zM102.7 132.1h1.2v1.2h-1.2zM121.8 133.5h1.2v1.2h-1.2zM130.3 134.2h1.2v1.2h-1.2zM114.9 134.2h1.2v1.2h-1.2zM128.4 136.5h1.2v1.2h-1.2zM119.5 135.1h1.2v1.2h-1.2zM113.0 136.3h1.2v1.2h-1.2zM118.0 131.1h1.2v1.2h-1.2zM126.4 133.9h1.2v1.2h-1.2zM115.1 135.7h1.2v1.2h-1.2zM122.6 135.6h1.2v1.2h-1.2zM128.8 136.5h1.2v1.2h-1.2zM125.9 136.3h1.2v1.2h-1.2zM95.6 135.9h1.2v1.2h-1.2zM98.9 135.3h1.2v1.2h-1.2zM95.9 133.0h1.2v1.2h-1.2zM111.8 135.7h1.2v1.2h-1.2zM126.6 135.3h1.2v1.2h-1.2zM125.2 133.8h1.2v1.2h-1.2zM130.2 135.0h1.2v1.2h-1.2zM124.5 135.7h1.2v1.2h-1.2zM118.9 130.2h1.2v1.2h-1.2zM99.8 131.6h1.2v1.2h-1.2zM83.0 135.4h1.2v1.2h-1.2zM118.2 136.3h1.2v1.2h-1.2zM107.0 135.5h1.2v1.2h-1.2zM108.9 132.6h1.2v1.2h-1.2zM115.9 134.7h1.2v1.2h-1.2zM118.7 136.4h1.2v1.2h-1.2zM121.5 136.5h1.2v1.2h-1.2zM127.8 130.4h1.2v1.2h-1.2zM123.5 136.4h1.2v1.2h-1.2zM122.1 136.5h1.2v1.2h-1.2zM116.6 136.2h1.2v1.2h-1.2zM127.1 135.0h1.2v1.2h-1.2zM91.1 136.6h1.2v1.2h-1.2zM111.6 135.2h1.2v1.2h-1.2zM120.6 135.7h1.2v1.2h-1.2zM130.7 135.9h1.2v1.2h-1.2zM119.5 136.0h1.2v1.2h-1.2zM99.0 133.6h1.2v1.2h-1.2zM105.4 134.1h1.2v1.2h-1.2zM120.5 135.5h1.2v1.2h-1.2zM102.4 136.4h1.2v1.2h-1.2zM127.0 136.6h1.2v1.2h-1.2zM120.5 135.6h1.2v1.2h-1.2zM83.1 132.4h1.2v1.2h-1.2zM122.9 135.5h1.2v1.2h-1.2zM129.2 134.4h1.2v1.2h-1.2zM119.7 136.3h1.2v1.2h-1.2zM98.8 136.5h1.2v1.2h-1.2zM127.6 135.6h1.2v1.2h-1.2zM89.2 136.1h1.2v1.2h-1.2zM106.9 136.0h1.2v1.2h-1.2zM90.3 136.6h1.2v1.2h-1.2zM126.7 136.0h1.2v1.2h-1.2zM102.0 136.4h1.2v1.2h-1.2zM113.7 133.1h1.2v1.2h-1.2zM121.5 136.5h1.2v1.2h-1.2zM120.8 136.2h1.2v1.2h-1.2zM128.9 136.2h1.2v1.2h-1.2zM110.5 135.2h1.2v1.2h-1.2zM128.7 136.1h1.2v1.2h-1.2zM129.8 132.5h1.2v1.2h-1.2zM109.4 135.6h1.2v1.2h-1.2zM129.8 136.2h1.2v1.2h-1.2zM126.4 136.3h1.2v1.2h-1.2zM115.7 135.2h1.2v1.2h-1.2zM119.7 134.2h1.2v1.2h-1.2zM119.3 136.0h1.2v1.2h-1.2zM113.9 131.9h1.2v1.2h-1.2zM130.1 135.5h1.2v1.2h-1.2zM128.6 134.4h1.2v1.2h-1.2zM122.2 133.7h1.2v1.2h-1.2zM113.9 131.5h1.2v1.2h-1.2zM117.6 135.2h1.2v1.2h-1.2zM121.4 135.9h1.2v1.2h-1.2zM129.2 132.6h1.2v1.2h-1.2zM129.9 132.5h1.2v1.2h-1.2zM89.3 134.9h1.2v1.2h-1.2zM85.3 135.1h1.2v1.2h-1.2zM109.9 135.2h1.2v1.2h-1.2zM127.0 136.5h1.2v1.2h-1.2zM110.0 135.6h1.2v1.2h-1.2zM128.8 135.3h1.2v1.2h-1.2zM126.2 136.1h1.2v1.2h-1.2zM98.8 135.1h1.2v1.2h-1.2zM109.7 133.9h1.2v1.2h-1.2zM122.1 135.6h1.2v1.2h-1.2zM122.2 135.9h1.2v1.2h-1.2zM107.8 133.2h1.2v1.2h-1.2zM125.5 134.6h1.2v1.2h-1.2zM127.2 136.6h1.2v1.2h-1.2zM113.2 134.2h1.2v1.2h-1.2zM124.7 128.2h1.2v1.2h-1.2zM111.4 136.0h1.2v1.2h-1.2zM109.0 133.7h1.2v1.2h-1.2zM128.6 132.8h1.2v1.2h-1.2zM122.1 136.1h1.2v1.2h-1.2zM123.6 135.4h1.2v1.2h-1.2zM119.4 136.0h1.2v1.2h-1.2zM129.9 135.0h1.2v1.2h-1.2zM111.5 134.7h1.2v1.2h-1.2zM123.1 133.5h1.2v1.2h-1.2zM130.6 136.4h1.2v1.2h-1.2zM130.6 135.3h1.2v1.2h-1.2zM119.5 136.2h1.2v1.2h-1.2zM119.4 136.6h1.2v1.2h-1.2zM130.3 131.4h1.2v1.2h-1.2zM97.6 136.5h1.2v1.2h-1.2zM114.5 135.5h1.2v1.2h-1.2zM119.0 133.7h1.2v1.2h-1.2zM115.2 132.1h1.2v1.2h-1.2zM113.3 132.7h1.2v1.2h-1.2zM129.0 133.9h1.2v1.2h-1.2zM125.0 132.6h1.2v1.2h-1.2zM106.8 131.2h1.2v1.2h-1.2zM109.3 135.8h1.2v1.2h-1.2zM119.5 134.2h1.2v1.2h-1.2zM130.0 135.4h1.2v1.2h-1.2zM118.0 134.6h1.2v1.2h-1.2zM124.5 135.1h1.2v1.2h-1.2zM110.5 135.8h1.2v1.2h-1.2zM113.3 132.9h1.2v1.2h-1.2zM123.8 135.4h1.2v1.2h-1.2zM120.7 133.7h1.2v1.2h-1.2zM126.1 136.1h1.2v1.2h-1.2zM123.2 134.9h1.2v1.2h-1.2zM128.3 130.5h1.2v1.2h-1.2zM120.2 134.5h1.2v1.2h-1.2zM122.7 136.6h1.2v1.2h-1.2zM123.4 135.3h1.2v1.2h-1.2zM129.4 130.4h1.2v1.2h-1.2zM117.3 135.6h1.2v1.2h-1.2zM130.4 136.2h1.2v1.2h-1.2zM124.6 134.9h1.2v1.2h-1.2zM128.0 135.5h1.2v1.2h-1.2zM126.0 135.3h1.2v1.2h-1.2zM113.0 135.4h1.2v1.2h-1.2zM109.6 135.1h1.2v1.2h-1.2zM129.5 134.9h1.2v1.2h-1.2zM120.7 134.3h1.2v1.2h-1.2zM88.4 135.9h1.2v1.2h-1.2zM101.8 136.2h1.2v1.2h-1.2zM114.8 136.6h1.2v1.2h-1.2zM104.2 135.7h1.2v1.2h-1.2zM121.6 135.5h1.2v1.2h-1.2zM123.7 136.2h1.2v1.2h-1.2zM112.8 135.0h1.2v1.2h-1.2zM130.0 136.1h1.2v1.2h-1.2zM89.7 136.1h1.2v1.2h-1.2zM125.6 135.2h1.2v1.2h-1.2zM123.7 131.9h1.2v1.2h-1.2zM88.7 136.2h1.2v1.2h-1.2zM128.0 135.7h1.2v1.2h-1.2zM125.8 134.8h1.2v1.2h-1.2zM97.6 136.5h1.2v1.2h-1.2zM130.5 136.4h1.2v1.2h-1.2zM125.2 136.4h1.2v1.2h-1.2zM122.2 135.9h1.2v1.2h-1.2zM110.9 131.2h1.2v1.2h-1.2zM102.8 135.0h1.2v1.2h-1.2zM128.7 135.1h1.2v1.2h-1.2zM97.9 133.2h1.2v1.2h-1.2zM128.6 136.3h1.2v1.2h-1.2zM95.3 134.7h1.2v1.2h-1.2zM108.8 136.5h1.2v1.2h-1.2zM116.1 136.6h1.2v1.2h-1.2zM110.4 134.1h1.2v1.2h-1.2zM124.9 136.6h1.2v1.2h-1.2zM110.6 126.5h1.2v1.2h-1.2zM116.0 135.9h1.2v1.2h-1.2zM124.8 134.0h1.2v1.2h-1.2zM100.2 136.2h1.2v1.2h-1.2zM103.2 135.7h1.2v1.2h-1.2zM125.2 134.6h1.2v1.2h-1.2zM105.2 133.5h1.2v1.2h-1.2zM123.0 135.7h1.2v1.2h-1.2zM106.0 131.0h1.2v1.2h-1.2zM109.3 134.7h1.2v1.2h-1.2zM103.9 132.6h1.2v1.2h-1.2zM83.8 135.4h1.2v1.2h-1.2zM123.4 136.6h1.2v1.2h-1.2zM119.4 135.9h1.2v1.2h-1.2zM130.9 128.7h1.2v1.2h-1.2zM125.3 132.3h1.2v1.2h-1.2zM130.6 135.9h1.2v1.2h-1.2zM107.4 134.8h1.2v1.2h-1.2zM113.7 135.5h1.2v1.2h-1.2zM129.4 133.8h1.2v1.2h-1.2zM108.9 135.6h1.2v1.2h-1.2zM118.2 134.0h1.2v1.2h-1.2zM120.4 135.6h1.2v1.2h-1.2zM120.7 134.5h1.2v1.2h-1.2zM110.5 136.0h1.2v1.2h-1.2zM107.9 135.9h1.2v1.2h-1.2zM113.7 135.8h1.2v1.2h-1.2zM95.7 132.1h1.2v1.2h-1.2zM107.8 135.8h1.2v1.2h-1.2zM124.2 135.7h1.2v1.2h-1.2zM116.6 136.5h1.2v1.2h-1.2zM118.8 132.4h1.2v1.2h-1.2zM129.9 133.1h1.2v1.2h-1.2zM117.9 127.0h1.2v1.2h-1.2zM111.2 134.6h1.2v1.2h-1.2zM109.4 135.7h1.2v1.2h-1.2zM129.0 133.5h1.2v1.2h-1.2zM98.7 134.6h1.2v1.2h-1.2zM127.1 135.5h1.2v1.2h-1.2zM119.8 135.9h1.2v1.2h-1.2zM120.6 135.6h1.2v1.2h-1.2zM112.8 130.7h1.2v1.2h-1.2zM94.2 136.3h1.2v1.2h-1.2zM108.3 135.8h1.2v1.2h-1.2zM116.9 135.3h1.2v1.2h-1.2zM110.2 136.0h1.2v1.2h-1.2zM113.5 135.9h1.2v1.2h-1.2zM107.5 135.5h1.2v1.2h-1.2zM115.1 127.6h1.2v1.2h-1.2zM125.8 136.6h1.2v1.2h-1.2zM96.2 135.4h1.2v1.2h-1.2zM114.9 133.8h1.2v1.2h-1.2zM97.0 135.8h1.2v1.2h-1.2zM101.4 134.5h1.2v1.2h-1.2zM103.5 135.9h1.2v1.2h-1.2zM122.5 135.9h1.2v1.2h-1.2zM124.5 135.8h1.2v1.2h-1.2zM102.0 136.5h1.2v1.2h-1.2zM120.8 135.3h1.2v1.2h-1.2zM115.1 136.0h1.2v1.2h-1.2zM108.7 133.3h1.2v1.2h-1.2zM123.5 135.5h1.2v1.2h-1.2zM127.1 136.1h1.2v1.2h-1.2zM101.6 135.0h1.2v1.2h-1.2zM121.8 135.0h1.2v1.2h-1.2zM127.7 136.6h1.2v1.2h-1.2zM124.1 135.2h1.2v1.2h-1.2zM127.8 135.4h1.2v1.2h-1.2zM124.9 136.1h1.2v1.2h-1.2zM110.2 135.9h1.2v1.2h-1.2zM110.1 134.4h1.2v1.2h-1.2zM123.7 136.5h1.2v1.2h-1.2zM102.5 135.3h1.2v1.2h-1.2zM117.6 134.8h1.2v1.2h-1.2zM118.7 132.8h1.2v1.2h-1.2zM130.8 131.1h1.2v1.2h-1.2zM116.2 135.8h1.2v1.2h-1.2zM94.4 133.0h1.2v1.2h-1.2zM117.0 136.6h1.2v1.2h-1.2zM115.9 135.8h1.2v1.2h-1.2zM117.8 133.8h1.2v1.2h-1.2zM128.7 133.7h1.2v1.2h-1.2zM125.2 136.1h1.2v1.2h-1.2zM130.3 136.4h1.2v1.2h-1.2zM126.1 135.4h1.2v1.2h-1.2zM87.8 136.3h1.2v1.2h-1.2zM125.7 135.9h1.2v1.2h-1.2zM115.2 135.9h1.2v1.2h-1.2zM113.9 136.3h1.2v1.2h-1.2zM130.2 135.2h1.2v1.2h-1.2zM111.1 136.4h1.2v1.2h-1.2zM130.1 134.8h1.2v1.2h-1.2zM129.8 132.5h1.2v1.2h-1.2zM112.9 136.3h1.2v1.2h-1.2zM122.8 136.5h1.2v1.2h-1.2zM129.5 135.9h1.2v1.2h-1.2zM98.7 132.8h1.2v1.2h-1.2zM109.4 135.0h1.2v1.2h-1.2zM117.4 135.5h1.2v1.2h-1.2zM114.5 135.5h1.2v1.2h-1.2zM123.1 133.7h1.2v1.2h-1.2zM125.4 135.8h1.2v1.2h-1.2zM113.4 131.3h1.2v1.2h-1.2zM124.4 135.7h1.2v1.2h-1.2zM123.0 136.2h1.2v1.2h-1.2zM124.2 134.1h1.2v1.2h-1.2zM127.7 135.6h1.2v1.2h-1.2zM125.8 135.2h1.2v1.2h-1.2zM108.1 136.4h1.2v1.2h-1.2zM120.7 136.3h1.2v1.2h-1.2zM114.9 134.8h1.2v1.2h-1.2zM127.1 136.2h1.2v1.2h-1.2zM125.3 136.0h1.2v1.2h-1.2zM96.6 133.3h1.2v1.2h-1.2zM106.8 135.8h1.2v1.2h-1.2zM121.5 136.2h1.2v1.2h-1.2zM121.4 131.8h1.2v1.2h-1.2zM129.4 135.8h1.2v1.2h-1.2zM127.6 133.6h1.2v1.2h-1.2zM125.4 135.5h1.2v1.2h-1.2zM130.1 134.7h1.2v1.2h-1.2zM119.8 134.0h1.2v1.2h-1.2zM111.3 134.4h1.2v1.2h-1.2zM126.2 136.1h1.2v1.2h-1.2zM116.9 136.5h1.2v1.2h-1.2zM88.5 134.6h1.2v1.2h-1.2zM120.5 135.9h1.2v1.2h-1.2zM129.7 135.3h1.2v1.2h-1.2zM108.1 136.4h1.2v1.2h-1.2zM129.3 134.8h1.2v1.2h-1.2zM121.1 134.1h1.2v1.2h-1.2zM122.8 130.2h1.2v1.2h-1.2zM99.3 136.0h1.2v1.2h-1.2zM119.1 135.2h1.2v1.2h-1.2zM121.7 133.9h1.2v1.2h-1.2zM112.1 133.9h1.2v1.2h-1.2zM126.4 135.5h1.2v1.2h-1.2zM118.9 135.2h1.2v1.2h-1.2zM130.6 134.0h1.2v1.2h-1.2zM121.8 136.3h1.2v1.2h-1.2zM101.3 135.3h1.2v1.2h-1.2zM110.2 134.5h1.2v1.2h-1.2zM115.9 132.7h1.2v1.2h-1.2zM130.0 136.0h1.2v1.2h-1.2zM128.1 135.0h1.2v1.2h-1.2zM127.1 136.6h1.2v1.2h-1.2zM128.6 136.3h1.2v1.2h-1.2zM119.0 135.6h1.2v1.2h-1.2zM121.3 136.6h1.2v1.2h-1.2zM119.4 136.1h1.2v1.2h-1.2zM129.4 136.5h1.2v1.2h-1.2zM128.4 135.8h1.2v1.2h-1.2zM128.1 135.6h1.2v1.2h-1.2zM128.1 134.5h1.2v1.2h-1.2zM98.9 136.0h1.2v1.2h-1.2zM129.7 131.3h1.2v1.2h-1.2zM129.5 134.9h1.2v1.2h-1.2zM109.2 135.6h1.2v1.2h-1.2zM96.9 136.3h1.2v1.2h-1.2zM111.3 132.8h1.2v1.2h-1.2zM96.0 133.6h1.2v1.2h-1.2zM122.1 135.5h1.2v1.2h-1.2zM101.9 135.8h1.2v1.2h-1.2zM126.4 136.5h1.2v1.2h-1.2zM127.4 136.4h1.2v1.2h-1.2zM90.2 136.0h1.2v1.2h-1.2zM124.2 130.8h1.2v1.2h-1.2zM112.9 135.7h1.2v1.2h-1.2zM129.2 135.9h1.2v1.2h-1.2zM125.6 131.9h1.2v1.2h-1.2zM122.5 130.9h1.2v1.2h-1.2zM126.1 136.5h1.2v1.2h-1.2zM95.7 136.5h1.2v1.2h-1.2zM107.1 135.2h1.2v1.2h-1.2zM125.8 133.8h1.2v1.2h-1.2zM122.3 130.1h1.2v1.2h-1.2zM118.4 132.0h1.2v1.2h-1.2zM90.0 135.9h1.2v1.2h-1.2zM112.8 134.5h1.2v1.2h-1.2zM114.6 136.6h1.2v1.2h-1.2zM113.0 134.3h1.2v1.2h-1.2zM127.6 136.4h1.2v1.2h-1.2zM129.8 135.4h1.2v1.2h-1.2zM129.2 133.6h1.2v1.2h-1.2zM122.7 128.0h1.2v1.2h-1.2zM110.6 135.7h1.2v1.2h-1.2zM127.8 135.7h1.2v1.2h-1.2zM116.6 133.5h1.2v1.2h-1.2zM96.7 136.0h1.2v1.2h-1.2zM130.5 134.9h1.2v1.2h-1.2zM113.0 134.9h1.2v1.2h-1.2zM105.9 134.0h1.2v1.2h-1.2zM115.8 133.9h1.2v1.2h-1.2zM128.8 132.0h1.2v1.2h-1.2zM114.0 136.4h1.2v1.2h-1.2zM128.1 135.0h1.2v1.2h-1.2zM125.3 132.2h1.2v1.2h-1.2zM125.9 135.5h1.2v1.2h-1.2zM120.1 132.1h1.2v1.2h-1.2zM125.3 133.1h1.2v1.2h-1.2zM111.2 135.3h1.2v1.2h-1.2zM86.1 133.2h1.2v1.2h-1.2zM109.7 135.4h1.2v1.2h-1.2zM130.2 136.2h1.2v1.2h-1.2zM114.7 136.4h1.2v1.2h-1.2zM115.1 135.9h1.2v1.2h-1.2zM123.4 133.9h1.2v1.2h-1.2zM102.7 134.4h1.2v1.2h-1.2zM121.8 135.4h1.2v1.2h-1.2zM127.3 135.1h1.2v1.2h-1.2zM129.6 132.9h1.2v1.2h-1.2zM130.2 136.4h1.2v1.2h-1.2zM114.4 136.3h1.2v1.2h-1.2zM109.4 134.8h1.2v1.2h-1.2zM128.1 132.8h1.2v1.2h-1.2zM114.3 130.2h1.2v1.2h-1.2zM106.1 135.6h1.2v1.2h-1.2zM104.2 132.2h1.2v1.2h-1.2zM112.6 136.5h1.2v1.2h-1.2zM123.7 134.7h1.2v1.2h-1.2zM123.9 136.3h1.2v1.2h-1.2zM121.5 136.4h1.2v1.2h-1.2zM121.0 136.4h1.2v1.2h-1.2zM111.0 136.2h1.2v1.2h-1.2zM88.8 136.4h1.2v1.2h-1.2zM115.6 135.0h1.2v1.2h-1.2zM127.5 135.0h1.2v1.2h-1.2zM118.7 135.1h1.2v1.2h-1.2zM127.7 135.6h1.2v1.2h-1.2zM103.1 135.1h1.2v1.2h-1.2zM126.6 136.0h1.2v1.2h-1.2zM98.5 136.5h1.2v1.2h-1.2zM120.9 135.5h1.2v1.2h-1.2zM122.3 136.6h1.2v1.2h-1.2zM129.2 133.7h1.2v1.2h-1.2zM121.6 136.1h1.2v1.2h-1.2zM121.7 136.5h1.2v1.2h-1.2zM129.6 133.8h1.2v1.2h-1.2zM109.0 136.3h1.2v1.2h-1.2zM125.0 136.5h1.2v1.2h-1.2zM125.0 135.4h1.2v1.2h-1.2zM109.5 135.5h1.2v1.2h-1.2zM102.0 126.5h1.2v1.2h-1.2zM118.0 136.5h1.2v1.2h-1.2zM128.7 134.8h1.2v1.2h-1.2zM128.7 133.0h1.2v1.2h-1.2zM130.0 136.5h1.2v1.2h-1.2zM102.2 135.3h1.2v1.2h-1.2zM117.0 136.4h1.2v1.2h-1.2zM124.6 135.9h1.2v1.2h-1.2zM110.3 134.2h1.2v1.2h-1.2zM112.7 136.3h1.2v1.2h-1.2zM121.4 132.7h1.2v1.2h-1.2zM127.9 135.9h1.2v1.2h-1.2zM116.2 128.1h1.2v1.2h-1.2zM130.5 134.7h1.2v1.2h-1.2zM121.4 135.4h1.2v1.2h-1.2zM102.7 136.4h1.2v1.2h-1.2z"/>
<path fill="#1d3ca0" d="M135.1 133.8h1v1h-1zM139.3 135.1h1v1h-1zM137.9 135.7h1v1h-1zM131.7 121.4h1v1h-1zM131.5 122.2h1v1h-1zM131.9 131.4h1v1h-1zM136.4 133.2h1v1h-1zM132.6 128.8h1v1h-1zM139.0 130.3h1v1h-1zM138.4 134.4h1v1h-1zM143.5 132.8h1v1h-1zM142.0 127.9h1v1h-1zM132.8 131.6h1v1h-1zM134.9 127.9h1v1h-1zM133.3 124.7h1v1h-1zM139.2 132.7h1v1h-1zM138.0 136.2h1v1h-1zM131.8 127.8h1v1h-1zM139.7 131.1h1v1h-1zM135.0 129.7h1v1h-1zM136.8 135.5h1v1h-1zM141.2 124.4h1v1h-1zM134.1 127.2h1v1h-1zM137.7 135.5h1v1h-1zM140.3 131.1h1v1h-1zM143.6 129.8h1v1h-1zM136.4 133.1h1v1h-1zM132.9 124.9h1v1h-1zM131.5 117.9h1v1h-1zM140.8 126.9h1v1h-1zM142.2 127.0h1v1h-1zM139.9 129.3h1v1h-1zM138.4 134.1h1v1h-1zM141.8 119.7h1v1h-1zM137.1 135.6h1v1h-1zM131.8 118.3h1v1h-1zM139.3 129.1h1v1h-1zM141.5 128.8h1v1h-1zM135.9 132.0h1v1h-1zM131.3 121.1h1v1h-1zM133.1 131.9h1v1h-1zM131.7 117.2h1v1h-1zM132.6 128.4h1v1h-1zM136.0 131.5h1v1h-1zM132.0 123.2h1v1h-1zM138.0 134.3h1v1h-1zM141.5 121.5h1v1h-1zM134.6 129.9h1v1h-1zM135.6 129.9h1v1h-1zM143.3 129.1h1v1h-1zM133.2 129.7h1v1h-1zM134.0 127.7h1v1h-1zM138.5 134.6h1v1h-1zM131.0 121.4h1v1h-1zM135.7 131.9h1v1h-1zM143.2 117.9h1v1h-1zM137.6 136.1h1v1h-1zM139.7 135.1h1v1h-1zM142.5 118.8h1v1h-1zM142.2 119.7h1v1h-1zM136.0 133.5h1v1h-1zM132.3 121.0h1v1h-1zM131.8 132.2h1v1h-1zM133.7 131.6h1v1h-1zM135.3 135.3h1v1h-1zM131.0 128.3h1v1h-1zM132.3 125.4h1v1h-1zM131.3 114.0h1v1h-1zM138.9 134.8h1v1h-1zM134.2 129.9h1v1h-1zM135.7 134.7h1v1h-1zM141.9 118.7h1v1h-1zM137.0 135.6h1v1h-1zM132.1 131.2h1v1h-1zM135.4 133.0h1v1h-1zM141.6 131.0h1v1h-1zM131.3 112.7h1v1h-1zM137.8 136.2h1v1h-1zM138.0 136.4h1v1h-1zM137.8 135.3h1v1h-1zM142.1 121.5h1v1h-1zM134.3 129.9h1v1h-1zM133.1 121.9h1v1h-1zM137.8 135.2h1v1h-1zM135.2 133.1h1v1h-1zM141.4 120.7h1v1h-1zM141.9 120.6h1v1h-1zM141.5 122.9h1v1h-1zM133.9 127.1h1v1h-1zM135.5 135.8h1v1h-1zM131.3 125.3h1v1h-1zM134.3 126.7h1v1h-1zM143.3 122.1h1v1h-1zM143.0 114.2h1v1h-1zM143.2 123.8h1v1h-1zM133.8 130.7h1v1h-1zM133.5 130.6h1v1h-1zM139.0 130.7h1v1h-1zM141.8 125.3h1v1h-1zM139.4 129.8h1v1h-1zM132.1 119.9h1v1h-1zM142.7 118.3h1v1h-1zM140.6 128.4h1v1h-1zM133.3 122.2h1v1h-1zM135.3 129.1h1v1h-1zM143.4 122.7h1v1h-1zM136.1 131.7h1v1h-1zM140.3 132.7h1v1h-1zM132.6 130.5h1v1h-1zM142.6 118.2h1v1h-1zM132.9 120.3h1v1h-1zM143.6 117.3h1v1h-1zM135.5 131.3h1v1h-1zM132.7 135.2h1v1h-1zM143.4 117.8h1v1h-1zM137.7 135.4h1v1h-1zM136.6 133.5h1v1h-1zM141.6 130.0h1v1h-1zM134.2 130.5h1v1h-1zM134.1 126.9h1v1h-1zM134.3 129.3h1v1h-1zM132.7 118.6h1v1h-1zM135.5 131.9h1v1h-1zM138.5 132.6h1v1h-1zM136.4 132.8h1v1h-1zM137.4 136.6h1v1h-1zM137.7 136.6h1v1h-1zM136.6 135.6h1v1h-1zM131.0 114.2h1v1h-1zM133.2 125.8h1v1h-1zM140.3 128.5h1v1h-1zM135.2 130.6h1v1h-1zM138.1 134.2h1v1h-1zM132.3 122.3h1v1h-1zM134.2 130.7h1v1h-1zM140.9 127.3h1v1h-1zM138.2 134.0h1v1h-1zM142.7 123.6h1v1h-1zM138.8 132.8h1v1h-1zM137.6 136.2h1v1h-1zM136.8 135.0h1v1h-1zM137.1 135.6h1v1h-1zM140.0 127.1h1v1h-1zM143.1 126.5h1v1h-1zM138.2 133.7h1v1h-1zM141.8 131.3h1v1h-1zM132.5 124.7h1v1h-1zM131.9 127.3h1v1h-1zM131.9 119.3h1v1h-1zM141.0 122.9h1v1h-1zM133.0 122.0h1v1h-1zM139.5 134.1h1v1h-1zM142.3 117.2h1v1h-1zM133.8 122.6h1v1h-1zM136.1 133.3h1v1h-1zM143.7 113.9h1v1h-1zM133.1 126.1h1v1h-1zM137.6 136.3h1v1h-1zM133.5 128.8h1v1h-1zM140.2 135.6h1v1h-1zM138.1 135.0h1v1h-1zM131.2 123.8h1v1h-1zM139.0 132.4h1v1h-1zM131.8 114.3h1v1h-1zM141.1 122.0h1v1h-1zM132.3 127.4h1v1h-1zM131.5 116.1h1v1h-1zM134.5 133.2h1v1h-1zM136.4 132.9h1v1h-1zM141.5 129.3h1v1h-1zM132.9 119.4h1v1h-1zM138.3 133.7h1v1h-1zM132.1 132.9h1v1h-1zM139.8 130.9h1v1h-1zM131.9 115.3h1v1h-1zM139.1 130.6h1v1h-1zM132.1 117.0h1v1h-1zM131.8 116.1h1v1h-1zM136.8 135.4h1v1h-1zM138.1 134.1h1v1h-1zM134.4 133.2h1v1h-1zM137.7 136.1h1v1h-1zM132.4 129.9h1v1h-1zM131.6 127.8h1v1h-1zM135.0 131.9h1v1h-1zM140.7 130.3h1v1h-1zM137.4 136.7h1v1h-1zM135.4 136.0h1v1h-1zM134.2 135.6h1v1h-1zM140.4 128.2h1v1h-1zM133.4 126.4h1v1h-1zM143.0 130.8h1v1h-1zM141.5 126.7h1v1h-1zM137.3 136.5h1v1h-1zM136.0 133.0h1v1h-1zM139.8 127.1h1v1h-1zM135.4 129.4h1v1h-1zM140.1 128.5h1v1h-1zM136.2 134.1h1v1h-1zM131.7 129.9h1v1h-1zM131.9 118.1h1v1h-1zM134.3 132.4h1v1h-1zM132.1 117.3h1v1h-1zM142.2 121.6h1v1h-1zM134.6 131.9h1v1h-1zM134.7 130.0h1v1h-1zM133.0 125.8h1v1h-1zM134.4 124.7h1v1h-1zM143.5 119.6h1v1h-1zM134.1 123.7h1v1h-1zM135.0 131.4h1v1h-1zM131.0 122.2h1v1h-1zM137.1 135.8h1v1h-1zM133.6 126.4h1v1h-1zM131.1 125.1h1v1h-1zM132.1 124.4h1v1h-1zM131.5 134.3h1v1h-1zM134.9 132.5h1v1h-1zM138.5 133.7h1v1h-1zM140.6 126.6h1v1h-1zM140.2 126.3h1v1h-1zM136.0 133.8h1v1h-1zM143.6 128.7h1v1h-1zM140.3 127.8h1v1h-1zM131.5 115.4h1v1h-1zM142.4 121.3h1v1h-1zM140.4 126.0h1v1h-1zM132.8 124.0h1v1h-1zM137.5 136.5h1v1h-1zM141.3 122.6h1v1h-1zM138.5 132.6h1v1h-1zM139.7 129.1h1v1h-1zM133.9 135.0h1v1h-1zM132.7 126.4h1v1h-1zM132.3 118.3h1v1h-1zM138.2 134.4h1v1h-1zM139.0 131.5h1v1h-1zM137.3 136.7h1v1h-1zM141.2 123.7h1v1h-1zM137.4 136.6h1v1h-1zM139.4 135.1h1v1h-1zM140.4 131.3h1v1h-1zM131.9 126.7h1v1h-1zM140.3 132.1h1v1h-1zM140.5 124.4h1v1h-1zM137.3 136.5h1v1h-1zM137.1 135.8h1v1h-1zM140.8 126.3h1v1h-1zM139.2 135.1h1v1h-1zM132.9 128.7h1v1h-1zM140.5 130.5h1v1h-1zM138.3 136.4h1v1h-1zM131.8 126.3h1v1h-1zM139.6 129.5h1v1h-1zM139.7 132.4h1v1h-1zM137.6 136.2h1v1h-1zM137.0 136.2h1v1h-1zM142.4 128.9h1v1h-1zM143.5 112.9h1v1h-1zM131.2 121.0h1v1h-1zM141.5 120.4h1v1h-1zM136.8 135.5h1v1h-1zM133.7 122.1h1v1h-1zM133.7 125.9h1v1h-1zM132.8 124.1h1v1h-1zM143.2 129.7h1v1h-1zM141.5 125.6h1v1h-1zM142.4 120.4h1v1h-1zM134.0 123.6h1v1h-1zM137.2 136.6h1v1h-1zM131.0 119.9h1v1h-1zM136.8 135.5h1v1h-1zM132.8 126.9h1v1h-1zM135.0 128.1h1v1h-1zM131.0 114.9h1v1h-1zM141.7 131.8h1v1h-1zM142.9 118.6h1v1h-1zM142.5 126.8h1v1h-1zM135.8 132.9h1v1h-1zM143.8 117.9h1v1h-1zM135.6 132.4h1v1h-1zM134.5 134.8h1v1h-1zM132.3 118.2h1v1h-1zM134.7 126.0h1v1h-1zM134.2 130.8h1v1h-1zM137.5 136.5h1v1h-1zM135.8 130.3h1v1h-1zM142.3 119.1h1v1h-1zM139.1 130.3h1v1h-1zM143.1 120.7h1v1h-1zM140.2 134.8h1v1h-1zM140.4 129.2h1v1h-1zM140.6 126.6h1v1h-1zM134.7 134.9h1v1h-1zM142.9 130.3h1v1h-1zM137.0 135.9h1v1h-1zM134.8 127.9h1v1h-1zM143.5 125.7h1v1h-1zM139.4 132.8h1v1h-1zM138.1 135.0h1v1h-1zM133.1 130.9h1v1h-1zM133.7 122.4h1v1h-1zM137.4 136.6h1v1h-1zM142.6 115.7h1v1h-1zM136.8 135.9h1v1h-1zM133.5 132.9h1v1h-1zM135.4 134.8h1v1h-1zM134.1 130.7h1v1h-1zM138.3 133.3h1v1h-1zM140.6 129.1h1v1h-1zM136.3 133.7h1v1h-1zM135.8 133.4h1v1h-1zM131.8 126.2h1v1h-1zM143.4 129.7h1v1h-1zM137.4 136.6h1v1h-1zM142.1 129.2h1v1h-1zM134.5 131.5h1v1h-1zM136.1 133.5h1v1h-1zM143.2 115.4h1v1h-1zM142.2 134.8h1v1h-1zM131.4 116.9h1v1h-1zM142.5 123.6h1v1h-1zM138.5 136.7h1v1h-1zM136.0 131.3h1v1h-1zM141.6 121.3h1v1h-1zM143.5 126.1h1v1h-1zM132.4 130.1h1v1h-1zM137.7 135.8h1v1h-1zM143.1 117.9h1v1h-1zM139.3 130.2h1v1h-1zM136.9 135.2h1v1h-1zM131.5 116.1h1v1h-1zM134.0 123.5h1v1h-1zM139.3 133.0h1v1h-1zM132.6 128.3h1v1h-1zM139.1 131.0h1v1h-1zM132.4 132.6h1v1h-1zM137.7 135.8h1v1h-1zM136.0 134.3h1v1h-1zM138.7 136.4h1v1h-1zM134.9 130.2h1v1h-1zM143.3 118.4h1v1h-1zM142.3 124.0h1v1h-1zM134.0 130.8h1v1h-1zM143.3 117.3h1v1h-1zM134.9 135.7h1v1h-1zM137.4 136.6h1v1h-1zM136.4 134.9h1v1h-1zM139.5 128.4h1v1h-1zM133.9 134.8h1v1h-1zM135.3 131.7h1v1h-1zM139.7 133.1h1v1h-1zM141.2 123.8h1v1h-1zM137.5 136.6h1v1h-1zM143.4 124.6h1v1h-1zM141.5 129.8h1v1h-1zM133.8 124.4h1v1h-1zM134.8 126.4h1v1h-1zM137.3 136.6h1v1h-1zM133.9 128.2h1v1h-1zM139.5 128.4h1v1h-1zM132.9 126.2h1v1h-1zM133.7 122.0h1v1h-1zM132.8 133.6h1v1h-1zM131.8 123.7h1v1h-1zM142.5 117.5h1v1h-1zM140.4 124.6h1v1h-1zM142.9 125.2h1v1h-1zM133.4 121.0h1v1h-1zM140.6 135.1h1v1h-1zM139.5 131.9h1v1h-1zM135.8 133.3h1v1h-1zM133.2 136.2h1v1h-1zM134.6 130.6h1v1h-1zM143.2 130.0h1v1h-1zM143.4 127.3h1v1h-1zM135.6 130.1h1v1h-1zM141.5 126.6h1v1h-1zM131.6 121.8h1v1h-1zM135.8 130.4h1v1h-1zM133.5 128.0h1v1h-1zM142.5 134.2h1v1h-1zM136.3 132.6h1v1h-1zM140.8 134.7h1v1h-1zM131.4 132.1h1v1h-1zM142.8 127.1h1v1h-1zM140.6 124.7h1v1h-1zM135.3 132.9h1v1h-1zM143.3 118.9h1v1h-1zM134.4 126.6h1v1h-1zM135.0 132.3h1v1h-1zM131.0 114.9h1v1h-1zM142.7 120.3h1v1h-1zM143.1 134.2h1v1h-1zM134.0 127.9h1v1h-1zM143.3 113.7h1v1h-1zM135.9 134.1h1v1h-1zM136.5 134.3h1v1h-1zM142.9 128.7h1v1h-1zM141.3 123.6h1v1h-1zM141.5 122.4h1v1h-1zM138.8 133.8h1v1h-1zM135.1 131.6h1v1h-1zM141.0 133.5h1v1h-1zM133.5 123.5h1v1h-1zM134.2 134.2h1v1h-1zM131.4 119.8h1v1h-1zM135.2 127.8h1v1h-1zM142.3 116.9h1v1h-1zM134.4 133.9h1v1h-1zM132.2 122.9h1v1h-1zM140.1 130.0h1v1h-1zM134.0 128.5h1v1h-1zM138.9 131.8h1v1h-1zM140.6 125.1h1v1h-1zM139.5 134.3h1v1h-1zM141.8 128.2h1v1h-1zM138.3 134.8h1v1h-1zM140.5 132.0h1v1h-1zM134.2 131.1h1v1h-1zM133.0 120.0h1v1h-1zM138.4 134.6h1v1h-1zM136.1 131.3h1v1h-1zM137.5 136.5h1v1h-1zM141.4 124.3h1v1h-1zM143.7 130.2h1v1h-1zM137.1 135.5h1v1h-1zM141.8 120.0h1v1h-1zM131.5 125.3h1v1h-1zM132.5 129.4h1v1h-1zM143.5 118.9h1v1h-1zM142.9 124.4h1v1h-1zM142.1 124.9h1v1h-1zM134.3 126.0h1v1h-1zM143.1 130.7h1v1h-1zM138.6 133.0h1v1h-1zM133.8 128.6h1v1h-1zM132.8 129.5h1v1h-1zM134.3 127.3h1v1h-1zM139.3 133.7h1v1h-1zM131.1 123.7h1v1h-1zM139.7 133.3h1v1h-1zM135.0 133.0h1v1h-1zM141.2 126.0h1v1h-1zM131.8 131.0h1v1h-1zM136.1 132.9h1v1h-1zM139.2 135.0h1v1h-1zM133.1 122.7h1v1h-1zM136.2 134.5h1v1h-1zM134.9 127.0h1v1h-1zM135.0 129.8h1v1h-1zM135.6 132.3h1v1h-1zM142.1 117.8h1v1h-1zM135.7 134.0h1v1h-1zM140.3 132.1h1v1h-1zM131.1 112.6h1v1h-1zM136.4 133.2h1v1h-1zM136.2 132.2h1v1h-1zM136.9 136.0h1v1h-1zM131.2 119.1h1v1h-1zM139.2 129.8h1v1h-1zM132.1 120.7h1v1h-1zM135.7 132.3h1v1h-1zM132.9 128.1h1v1h-1zM137.7 135.7h1v1h-1zM132.4 123.5h1v1h-1zM141.3 121.2h1v1h-1zM133.5 132.2h1v1h-1zM143.1 114.0h1v1h-1zM137.2 136.5h1v1h-1zM142.9 124.2h1v1h-1zM142.6 120.9h1v1h-1zM141.6 131.1h1v1h-1zM141.1 130.7h1v1h-1zM136.2 132.2h1v1h-1zM141.6 130.5h1v1h-1zM133.8 128.3h1v1h-1zM137.6 136.2h1v1h-1zM132.6 128.2h1v1h-1zM140.3 125.8h1v1h-1zM131.5 119.8h1v1h-1zM140.7 134.8h1v1h-1zM141.7 131.8h1v1h-1zM138.7 133.1h1v1h-1zM139.0 133.5h1v1h-1zM136.4 133.7h1v1h-1zM136.4 133.7h1v1h-1zM136.7 135.0h1v1h-1zM131.3 118.2h1v1h-1zM137.3 136.5h1v1h-1zM140.8 124.9h1v1h-1zM136.9 135.9h1v1h-1zM137.1 136.3h1v1h-1zM132.6 125.1h1v1h-1zM132.2 123.7h1v1h-1zM137.5 136.6h1v1h-1zM139.1 135.1h1v1h-1zM140.4 126.3h1v1h-1zM137.5 136.6h1v1h-1zM137.5 136.6h1v1h-1zM143.2 129.6h1v1h-1zM142.0 118.2h1v1h-1zM140.4 126.0h1v1h-1zM133.5 121.0h1v1h-1zM137.3 136.3h1v1h-1zM142.7 129.4h1v1h-1zM141.1 122.4h1v1h-1zM131.8 124.7h1v1h-1zM140.7 132.3h1v1h-1zM142.5 127.2h1v1h-1zM141.4 131.6h1v1h-1zM137.4 136.6h1v1h-1zM133.7 129.9h1v1h-1zM137.5 136.5h1v1h-1zM131.5 128.0h1v1h-1zM133.1 119.8h1v1h-1zM139.7 128.0h1v1h-1zM133.2 121.8h1v1h-1zM132.5 123.0h1v1h-1zM139.1 132.9h1v1h-1zM142.2 123.1h1v1h-1zM138.4 132.8h1v1h-1zM132.3 116.3h1v1h-1zM139.1 132.8h1v1h-1zM141.2 129.7h1v1h-1zM143.7 118.4h1v1h-1zM135.6 130.5h1v1h-1zM136.7 135.6h1v1h-1zM140.5 134.6h1v1h-1zM141.5 129.4h1v1h-1zM139.2 129.5h1v1h-1zM138.5 133.2h1v1h-1zM135.0 136.5h1v1h-1zM131.4 129.0h1v1h-1zM138.9 133.1h1v1h-1zM137.6 136.1h1v1h-1zM132.7 128.9h1v1h-1zM139.4 135.9h1v1h-1zM131.0 122.8h1v1h-1zM132.4 125.7h1v1h-1zM133.9 126.3h1v1h-1zM138.5 134.9h1v1h-1zM139.0 132.6h1v1h-1zM132.7 118.5h1v1h-1zM134.1 132.4h1v1h-1zM132.2 120.7h1v1h-1zM142.2 120.1h1v1h-1zM136.1 134.4h1v1h-1zM131.1 117.2h1v1h-1zM138.2 135.0h1v1h-1zM139.3 132.1h1v1h-1zM143.0 117.9h1v1h-1zM134.2 124.4h1v1h-1zM131.6 120.5h1v1h-1zM136.2 134.6h1v1h-1zM131.7 117.0h1v1h-1zM131.1 119.0h1v1h-1zM143.1 129.6h1v1h-1zM133.5 125.1h1v1h-1zM137.5 136.4h1v1h-1zM141.4 131.0h1v1h-1zM135.0 131.9h1v1h-1zM131.6 114.9h1v1h-1zM141.0 124.7h1v1h-1zM131.1 113.6h1v1h-1zM140.5 128.7h1v1h-1zM140.5 128.9h1v1h-1zM133.9 133.0h1v1h-1zM134.0 134.7h1v1h-1zM135.3 129.5h1v1h-1zM139.9 127.5h1v1h-1zM140.1 131.7h1v1h-1zM138.1 135.0h1v1h-1zM141.1 126.6h1v1h-1zM134.4 127.4h1v1h-1zM143.4 127.0h1v1h-1zM142.3 135.1h1v1h-1zM134.3 131.5h1v1h-1zM140.5 124.5h1v1h-1zM140.6 130.2h1v1h-1zM142.3 126.6h1v1h-1zM134.1 123.9h1v1h-1zM139.1 131.3h1v1h-1zM139.5 128.2h1v1h-1zM137.0 135.3h1v1h-1zM139.9 127.3h1v1h-1zM136.6 134.0h1v1h-1zM138.3 134.9h1v1h-1zM133.7 125.5h1v1h-1zM132.0 116.0h1v1h-1zM132.8 134.6h1v1h-1zM132.4 117.2h1v1h-1zM135.4 134.2h1v1h-1zM131.4 133.1h1v1h-1zM139.9 129.1h1v1h-1zM139.9 128.2h1v1h-1zM131.8 120.3h1v1h-1zM135.6 130.4h1v1h-1zM141.5 121.2h1v1h-1zM131.8 116.0h1v1h-1zM142.7 115.9h1v1h-1zM132.4 128.8h1v1h-1zM132.4 134.0h1v1h-1zM141.9 120.8h1v1h-1zM139.1 130.5h1v1h-1zM139.1 133.5h1v1h-1zM132.3 131.6h1v1h-1zM140.7 131.5h1v1h-1zM135.1 131.1h1v1h-1zM131.3 125.7h1v1h-1zM134.6 127.5h1v1h-1zM135.7 133.2h1v1h-1zM143.3 120.7h1v1h-1zM141.9 123.0h1v1h-1zM131.4 122.4h1v1h-1zM136.6 133.9h1v1h-1zM135.4 130.3h1v1h-1zM137.9 135.9h1v1h-1zM142.0 132.2h1v1h-1zM141.5 131.0h1v1h-1zM131.0 126.8h1v1h-1zM140.8 123.3h1v1h-1zM131.0 119.9h1v1h-1zM137.3 136.3h1v1h-1zM133.4 126.0h1v1h-1zM135.4 129.6h1v1h-1zM134.3 124.7h1v1h-1zM134.6 132.2h1v1h-1zM140.0 129.9h1v1h-1zM132.4 121.3h1v1h-1zM132.0 117.8h1v1h-1zM139.9 127.8h1v1h-1zM139.0 133.1h1v1h-1zM136.1 133.8h1v1h-1zM142.4 132.0h1v1h-1zM142.4 134.5h1v1h-1zM133.6 129.9h1v1h-1zM142.5 122.9h1v1h-1zM135.9 130.9h1v1h-1zM134.0 128.0h1v1h-1zM137.8 135.3h1v1h-1zM140.6 126.6h1v1h-1zM135.5 132.7h1v1h-1zM133.0 120.6h1v1h-1zM139.5 129.7h1v1h-1zM133.2 126.2h1v1h-1zM140.9 126.5h1v1h-1zM132.6 124.5h1v1h-1zM142.3 128.3h1v1h-1zM133.4 128.9h1v1h-1zM140.0 127.2h1v1h-1zM133.0 130.8h1v1h-1zM134.2 130.0h1v1h-1zM137.7 136.3h1v1h-1zM135.2 133.4h1v1h-1zM143.5 116.3h1v1h-1zM132.3 116.5h1v1h-1zM132.3 125.1h1v1h-1zM143.6 114.8h1v1h-1zM140.4 129.4h1v1h-1zM133.5 124.7h1v1h-1zM132.4 128.8h1v1h-1zM136.0 135.9h1v1h-1zM136.1 132.1h1v1h-1zM139.9 130.1h1v1h-1zM139.1 132.4h1v1h-1zM132.8 123.0h1v1h-1zM136.2 132.6h1v1h-1zM142.6 123.9h1v1h-1zM138.3 133.5h1v1h-1zM136.4 135.0h1v1h-1zM140.2 126.0h1v1h-1zM140.9 125.2h1v1h-1zM141.9 122.2h1v1h-1zM139.2 132.1h1v1h-1zM135.0 129.4h1v1h-1zM132.2 124.3h1v1h-1zM141.0 124.7h1v1h-1zM139.1 133.8h1v1h-1zM136.4 134.2h1v1h-1zM139.0 133.0h1v1h-1zM139.6 128.0h1v1h-1zM133.3 123.9h1v1h-1zM141.0 128.5h1v1h-1zM137.3 136.2h1v1h-1zM131.5 120.1h1v1h-1zM133.1 121.5h1v1h-1zM143.0 121.3h1v1h-1zM132.3 121.9h1v1h-1zM137.9 135.0h1v1h-1zM137.6 136.2h1v1h-1zM141.6 125.1h1v1h-1zM136.3 132.2h1v1h-1zM133.7 124.7h1v1h-1zM136.0 132.0h1v1h-1zM132.6 117.3h1v1h-1zM135.5 135.4h1v1h-1zM134.5 129.9h1v1h-1zM131.2 121.7h1v1h-1zM136.4 133.4h1v1h-1zM135.5 133.2h1v1h-1zM133.9 124.7h1v1h-1zM143.0 121.2h1v1h-1zM133.8 123.9h1v1h-1zM136.0 134.5h1v1h-1zM132.6 120.2h1v1h-1zM141.4 124.5h1v1h-1zM137.0 135.6h1v1h-1zM133.9 122.8h1v1h-1zM135.5 130.9h1v1h-1zM141.5 122.1h1v1h-1zM137.0 135.9h1v1h-1zM138.0 136.0h1v1h-1zM141.7 127.4h1v1h-1zM141.9 128.5h1v1h-1zM135.8 133.9h1v1h-1zM136.5 135.3h1v1h-1zM131.0 115.5h1v1h-1zM134.6 131.8h1v1h-1zM134.9 130.1h1v1h-1zM136.5 133.9h1v1h-1zM139.4 132.2h1v1h-1zM142.9 116.5h1v1h-1zM131.7 116.2h1v1h-1zM142.6 118.5h1v1h-1zM132.8 120.0h1v1h-1zM139.1 136.1h1v1h-1zM131.1 112.1h1v1h-1zM139.4 133.2h1v1h-1zM132.3 130.3h1v1h-1zM134.0 124.8h1v1h-1zM135.4 134.1h1v1h-1zM142.6 118.5h1v1h-1zM133.1 120.6h1v1h-1zM138.8 131.9h1v1h-1zM139.6 128.5h1v1h-1zM141.1 123.2h1v1h-1zM133.5 124.1h1v1h-1zM137.8 135.4h1v1h-1zM136.6 133.7h1v1h-1zM138.1 135.4h1v1h-1zM134.0 132.5h1v1h-1zM137.3 136.6h1v1h-1zM137.0 136.2h1v1h-1zM137.3 136.4h1v1h-1zM137.9 134.8h1v1h-1zM131.1 113.6h1v1h-1zM137.0 135.5h1v1h-1zM139.5 129.0h1v1h-1zM135.8 132.9h1v1h-1zM143.3 131.6h1v1h-1zM139.2 131.3h1v1h-1zM131.4 118.5h1v1h-1zM139.7 127.6h1v1h-1zM135.2 128.0h1v1h-1zM137.5 136.3h1v1h-1zM142.5 134.0h1v1h-1zM140.2 128.2h1v1h-1zM135.3 129.0h1v1h-1zM135.7 132.3h1v1h-1zM137.7 135.6h1v1h-1zM133.7 127.6h1v1h-1zM136.4 133.9h1v1h-1zM141.6 128.6h1v1h-1zM141.6 126.8h1v1h-1zM137.4 136.6h1v1h-1zM137.5 136.4h1v1h-1zM139.4 129.7h1v1h-1zM135.2 132.3h1v1h-1zM134.8 129.1h1v1h-1zM139.1 130.7h1v1h-1zM131.5 117.1h1v1h-1zM142.3 122.8h1v1h-1zM131.6 125.3h1v1h-1zM131.1 127.2h1v1h-1zM142.8 120.5h1v1h-1zM139.4 129.6h1v1h-1zM142.7 120.9h1v1h-1zM138.9 132.1h1v1h-1zM139.9 129.2h1v1h-1zM139.7 133.0h1v1h-1zM139.5 131.3h1v1h-1zM140.8 133.2h1v1h-1zM133.3 134.4h1v1h-1zM140.9 123.2h1v1h-1zM139.4 132.3h1v1h-1zM141.5 122.2h1v1h-1zM138.2 135.3h1v1h-1zM134.9 130.6h1v1h-1zM135.1 131.0h1v1h-1zM139.2 129.6h1v1h-1zM131.7 120.2h1v1h-1zM131.5 130.0h1v1h-1zM141.4 125.1h1v1h-1zM142.8 123.3h1v1h-1zM131.2 122.4h1v1h-1zM138.6 132.1h1v1h-1zM143.6 120.7h1v1h-1zM136.3 135.5h1v1h-1zM139.3 133.7h1v1h-1zM132.9 135.2h1v1h-1zM131.0 116.2h1v1h-1zM132.5 117.5h1v1h-1zM132.1 117.0h1v1h-1zM132.6 135.0h1v1h-1zM140.2 131.8h1v1h-1zM140.4 132.3h1v1h-1zM131.6 116.7h1v1h-1zM140.1 126.6h1v1h-1zM140.3 134.0h1v1h-1zM139.0 131.3h1v1h-1zM136.9 134.7h1v1h-1zM134.2 124.2h1v1h-1zM140.2 135.9h1v1h-1zM131.2 117.2h1v1h-1zM141.5 133.1h1v1h-1zM135.0 128.6h1v1h-1zM133.1 120.9h1v1h-1zM137.2 136.6h1v1h-1zM135.7 131.8h1v1h-1zM136.6 134.2h1v1h-1zM132.8 120.6h1v1h-1zM135.6 131.2h1v1h-1zM139.1 132.7h1v1h-1zM135.9 131.6h1v1h-1zM143.1 116.7h1v1h-1zM138.3 135.0h1v1h-1zM131.8 114.3h1v1h-1zM140.0 127.3h1v1h-1zM135.2 130.2h1v1h-1zM143.5 114.5h1v1h-1zM138.7 134.1h1v1h-1zM136.5 133.2h1v1h-1zM135.8 131.6h1v1h-1zM138.7 131.8h1v1h-1zM141.3 129.2h1v1h-1zM131.0 125.1h1v1h-1zM136.4 133.8h1v1h-1zM141.5 121.4h1v1h-1zM131.5 115.4h1v1h-1zM141.4 121.8h1v1h-1zM138.3 135.0h1v1h-1zM141.9 120.7h1v1h-1zM139.8 127.6h1v1h-1zM135.4 134.9h1v1h-1zM138.1 134.3h1v1h-1zM133.6 123.6h1v1h-1zM142.9 127.3h1v1h-1zM138.8 132.3h1v1h-1zM137.0 136.0h1v1h-1zM134.3 126.0h1v1h-1zM141.1 127.2h1v1h-1zM132.1 117.9h1v1h-1zM140.9 130.8h1v1h-1zM138.4 132.8h1v1h-1zM142.3 123.2h1v1h-1zM137.1 135.8h1v1h-1zM133.4 130.7h1v1h-1zM133.3 123.3h1v1h-1zM135.6 131.6h1v1h-1zM136.1 133.3h1v1h-1zM132.9 133.9h1v1h-1zM143.8 122.4h1v1h-1zM132.3 121.2h1v1h-1zM141.1 131.8h1v1h-1zM138.6 134.0h1v1h-1zM137.6 136.6h1v1h-1zM131.4 112.6h1v1h-1zM142.1 124.4h1v1h-1zM138.3 135.1h1v1h-1zM141.0 128.0h1v1h-1zM143.1 116.9h1v1h-1zM141.5 120.5h1v1h-1zM134.2 134.9h1v1h-1zM133.6 131.1h1v1h-1zM132.1 133.1h1v1h-1zM138.1 134.0h1v1h-1zM136.9 134.6h1v1h-1zM142.7 132.6h1v1h-1zM138.7 133.8h1v1h-1zM132.5 117.5h1v1h-1zM134.3 127.8h1v1h-1zM139.2 129.6h1v1h-1zM139.6 131.7h1v1h-1zM136.7 135.8h1v1h-1zM143.4 112.7h1v1h-1zM133.8 134.7h1v1h-1zM134.3 129.9h1v1h-1zM142.6 117.0h1v1h-1zM141.7 133.9h1v1h-1zM141.1 124.6h1v1h-1zM139.3 129.2h1v1h-1zM131.7 129.5h1v1h-1zM140.7 124.0h1v1h-1zM139.7 132.3h1v1h-1zM138.6 132.7h1v1h-1zM132.3 126.3h1v1h-1zM134.3 133.1h1v1h-1zM137.2 136.4h1v1h-1zM134.0 132.5h1v1h-1zM139.7 136.0h1v1h-1zM140.2 132.5h1v1h-1zM131.5 113.7h1v1h-1zM133.8 122.8h1v1h-1zM142.1 119.0h1v1h-1zM132.8 125.2h1v1h-1zM132.2 116.7h1v1h-1zM141.8 123.3h1v1h-1zM136.8 135.4h1v1h-1zM141.5 125.9h1v1h-1zM139.0 134.6h1v1h-1zM133.8 134.1h1v1h-1zM140.1 128.9h1v1h-1zM132.8 119.7h1v1h-1zM134.4 129.6h1v1h-1zM133.0 128.5h1v1h-1zM141.8 127.6h1v1h-1zM133.1 125.4h1v1h-1zM135.1 127.8h1v1h-1zM132.5 116.9h1v1h-1zM131.7 115.2h1v1h-1zM139.6 133.3h1v1h-1zM137.1 136.1h1v1h-1zM134.3 131.9h1v1h-1zM135.7 129.7h1v1h-1zM143.8 112.0h1v1h-1zM132.2 126.8h1v1h-1zM142.5 133.0h1v1h-1zM140.3 131.1h1v1h-1zM143.5 134.6h1v1h-1zM141.3 128.3h1v1h-1zM132.8 136.3h1v1h-1zM141.7 125.0h1v1h-1zM133.4 126.8h1v1h-1zM142.7 128.1h1v1h-1zM138.3 135.6h1v1h-1zM133.3 122.5h1v1h-1zM140.1 132.6h1v1h-1zM132.0 131.6h1v1h-1zM138.8 133.0h1v1h-1zM134.5 132.2h1v1h-1zM138.8 132.0h1v1h-1zM141.4 125.0h1v1h-1zM133.6 133.7h1v1h-1zM140.4 129.6h1v1h-1zM140.2 134.7h1v1h-1zM141.4 128.3h1v1h-1zM141.8 120.4h1v1h-1zM137.3 136.7h1v1h-1zM142.7 123.1h1v1h-1zM142.2 128.0h1v1h-1zM133.4 122.1h1v1h-1zM135.7 134.4h1v1h-1zM135.7 131.8h1v1h-1zM131.0 119.3h1v1h-1zM136.7 134.8h1v1h-1zM132.5 120.6h1v1h-1zM141.5 121.6h1v1h-1zM135.1 129.1h1v1h-1zM135.9 131.5h1v1h-1zM131.8 115.7h1v1h-1zM143.2 121.3h1v1h-1zM137.6 136.2h1v1h-1zM137.9 136.5h1v1h-1zM143.4 126.8h1v1h-1zM133.3 132.5h1v1h-1zM134.2 125.2h1v1h-1zM131.4 130.7h1v1h-1zM140.0 132.8h1v1h-1zM131.2 118.3h1v1h-1zM138.4 134.0h1v1h-1zM140.0 134.0h1v1h-1zM142.1 121.0h1v1h-1zM131.6 130.0h1v1h-1zM137.3 136.5h1v1h-1zM134.6 133.5h1v1h-1zM136.2 135.2h1v1h-1zM138.6 132.3h1v1h-1zM132.9 123.6h1v1h-1zM140.6 132.4h1v1h-1zM141.6 120.4h1v1h-1zM136.0 133.3h1v1h-1zM141.8 124.7h1v1h-1zM136.1 131.5h1v1h-1zM141.0 129.2h1v1h-1zM134.1 129.7h1v1h-1zM136.6 133.4h1v1h-1zM141.3 121.7h1v1h-1zM141.4 121.9h1v1h-1zM131.7 121.1h1v1h-1zM143.3 113.9h1v1h-1zM134.2 128.9h1v1h-1zM139.1 132.9h1v1h-1zM137.8 136.4h1v1h-1zM136.5 134.4h1v1h-1zM131.3 129.1h1v1h-1zM143.4 115.8h1v1h-1zM143.0 119.5h1v1h-1zM141.4 121.8h1v1h-1zM142.3 134.1h1v1h-1z"/>
<g stroke="#444" stroke-width="1.2" stroke-dasharray="3.2 2">
<line x1="42.5" y1="137.5" x2="212" y2="137.5"/>
<line x1="131.8" y1="12.5" x2="131.8" y2="137.2"/>
<line x1="144.7" y1="12.5" x2="144.7" y2="137.2"/>
</g>
<line x1="131.8" y1="137.6" x2="144.7" y2="137.6" stroke="#111" stroke-width="1.3" />
<circle cx="55.15" cy="36.62" r="2.3" fill="#3cc0e4"/>
<circle cx="120.91" cy="38.2" r="2.3" fill="#3cc0e4"/>
<circle cx="127.27" cy="96.81" r="2.3" fill="#3cc0e4"/>
<circle cx="127.6" cy="106.71" r="2.3" fill="#3cc0e4"/>
<circle cx="128.91" cy="117.4" r="2.3" fill="#3cc0e4"/>
<circle cx="129.68" cy="123.74" r="2.3" fill="#3cc0e4"/>
<circle cx="125.84" cy="125.32" r="2.3" fill="#3cc0e4"/>
<circle cx="123.65" cy="128.49" r="2.3" fill="#3cc0e4"/>
<circle cx="129.13" cy="130.86" r="2.3" fill="#3cc0e4"/>
<circle cx="126.39" cy="132.45" r="2.3" fill="#3cc0e4"/>
<circle cx="130.78" cy="134.82" r="2.3" fill="#3cc0e4"/>
<circle cx="121.46" cy="134.03" r="2.3" fill="#3cc0e4"/>
<circle cx="128.04" cy="127.7" r="2.3" fill="#3cc0e4"/>
<circle cx="124.75" cy="135.62" r="2.3" fill="#3cc0e4"/>
<rect x="42.5" y="12.3" width="169.5" height="131" fill="none" stroke="#000" stroke-width="1.1"/>
<line x1="39.2" y1="137.2" x2="42.5" y2="137.2" stroke="#231f20" stroke-width="1" />
<text transform="translate(37 140)" font-size="7.7" text-anchor="end" fill="#111"  stroke="#111" stroke-width="0.15">0</text>
<line x1="39.2" y1="97.6" x2="42.5" y2="97.6" stroke="#231f20" stroke-width="1" />
<text transform="translate(37 100.4)" font-size="7.7" text-anchor="end" fill="#111"  stroke="#111" stroke-width="0.15">100</text>
<line x1="39.2" y1="58" x2="42.5" y2="58" stroke="#231f20" stroke-width="1" />
<text transform="translate(37 60.8)" font-size="7.7" text-anchor="end" fill="#111"  stroke="#111" stroke-width="0.15">200</text>
<line x1="39.2" y1="18.4" x2="42.5" y2="18.4" stroke="#231f20" stroke-width="1" />
<text transform="translate(37 21.2)" font-size="7.7" text-anchor="end" fill="#111"  stroke="#111" stroke-width="0.15">300</text>
<line x1="50.22" y1="143.3" x2="50.22" y2="146.3" stroke="#231f20" stroke-width="1" />
<text transform="translate(50.22 156.2)" font-size="7.7" text-anchor="middle" fill="#111"  stroke="#111" stroke-width="0.15">−8</text>
<line x1="94.06" y1="143.3" x2="94.06" y2="146.3" stroke="#231f20" stroke-width="1" />
<text transform="translate(94.06 156.2)" font-size="7.7" text-anchor="middle" fill="#111"  stroke="#111" stroke-width="0.15">−4</text>
<line x1="137.9" y1="143.3" x2="137.9" y2="146.3" stroke="#231f20" stroke-width="1" />
<text transform="translate(137.9 156.2)" font-size="7.7" text-anchor="middle" fill="#111"  stroke="#111" stroke-width="0.15">0</text>
<line x1="181.74" y1="143.3" x2="181.74" y2="146.3" stroke="#231f20" stroke-width="1" />
<text transform="translate(181.74 156.2)" font-size="7.7" text-anchor="middle" fill="#111"  stroke="#111" stroke-width="0.15">4</text>
<text transform="translate(127.3 169.3) scale(0.755 1)" font-size="10.0" text-anchor="middle" fill="#111"  stroke="#111" stroke-width="0.15">log2 fold change</text>
<text transform="translate(14.4 77.7) rotate(-90) scale(0.79 1)" font-size="10.0" text-anchor="middle" fill="#111"  stroke="#111" stroke-width="0.15">-log10 padj</text>
<text transform="translate(64.5 20.7)" font-size="7.5" text-anchor="start" fill="#111"  stroke="#111" stroke-width="0.15">1734 down</text>
<text transform="translate(158.5 20.7)" font-size="7.5" text-anchor="start" fill="#111"  stroke="#111" stroke-width="0.15">1630 up</text>
<text transform="translate(45.6 31)" font-size="7.5" text-anchor="start" fill="#111"  stroke="#111" stroke-width="0.15">HEMGN</text>
<text transform="translate(111.8 31)" font-size="7.5" text-anchor="start" fill="#111"  stroke="#111" stroke-width="0.15">HMBS</text>
<text transform="translate(115.5 90) scale(0.9 1)" font-size="7.6" text-anchor="start" fill="#111"  stroke="#111" stroke-width="0.15">KEL</text>
<text transform="translate(108.5 100.5) scale(0.9 1)" font-size="7.6" text-anchor="start" fill="#111"  stroke="#111" stroke-width="0.15">HBZ</text>
<text transform="translate(109 110) scale(0.9 1)" font-size="7.6" text-anchor="start" fill="#111"  stroke="#111" stroke-width="0.15">KLF1</text>
<text transform="translate(102.8 118.5) scale(0.9 1)" font-size="7.6" text-anchor="start" fill="#111"  stroke="#111" stroke-width="0.15">HBG1</text>
<text transform="translate(90 126) scale(0.9 1)" font-size="7.6" text-anchor="start" fill="#111"  stroke="#111" stroke-width="0.15">BGLT3</text>
<text transform="translate(88.5 134) scale(0.9 1)" font-size="7.6" text-anchor="start" fill="#111"  stroke="#111" stroke-width="0.15">SLC4A1</text>
<text transform="translate(97.5 142.5) scale(0.9 1)" font-size="7.6" text-anchor="start" fill="#111"  stroke="#111" stroke-width="0.15">EPB42</text>
<line x1="121.5" y1="90.8" x2="129" y2="96.5" stroke="#111" stroke-width="0.7" />
<line x1="121.2" y1="100.3" x2="129" y2="106" stroke="#111" stroke-width="0.7" />
<line x1="123.8" y1="110.8" x2="130" y2="117" stroke="#111" stroke-width="0.7" />
<line x1="119.2" y1="120" x2="126.2" y2="126" stroke="#111" stroke-width="0.7" />
<line x1="112.3" y1="123" x2="123" y2="130" stroke="#111" stroke-width="0.7" />
<line x1="114.6" y1="131" x2="123.8" y2="132.3" stroke="#111" stroke-width="0.7" />
<line x1="118.5" y1="140" x2="124.6" y2="137.7" stroke="#111" stroke-width="0.7" />
<text transform="translate(134.5 120.5) scale(0.9 1)" font-size="7.6" text-anchor="start" fill="#2a2a2a"  stroke="#2a2a2a" stroke-width="0.15">HBA</text>
<text transform="translate(137 129.3) scale(0.9 1)" font-size="7.6" text-anchor="start" fill="#2a2a2a"  stroke="#2a2a2a" stroke-width="0.15">EPOR</text>
<text transform="translate(137 136.3) scale(0.9 1)" font-size="7.6" text-anchor="start" fill="#2a2a2a"  stroke="#2a2a2a" stroke-width="0.15">HBG2</text>
<text transform="translate(5.8 189.6)" font-size="11" text-anchor="start" fill="#000" font-weight="bold" stroke="#000" stroke-width="0.3">B</text>
<path stroke="#f9dc9a" stroke-width="0.9" d="M82.1 272.7h3.4M83.8 271.0v3.4M80.8 277.2h3.4M82.5 275.5v3.4M70.7 293.4h3.4M72.4 291.7v3.4M70.7 291.9h3.4M72.4 290.2v3.4M73.6 271.5h3.4M75.3 269.8v3.4M67.2 286.3h3.4M68.9 284.6v3.4M68.1 272.4h3.4M69.8 270.7v3.4M78.1 267.5h3.4M79.8 265.8v3.4M70.0 283.0h3.4M71.7 281.3v3.4M78.6 284.3h3.4M80.3 282.6v3.4M82.3 264.8h3.4M84.0 263.1v3.4M60.7 271.9h3.4M62.4 270.2v3.4M68.0 290.2h3.4M69.7 288.5v3.4M87.3 282.2h3.4M89.0 280.5v3.4M85.0 273.4h3.4M86.7 271.7v3.4M70.5 280.8h3.4M72.2 279.1v3.4M76.6 272.6h3.4M78.3 270.9v3.4M87.1 266.5h3.4M88.8 264.8v3.4M77.4 263.9h3.4M79.1 262.2v3.4M66.4 264.4h3.4M68.1 262.7v3.4M90.6 262.9h3.4M92.3 261.2v3.4M84.7 279.3h3.4M86.4 277.6v3.4M79.1 271.7h3.4M80.8 270.0v3.4M83.5 269.9h3.4M85.2 268.2v3.4M78.8 281.3h3.4M80.5 279.6v3.4M68.3 276.7h3.4M70.0 275.0v3.4M69.7 277.1h3.4M71.4 275.4v3.4M65.2 272.4h3.4M66.9 270.7v3.4M66.2 280.0h3.4M67.9 278.3v3.4M88.4 264.9h3.4M90.1 263.2v3.4M79.5 289.8h3.4M81.2 288.1v3.4M79.7 270.8h3.4M81.4 269.1v3.4M81.0 273.1h3.4M82.7 271.4v3.4M83.9 283.4h3.4M85.6 281.7v3.4M56.0 271.9h3.4M57.7 270.2v3.4M83.7 273.2h3.4M85.4 271.5v3.4M58.4 278.7h3.4M60.1 277.0v3.4M88.6 265.3h3.4M90.3 263.6v3.4M73.9 271.1h3.4M75.6 269.4v3.4M78.1 264.3h3.4M79.8 262.6v3.4M74.5 275.9h3.4M76.2 274.2v3.4M92.6 263.3h3.4M94.3 261.6v3.4M89.4 265.3h3.4M91.1 263.6v3.4M62.4 272.0h3.4M64.1 270.3v3.4M74.1 274.1h3.4M75.8 272.4v3.4M56.0 275.1h3.4M57.7 273.4v3.4M79.4 265.3h3.4M81.1 263.6v3.4M72.7 274.5h3.4M74.4 272.8v3.4M61.0 270.2h3.4M62.7 268.5v3.4M76.8 269.8h3.4M78.5 268.1v3.4M90.0 268.4h3.4M91.7 266.7v3.4M77.2 271.7h3.4M78.9 270.0v3.4M90.2 265.2h3.4M91.9 263.5v3.4M88.2 267.8h3.4M89.9 266.1v3.4M86.6 274.1h3.4M88.3 272.4v3.4M69.2 276.0h3.4M70.9 274.3v3.4M73.5 273.6h3.4M75.2 271.9v3.4M84.8 278.1h3.4M86.5 276.4v3.4M65.8 271.9h3.4M67.5 270.2v3.4M86.0 279.1h3.4M87.7 277.4v3.4M81.0 273.0h3.4M82.7 271.3v3.4M78.9 300.1h3.4M80.6 298.4v3.4M70.0 282.8h3.4M71.7 281.1v3.4M76.2 291.0h3.4M77.9 289.3v3.4M78.8 269.8h3.4M80.5 268.1v3.4M85.7 301.0h3.4M87.4 299.3v3.4M81.4 275.9h3.4M83.1 274.2v3.4M78.2 296.6h3.4M79.9 294.9v3.4M89.6 265.0h3.4M91.3 263.3v3.4M78.0 288.0h3.4M79.7 286.3v3.4"/>
<path fill="#c4c4c4" d="M94.8 263.0h3.4l-1.7-2.8zM111.1 236.7h3.4l-1.7-2.8zM111.3 251.7h3.4l-1.7-2.8zM92.9 263.6h3.4l-1.7-2.8zM96.2 248.0h3.4l-1.7-2.8zM101.8 257.5h3.4l-1.7-2.8zM105.3 256.2h3.4l-1.7-2.8zM123.0 223.9h3.4l-1.7-2.8zM95.1 262.9h3.4l-1.7-2.8zM133.9 250.7h3.4l-1.7-2.8zM108.3 249.0h3.4l-1.7-2.8zM110.7 249.1h3.4l-1.7-2.8zM98.1 260.8h3.4l-1.7-2.8zM110.5 246.2h3.4l-1.7-2.8zM128.9 236.3h3.4l-1.7-2.8zM115.8 248.6h3.4l-1.7-2.8zM109.7 219.0h3.4l-1.7-2.8zM134.9 241.8h3.4l-1.7-2.8zM120.6 258.9h3.4l-1.7-2.8zM100.4 260.0h3.4l-1.7-2.8zM97.0 258.8h3.4l-1.7-2.8zM104.1 246.5h3.4l-1.7-2.8zM142.1 239.7h3.4l-1.7-2.8zM94.1 260.8h3.4l-1.7-2.8zM106.9 217.7h3.4l-1.7-2.8zM149.2 252.5h3.4l-1.7-2.8zM103.5 255.2h3.4l-1.7-2.8zM131.0 244.0h3.4l-1.7-2.8zM110.2 249.9h3.4l-1.7-2.8zM97.7 258.6h3.4l-1.7-2.8zM119.1 252.3h3.4l-1.7-2.8zM103.2 241.8h3.4l-1.7-2.8zM101.9 254.4h3.4l-1.7-2.8zM118.1 224.3h3.4l-1.7-2.8zM109.0 247.9h3.4l-1.7-2.8zM116.2 255.5h3.4l-1.7-2.8zM127.0 238.4h3.4l-1.7-2.8zM95.7 260.9h3.4l-1.7-2.8zM107.8 257.0h3.4l-1.7-2.8zM97.7 260.1h3.4l-1.7-2.8zM104.0 246.1h3.4l-1.7-2.8zM105.7 247.0h3.4l-1.7-2.8zM109.6 242.6h3.4l-1.7-2.8zM115.4 237.3h3.4l-1.7-2.8zM125.2 252.6h3.4l-1.7-2.8zM129.6 238.0h3.4l-1.7-2.8zM99.9 248.3h3.4l-1.7-2.8zM96.0 232.5h3.4l-1.7-2.8zM96.9 261.7h3.4l-1.7-2.8zM95.7 262.4h3.4l-1.7-2.8zM108.1 251.6h3.4l-1.7-2.8zM121.0 237.5h3.4l-1.7-2.8zM151.5 259.1h3.4l-1.7-2.8zM116.9 244.0h3.4l-1.7-2.8zM130.5 256.4h3.4l-1.7-2.8zM131.3 236.3h3.4l-1.7-2.8zM102.8 257.1h3.4l-1.7-2.8zM96.4 261.2h3.4l-1.7-2.8zM109.9 253.3h3.4l-1.7-2.8zM109.9 255.5h3.4l-1.7-2.8zM106.7 233.2h3.4l-1.7-2.8zM113.9 231.1h3.4l-1.7-2.8zM132.2 258.7h3.4l-1.7-2.8zM102.5 258.3h3.4l-1.7-2.8zM108.5 253.8h3.4l-1.7-2.8zM135.3 245.1h3.4l-1.7-2.8zM122.0 259.6h3.4l-1.7-2.8zM98.3 253.8h3.4l-1.7-2.8zM97.5 253.5h3.4l-1.7-2.8zM97.4 225.9h3.4l-1.7-2.8zM104.7 257.8h3.4l-1.7-2.8zM93.6 262.5h3.4l-1.7-2.8zM102.0 253.8h3.4l-1.7-2.8zM111.4 243.8h3.4l-1.7-2.8zM123.5 233.8h3.4l-1.7-2.8zM101.5 261.8h3.4l-1.7-2.8zM107.0 253.2h3.4l-1.7-2.8zM109.9 235.8h3.4l-1.7-2.8zM103.1 240.3h3.4l-1.7-2.8zM100.2 257.2h3.4l-1.7-2.8zM109.5 255.0h3.4l-1.7-2.8zM101.2 254.7h3.4l-1.7-2.8zM114.2 254.4h3.4l-1.7-2.8zM102.1 261.1h3.4l-1.7-2.8zM105.4 237.5h3.4l-1.7-2.8zM96.6 241.0h3.4l-1.7-2.8zM104.1 247.6h3.4l-1.7-2.8zM109.5 243.0h3.4l-1.7-2.8zM98.9 253.4h3.4l-1.7-2.8zM104.0 241.9h3.4l-1.7-2.8zM104.5 235.8h3.4l-1.7-2.8zM108.6 220.2h3.4l-1.7-2.8zM99.5 254.5h3.4l-1.7-2.8zM113.5 259.1h3.4l-1.7-2.8zM104.4 244.8h3.4l-1.7-2.8zM112.9 238.4h3.4l-1.7-2.8zM94.2 257.0h3.4l-1.7-2.8zM104.5 238.2h3.4l-1.7-2.8zM121.9 245.6h3.4l-1.7-2.8zM124.5 252.7h3.4l-1.7-2.8zM103.0 242.6h3.4l-1.7-2.8zM94.6 263.1h3.4l-1.7-2.8zM94.5 262.5h3.4l-1.7-2.8zM96.2 257.6h3.4l-1.7-2.8zM104.0 259.0h3.4l-1.7-2.8zM94.7 255.9h3.4l-1.7-2.8zM123.7 246.7h3.4l-1.7-2.8zM94.4 261.0h3.4l-1.7-2.8zM105.0 250.1h3.4l-1.7-2.8zM108.8 259.4h3.4l-1.7-2.8zM104.0 255.9h3.4l-1.7-2.8zM100.6 252.4h3.4l-1.7-2.8zM134.3 242.2h3.4l-1.7-2.8zM104.7 233.3h3.4l-1.7-2.8zM95.4 261.9h3.4l-1.7-2.8zM98.8 262.0h3.4l-1.7-2.8zM116.5 241.4h3.4l-1.7-2.8zM105.5 257.5h3.4l-1.7-2.8zM105.8 260.9h3.4l-1.7-2.8zM124.4 250.3h3.4l-1.7-2.8zM108.5 249.1h3.4l-1.7-2.8zM110.1 240.0h3.4l-1.7-2.8zM93.0 256.1h3.4l-1.7-2.8zM116.1 260.2h3.4l-1.7-2.8zM138.1 247.4h3.4l-1.7-2.8zM96.0 255.1h3.4l-1.7-2.8zM107.2 237.7h3.4l-1.7-2.8zM107.3 239.7h3.4l-1.7-2.8zM94.6 262.5h3.4l-1.7-2.8zM117.3 248.3h3.4l-1.7-2.8zM118.0 255.3h3.4l-1.7-2.8zM108.9 251.8h3.4l-1.7-2.8zM97.6 254.1h3.4l-1.7-2.8zM93.3 263.4h3.4l-1.7-2.8zM99.3 262.0h3.4l-1.7-2.8zM121.7 244.6h3.4l-1.7-2.8zM134.2 258.5h3.4l-1.7-2.8zM137.2 237.6h3.4l-1.7-2.8zM109.8 254.4h3.4l-1.7-2.8zM100.1 255.6h3.4l-1.7-2.8zM99.9 258.6h3.4l-1.7-2.8zM103.3 250.3h3.4l-1.7-2.8zM130.3 259.2h3.4l-1.7-2.8zM112.5 244.0h3.4l-1.7-2.8zM113.4 247.8h3.4l-1.7-2.8zM97.6 254.8h3.4l-1.7-2.8zM94.5 261.5h3.4l-1.7-2.8zM98.1 260.1h3.4l-1.7-2.8zM118.7 240.5h3.4l-1.7-2.8zM136.9 246.4h3.4l-1.7-2.8zM103.1 256.2h3.4l-1.7-2.8zM100.8 255.2h3.4l-1.7-2.8zM97.4 243.4h3.4l-1.7-2.8zM111.7 253.4h3.4l-1.7-2.8zM96.7 251.3h3.4l-1.7-2.8zM99.6 262.0h3.4l-1.7-2.8zM130.8 253.7h3.4l-1.7-2.8zM93.9 260.1h3.4l-1.7-2.8zM96.1 261.7h3.4l-1.7-2.8zM93.3 263.6h3.4l-1.7-2.8zM116.6 240.6h3.4l-1.7-2.8zM112.4 253.0h3.4l-1.7-2.8zM112.7 251.4h3.4l-1.7-2.8zM118.1 244.4h3.4l-1.7-2.8zM111.5 248.0h3.4l-1.7-2.8zM114.0 249.7h3.4l-1.7-2.8zM124.3 252.2h3.4l-1.7-2.8zM101.9 246.4h3.4l-1.7-2.8zM101.6 255.6h3.4l-1.7-2.8zM97.6 260.4h3.4l-1.7-2.8zM102.1 259.1h3.4l-1.7-2.8zM97.5 239.2h3.4l-1.7-2.8zM115.2 241.9h3.4l-1.7-2.8zM93.6 260.0h3.4l-1.7-2.8zM149.9 251.6h3.4l-1.7-2.8zM96.7 258.2h3.4l-1.7-2.8zM112.0 255.5h3.4l-1.7-2.8zM118.8 228.2h3.4l-1.7-2.8zM94.2 262.4h3.4l-1.7-2.8zM109.0 259.5h3.4l-1.7-2.8zM94.4 262.4h3.4l-1.7-2.8zM117.1 245.2h3.4l-1.7-2.8zM128.3 246.2h3.4l-1.7-2.8zM96.5 248.8h3.4l-1.7-2.8zM102.8 254.2h3.4l-1.7-2.8zM101.6 261.3h3.4l-1.7-2.8zM106.2 242.8h3.4l-1.7-2.8zM108.6 246.1h3.4l-1.7-2.8zM118.3 257.7h3.4l-1.7-2.8zM107.1 258.2h3.4l-1.7-2.8zM100.7 259.6h3.4l-1.7-2.8zM95.6 258.7h3.4l-1.7-2.8zM153.8 260.6h3.4l-1.7-2.8zM112.9 252.9h3.4l-1.7-2.8zM97.2 253.1h3.4l-1.7-2.8zM118.3 235.5h3.4l-1.7-2.8zM118.7 223.8h3.4l-1.7-2.8zM102.8 259.6h3.4l-1.7-2.8zM119.4 254.7h3.4l-1.7-2.8zM94.0 250.5h3.4l-1.7-2.8zM112.8 252.4h3.4l-1.7-2.8zM105.8 253.8h3.4l-1.7-2.8zM134.2 244.6h3.4l-1.7-2.8zM140.5 247.1h3.4l-1.7-2.8zM96.8 263.2h3.4l-1.7-2.8zM100.1 257.3h3.4l-1.7-2.8zM97.2 260.8h3.4l-1.7-2.8zM104.1 250.7h3.4l-1.7-2.8zM132.8 248.8h3.4l-1.7-2.8zM102.0 259.5h3.4l-1.7-2.8zM137.3 234.6h3.4l-1.7-2.8zM114.4 252.4h3.4l-1.7-2.8zM104.0 255.8h3.4l-1.7-2.8zM132.8 248.3h3.4l-1.7-2.8zM107.5 252.0h3.4l-1.7-2.8zM109.3 254.0h3.4l-1.7-2.8zM98.0 238.9h3.4l-1.7-2.8zM98.7 238.2h3.4l-1.7-2.8zM122.2 223.6h3.4l-1.7-2.8zM122.6 246.6h3.4l-1.7-2.8zM122.1 247.5h3.4l-1.7-2.8zM106.0 253.4h3.4l-1.7-2.8zM107.0 254.9h3.4l-1.7-2.8zM96.7 255.4h3.4l-1.7-2.8zM110.1 248.6h3.4l-1.7-2.8zM127.8 250.3h3.4l-1.7-2.8zM99.8 256.5h3.4l-1.7-2.8zM106.7 256.4h3.4l-1.7-2.8zM107.8 248.3h3.4l-1.7-2.8zM105.9 250.2h3.4l-1.7-2.8zM114.7 253.0h3.4l-1.7-2.8zM96.9 257.3h3.4l-1.7-2.8zM98.1 260.6h3.4l-1.7-2.8zM107.7 234.8h3.4l-1.7-2.8zM114.2 251.7h3.4l-1.7-2.8zM95.9 253.6h3.4l-1.7-2.8zM100.7 260.8h3.4l-1.7-2.8zM114.3 258.9h3.4l-1.7-2.8zM107.2 255.8h3.4l-1.7-2.8zM116.3 252.2h3.4l-1.7-2.8zM98.1 260.0h3.4l-1.7-2.8zM97.8 257.3h3.4l-1.7-2.8zM118.5 250.5h3.4l-1.7-2.8zM111.5 253.3h3.4l-1.7-2.8zM93.3 263.0h3.4l-1.7-2.8zM110.0 254.7h3.4l-1.7-2.8zM100.2 255.2h3.4l-1.7-2.8zM108.1 259.2h3.4l-1.7-2.8zM98.0 259.2h3.4l-1.7-2.8zM97.7 260.1h3.4l-1.7-2.8zM107.7 223.3h3.4l-1.7-2.8zM113.8 253.0h3.4l-1.7-2.8zM104.2 259.1h3.4l-1.7-2.8zM108.2 247.8h3.4l-1.7-2.8zM100.2 252.0h3.4l-1.7-2.8zM106.7 238.4h3.4l-1.7-2.8zM100.3 259.7h3.4l-1.7-2.8zM101.3 262.1h3.4l-1.7-2.8zM122.4 232.5h3.4l-1.7-2.8zM160.2 252.0h3.4l-1.7-2.8zM108.8 245.4h3.4l-1.7-2.8zM103.1 227.2h3.4l-1.7-2.8zM98.8 254.1h3.4l-1.7-2.8zM94.2 262.7h3.4l-1.7-2.8zM109.9 260.7h3.4l-1.7-2.8zM106.2 251.7h3.4l-1.7-2.8zM93.5 259.3h3.4l-1.7-2.8zM97.1 261.2h3.4l-1.7-2.8zM125.4 241.2h3.4l-1.7-2.8zM105.1 254.0h3.4l-1.7-2.8zM103.0 236.3h3.4l-1.7-2.8zM102.0 255.4h3.4l-1.7-2.8zM120.5 252.3h3.4l-1.7-2.8zM106.3 253.8h3.4l-1.7-2.8zM133.5 231.1h3.4l-1.7-2.8zM103.6 256.6h3.4l-1.7-2.8zM104.1 254.5h3.4l-1.7-2.8zM93.1 257.2h3.4l-1.7-2.8zM98.5 245.2h3.4l-1.7-2.8zM99.0 230.0h3.4l-1.7-2.8zM100.9 238.9h3.4l-1.7-2.8zM145.3 242.7h3.4l-1.7-2.8zM100.3 245.7h3.4l-1.7-2.8zM99.0 232.3h3.4l-1.7-2.8zM114.3 219.9h3.4l-1.7-2.8zM107.7 253.2h3.4l-1.7-2.8zM108.9 253.1h3.4l-1.7-2.8zM99.5 253.3h3.4l-1.7-2.8zM113.0 253.8h3.4l-1.7-2.8zM100.5 260.2h3.4l-1.7-2.8zM93.9 262.1h3.4l-1.7-2.8zM113.7 259.0h3.4l-1.7-2.8zM111.5 253.7h3.4l-1.7-2.8zM146.2 246.8h3.4l-1.7-2.8zM122.9 235.3h3.4l-1.7-2.8zM107.6 242.3h3.4l-1.7-2.8zM96.7 252.2h3.4l-1.7-2.8zM146.0 258.5h3.4l-1.7-2.8zM96.3 257.7h3.4l-1.7-2.8zM99.6 263.3h3.4l-1.7-2.8zM107.7 243.3h3.4l-1.7-2.8zM132.1 231.0h3.4l-1.7-2.8zM133.1 233.1h3.4l-1.7-2.8zM111.6 258.6h3.4l-1.7-2.8zM106.0 258.9h3.4l-1.7-2.8zM135.6 249.9h3.4l-1.7-2.8zM94.8 245.4h3.4l-1.7-2.8zM97.7 258.7h3.4l-1.7-2.8zM101.6 260.4h3.4l-1.7-2.8zM93.1 263.8h3.4l-1.7-2.8zM96.4 256.0h3.4l-1.7-2.8zM96.5 261.4h3.4l-1.7-2.8zM99.1 257.9h3.4l-1.7-2.8zM105.9 253.6h3.4l-1.7-2.8zM98.7 247.9h3.4l-1.7-2.8zM100.5 239.1h3.4l-1.7-2.8zM98.7 259.8h3.4l-1.7-2.8zM101.1 237.0h3.4l-1.7-2.8zM96.6 258.7h3.4l-1.7-2.8zM109.6 226.7h3.4l-1.7-2.8zM115.8 243.0h3.4l-1.7-2.8zM118.8 254.4h3.4l-1.7-2.8zM122.3 239.0h3.4l-1.7-2.8zM95.1 261.1h3.4l-1.7-2.8zM128.6 255.6h3.4l-1.7-2.8zM130.5 247.5h3.4l-1.7-2.8zM160.0 252.8h3.4l-1.7-2.8zM97.9 252.4h3.4l-1.7-2.8zM110.3 251.7h3.4l-1.7-2.8zM110.2 229.6h3.4l-1.7-2.8zM102.9 255.5h3.4l-1.7-2.8zM125.8 244.5h3.4l-1.7-2.8zM102.5 225.4h3.4l-1.7-2.8zM94.9 262.8h3.4l-1.7-2.8zM113.6 257.1h3.4l-1.7-2.8zM101.1 256.2h3.4l-1.7-2.8zM97.7 255.2h3.4l-1.7-2.8zM98.0 256.1h3.4l-1.7-2.8zM100.8 245.6h3.4l-1.7-2.8zM95.0 252.4h3.4l-1.7-2.8zM116.0 256.7h3.4l-1.7-2.8zM132.0 254.5h3.4l-1.7-2.8zM129.5 234.5h3.4l-1.7-2.8zM105.3 262.2h3.4l-1.7-2.8zM114.6 254.1h3.4l-1.7-2.8zM103.6 249.4h3.4l-1.7-2.8zM108.8 261.7h3.4l-1.7-2.8zM129.0 242.8h3.4l-1.7-2.8zM145.2 249.5h3.4l-1.7-2.8zM118.5 248.0h3.4l-1.7-2.8zM95.2 261.9h3.4l-1.7-2.8zM101.3 250.7h3.4l-1.7-2.8zM104.7 234.7h3.4l-1.7-2.8zM97.1 261.9h3.4l-1.7-2.8zM95.0 260.7h3.4l-1.7-2.8zM99.5 256.8h3.4l-1.7-2.8zM107.9 255.2h3.4l-1.7-2.8zM96.3 261.7h3.4l-1.7-2.8zM94.8 254.7h3.4l-1.7-2.8zM112.7 235.7h3.4l-1.7-2.8zM99.2 259.6h3.4l-1.7-2.8zM127.1 256.4h3.4l-1.7-2.8zM96.6 251.8h3.4l-1.7-2.8zM101.0 253.8h3.4l-1.7-2.8zM96.5 242.8h3.4l-1.7-2.8zM93.2 261.1h3.4l-1.7-2.8zM101.6 259.2h3.4l-1.7-2.8zM101.7 257.9h3.4l-1.7-2.8zM96.3 228.4h3.4l-1.7-2.8zM115.9 254.4h3.4l-1.7-2.8zM114.2 258.9h3.4l-1.7-2.8zM115.2 237.4h3.4l-1.7-2.8zM105.9 257.4h3.4l-1.7-2.8zM101.3 259.6h3.4l-1.7-2.8zM134.8 245.7h3.4l-1.7-2.8zM104.9 259.2h3.4l-1.7-2.8zM93.8 244.4h3.4l-1.7-2.8zM104.7 246.7h3.4l-1.7-2.8zM113.0 230.9h3.4l-1.7-2.8zM94.2 257.6h3.4l-1.7-2.8zM138.5 247.5h3.4l-1.7-2.8zM123.4 246.4h3.4l-1.7-2.8zM99.4 258.7h3.4l-1.7-2.8zM94.7 257.8h3.4l-1.7-2.8zM110.3 240.9h3.4l-1.7-2.8zM98.2 256.3h3.4l-1.7-2.8zM94.8 260.3h3.4l-1.7-2.8zM115.2 225.0h3.4l-1.7-2.8zM93.4 261.8h3.4l-1.7-2.8zM103.7 252.2h3.4l-1.7-2.8zM105.2 254.3h3.4l-1.7-2.8zM109.5 220.4h3.4l-1.7-2.8zM95.0 252.3h3.4l-1.7-2.8zM106.5 244.5h3.4l-1.7-2.8zM96.4 258.7h3.4l-1.7-2.8zM100.7 260.9h3.4l-1.7-2.8zM125.6 251.5h3.4l-1.7-2.8zM117.3 258.7h3.4l-1.7-2.8zM109.5 249.7h3.4l-1.7-2.8zM118.0 247.8h3.4l-1.7-2.8zM112.8 258.5h3.4l-1.7-2.8zM98.1 253.6h3.4l-1.7-2.8zM133.5 258.9h3.4l-1.7-2.8zM112.4 246.3h3.4l-1.7-2.8zM117.0 257.4h3.4l-1.7-2.8zM120.6 250.9h3.4l-1.7-2.8zM99.9 257.0h3.4l-1.7-2.8zM100.2 254.5h3.4l-1.7-2.8zM115.6 238.0h3.4l-1.7-2.8zM106.6 227.7h3.4l-1.7-2.8zM100.4 258.9h3.4l-1.7-2.8zM131.6 250.5h3.4l-1.7-2.8zM94.4 260.6h3.4l-1.7-2.8zM94.4 250.3h3.4l-1.7-2.8zM134.8 241.9h3.4l-1.7-2.8zM109.2 260.4h3.4l-1.7-2.8zM98.6 249.3h3.4l-1.7-2.8zM134.2 257.5h3.4l-1.7-2.8zM96.0 250.6h3.4l-1.7-2.8zM103.6 255.6h3.4l-1.7-2.8zM103.4 258.5h3.4l-1.7-2.8zM107.8 251.9h3.4l-1.7-2.8zM98.4 257.8h3.4l-1.7-2.8zM128.5 246.5h3.4l-1.7-2.8zM116.0 249.7h3.4l-1.7-2.8zM126.8 256.0h3.4l-1.7-2.8zM102.7 249.6h3.4l-1.7-2.8zM115.7 241.1h3.4l-1.7-2.8zM100.3 252.1h3.4l-1.7-2.8zM110.3 253.3h3.4l-1.7-2.8zM100.1 248.3h3.4l-1.7-2.8zM136.9 252.4h3.4l-1.7-2.8zM129.2 235.4h3.4l-1.7-2.8zM106.8 257.2h3.4l-1.7-2.8zM114.8 256.3h3.4l-1.7-2.8zM96.9 256.6h3.4l-1.7-2.8zM104.8 248.5h3.4l-1.7-2.8zM94.8 262.0h3.4l-1.7-2.8zM95.6 261.5h3.4l-1.7-2.8zM139.8 252.4h3.4l-1.7-2.8zM121.2 255.1h3.4l-1.7-2.8zM100.7 232.3h3.4l-1.7-2.8zM97.2 258.6h3.4l-1.7-2.8zM111.4 249.8h3.4l-1.7-2.8zM117.9 245.5h3.4l-1.7-2.8zM98.5 262.4h3.4l-1.7-2.8zM105.1 248.9h3.4l-1.7-2.8zM115.8 255.1h3.4l-1.7-2.8zM95.4 261.5h3.4l-1.7-2.8zM106.3 251.6h3.4l-1.7-2.8zM100.7 246.5h3.4l-1.7-2.8zM108.9 231.1h3.4l-1.7-2.8zM98.3 255.6h3.4l-1.7-2.8zM103.9 258.2h3.4l-1.7-2.8zM98.2 254.6h3.4l-1.7-2.8zM113.7 231.5h3.4l-1.7-2.8zM104.1 247.9h3.4l-1.7-2.8zM98.4 239.2h3.4l-1.7-2.8zM105.4 255.7h3.4l-1.7-2.8zM103.6 253.6h3.4l-1.7-2.8zM96.0 257.1h3.4l-1.7-2.8zM96.4 259.5h3.4l-1.7-2.8zM105.3 241.9h3.4l-1.7-2.8zM132.2 231.5h3.4l-1.7-2.8zM124.6 235.0h3.4l-1.7-2.8zM95.7 259.9h3.4l-1.7-2.8zM120.7 256.5h3.4l-1.7-2.8zM106.2 259.4h3.4l-1.7-2.8zM106.4 260.1h3.4l-1.7-2.8zM122.2 258.1h3.4l-1.7-2.8zM144.3 255.7h3.4l-1.7-2.8zM101.2 250.2h3.4l-1.7-2.8zM110.7 261.4h3.4l-1.7-2.8zM102.2 250.7h3.4l-1.7-2.8zM117.2 255.1h3.4l-1.7-2.8zM106.4 242.5h3.4l-1.7-2.8zM115.1 249.5h3.4l-1.7-2.8zM114.5 248.5h3.4l-1.7-2.8zM133.6 241.9h3.4l-1.7-2.8zM133.7 231.8h3.4l-1.7-2.8zM120.1 234.3h3.4l-1.7-2.8zM105.9 259.6h3.4l-1.7-2.8zM95.8 259.4h3.4l-1.7-2.8zM95.4 256.7h3.4l-1.7-2.8zM109.6 256.7h3.4l-1.7-2.8zM121.9 243.9h3.4l-1.7-2.8zM102.1 250.9h3.4l-1.7-2.8zM112.4 256.5h3.4l-1.7-2.8zM101.8 257.1h3.4l-1.7-2.8zM104.3 257.3h3.4l-1.7-2.8zM95.9 259.3h3.4l-1.7-2.8zM124.8 230.7h3.4l-1.7-2.8zM99.3 259.4h3.4l-1.7-2.8zM98.2 251.8h3.4l-1.7-2.8zM99.6 258.3h3.4l-1.7-2.8zM136.2 252.7h3.4l-1.7-2.8zM101.5 253.2h3.4l-1.7-2.8zM97.4 220.6h3.4l-1.7-2.8zM110.9 252.7h3.4l-1.7-2.8zM105.5 256.8h3.4l-1.7-2.8zM121.3 257.2h3.4l-1.7-2.8zM131.1 243.0h3.4l-1.7-2.8zM98.7 248.7h3.4l-1.7-2.8zM101.4 252.6h3.4l-1.7-2.8zM155.1 257.2h3.4l-1.7-2.8zM97.0 247.9h3.4l-1.7-2.8zM117.7 256.1h3.4l-1.7-2.8zM106.3 252.5h3.4l-1.7-2.8zM97.8 240.7h3.4l-1.7-2.8zM122.4 260.0h3.4l-1.7-2.8zM94.6 260.1h3.4l-1.7-2.8zM108.4 213.9h3.4l-1.7-2.8zM97.8 263.4h3.4l-1.7-2.8zM97.4 262.0h3.4l-1.7-2.8zM100.7 259.2h3.4l-1.7-2.8zM95.0 259.0h3.4l-1.7-2.8zM106.4 253.6h3.4l-1.7-2.8zM99.7 258.8h3.4l-1.7-2.8zM145.0 256.8h3.4l-1.7-2.8zM101.4 258.2h3.4l-1.7-2.8zM100.0 262.8h3.4l-1.7-2.8zM99.1 256.5h3.4l-1.7-2.8zM102.4 260.7h3.4l-1.7-2.8zM100.6 257.5h3.4l-1.7-2.8zM95.9 263.5h3.4l-1.7-2.8zM96.9 256.6h3.4l-1.7-2.8zM123.1 258.5h3.4l-1.7-2.8zM112.7 253.4h3.4l-1.7-2.8zM96.0 257.7h3.4l-1.7-2.8zM105.9 249.5h3.4l-1.7-2.8zM119.5 258.7h3.4l-1.7-2.8zM105.5 251.3h3.4l-1.7-2.8zM93.5 249.6h3.4l-1.7-2.8zM138.1 246.2h3.4l-1.7-2.8zM99.4 257.3h3.4l-1.7-2.8zM141.1 261.3h3.4l-1.7-2.8zM112.6 248.8h3.4l-1.7-2.8zM107.5 249.6h3.4l-1.7-2.8zM109.1 259.5h3.4l-1.7-2.8zM105.0 244.0h3.4l-1.7-2.8zM109.5 249.1h3.4l-1.7-2.8zM103.3 241.3h3.4l-1.7-2.8zM95.0 261.0h3.4l-1.7-2.8zM96.6 259.5h3.4l-1.7-2.8zM106.7 241.1h3.4l-1.7-2.8zM95.7 235.8h3.4l-1.7-2.8zM144.6 250.4h3.4l-1.7-2.8zM102.8 258.1h3.4l-1.7-2.8zM117.4 252.8h3.4l-1.7-2.8zM99.2 234.6h3.4l-1.7-2.8zM103.7 241.9h3.4l-1.7-2.8zM96.8 241.9h3.4l-1.7-2.8zM125.4 257.2h3.4l-1.7-2.8zM105.7 245.9h3.4l-1.7-2.8zM131.4 237.6h3.4l-1.7-2.8zM105.2 255.3h3.4l-1.7-2.8zM94.0 254.4h3.4l-1.7-2.8zM134.9 258.4h3.4l-1.7-2.8zM110.4 252.6h3.4l-1.7-2.8zM110.7 259.1h3.4l-1.7-2.8zM108.5 231.1h3.4l-1.7-2.8zM152.0 259.8h3.4l-1.7-2.8zM101.4 262.5h3.4l-1.7-2.8zM94.3 262.9h3.4l-1.7-2.8zM106.1 229.6h3.4l-1.7-2.8zM105.9 231.6h3.4l-1.7-2.8zM99.3 250.0h3.4l-1.7-2.8zM104.8 242.7h3.4l-1.7-2.8zM100.4 260.5h3.4l-1.7-2.8zM126.6 237.5h3.4l-1.7-2.8zM96.1 258.1h3.4l-1.7-2.8zM103.6 252.4h3.4l-1.7-2.8zM94.2 261.4h3.4l-1.7-2.8zM111.3 259.6h3.4l-1.7-2.8zM100.4 257.1h3.4l-1.7-2.8zM147.7 248.9h3.4l-1.7-2.8zM137.9 248.8h3.4l-1.7-2.8zM150.4 258.3h3.4l-1.7-2.8zM95.2 260.6h3.4l-1.7-2.8zM99.3 241.6h3.4l-1.7-2.8zM103.4 256.4h3.4l-1.7-2.8zM114.0 248.5h3.4l-1.7-2.8zM103.0 243.7h3.4l-1.7-2.8zM99.0 257.2h3.4l-1.7-2.8zM100.6 258.0h3.4l-1.7-2.8zM105.8 253.7h3.4l-1.7-2.8zM105.6 253.7h3.4l-1.7-2.8zM118.8 241.5h3.4l-1.7-2.8zM128.6 246.8h3.4l-1.7-2.8zM99.0 235.9h3.4l-1.7-2.8zM101.9 257.2h3.4l-1.7-2.8zM111.2 254.6h3.4l-1.7-2.8zM111.3 234.3h3.4l-1.7-2.8zM94.9 202.9h3.4l-1.7-2.8zM150.9 253.1h3.4l-1.7-2.8zM118.0 228.2h3.4l-1.7-2.8zM96.8 259.0h3.4l-1.7-2.8zM102.5 258.9h3.4l-1.7-2.8zM106.2 231.6h3.4l-1.7-2.8zM109.3 240.2h3.4l-1.7-2.8zM117.2 236.0h3.4l-1.7-2.8zM130.7 254.8h3.4l-1.7-2.8zM132.5 253.3h3.4l-1.7-2.8zM96.5 259.2h3.4l-1.7-2.8zM97.7 255.9h3.4l-1.7-2.8zM96.4 259.5h3.4l-1.7-2.8zM101.6 240.5h3.4l-1.7-2.8zM117.8 233.1h3.4l-1.7-2.8zM138.2 247.4h3.4l-1.7-2.8zM95.4 262.9h3.4l-1.7-2.8zM94.4 253.5h3.4l-1.7-2.8zM95.1 263.2h3.4l-1.7-2.8zM112.1 256.1h3.4l-1.7-2.8zM118.4 252.7h3.4l-1.7-2.8zM94.8 259.6h3.4l-1.7-2.8zM100.2 258.0h3.4l-1.7-2.8zM97.0 249.7h3.4l-1.7-2.8zM103.9 239.8h3.4l-1.7-2.8zM105.0 260.4h3.4l-1.7-2.8zM96.3 263.0h3.4l-1.7-2.8zM98.5 248.2h3.4l-1.7-2.8zM109.0 257.3h3.4l-1.7-2.8zM95.5 231.6h3.4l-1.7-2.8zM102.9 229.0h3.4l-1.7-2.8zM120.6 240.1h3.4l-1.7-2.8zM93.6 262.9h3.4l-1.7-2.8zM110.5 231.0h3.4l-1.7-2.8zM104.1 259.9h3.4l-1.7-2.8zM102.3 253.8h3.4l-1.7-2.8zM99.1 253.6h3.4l-1.7-2.8zM110.2 256.8h3.4l-1.7-2.8zM120.1 245.1h3.4l-1.7-2.8zM110.8 251.0h3.4l-1.7-2.8zM107.7 245.9h3.4l-1.7-2.8zM97.4 259.5h3.4l-1.7-2.8zM130.6 253.5h3.4l-1.7-2.8zM96.2 249.3h3.4l-1.7-2.8zM114.4 243.3h3.4l-1.7-2.8zM122.4 244.7h3.4l-1.7-2.8zM121.5 243.4h3.4l-1.7-2.8zM115.1 253.7h3.4l-1.7-2.8zM112.2 243.0h3.4l-1.7-2.8zM120.9 244.6h3.4l-1.7-2.8zM117.8 235.6h3.4l-1.7-2.8zM105.9 251.8h3.4l-1.7-2.8zM126.4 242.8h3.4l-1.7-2.8zM128.2 242.3h3.4l-1.7-2.8zM94.4 244.2h3.4l-1.7-2.8zM126.8 242.7h3.4l-1.7-2.8zM100.2 260.9h3.4l-1.7-2.8z"/>
<path stroke="#3346b6" stroke-opacity="0.9" stroke-width="2.6" stroke-linecap="round" d="M82.7 249.4h1M92.0 260.4h1M90.0 254.6h1M86.9 254.8h1M89.6 253.8h1M49.1 253.7h1M92.5 258.2h1M82.7 250.8h1M87.9 256.5h1M74.0 223.1h1M84.8 253.3h1M91.9 258.5h1M83.1 245.1h1M78.9 226.6h1M88.7 258.9h1M91.8 259.0h1M91.6 257.4h1M79.0 259.3h1M88.6 258.9h1M63.3 241.7h1M88.7 251.4h1M86.8 249.2h1M85.7 225.3h1M91.7 257.6h1M71.0 250.0h1M88.9 260.0h1M92.3 261.4h1M88.5 247.8h1M86.5 238.1h1M73.8 255.2h1M83.9 246.9h1M83.7 249.0h1M47.3 255.6h1M92.2 259.6h1M67.4 232.1h1M84.8 256.9h1M86.3 253.4h1M72.4 254.5h1M77.2 250.6h1M48.3 250.5h1M86.8 244.9h1M84.1 236.2h1M88.6 250.4h1M81.0 249.0h1M90.2 252.2h1M76.1 253.6h1M78.6 242.6h1M82.6 222.1h1M85.7 245.3h1M87.4 247.9h1M82.3 253.8h1M76.9 219.8h1M88.8 247.4h1M93.2 261.9h1M87.1 237.9h1M54.9 250.9h1M86.3 244.6h1M85.4 217.9h1M76.5 255.2h1M89.9 260.5h1M92.6 260.2h1M88.5 259.8h1M80.8 230.0h1M81.0 250.1h1M71.8 253.0h1M53.2 245.5h1M90.4 254.2h1M92.6 257.7h1M78.1 252.3h1M88.0 260.7h1M88.1 255.0h1M56.2 243.2h1M86.0 254.6h1M90.0 258.2h1M86.5 258.4h1M69.8 248.9h1M88.9 255.9h1M86.4 250.1h1M73.2 229.8h1M89.0 237.3h1M82.0 252.3h1M85.2 256.7h1M93.1 261.8h1M88.9 254.5h1M88.2 257.4h1M93.1 259.5h1M51.9 249.0h1M79.3 246.6h1M76.2 258.5h1M83.2 251.0h1M66.0 253.1h1M90.5 258.8h1M64.9 246.8h1M85.8 243.0h1M82.6 253.3h1M88.1 254.2h1M78.4 249.2h1M77.6 251.6h1M82.0 241.1h1M62.7 234.9h1M73.0 249.1h1M82.7 232.4h1M64.9 254.7h1M88.6 252.5h1M84.2 245.3h1M92.9 256.8h1M88.7 259.4h1M77.1 223.2h1M90.7 260.2h1M92.3 261.2h1M84.5 246.5h1M77.4 245.4h1M74.6 253.3h1M89.4 257.2h1M85.7 256.5h1M88.9 257.9h1M92.3 259.4h1M91.9 256.6h1M90.6 261.7h1M93.5 261.2h1M91.7 261.6h1M90.0 256.3h1M83.2 231.0h1M90.1 259.2h1M82.9 260.9h1M90.4 259.5h1M74.6 247.2h1M91.4 261.1h1M88.0 256.2h1M84.0 253.0h1M73.9 259.9h1M93.6 261.4h1M84.3 237.9h1M72.5 248.9h1M87.6 257.3h1M87.1 255.9h1M83.7 237.2h1M79.3 244.7h1M82.1 238.1h1M81.4 248.1h1M90.7 255.6h1M89.3 251.3h1M70.9 229.2h1M72.1 242.6h1M78.6 254.6h1M90.7 256.0h1M80.1 251.5h1M78.4 242.0h1M86.5 252.5h1M74.2 258.6h1M65.2 247.1h1M85.4 249.7h1M77.5 254.8h1M87.4 253.4h1M60.8 251.1h1M64.7 247.6h1M82.0 252.2h1M90.2 254.4h1M88.6 261.8h1M92.7 261.0h1M75.0 231.5h1M77.6 239.2h1M66.5 259.4h1M76.1 243.9h1M78.0 232.1h1M69.7 243.3h1M81.6 239.8h1M93.9 262.4h1M87.4 258.9h1M74.5 259.1h1M83.3 252.4h1M92.6 260.3h1M90.8 249.7h1M86.0 260.8h1M84.2 247.9h1M88.7 259.5h1M78.3 234.9h1M84.9 252.0h1M87.6 260.1h1M72.7 247.5h1M92.0 254.4h1M83.4 258.4h1M88.6 257.7h1M58.9 250.4h1M81.5 256.0h1M86.3 217.7h1M57.5 256.4h1M88.2 256.8h1M86.0 256.5h1M81.4 239.4h1M72.4 234.1h1M90.5 256.9h1M90.8 259.4h1M85.8 210.9h1M58.2 251.8h1M65.5 247.1h1M68.4 241.2h1M79.8 232.1h1M92.2 255.2h1M86.4 239.1h1M70.9 224.0h1M85.5 232.7h1M88.2 257.1h1M91.0 256.7h1M90.1 258.0h1M69.3 246.8h1M92.2 250.6h1M74.1 250.9h1M91.3 252.6h1M92.0 256.8h1M90.8 250.0h1M83.9 243.5h1M85.0 212.8h1M92.9 257.4h1M73.5 242.2h1M84.3 218.1h1M93.2 260.7h1M87.2 251.4h1M90.7 259.2h1M74.8 248.7h1M87.0 254.2h1M81.4 246.3h1M92.0 260.9h1M93.0 261.5h1M58.8 242.9h1M75.2 219.0h1M88.6 245.0h1M88.1 258.0h1M71.3 241.5h1M85.8 255.8h1M85.0 249.7h1M73.8 254.9h1M63.4 236.7h1M72.4 259.6h1M81.3 245.4h1M85.0 249.6h1M90.9 255.0h1M83.2 249.6h1M83.3 255.5h1M89.0 255.7h1M89.3 252.3h1M70.1 244.3h1M93.5 261.7h1M87.8 253.7h1M90.2 258.1h1M91.3 254.8h1M91.5 258.7h1M89.1 244.7h1M90.7 250.1h1M86.7 256.8h1M65.6 251.6h1M87.4 249.1h1M81.4 256.5h1M91.8 251.7h1M86.1 245.9h1M84.5 257.1h1M82.2 237.4h1M81.1 248.4h1M78.2 243.7h1M90.5 254.1h1M93.2 261.7h1M79.6 248.4h1M90.9 261.3h1M46.4 254.3h1M77.1 238.7h1M61.1 243.4h1M70.2 226.0h1M78.5 238.2h1M64.3 243.2h1M89.1 250.7h1M85.5 224.4h1M89.4 252.6h1M91.0 260.4h1M90.3 259.0h1M85.8 246.1h1M80.8 256.4h1M51.7 250.6h1M76.9 247.3h1M91.9 255.9h1M74.3 230.5h1M85.8 256.4h1M86.9 256.7h1M81.6 247.4h1M81.1 252.7h1M90.3 259.0h1M88.4 257.3h1M86.9 258.4h1M84.5 220.2h1M79.5 247.8h1M87.2 245.3h1M90.9 254.8h1M91.4 256.6h1M69.0 255.0h1M91.6 251.4h1M91.0 246.7h1M91.9 257.1h1M87.7 252.3h1M77.7 258.1h1M92.3 260.1h1M87.8 250.3h1M89.7 259.0h1M62.7 249.0h1M58.4 244.7h1M64.7 250.9h1M74.4 233.7h1M73.5 237.3h1M83.6 241.1h1M92.3 258.7h1M88.6 241.6h1M92.1 261.2h1M82.6 259.7h1M85.0 256.3h1M84.4 261.5h1M84.3 238.4h1M50.7 253.5h1M65.9 246.9h1M87.6 252.9h1M84.2 251.2h1M87.3 256.0h1M66.9 228.8h1M77.1 243.7h1M92.9 260.3h1M60.5 236.7h1M91.1 256.4h1M83.2 253.6h1M90.9 261.2h1M76.0 227.8h1M88.1 251.3h1M87.2 255.2h1M91.5 258.1h1M89.1 253.7h1M80.8 257.5h1M81.5 243.2h1M85.8 248.6h1M89.9 256.6h1M92.8 261.5h1M84.6 245.5h1M82.4 253.2h1M81.8 246.1h1M76.1 259.3h1M84.3 257.8h1M91.1 258.7h1M90.1 255.7h1M75.3 256.8h1M85.6 255.7h1M89.0 257.6h1M88.2 257.0h1M73.8 258.0h1M93.3 261.6h1M92.6 260.4h1M91.8 252.7h1M57.8 250.2h1M84.8 239.0h1M82.1 230.7h1M87.6 252.7h1M76.0 252.5h1M89.7 257.9h1M82.4 244.0h1M93.3 262.3h1M73.4 222.1h1M83.0 257.4h1M91.7 259.6h1M77.6 244.6h1M84.6 241.6h1M72.9 237.6h1M93.4 258.7h1M89.3 259.0h1M92.8 260.6h1M81.3 251.5h1M65.6 247.3h1M78.2 258.6h1M79.5 249.1h1M87.9 242.4h1M83.0 247.7h1M65.0 240.4h1M90.7 254.9h1M74.0 243.4h1M77.7 244.4h1M80.7 217.9h1M91.1 258.4h1M87.6 256.7h1M85.4 250.8h1M82.9 255.4h1M88.3 252.1h1M79.7 257.7h1M82.2 255.6h1M76.0 258.3h1M90.7 257.8h1M91.8 247.7h1M87.9 258.6h1M89.4 256.8h1M85.4 256.8h1M86.3 249.3h1M87.8 258.7h1M75.6 257.6h1M78.2 254.3h1M68.9 246.9h1M81.7 240.9h1M90.5 251.1h1M87.8 259.2h1M89.5 248.4h1M77.2 250.2h1M83.0 254.0h1M90.0 256.9h1M86.9 249.4h1M85.9 251.9h1M91.1 261.7h1M74.9 232.3h1M72.5 250.9h1M90.0 254.9h1M86.0 255.2h1M89.7 260.6h1M83.0 247.8h1M90.4 260.1h1M74.6 224.4h1M87.6 255.7h1M87.0 258.4h1M68.4 230.0h1M83.7 246.2h1M86.4 257.0h1M88.3 250.1h1M90.0 250.0h1M82.8 245.0h1M84.2 257.8h1M79.4 216.8h1M85.1 250.4h1M88.2 244.1h1M83.1 240.3h1M82.0 259.0h1M87.0 237.3h1M75.4 255.6h1M79.0 225.3h1M86.9 257.8h1M83.8 249.6h1M93.3 260.9h1M56.0 254.9h1M93.9 262.2h1M75.5 251.8h1M79.7 245.6h1M90.8 258.5h1M80.9 252.4h1M88.6 258.0h1M87.5 246.6h1M79.3 248.6h1M74.0 245.7h1M81.3 236.6h1M76.0 254.6h1M92.3 260.9h1M87.7 258.7h1M90.3 259.1h1M92.6 261.7h1M81.5 253.3h1M85.5 233.4h1M79.4 251.0h1M90.6 261.3h1M80.2 245.7h1M82.6 259.2h1M93.2 259.6h1M93.1 261.0h1M58.8 245.4h1M81.7 260.2h1M80.3 238.2h1M86.4 242.0h1M67.3 251.0h1M81.3 247.7h1M82.0 237.3h1M83.5 245.0h1M90.5 259.5h1M87.1 236.8h1M93.0 261.9h1M91.0 257.5h1M89.2 253.4h1M89.4 253.3h1M90.0 254.9h1M83.6 248.7h1M70.7 238.3h1M84.3 250.8h1M85.7 254.0h1M85.4 251.1h1M68.7 229.2h1M78.1 251.4h1M87.2 260.5h1M67.9 240.3h1M84.3 247.4h1M91.8 256.2h1M90.6 243.0h1M88.2 251.8h1M81.1 253.1h1M69.8 238.3h1M90.8 246.7h1M88.4 259.6h1M90.7 257.5h1M88.0 249.3h1M78.6 249.0h1M80.2 254.4h1M73.8 232.2h1M66.1 241.2h1M90.0 257.9h1M87.6 255.8h1M85.1 259.1h1M68.3 234.6h1M88.9 242.2h1M74.5 255.9h1M90.0 250.2h1M66.0 240.5h1M91.7 251.7h1M91.3 259.5h1M89.0 249.8h1M91.1 254.5h1M81.4 245.6h1M83.0 247.7h1M70.1 250.8h1M84.1 251.3h1M86.1 243.7h1M61.0 247.5h1M72.8 240.2h1M68.3 246.4h1M86.4 248.8h1M88.4 252.4h1M85.5 256.5h1M82.8 245.9h1M71.4 244.6h1M85.4 245.1h1M90.7 244.3h1M81.4 246.8h1M79.2 221.2h1M87.8 242.7h1M89.9 257.5h1M87.1 244.9h1M90.1 259.3h1M91.9 259.5h1M84.3 253.8h1M74.0 230.2h1M89.0 244.4h1M89.9 256.7h1M91.5 255.7h1M77.3 260.8h1M70.8 243.8h1M64.9 234.0h1M68.4 247.6h1M80.5 253.6h1M85.8 258.5h1M80.2 243.2h1M83.2 255.5h1M88.0 250.9h1M88.9 253.2h1M91.5 256.4h1M91.2 260.1h1M71.5 247.9h1M91.4 259.7h1M84.9 253.0h1M92.1 261.3h1M90.3 254.3h1M88.6 252.5h1M79.5 240.6h1M74.4 248.7h1M86.8 247.8h1M78.0 247.3h1M55.7 245.1h1M62.4 253.7h1M90.8 258.4h1M87.3 236.7h1M81.6 239.3h1M83.6 253.4h1M88.7 250.9h1M91.1 253.3h1M86.6 241.0h1M68.4 236.3h1M88.2 256.2h1M88.1 255.0h1M74.9 250.2h1M90.2 259.0h1M85.6 219.2h1M71.8 260.7h1M84.6 258.0h1M92.9 260.7h1M78.8 240.6h1M51.4 246.6h1M83.5 222.4h1M87.1 247.2h1M75.6 256.5h1M80.6 237.9h1M88.5 254.2h1M82.8 252.5h1M87.6 252.4h1M89.8 258.4h1M89.5 255.9h1M81.7 258.8h1M77.0 247.4h1M70.7 243.6h1M69.4 232.2h1M87.0 259.5h1M91.4 249.2h1M78.1 228.6h1M73.8 252.1h1M59.7 242.5h1M75.5 244.1h1M89.6 257.0h1M82.6 257.8h1M73.3 248.3h1M77.4 248.3h1M90.4 254.6h1M77.4 257.3h1M89.1 251.4h1M73.7 254.1h1M89.1 258.1h1M92.1 260.1h1M75.4 244.0h1M85.9 235.1h1M88.7 224.2h1M91.3 250.5h1M78.9 243.3h1M93.3 261.2h1M86.2 240.9h1M87.6 235.7h1M79.7 235.3h1M85.0 253.3h1M81.4 252.2h1M58.4 238.7h1M91.3 255.7h1"/>
<path stroke="#f8b800" stroke-width="1.3" d="M91.2 263.2h3.2M92.8 261.6v3.2M77.8 264.5h3.2M79.4 262.9v3.2M91.6 263.6h3.2M93.2 262.0v3.2M82.1 269.5h3.2M83.7 267.9v3.2M72.7 265.8h3.2M74.3 264.2v3.2M74.5 265.4h3.2M76.1 263.8v3.2M88.4 262.8h3.2M90.0 261.2v3.2M90.3 263.2h3.2M91.9 261.6v3.2M76.7 266.5h3.2M78.3 264.9v3.2M71.4 265.2h3.2M73.0 263.6v3.2M85.4 277.0h3.2M87.0 275.4v3.2M90.9 264.2h3.2M92.5 262.6v3.2M86.9 264.5h3.2M88.5 262.9v3.2M91.2 262.7h3.2M92.8 261.1v3.2M68.2 265.6h3.2M69.8 264.0v3.2M83.1 265.0h3.2M84.7 263.4v3.2M88.3 262.8h3.2M89.9 261.2v3.2M90.8 263.0h3.2M92.4 261.4v3.2M82.0 270.5h3.2M83.6 268.9v3.2M82.1 266.9h3.2M83.7 265.3v3.2M84.8 264.4h3.2M86.4 262.8v3.2M84.3 266.3h3.2M85.9 264.7v3.2M74.2 269.9h3.2M75.8 268.3v3.2M87.1 268.3h3.2M88.7 266.7v3.2M88.8 264.0h3.2M90.4 262.4v3.2M79.9 262.7h3.2M81.5 261.1v3.2M83.8 264.0h3.2M85.4 262.4v3.2M87.4 265.0h3.2M89.0 263.4v3.2M92.7 262.6h3.2M94.3 261.0v3.2M90.6 263.8h3.2M92.2 262.2v3.2M84.9 265.5h3.2M86.5 263.9v3.2M85.9 268.1h3.2M87.5 266.5v3.2M83.2 269.0h3.2M84.8 267.4v3.2M88.3 263.7h3.2M89.9 262.1v3.2M90.1 264.0h3.2M91.7 262.4v3.2M87.7 267.5h3.2M89.3 265.9v3.2M88.1 263.9h3.2M89.7 262.3v3.2M88.6 268.2h3.2M90.2 266.6v3.2M85.0 266.1h3.2M86.6 264.5v3.2M90.9 265.8h3.2M92.5 264.2v3.2M80.2 266.1h3.2M81.8 264.5v3.2M89.4 263.5h3.2M91.0 261.9v3.2M89.1 265.0h3.2M90.7 263.4v3.2M88.0 267.6h3.2M89.6 266.0v3.2M80.1 270.8h3.2M81.7 269.2v3.2M83.2 262.5h3.2M84.8 260.9v3.2M80.2 264.5h3.2M81.8 262.9v3.2M89.6 263.3h3.2M91.2 261.7v3.2M79.8 269.7h3.2M81.4 268.1v3.2M80.4 265.8h3.2M82.0 264.2v3.2M88.1 266.9h3.2M89.7 265.3v3.2M86.1 264.3h3.2M87.7 262.7v3.2M81.6 271.5h3.2M83.2 269.9v3.2M92.8 262.5h3.2M94.4 260.9v3.2M70.4 268.0h3.2M72.0 266.4v3.2M75.1 273.7h3.2M76.7 272.1v3.2M89.1 267.5h3.2M90.7 265.9v3.2M87.7 263.0h3.2M89.3 261.4v3.2M91.1 263.2h3.2M92.7 261.6v3.2M90.0 265.4h3.2M91.6 263.8v3.2M81.9 266.3h3.2M83.5 264.7v3.2M82.7 264.1h3.2M84.3 262.5v3.2M75.1 273.9h3.2M76.7 272.3v3.2M85.2 264.8h3.2M86.8 263.2v3.2M90.1 264.9h3.2M91.7 263.3v3.2M82.6 266.0h3.2M84.2 264.4v3.2M85.1 263.8h3.2M86.7 262.2v3.2M80.6 268.4h3.2M82.2 266.8v3.2M80.5 270.7h3.2M82.1 269.1v3.2M85.6 265.0h3.2M87.2 263.4v3.2M80.2 265.6h3.2M81.8 264.0v3.2M75.4 269.5h3.2M77.0 267.9v3.2M78.7 268.7h3.2M80.3 267.1v3.2M82.5 265.8h3.2M84.1 264.2v3.2M91.9 264.2h3.2M93.5 262.6v3.2M85.5 265.0h3.2M87.1 263.4v3.2M88.9 267.8h3.2M90.5 266.2v3.2M74.3 268.0h3.2M75.9 266.4v3.2M81.3 267.0h3.2M82.9 265.4v3.2M87.3 266.1h3.2M88.9 264.5v3.2M84.4 263.7h3.2M86.0 262.1v3.2M81.0 269.4h3.2M82.6 267.8v3.2M69.3 263.8h3.2M70.9 262.2v3.2M89.3 264.2h3.2M90.9 262.6v3.2M71.5 266.6h3.2M73.1 265.0v3.2M80.6 265.7h3.2M82.2 264.1v3.2M86.9 266.6h3.2M88.5 265.0v3.2M87.1 265.5h3.2M88.7 263.9v3.2M81.0 268.2h3.2M82.6 266.6v3.2M87.8 263.8h3.2M89.4 262.2v3.2M90.4 265.2h3.2M92.0 263.6v3.2M77.8 273.2h3.2M79.4 271.6v3.2M85.5 267.9h3.2M87.1 266.3v3.2M88.8 265.8h3.2M90.4 264.2v3.2M82.6 263.8h3.2M84.2 262.2v3.2M82.9 270.6h3.2M84.5 269.0v3.2M76.9 266.0h3.2M78.5 264.4v3.2M84.4 267.7h3.2M86.0 266.1v3.2M81.2 265.7h3.2M82.8 264.1v3.2M87.6 265.9h3.2M89.2 264.3v3.2M90.3 264.0h3.2M91.9 262.4v3.2M75.1 262.9h3.2M76.7 261.3v3.2M87.8 267.7h3.2M89.4 266.1v3.2M69.5 264.7h3.2M71.1 263.1v3.2M88.4 268.6h3.2M90.0 267.0v3.2M91.2 264.1h3.2M92.8 262.5v3.2M88.1 269.3h3.2M89.7 267.7v3.2M78.1 265.0h3.2M79.7 263.4v3.2M80.0 270.3h3.2M81.6 268.7v3.2M84.1 264.1h3.2M85.7 262.5v3.2M87.6 268.9h3.2M89.2 267.3v3.2M83.7 264.2h3.2M85.3 262.6v3.2M88.4 262.7h3.2M90.0 261.1v3.2M82.3 266.4h3.2M83.9 264.8v3.2M83.0 274.0h3.2M84.6 272.4v3.2M82.7 264.6h3.2M84.3 263.0v3.2M81.0 266.1h3.2M82.6 264.5v3.2M86.7 264.3h3.2M88.3 262.7v3.2M85.5 269.9h3.2M87.1 268.3v3.2M92.7 262.6h3.2M94.3 261.0v3.2M85.0 273.3h3.2M86.6 271.7v3.2M84.8 267.3h3.2M86.4 265.7v3.2M68.7 264.2h3.2M70.3 262.6v3.2M88.9 263.5h3.2M90.5 261.9v3.2M77.7 265.3h3.2M79.3 263.7v3.2M92.5 263.0h3.2M94.1 261.4v3.2M84.0 266.8h3.2M85.6 265.2v3.2M86.5 264.3h3.2M88.1 262.7v3.2M73.8 266.2h3.2M75.4 264.6v3.2M91.4 262.9h3.2M93.0 261.3v3.2M86.4 263.2h3.2M88.0 261.6v3.2M83.2 264.0h3.2M84.8 262.4v3.2M85.0 264.5h3.2M86.6 262.9v3.2M81.4 265.1h3.2M83.0 263.5v3.2M89.3 263.3h3.2M90.9 261.7v3.2M92.7 262.6h3.2M94.3 261.0v3.2M82.7 271.5h3.2M84.3 269.9v3.2M90.7 266.1h3.2M92.3 264.5v3.2M84.2 263.7h3.2M85.8 262.1v3.2M80.0 265.2h3.2M81.6 263.6v3.2M88.8 265.4h3.2M90.4 263.8v3.2M77.4 268.6h3.2M79.0 267.0v3.2M90.5 263.4h3.2M92.1 261.8v3.2M86.7 267.1h3.2M88.3 265.5v3.2M80.9 268.2h3.2M82.5 266.6v3.2M79.4 274.2h3.2M81.0 272.6v3.2M68.7 264.0h3.2M70.3 262.4v3.2M78.3 271.0h3.2M79.9 269.4v3.2M78.9 263.4h3.2M80.5 261.8v3.2M86.9 264.0h3.2M88.5 262.4v3.2M79.7 266.8h3.2M81.3 265.2v3.2M77.3 268.9h3.2M78.9 267.3v3.2M86.7 264.0h3.2M88.3 262.4v3.2M78.0 263.8h3.2M79.6 262.2v3.2M76.0 267.1h3.2M77.6 265.5v3.2M80.0 265.0h3.2M81.6 263.4v3.2M75.6 275.4h3.2M77.2 273.8v3.2M83.1 264.8h3.2M84.7 263.2v3.2M89.9 263.4h3.2M91.5 261.8v3.2M85.3 264.3h3.2M86.9 262.7v3.2M87.2 263.6h3.2M88.8 262.0v3.2M79.8 266.7h3.2M81.4 265.1v3.2M84.9 273.7h3.2M86.5 272.1v3.2M92.8 262.6h3.2M94.4 261.0v3.2M89.1 264.9h3.2M90.7 263.3v3.2M83.9 272.6h3.2M85.5 271.0v3.2M72.6 265.9h3.2M74.2 264.3v3.2M90.8 262.8h3.2M92.4 261.2v3.2M88.7 267.4h3.2M90.3 265.8v3.2M82.0 263.6h3.2M83.6 262.0v3.2M73.9 274.0h3.2M75.5 272.4v3.2M91.9 263.5h3.2M93.5 261.9v3.2M84.0 263.5h3.2M85.6 261.9v3.2M82.7 267.8h3.2M84.3 266.2v3.2M78.8 266.7h3.2M80.4 265.1v3.2M84.3 264.5h3.2M85.9 262.9v3.2M79.9 268.8h3.2M81.5 267.2v3.2M85.8 263.6h3.2M87.4 262.0v3.2M76.4 265.2h3.2M78.0 263.6v3.2M71.2 266.4h3.2M72.8 264.8v3.2M89.0 267.9h3.2M90.6 266.3v3.2M80.5 268.4h3.2M82.1 266.8v3.2M82.6 264.9h3.2M84.2 263.3v3.2M76.2 264.2h3.2M77.8 262.6v3.2M84.7 265.6h3.2M86.3 264.0v3.2M86.8 264.5h3.2M88.4 262.9v3.2M89.8 263.5h3.2M91.4 261.9v3.2M65.1 266.5h3.2M66.7 264.9v3.2M85.8 270.9h3.2M87.4 269.3v3.2M76.7 274.5h3.2M78.3 272.9v3.2M86.3 266.8h3.2M87.9 265.2v3.2M78.9 274.5h3.2M80.5 272.9v3.2M85.9 264.0h3.2M87.5 262.4v3.2M88.0 264.1h3.2M89.6 262.5v3.2M89.7 265.0h3.2M91.3 263.4v3.2M91.3 263.1h3.2M92.9 261.5v3.2M79.9 264.7h3.2M81.5 263.1v3.2M89.5 262.6h3.2M91.1 261.0v3.2M71.4 271.5h3.2M73.0 269.9v3.2M82.4 274.0h3.2M84.0 272.4v3.2M82.2 264.7h3.2M83.8 263.1v3.2M82.7 265.9h3.2M84.3 264.3v3.2M82.0 264.4h3.2M83.6 262.8v3.2M79.2 267.3h3.2M80.8 265.7v3.2M84.6 266.2h3.2M86.2 264.6v3.2M78.1 267.6h3.2M79.7 266.0v3.2M87.8 265.9h3.2M89.4 264.3v3.2M89.2 263.4h3.2M90.8 261.8v3.2M82.7 274.2h3.2M84.3 272.6v3.2M86.2 263.3h3.2M87.8 261.7v3.2M83.3 282.6h3.2M84.9 281.0v3.2M90.1 264.5h3.2M91.7 262.9v3.2M76.9 268.8h3.2M78.5 267.2v3.2M78.9 265.4h3.2M80.5 263.8v3.2M89.2 267.1h3.2M90.8 265.5v3.2M73.9 267.7h3.2M75.5 266.1v3.2M90.8 264.3h3.2M92.4 262.7v3.2M84.0 262.8h3.2M85.6 261.2v3.2M89.9 263.6h3.2M91.5 262.0v3.2M90.6 263.2h3.2M92.2 261.6v3.2M88.9 264.0h3.2M90.5 262.4v3.2M85.3 264.9h3.2M86.9 263.3v3.2M88.0 263.9h3.2M89.6 262.3v3.2M91.9 262.8h3.2M93.5 261.2v3.2M85.5 263.9h3.2M87.1 262.3v3.2M90.7 264.5h3.2M92.3 262.9v3.2M86.9 264.3h3.2M88.5 262.7v3.2M71.1 271.2h3.2M72.7 269.6v3.2M90.8 265.5h3.2M92.4 263.9v3.2M85.2 265.9h3.2M86.8 264.3v3.2M86.2 269.8h3.2M87.8 268.2v3.2M92.0 262.8h3.2M93.6 261.2v3.2M75.9 264.3h3.2M77.5 262.7v3.2M79.2 270.1h3.2M80.8 268.5v3.2M89.2 265.4h3.2M90.8 263.8v3.2M87.9 268.6h3.2M89.5 267.0v3.2M86.3 265.0h3.2M87.9 263.4v3.2M85.4 268.3h3.2M87.0 266.7v3.2M83.9 263.4h3.2M85.5 261.8v3.2M86.0 268.5h3.2M87.6 266.9v3.2M80.3 263.3h3.2M81.9 261.7v3.2M88.6 265.0h3.2M90.2 263.4v3.2M80.0 265.6h3.2M81.6 264.0v3.2M76.2 266.7h3.2M77.8 265.1v3.2M87.6 263.2h3.2M89.2 261.6v3.2M83.2 262.9h3.2M84.8 261.3v3.2M90.7 263.0h3.2M92.3 261.4v3.2M75.2 273.4h3.2M76.8 271.8v3.2M78.2 268.6h3.2M79.8 267.0v3.2M81.9 265.9h3.2M83.5 264.3v3.2M87.9 266.9h3.2M89.5 265.3v3.2M88.8 263.7h3.2M90.4 262.1v3.2M87.5 262.5h3.2M89.1 260.9v3.2M86.3 264.5h3.2M87.9 262.9v3.2M83.0 274.7h3.2M84.6 273.1v3.2M90.0 266.4h3.2M91.6 264.8v3.2M84.1 268.0h3.2M85.7 266.4v3.2M88.9 264.7h3.2M90.5 263.1v3.2M85.0 272.9h3.2M86.6 271.3v3.2M86.4 266.3h3.2M88.0 264.7v3.2M79.2 279.1h3.2M80.8 277.5v3.2M82.1 264.0h3.2M83.7 262.4v3.2M88.2 268.2h3.2M89.8 266.6v3.2M90.7 263.8h3.2M92.3 262.2v3.2M79.9 262.6h3.2M81.5 261.0v3.2M73.7 268.1h3.2M75.3 266.5v3.2M88.2 267.1h3.2M89.8 265.5v3.2M74.2 266.2h3.2M75.8 264.6v3.2M87.4 265.3h3.2M89.0 263.7v3.2M91.0 263.8h3.2M92.6 262.2v3.2M87.3 263.2h3.2M88.9 261.6v3.2M90.7 265.0h3.2M92.3 263.4v3.2M89.9 263.6h3.2M91.5 262.0v3.2M73.3 266.2h3.2M74.9 264.6v3.2M79.7 273.6h3.2M81.3 272.0v3.2M89.9 265.3h3.2M91.5 263.7v3.2M81.2 268.0h3.2M82.8 266.4v3.2M88.3 264.1h3.2M89.9 262.5v3.2M88.7 264.4h3.2M90.3 262.8v3.2M80.3 264.7h3.2M81.9 263.1v3.2M67.3 267.9h3.2M68.9 266.3v3.2M91.8 262.7h3.2M93.4 261.1v3.2M90.0 263.7h3.2M91.6 262.1v3.2M82.4 266.2h3.2M84.0 264.6v3.2M77.8 266.7h3.2M79.4 265.1v3.2M91.7 263.4h3.2M93.3 261.8v3.2M87.1 263.3h3.2M88.7 261.7v3.2M76.4 274.6h3.2M78.0 273.0v3.2M73.9 266.0h3.2M75.5 264.4v3.2M84.6 267.8h3.2M86.2 266.2v3.2M75.3 269.3h3.2M76.9 267.7v3.2M83.7 262.4h3.2M85.3 260.8v3.2M86.6 264.4h3.2M88.2 262.8v3.2M80.1 264.8h3.2M81.7 263.2v3.2M71.6 266.3h3.2M73.2 264.7v3.2M90.3 265.5h3.2M91.9 263.9v3.2M88.8 263.6h3.2M90.4 262.0v3.2M90.1 263.9h3.2M91.7 262.3v3.2M84.2 270.1h3.2M85.8 268.5v3.2M76.1 264.8h3.2M77.7 263.2v3.2"/>
<path fill="#f17556" d="M115.3 287.7h2.8v2.4h-2.8zM120.6 266.1h2.8v2.4h-2.8zM105.5 298.1h2.8v2.4h-2.8zM137.9 264.9h2.8v2.4h-2.8zM113.8 273.6h2.8v2.4h-2.8zM104.0 266.8h2.8v2.4h-2.8zM108.2 287.5h2.8v2.4h-2.8zM98.8 273.1h2.8v2.4h-2.8zM117.1 265.6h2.8v2.4h-2.8zM101.5 269.3h2.8v2.4h-2.8zM128.4 283.5h2.8v2.4h-2.8zM116.2 278.2h2.8v2.4h-2.8zM112.7 277.1h2.8v2.4h-2.8zM120.0 276.6h2.8v2.4h-2.8zM94.2 264.7h2.8v2.4h-2.8zM103.4 307.4h2.8v2.4h-2.8zM111.8 284.0h2.8v2.4h-2.8zM103.5 263.1h2.8v2.4h-2.8zM124.2 278.7h2.8v2.4h-2.8zM116.3 282.1h2.8v2.4h-2.8zM113.6 267.7h2.8v2.4h-2.8zM112.5 272.0h2.8v2.4h-2.8zM125.7 263.9h2.8v2.4h-2.8zM109.6 285.6h2.8v2.4h-2.8zM133.9 263.4h2.8v2.4h-2.8zM114.3 299.0h2.8v2.4h-2.8zM108.7 265.9h2.8v2.4h-2.8zM109.2 270.9h2.8v2.4h-2.8zM119.0 267.3h2.8v2.4h-2.8zM126.4 277.2h2.8v2.4h-2.8zM125.4 291.1h2.8v2.4h-2.8zM99.5 283.5h2.8v2.4h-2.8zM106.7 266.1h2.8v2.4h-2.8zM149.6 266.4h2.8v2.4h-2.8zM128.6 274.1h2.8v2.4h-2.8zM106.0 269.2h2.8v2.4h-2.8zM115.3 272.0h2.8v2.4h-2.8zM149.5 268.4h2.8v2.4h-2.8zM109.4 275.7h2.8v2.4h-2.8zM112.1 287.4h2.8v2.4h-2.8zM105.5 284.4h2.8v2.4h-2.8zM99.9 266.7h2.8v2.4h-2.8zM106.6 263.2h2.8v2.4h-2.8zM141.6 276.0h2.8v2.4h-2.8zM117.3 274.7h2.8v2.4h-2.8zM109.9 270.7h2.8v2.4h-2.8zM111.6 267.5h2.8v2.4h-2.8zM120.7 284.5h2.8v2.4h-2.8zM95.7 263.7h2.8v2.4h-2.8zM149.3 272.8h2.8v2.4h-2.8zM106.1 269.0h2.8v2.4h-2.8zM107.7 266.9h2.8v2.4h-2.8zM109.5 268.5h2.8v2.4h-2.8zM96.9 263.5h2.8v2.4h-2.8zM129.1 268.2h2.8v2.4h-2.8zM98.6 268.7h2.8v2.4h-2.8zM104.0 265.4h2.8v2.4h-2.8zM109.6 276.9h2.8v2.4h-2.8zM109.3 272.5h2.8v2.4h-2.8zM112.1 261.5h2.8v2.4h-2.8zM125.8 280.8h2.8v2.4h-2.8zM105.7 278.5h2.8v2.4h-2.8zM121.2 275.1h2.8v2.4h-2.8zM99.0 275.1h2.8v2.4h-2.8zM102.1 265.6h2.8v2.4h-2.8zM110.7 266.3h2.8v2.4h-2.8zM118.3 296.4h2.8v2.4h-2.8zM113.1 274.8h2.8v2.4h-2.8zM123.9 263.6h2.8v2.4h-2.8zM139.1 281.5h2.8v2.4h-2.8zM126.4 282.6h2.8v2.4h-2.8zM104.1 270.2h2.8v2.4h-2.8zM97.4 264.0h2.8v2.4h-2.8zM123.6 280.7h2.8v2.4h-2.8zM102.6 268.5h2.8v2.4h-2.8zM111.9 272.8h2.8v2.4h-2.8zM118.4 277.7h2.8v2.4h-2.8zM130.3 273.2h2.8v2.4h-2.8zM98.5 263.7h2.8v2.4h-2.8zM112.2 274.6h2.8v2.4h-2.8zM94.8 266.4h2.8v2.4h-2.8zM121.0 272.9h2.8v2.4h-2.8zM118.3 277.6h2.8v2.4h-2.8zM104.8 269.9h2.8v2.4h-2.8zM101.6 266.9h2.8v2.4h-2.8zM143.9 262.3h2.8v2.4h-2.8zM96.0 263.6h2.8v2.4h-2.8zM118.5 293.5h2.8v2.4h-2.8zM119.0 277.7h2.8v2.4h-2.8zM120.9 267.0h2.8v2.4h-2.8zM98.8 283.2h2.8v2.4h-2.8zM138.7 263.2h2.8v2.4h-2.8zM122.8 264.6h2.8v2.4h-2.8zM108.3 274.5h2.8v2.4h-2.8zM98.5 267.3h2.8v2.4h-2.8zM115.8 293.2h2.8v2.4h-2.8zM106.2 287.4h2.8v2.4h-2.8zM95.8 269.0h2.8v2.4h-2.8zM116.4 275.9h2.8v2.4h-2.8zM93.5 268.4h2.8v2.4h-2.8zM117.2 267.0h2.8v2.4h-2.8zM103.4 288.7h2.8v2.4h-2.8zM144.0 277.0h2.8v2.4h-2.8zM144.3 278.1h2.8v2.4h-2.8zM101.6 278.1h2.8v2.4h-2.8zM134.1 268.8h2.8v2.4h-2.8zM123.6 273.8h2.8v2.4h-2.8zM106.0 281.6h2.8v2.4h-2.8zM114.9 293.5h2.8v2.4h-2.8zM113.9 288.9h2.8v2.4h-2.8zM99.1 268.3h2.8v2.4h-2.8zM111.1 271.6h2.8v2.4h-2.8zM124.8 275.1h2.8v2.4h-2.8zM136.5 277.0h2.8v2.4h-2.8zM104.0 291.2h2.8v2.4h-2.8zM117.3 267.6h2.8v2.4h-2.8zM120.5 267.1h2.8v2.4h-2.8zM103.2 293.8h2.8v2.4h-2.8zM101.8 301.3h2.8v2.4h-2.8zM143.0 273.9h2.8v2.4h-2.8zM105.8 302.8h2.8v2.4h-2.8zM110.5 281.6h2.8v2.4h-2.8zM102.9 281.7h2.8v2.4h-2.8zM108.6 270.5h2.8v2.4h-2.8zM114.3 292.3h2.8v2.4h-2.8zM128.8 274.4h2.8v2.4h-2.8zM96.2 266.3h2.8v2.4h-2.8zM99.2 272.8h2.8v2.4h-2.8zM101.5 277.9h2.8v2.4h-2.8zM98.2 276.6h2.8v2.4h-2.8zM106.8 323.2h2.8v2.4h-2.8z"/>
<path fill="#fa2417" d="M116.6 264.1h2.6v2.2h-2.6zM96.8 266.5h2.6v2.2h-2.6zM99.2 270.4h2.6v2.2h-2.6zM102.6 276.9h2.6v2.2h-2.6zM112.6 273.4h2.6v2.2h-2.6zM105.5 265.2h2.6v2.2h-2.6zM111.4 270.0h2.6v2.2h-2.6zM104.0 268.0h2.6v2.2h-2.6zM95.7 262.7h2.6v2.2h-2.6zM128.3 276.5h2.6v2.2h-2.6zM104.6 267.4h2.6v2.2h-2.6zM100.2 282.0h2.6v2.2h-2.6zM106.5 263.9h2.6v2.2h-2.6zM102.8 270.7h2.6v2.2h-2.6zM98.0 269.4h2.6v2.2h-2.6zM106.9 263.8h2.6v2.2h-2.6zM97.2 267.9h2.6v2.2h-2.6zM106.6 274.6h2.6v2.2h-2.6zM110.4 284.6h2.6v2.2h-2.6zM94.9 271.1h2.6v2.2h-2.6zM114.9 271.7h2.6v2.2h-2.6zM95.6 263.6h2.6v2.2h-2.6zM114.7 272.0h2.6v2.2h-2.6zM121.8 280.6h2.6v2.2h-2.6zM105.9 265.4h2.6v2.2h-2.6zM108.2 271.3h2.6v2.2h-2.6zM101.3 273.0h2.6v2.2h-2.6zM95.0 262.9h2.6v2.2h-2.6zM105.1 285.8h2.6v2.2h-2.6zM94.5 264.4h2.6v2.2h-2.6zM111.2 267.0h2.6v2.2h-2.6zM96.9 262.6h2.6v2.2h-2.6zM106.5 275.2h2.6v2.2h-2.6zM95.6 281.3h2.6v2.2h-2.6zM112.6 267.7h2.6v2.2h-2.6zM104.5 263.4h2.6v2.2h-2.6zM94.5 264.8h2.6v2.2h-2.6zM105.2 269.7h2.6v2.2h-2.6zM105.5 264.7h2.6v2.2h-2.6zM96.6 262.8h2.6v2.2h-2.6zM106.2 273.7h2.6v2.2h-2.6zM101.6 270.0h2.6v2.2h-2.6zM97.7 269.1h2.6v2.2h-2.6zM95.5 262.6h2.6v2.2h-2.6zM102.0 287.0h2.6v2.2h-2.6zM119.5 278.9h2.6v2.2h-2.6zM115.1 277.1h2.6v2.2h-2.6zM102.4 288.3h2.6v2.2h-2.6zM102.0 263.6h2.6v2.2h-2.6zM113.9 263.9h2.6v2.2h-2.6zM101.9 267.9h2.6v2.2h-2.6zM114.0 265.1h2.6v2.2h-2.6zM106.9 281.9h2.6v2.2h-2.6zM97.7 264.6h2.6v2.2h-2.6zM102.0 262.6h2.6v2.2h-2.6zM102.3 267.7h2.6v2.2h-2.6zM100.4 265.0h2.6v2.2h-2.6zM104.6 269.3h2.6v2.2h-2.6zM102.2 269.2h2.6v2.2h-2.6zM95.9 262.4h2.6v2.2h-2.6zM123.7 277.5h2.6v2.2h-2.6zM106.4 264.0h2.6v2.2h-2.6zM97.1 266.9h2.6v2.2h-2.6zM121.6 280.9h2.6v2.2h-2.6zM99.8 264.1h2.6v2.2h-2.6zM108.1 271.8h2.6v2.2h-2.6zM117.8 273.7h2.6v2.2h-2.6zM115.6 287.6h2.6v2.2h-2.6zM105.2 268.1h2.6v2.2h-2.6zM102.3 273.6h2.6v2.2h-2.6zM95.5 263.4h2.6v2.2h-2.6zM102.4 277.4h2.6v2.2h-2.6zM106.8 268.5h2.6v2.2h-2.6zM95.4 275.1h2.6v2.2h-2.6zM103.5 285.2h2.6v2.2h-2.6zM107.2 263.6h2.6v2.2h-2.6zM94.3 261.9h2.6v2.2h-2.6zM100.3 263.9h2.6v2.2h-2.6zM104.2 272.6h2.6v2.2h-2.6zM97.1 274.4h2.6v2.2h-2.6zM103.1 270.7h2.6v2.2h-2.6zM101.7 266.2h2.6v2.2h-2.6zM114.5 262.9h2.6v2.2h-2.6zM101.1 270.7h2.6v2.2h-2.6zM98.4 269.1h2.6v2.2h-2.6zM102.7 275.9h2.6v2.2h-2.6zM96.4 264.6h2.6v2.2h-2.6zM99.5 267.6h2.6v2.2h-2.6zM116.1 280.1h2.6v2.2h-2.6zM109.1 289.6h2.6v2.2h-2.6zM129.6 274.9h2.6v2.2h-2.6zM106.2 277.8h2.6v2.2h-2.6zM101.9 262.8h2.6v2.2h-2.6zM111.9 264.6h2.6v2.2h-2.6zM112.2 273.1h2.6v2.2h-2.6zM99.4 262.4h2.6v2.2h-2.6zM118.1 272.9h2.6v2.2h-2.6zM109.3 271.9h2.6v2.2h-2.6zM123.5 278.2h2.6v2.2h-2.6zM95.7 261.8h2.6v2.2h-2.6zM99.4 265.3h2.6v2.2h-2.6zM109.1 266.3h2.6v2.2h-2.6zM108.9 270.7h2.6v2.2h-2.6zM98.6 287.4h2.6v2.2h-2.6zM96.8 269.5h2.6v2.2h-2.6zM108.3 265.9h2.6v2.2h-2.6zM118.3 282.3h2.6v2.2h-2.6zM104.3 290.1h2.6v2.2h-2.6zM104.5 279.0h2.6v2.2h-2.6zM105.2 263.3h2.6v2.2h-2.6zM113.3 264.0h2.6v2.2h-2.6zM100.7 269.8h2.6v2.2h-2.6zM101.2 264.1h2.6v2.2h-2.6zM103.3 294.0h2.6v2.2h-2.6zM117.5 269.6h2.6v2.2h-2.6zM122.1 282.2h2.6v2.2h-2.6zM98.6 273.4h2.6v2.2h-2.6zM98.4 263.6h2.6v2.2h-2.6zM106.1 266.2h2.6v2.2h-2.6zM97.3 262.0h2.6v2.2h-2.6zM109.1 263.9h2.6v2.2h-2.6zM102.0 264.2h2.6v2.2h-2.6zM96.5 270.5h2.6v2.2h-2.6zM112.6 268.2h2.6v2.2h-2.6zM104.7 274.8h2.6v2.2h-2.6zM110.0 296.4h2.6v2.2h-2.6zM101.5 269.7h2.6v2.2h-2.6zM103.4 268.7h2.6v2.2h-2.6zM98.9 263.9h2.6v2.2h-2.6zM100.3 268.5h2.6v2.2h-2.6zM101.0 276.5h2.6v2.2h-2.6zM100.9 268.9h2.6v2.2h-2.6zM96.3 262.4h2.6v2.2h-2.6zM107.1 267.0h2.6v2.2h-2.6zM107.5 267.3h2.6v2.2h-2.6zM98.8 270.2h2.6v2.2h-2.6zM96.3 265.3h2.6v2.2h-2.6zM110.1 285.6h2.6v2.2h-2.6zM101.0 263.1h2.6v2.2h-2.6zM115.9 276.5h2.6v2.2h-2.6zM107.4 276.5h2.6v2.2h-2.6zM108.4 274.7h2.6v2.2h-2.6zM97.4 269.3h2.6v2.2h-2.6zM121.0 271.6h2.6v2.2h-2.6zM109.6 264.2h2.6v2.2h-2.6zM113.9 286.5h2.6v2.2h-2.6zM96.6 268.5h2.6v2.2h-2.6zM102.9 285.0h2.6v2.2h-2.6zM105.5 267.4h2.6v2.2h-2.6zM109.5 265.8h2.6v2.2h-2.6zM100.3 266.5h2.6v2.2h-2.6zM115.5 276.3h2.6v2.2h-2.6zM97.4 266.3h2.6v2.2h-2.6zM103.6 261.7h2.6v2.2h-2.6zM103.1 270.8h2.6v2.2h-2.6zM102.9 267.4h2.6v2.2h-2.6zM97.6 264.0h2.6v2.2h-2.6zM117.9 268.0h2.6v2.2h-2.6zM97.9 268.6h2.6v2.2h-2.6zM105.7 274.3h2.6v2.2h-2.6zM93.9 262.2h2.6v2.2h-2.6zM100.1 264.4h2.6v2.2h-2.6zM105.4 275.8h2.6v2.2h-2.6zM103.8 267.6h2.6v2.2h-2.6zM104.8 271.6h2.6v2.2h-2.6zM103.1 280.5h2.6v2.2h-2.6zM133.8 265.0h2.6v2.2h-2.6zM125.8 270.4h2.6v2.2h-2.6zM96.0 264.0h2.6v2.2h-2.6zM100.6 273.2h2.6v2.2h-2.6zM95.1 262.7h2.6v2.2h-2.6zM111.1 285.3h2.6v2.2h-2.6zM101.3 276.4h2.6v2.2h-2.6zM110.4 274.2h2.6v2.2h-2.6zM108.3 265.8h2.6v2.2h-2.6zM105.5 278.7h2.6v2.2h-2.6zM94.3 265.8h2.6v2.2h-2.6zM106.6 267.9h2.6v2.2h-2.6zM117.3 269.7h2.6v2.2h-2.6zM100.0 267.2h2.6v2.2h-2.6zM98.6 269.5h2.6v2.2h-2.6zM97.3 263.8h2.6v2.2h-2.6zM101.5 271.4h2.6v2.2h-2.6zM95.0 265.8h2.6v2.2h-2.6zM116.8 272.9h2.6v2.2h-2.6zM110.2 269.0h2.6v2.2h-2.6zM108.1 262.6h2.6v2.2h-2.6zM105.9 266.5h2.6v2.2h-2.6zM120.6 275.3h2.6v2.2h-2.6zM94.5 265.6h2.6v2.2h-2.6zM110.6 281.7h2.6v2.2h-2.6zM125.3 274.5h2.6v2.2h-2.6zM109.2 285.3h2.6v2.2h-2.6zM101.3 267.7h2.6v2.2h-2.6zM111.3 270.4h2.6v2.2h-2.6zM118.8 269.5h2.6v2.2h-2.6zM97.8 263.0h2.6v2.2h-2.6zM104.4 264.2h2.6v2.2h-2.6zM106.9 271.2h2.6v2.2h-2.6zM100.1 266.3h2.6v2.2h-2.6zM127.0 271.0h2.6v2.2h-2.6zM96.4 269.8h2.6v2.2h-2.6zM102.5 266.4h2.6v2.2h-2.6zM101.3 265.0h2.6v2.2h-2.6zM96.9 263.5h2.6v2.2h-2.6zM104.8 267.8h2.6v2.2h-2.6zM101.4 263.4h2.6v2.2h-2.6zM114.3 277.4h2.6v2.2h-2.6zM99.0 263.6h2.6v2.2h-2.6zM101.6 263.9h2.6v2.2h-2.6zM95.3 264.0h2.6v2.2h-2.6zM121.4 268.6h2.6v2.2h-2.6zM96.7 271.7h2.6v2.2h-2.6zM105.8 268.4h2.6v2.2h-2.6zM125.2 276.9h2.6v2.2h-2.6zM97.0 279.6h2.6v2.2h-2.6zM98.8 270.7h2.6v2.2h-2.6zM98.7 275.3h2.6v2.2h-2.6zM94.3 261.9h2.6v2.2h-2.6zM113.8 279.5h2.6v2.2h-2.6zM96.6 261.8h2.6v2.2h-2.6zM103.5 262.2h2.6v2.2h-2.6zM120.4 275.5h2.6v2.2h-2.6zM105.5 270.1h2.6v2.2h-2.6zM98.3 273.3h2.6v2.2h-2.6zM134.4 263.3h2.6v2.2h-2.6zM103.3 266.3h2.6v2.2h-2.6zM111.4 275.3h2.6v2.2h-2.6zM116.7 278.1h2.6v2.2h-2.6zM117.5 261.7h2.6v2.2h-2.6zM118.6 278.2h2.6v2.2h-2.6zM94.7 265.3h2.6v2.2h-2.6zM104.6 264.4h2.6v2.2h-2.6zM102.3 265.1h2.6v2.2h-2.6zM99.4 268.3h2.6v2.2h-2.6zM108.9 271.1h2.6v2.2h-2.6zM104.0 268.1h2.6v2.2h-2.6zM97.5 263.3h2.6v2.2h-2.6zM117.3 274.6h2.6v2.2h-2.6zM102.8 263.4h2.6v2.2h-2.6zM115.5 277.9h2.6v2.2h-2.6zM115.9 279.5h2.6v2.2h-2.6zM110.3 266.3h2.6v2.2h-2.6zM123.3 271.4h2.6v2.2h-2.6zM99.8 262.6h2.6v2.2h-2.6zM95.1 262.0h2.6v2.2h-2.6zM109.3 278.7h2.6v2.2h-2.6zM108.3 269.0h2.6v2.2h-2.6zM116.2 279.9h2.6v2.2h-2.6zM95.7 262.7h2.6v2.2h-2.6zM141.5 265.4h2.6v2.2h-2.6zM106.7 286.4h2.6v2.2h-2.6zM113.7 269.7h2.6v2.2h-2.6zM106.3 283.9h2.6v2.2h-2.6zM101.0 268.2h2.6v2.2h-2.6zM96.4 272.5h2.6v2.2h-2.6zM100.2 269.8h2.6v2.2h-2.6zM105.3 269.3h2.6v2.2h-2.6zM100.1 261.5h2.6v2.2h-2.6zM100.2 265.0h2.6v2.2h-2.6zM104.0 275.5h2.6v2.2h-2.6zM117.1 278.2h2.6v2.2h-2.6zM113.3 273.3h2.6v2.2h-2.6zM94.9 272.4h2.6v2.2h-2.6zM117.8 279.3h2.6v2.2h-2.6zM100.6 264.3h2.6v2.2h-2.6zM101.0 267.6h2.6v2.2h-2.6zM95.0 262.1h2.6v2.2h-2.6zM100.0 270.4h2.6v2.2h-2.6zM96.8 271.2h2.6v2.2h-2.6zM97.6 272.2h2.6v2.2h-2.6zM99.9 264.4h2.6v2.2h-2.6zM108.7 268.9h2.6v2.2h-2.6zM102.7 263.8h2.6v2.2h-2.6zM110.1 267.3h2.6v2.2h-2.6zM103.3 270.7h2.6v2.2h-2.6zM99.6 270.4h2.6v2.2h-2.6zM103.4 294.9h2.6v2.2h-2.6zM100.1 264.7h2.6v2.2h-2.6zM105.0 293.5h2.6v2.2h-2.6zM97.1 263.2h2.6v2.2h-2.6zM96.4 290.3h2.6v2.2h-2.6zM103.7 271.4h2.6v2.2h-2.6zM107.5 266.5h2.6v2.2h-2.6zM102.8 285.5h2.6v2.2h-2.6zM118.6 273.0h2.6v2.2h-2.6zM110.9 263.9h2.6v2.2h-2.6zM99.3 263.6h2.6v2.2h-2.6zM112.6 267.6h2.6v2.2h-2.6zM110.3 265.4h2.6v2.2h-2.6zM124.0 263.6h2.6v2.2h-2.6zM104.1 271.0h2.6v2.2h-2.6zM94.2 268.6h2.6v2.2h-2.6zM97.6 266.8h2.6v2.2h-2.6zM136.0 264.7h2.6v2.2h-2.6zM113.7 288.0h2.6v2.2h-2.6zM98.2 274.6h2.6v2.2h-2.6zM97.6 263.7h2.6v2.2h-2.6zM107.7 269.9h2.6v2.2h-2.6zM122.6 276.5h2.6v2.2h-2.6zM108.7 262.3h2.6v2.2h-2.6zM106.2 263.7h2.6v2.2h-2.6zM104.4 281.7h2.6v2.2h-2.6zM98.6 266.3h2.6v2.2h-2.6zM103.6 263.7h2.6v2.2h-2.6zM115.6 275.1h2.6v2.2h-2.6zM116.4 276.5h2.6v2.2h-2.6zM112.0 267.8h2.6v2.2h-2.6zM115.2 271.4h2.6v2.2h-2.6zM99.7 278.0h2.6v2.2h-2.6zM94.8 262.6h2.6v2.2h-2.6zM110.9 295.0h2.6v2.2h-2.6zM97.8 265.5h2.6v2.2h-2.6zM116.7 278.3h2.6v2.2h-2.6zM102.0 284.3h2.6v2.2h-2.6zM133.6 268.0h2.6v2.2h-2.6zM94.9 271.9h2.6v2.2h-2.6zM103.8 284.0h2.6v2.2h-2.6zM95.9 265.4h2.6v2.2h-2.6zM99.1 264.6h2.6v2.2h-2.6zM94.6 263.5h2.6v2.2h-2.6zM103.3 270.6h2.6v2.2h-2.6zM106.2 276.2h2.6v2.2h-2.6zM96.4 263.8h2.6v2.2h-2.6zM110.6 291.6h2.6v2.2h-2.6zM112.5 266.7h2.6v2.2h-2.6zM104.3 286.6h2.6v2.2h-2.6zM110.6 273.1h2.6v2.2h-2.6zM101.5 264.8h2.6v2.2h-2.6zM101.4 264.4h2.6v2.2h-2.6zM95.8 262.0h2.6v2.2h-2.6zM114.8 278.0h2.6v2.2h-2.6zM93.7 262.7h2.6v2.2h-2.6zM118.6 269.7h2.6v2.2h-2.6zM116.9 266.2h2.6v2.2h-2.6zM116.6 274.5h2.6v2.2h-2.6zM97.8 263.7h2.6v2.2h-2.6zM121.4 262.6h2.6v2.2h-2.6zM105.9 270.7h2.6v2.2h-2.6zM105.7 263.5h2.6v2.2h-2.6zM108.6 282.0h2.6v2.2h-2.6zM99.9 272.5h2.6v2.2h-2.6zM108.3 271.8h2.6v2.2h-2.6zM111.5 277.3h2.6v2.2h-2.6zM125.7 271.8h2.6v2.2h-2.6zM104.1 272.5h2.6v2.2h-2.6zM102.7 272.1h2.6v2.2h-2.6zM96.5 264.3h2.6v2.2h-2.6zM119.8 276.0h2.6v2.2h-2.6zM132.1 265.6h2.6v2.2h-2.6zM96.5 261.8h2.6v2.2h-2.6zM110.7 273.4h2.6v2.2h-2.6zM119.4 263.8h2.6v2.2h-2.6zM107.6 273.1h2.6v2.2h-2.6zM102.7 279.2h2.6v2.2h-2.6zM119.6 267.6h2.6v2.2h-2.6zM105.9 266.9h2.6v2.2h-2.6zM104.3 267.0h2.6v2.2h-2.6zM112.1 294.6h2.6v2.2h-2.6zM111.5 282.9h2.6v2.2h-2.6zM93.6 261.5h2.6v2.2h-2.6zM100.7 269.7h2.6v2.2h-2.6zM121.5 269.9h2.6v2.2h-2.6zM96.4 277.2h2.6v2.2h-2.6zM114.0 266.2h2.6v2.2h-2.6zM105.0 277.3h2.6v2.2h-2.6zM98.0 281.5h2.6v2.2h-2.6zM102.3 283.9h2.6v2.2h-2.6zM105.7 274.3h2.6v2.2h-2.6zM133.9 260.1h2.6v2.2h-2.6zM101.4 267.4h2.6v2.2h-2.6zM102.8 281.2h2.6v2.2h-2.6zM103.5 270.4h2.6v2.2h-2.6zM121.5 265.0h2.6v2.2h-2.6zM122.4 275.7h2.6v2.2h-2.6zM97.9 266.4h2.6v2.2h-2.6zM96.8 264.5h2.6v2.2h-2.6zM96.9 266.7h2.6v2.2h-2.6zM122.9 274.1h2.6v2.2h-2.6zM113.0 269.2h2.6v2.2h-2.6zM102.9 279.4h2.6v2.2h-2.6zM105.6 293.1h2.6v2.2h-2.6zM96.3 265.5h2.6v2.2h-2.6zM111.7 268.4h2.6v2.2h-2.6zM112.1 269.2h2.6v2.2h-2.6zM94.6 267.5h2.6v2.2h-2.6zM107.9 276.4h2.6v2.2h-2.6zM124.6 271.6h2.6v2.2h-2.6zM109.8 271.5h2.6v2.2h-2.6zM111.2 283.3h2.6v2.2h-2.6zM99.5 271.2h2.6v2.2h-2.6zM109.3 285.8h2.6v2.2h-2.6zM99.1 278.6h2.6v2.2h-2.6zM100.8 262.5h2.6v2.2h-2.6zM107.6 277.3h2.6v2.2h-2.6zM99.5 264.5h2.6v2.2h-2.6zM123.8 273.2h2.6v2.2h-2.6zM109.9 265.1h2.6v2.2h-2.6zM122.4 262.7h2.6v2.2h-2.6zM103.9 268.7h2.6v2.2h-2.6zM103.7 272.4h2.6v2.2h-2.6zM114.0 274.7h2.6v2.2h-2.6zM109.7 265.3h2.6v2.2h-2.6zM100.8 266.7h2.6v2.2h-2.6zM107.5 287.4h2.6v2.2h-2.6zM139.4 266.1h2.6v2.2h-2.6zM94.6 267.4h2.6v2.2h-2.6zM98.7 271.4h2.6v2.2h-2.6zM94.6 261.9h2.6v2.2h-2.6zM101.1 265.7h2.6v2.2h-2.6zM103.8 267.4h2.6v2.2h-2.6zM103.7 262.0h2.6v2.2h-2.6zM108.1 276.2h2.6v2.2h-2.6zM119.2 272.9h2.6v2.2h-2.6zM107.5 274.8h2.6v2.2h-2.6zM104.3 262.5h2.6v2.2h-2.6zM102.3 267.9h2.6v2.2h-2.6zM111.1 273.4h2.6v2.2h-2.6zM113.9 271.4h2.6v2.2h-2.6zM109.2 280.8h2.6v2.2h-2.6zM117.6 273.4h2.6v2.2h-2.6zM107.5 294.3h2.6v2.2h-2.6zM100.5 267.8h2.6v2.2h-2.6zM104.2 267.0h2.6v2.2h-2.6zM99.3 281.6h2.6v2.2h-2.6zM98.4 269.8h2.6v2.2h-2.6zM112.9 268.2h2.6v2.2h-2.6zM106.4 272.5h2.6v2.2h-2.6zM108.0 269.4h2.6v2.2h-2.6zM107.7 262.2h2.6v2.2h-2.6zM110.7 264.7h2.6v2.2h-2.6zM111.3 275.6h2.6v2.2h-2.6zM97.9 271.6h2.6v2.2h-2.6zM114.3 274.5h2.6v2.2h-2.6zM119.5 266.1h2.6v2.2h-2.6zM98.9 265.7h2.6v2.2h-2.6zM99.4 275.9h2.6v2.2h-2.6zM115.0 270.3h2.6v2.2h-2.6zM107.9 271.2h2.6v2.2h-2.6zM100.6 264.4h2.6v2.2h-2.6zM116.4 267.9h2.6v2.2h-2.6zM96.9 267.9h2.6v2.2h-2.6zM99.1 263.7h2.6v2.2h-2.6zM108.3 273.1h2.6v2.2h-2.6zM95.9 264.1h2.6v2.2h-2.6zM96.7 271.2h2.6v2.2h-2.6zM95.6 264.8h2.6v2.2h-2.6zM110.6 269.0h2.6v2.2h-2.6zM130.8 269.4h2.6v2.2h-2.6zM105.2 264.4h2.6v2.2h-2.6zM130.1 275.1h2.6v2.2h-2.6zM97.3 265.3h2.6v2.2h-2.6zM130.6 269.5h2.6v2.2h-2.6zM101.2 271.4h2.6v2.2h-2.6zM106.9 273.3h2.6v2.2h-2.6zM107.9 267.9h2.6v2.2h-2.6zM114.1 267.4h2.6v2.2h-2.6zM121.7 266.9h2.6v2.2h-2.6zM119.2 276.0h2.6v2.2h-2.6zM130.4 271.7h2.6v2.2h-2.6zM98.7 264.4h2.6v2.2h-2.6zM107.2 267.2h2.6v2.2h-2.6zM113.1 272.5h2.6v2.2h-2.6zM102.5 274.5h2.6v2.2h-2.6zM128.1 273.3h2.6v2.2h-2.6zM98.1 262.6h2.6v2.2h-2.6zM102.2 266.5h2.6v2.2h-2.6zM99.2 266.5h2.6v2.2h-2.6zM95.4 263.2h2.6v2.2h-2.6zM98.8 266.1h2.6v2.2h-2.6zM112.7 271.5h2.6v2.2h-2.6zM108.0 270.1h2.6v2.2h-2.6zM102.5 266.6h2.6v2.2h-2.6zM95.4 267.6h2.6v2.2h-2.6zM105.7 288.3h2.6v2.2h-2.6zM122.6 272.9h2.6v2.2h-2.6zM94.5 262.9h2.6v2.2h-2.6zM140.1 267.1h2.6v2.2h-2.6zM110.8 265.3h2.6v2.2h-2.6zM96.6 265.2h2.6v2.2h-2.6zM100.2 263.6h2.6v2.2h-2.6zM105.5 292.1h2.6v2.2h-2.6zM100.1 265.5h2.6v2.2h-2.6zM98.5 262.2h2.6v2.2h-2.6zM96.1 263.6h2.6v2.2h-2.6zM102.3 267.6h2.6v2.2h-2.6zM118.2 275.2h2.6v2.2h-2.6zM99.9 264.3h2.6v2.2h-2.6zM113.5 264.5h2.6v2.2h-2.6zM96.4 262.3h2.6v2.2h-2.6zM107.4 272.7h2.6v2.2h-2.6zM101.1 268.7h2.6v2.2h-2.6zM104.8 264.1h2.6v2.2h-2.6zM102.8 266.5h2.6v2.2h-2.6zM107.6 278.3h2.6v2.2h-2.6zM97.8 273.1h2.6v2.2h-2.6zM104.4 269.2h2.6v2.2h-2.6zM105.5 271.7h2.6v2.2h-2.6zM98.4 264.1h2.6v2.2h-2.6zM113.7 274.6h2.6v2.2h-2.6zM106.3 270.8h2.6v2.2h-2.6zM110.9 272.8h2.6v2.2h-2.6zM96.8 262.1h2.6v2.2h-2.6zM95.9 261.9h2.6v2.2h-2.6zM97.4 268.4h2.6v2.2h-2.6zM94.0 266.1h2.6v2.2h-2.6zM99.5 266.0h2.6v2.2h-2.6zM112.7 282.8h2.6v2.2h-2.6zM101.2 270.0h2.6v2.2h-2.6zM131.6 262.4h2.6v2.2h-2.6zM109.0 278.6h2.6v2.2h-2.6zM113.9 263.3h2.6v2.2h-2.6zM126.7 275.5h2.6v2.2h-2.6zM109.3 291.1h2.6v2.2h-2.6zM132.8 271.1h2.6v2.2h-2.6zM97.4 264.6h2.6v2.2h-2.6zM106.8 292.6h2.6v2.2h-2.6zM95.3 264.2h2.6v2.2h-2.6zM110.0 290.4h2.6v2.2h-2.6zM105.3 268.8h2.6v2.2h-2.6zM109.1 269.3h2.6v2.2h-2.6zM100.9 263.3h2.6v2.2h-2.6zM107.0 272.5h2.6v2.2h-2.6zM111.7 270.5h2.6v2.2h-2.6zM101.5 268.4h2.6v2.2h-2.6zM108.8 262.9h2.6v2.2h-2.6zM101.7 268.9h2.6v2.2h-2.6zM117.5 276.6h2.6v2.2h-2.6zM99.9 280.1h2.6v2.2h-2.6zM131.3 269.8h2.6v2.2h-2.6zM100.1 266.7h2.6v2.2h-2.6zM109.9 270.5h2.6v2.2h-2.6zM107.5 267.7h2.6v2.2h-2.6zM106.5 264.6h2.6v2.2h-2.6zM99.6 266.6h2.6v2.2h-2.6zM101.2 263.2h2.6v2.2h-2.6zM113.4 274.0h2.6v2.2h-2.6zM107.0 269.8h2.6v2.2h-2.6zM113.9 265.3h2.6v2.2h-2.6zM96.4 264.6h2.6v2.2h-2.6zM93.7 262.8h2.6v2.2h-2.6zM97.3 265.8h2.6v2.2h-2.6zM128.0 264.0h2.6v2.2h-2.6zM111.3 270.2h2.6v2.2h-2.6zM113.5 282.7h2.6v2.2h-2.6zM127.5 269.2h2.6v2.2h-2.6zM108.9 281.1h2.6v2.2h-2.6zM103.0 264.9h2.6v2.2h-2.6zM103.7 274.6h2.6v2.2h-2.6zM99.2 264.3h2.6v2.2h-2.6zM110.1 273.4h2.6v2.2h-2.6zM115.9 264.2h2.6v2.2h-2.6zM99.6 267.3h2.6v2.2h-2.6zM95.3 263.4h2.6v2.2h-2.6zM98.8 267.2h2.6v2.2h-2.6zM118.1 286.7h2.6v2.2h-2.6zM117.0 282.5h2.6v2.2h-2.6zM112.9 271.0h2.6v2.2h-2.6zM98.0 262.4h2.6v2.2h-2.6zM116.1 274.9h2.6v2.2h-2.6zM95.2 267.1h2.6v2.2h-2.6zM115.7 265.8h2.6v2.2h-2.6zM96.7 264.6h2.6v2.2h-2.6zM94.1 263.6h2.6v2.2h-2.6zM117.9 264.7h2.6v2.2h-2.6zM97.5 262.0h2.6v2.2h-2.6zM94.9 268.2h2.6v2.2h-2.6zM105.9 266.9h2.6v2.2h-2.6zM110.7 270.9h2.6v2.2h-2.6zM107.2 276.3h2.6v2.2h-2.6zM140.5 266.2h2.6v2.2h-2.6zM110.4 278.0h2.6v2.2h-2.6zM117.9 264.7h2.6v2.2h-2.6zM102.6 270.9h2.6v2.2h-2.6zM96.7 269.9h2.6v2.2h-2.6zM113.0 292.7h2.6v2.2h-2.6zM95.9 277.4h2.6v2.2h-2.6zM112.5 261.7h2.6v2.2h-2.6zM103.5 263.0h2.6v2.2h-2.6zM101.2 271.2h2.6v2.2h-2.6zM104.2 291.2h2.6v2.2h-2.6zM104.8 265.9h2.6v2.2h-2.6zM132.6 268.8h2.6v2.2h-2.6zM118.9 272.9h2.6v2.2h-2.6zM96.3 268.4h2.6v2.2h-2.6zM135.9 267.0h2.6v2.2h-2.6zM109.4 262.4h2.6v2.2h-2.6zM106.2 281.6h2.6v2.2h-2.6zM102.4 271.4h2.6v2.2h-2.6zM102.1 266.0h2.6v2.2h-2.6zM114.3 271.2h2.6v2.2h-2.6zM104.1 262.2h2.6v2.2h-2.6zM96.0 264.7h2.6v2.2h-2.6zM99.6 264.0h2.6v2.2h-2.6zM97.4 282.8h2.6v2.2h-2.6zM98.8 263.6h2.6v2.2h-2.6zM99.5 271.3h2.6v2.2h-2.6zM104.6 283.4h2.6v2.2h-2.6zM96.0 266.9h2.6v2.2h-2.6zM106.5 273.2h2.6v2.2h-2.6zM109.4 286.3h2.6v2.2h-2.6zM98.9 268.0h2.6v2.2h-2.6zM106.6 267.1h2.6v2.2h-2.6zM123.3 267.3h2.6v2.2h-2.6zM96.9 281.8h2.6v2.2h-2.6zM106.5 281.3h2.6v2.2h-2.6zM135.7 267.9h2.6v2.2h-2.6zM103.2 262.9h2.6v2.2h-2.6zM103.6 264.2h2.6v2.2h-2.6zM111.0 276.0h2.6v2.2h-2.6zM97.7 269.9h2.6v2.2h-2.6zM93.6 261.8h2.6v2.2h-2.6zM112.6 268.7h2.6v2.2h-2.6zM97.8 264.4h2.6v2.2h-2.6zM101.8 277.8h2.6v2.2h-2.6zM109.1 261.3h2.6v2.2h-2.6zM97.0 266.2h2.6v2.2h-2.6zM115.0 264.7h2.6v2.2h-2.6zM117.7 262.7h2.6v2.2h-2.6zM112.5 264.7h2.6v2.2h-2.6zM103.4 278.9h2.6v2.2h-2.6zM116.1 278.4h2.6v2.2h-2.6zM99.2 267.2h2.6v2.2h-2.6zM116.8 277.1h2.6v2.2h-2.6zM100.7 264.3h2.6v2.2h-2.6zM102.8 273.8h2.6v2.2h-2.6zM95.6 272.5h2.6v2.2h-2.6zM100.0 262.7h2.6v2.2h-2.6zM111.4 287.5h2.6v2.2h-2.6zM97.8 267.6h2.6v2.2h-2.6zM101.1 267.1h2.6v2.2h-2.6zM94.7 262.0h2.6v2.2h-2.6zM107.0 264.3h2.6v2.2h-2.6zM108.7 274.3h2.6v2.2h-2.6zM103.6 284.7h2.6v2.2h-2.6zM103.7 266.0h2.6v2.2h-2.6zM101.3 284.1h2.6v2.2h-2.6zM95.3 264.0h2.6v2.2h-2.6zM95.6 264.7h2.6v2.2h-2.6zM94.4 262.2h2.6v2.2h-2.6zM97.6 263.9h2.6v2.2h-2.6zM111.1 268.5h2.6v2.2h-2.6zM101.7 270.9h2.6v2.2h-2.6zM108.2 269.9h2.6v2.2h-2.6zM100.7 275.8h2.6v2.2h-2.6zM98.4 262.5h2.6v2.2h-2.6zM94.5 264.2h2.6v2.2h-2.6zM114.3 286.2h2.6v2.2h-2.6zM102.3 271.0h2.6v2.2h-2.6zM108.5 268.5h2.6v2.2h-2.6zM107.5 266.4h2.6v2.2h-2.6zM94.9 263.2h2.6v2.2h-2.6zM103.6 262.2h2.6v2.2h-2.6zM97.7 267.3h2.6v2.2h-2.6zM101.8 261.8h2.6v2.2h-2.6zM132.4 266.9h2.6v2.2h-2.6zM111.2 272.8h2.6v2.2h-2.6zM97.4 272.9h2.6v2.2h-2.6zM100.5 274.2h2.6v2.2h-2.6zM103.8 275.1h2.6v2.2h-2.6zM110.7 269.7h2.6v2.2h-2.6zM101.7 270.0h2.6v2.2h-2.6zM97.4 267.1h2.6v2.2h-2.6zM104.3 267.5h2.6v2.2h-2.6zM111.4 266.3h2.6v2.2h-2.6zM107.6 263.3h2.6v2.2h-2.6zM109.0 275.4h2.6v2.2h-2.6zM103.0 266.2h2.6v2.2h-2.6zM118.8 266.4h2.6v2.2h-2.6zM93.6 261.8h2.6v2.2h-2.6zM95.8 262.2h2.6v2.2h-2.6zM93.6 261.7h2.6v2.2h-2.6zM94.1 261.9h2.6v2.2h-2.6zM93.7 263.4h2.6v2.2h-2.6zM108.4 264.4h2.6v2.2h-2.6zM106.8 262.2h2.6v2.2h-2.6zM114.5 275.2h2.6v2.2h-2.6zM94.5 262.6h2.6v2.2h-2.6zM99.6 265.7h2.6v2.2h-2.6zM102.0 271.6h2.6v2.2h-2.6zM110.7 263.5h2.6v2.2h-2.6zM105.6 275.7h2.6v2.2h-2.6zM138.5 267.2h2.6v2.2h-2.6zM114.1 264.2h2.6v2.2h-2.6zM104.4 269.8h2.6v2.2h-2.6zM125.2 272.9h2.6v2.2h-2.6zM96.8 274.6h2.6v2.2h-2.6zM95.9 262.1h2.6v2.2h-2.6zM120.1 275.8h2.6v2.2h-2.6zM95.0 263.3h2.6v2.2h-2.6zM120.2 275.1h2.6v2.2h-2.6zM99.9 265.8h2.6v2.2h-2.6zM105.8 280.8h2.6v2.2h-2.6zM118.7 265.8h2.6v2.2h-2.6zM101.2 264.2h2.6v2.2h-2.6zM103.0 268.6h2.6v2.2h-2.6zM117.8 266.0h2.6v2.2h-2.6zM97.2 270.6h2.6v2.2h-2.6zM109.0 269.8h2.6v2.2h-2.6zM108.6 263.6h2.6v2.2h-2.6zM116.3 277.6h2.6v2.2h-2.6zM107.8 268.9h2.6v2.2h-2.6zM99.3 262.6h2.6v2.2h-2.6zM106.4 268.8h2.6v2.2h-2.6zM122.1 273.6h2.6v2.2h-2.6zM97.9 266.1h2.6v2.2h-2.6zM108.0 280.1h2.6v2.2h-2.6zM100.8 282.8h2.6v2.2h-2.6zM103.6 264.3h2.6v2.2h-2.6zM111.5 267.0h2.6v2.2h-2.6zM96.6 264.2h2.6v2.2h-2.6zM102.0 265.6h2.6v2.2h-2.6zM97.6 265.1h2.6v2.2h-2.6zM124.3 266.1h2.6v2.2h-2.6zM103.1 267.4h2.6v2.2h-2.6zM113.1 281.3h2.6v2.2h-2.6zM107.9 263.6h2.6v2.2h-2.6zM98.8 262.8h2.6v2.2h-2.6zM98.8 271.8h2.6v2.2h-2.6zM95.7 267.0h2.6v2.2h-2.6zM96.6 271.8h2.6v2.2h-2.6zM97.8 263.3h2.6v2.2h-2.6zM102.8 279.1h2.6v2.2h-2.6zM97.9 263.6h2.6v2.2h-2.6zM103.6 266.8h2.6v2.2h-2.6zM104.9 273.0h2.6v2.2h-2.6zM101.0 263.6h2.6v2.2h-2.6zM134.6 269.3h2.6v2.2h-2.6zM106.9 263.9h2.6v2.2h-2.6zM117.0 288.4h2.6v2.2h-2.6zM109.6 262.6h2.6v2.2h-2.6zM104.1 266.1h2.6v2.2h-2.6zM97.9 264.9h2.6v2.2h-2.6zM95.5 271.1h2.6v2.2h-2.6zM100.2 267.0h2.6v2.2h-2.6zM99.3 265.6h2.6v2.2h-2.6zM100.2 266.2h2.6v2.2h-2.6zM103.1 268.8h2.6v2.2h-2.6zM104.2 265.1h2.6v2.2h-2.6zM96.6 265.5h2.6v2.2h-2.6zM125.8 262.3h2.6v2.2h-2.6zM105.0 271.1h2.6v2.2h-2.6zM109.1 269.7h2.6v2.2h-2.6zM97.9 265.5h2.6v2.2h-2.6zM96.3 269.8h2.6v2.2h-2.6zM146.4 260.1h2.6v2.2h-2.6zM115.5 276.6h2.6v2.2h-2.6zM100.1 270.7h2.6v2.2h-2.6zM103.4 287.3h2.6v2.2h-2.6zM108.0 266.6h2.6v2.2h-2.6zM109.0 274.4h2.6v2.2h-2.6zM117.2 262.0h2.6v2.2h-2.6zM94.4 268.5h2.6v2.2h-2.6zM118.6 271.7h2.6v2.2h-2.6zM100.4 262.3h2.6v2.2h-2.6zM124.1 264.7h2.6v2.2h-2.6zM109.2 276.2h2.6v2.2h-2.6zM99.3 270.0h2.6v2.2h-2.6zM117.9 272.2h2.6v2.2h-2.6zM108.9 269.1h2.6v2.2h-2.6zM98.6 266.5h2.6v2.2h-2.6zM113.6 261.9h2.6v2.2h-2.6zM102.5 261.4h2.6v2.2h-2.6zM115.0 275.9h2.6v2.2h-2.6zM112.2 264.9h2.6v2.2h-2.6zM103.5 271.9h2.6v2.2h-2.6zM93.7 264.3h2.6v2.2h-2.6zM125.8 276.3h2.6v2.2h-2.6zM110.8 263.3h2.6v2.2h-2.6zM109.3 274.6h2.6v2.2h-2.6zM108.4 262.1h2.6v2.2h-2.6zM102.8 268.6h2.6v2.2h-2.6zM96.0 263.8h2.6v2.2h-2.6zM107.2 267.3h2.6v2.2h-2.6zM110.3 290.4h2.6v2.2h-2.6zM97.1 264.5h2.6v2.2h-2.6zM98.7 272.3h2.6v2.2h-2.6zM123.3 265.3h2.6v2.2h-2.6zM100.0 267.0h2.6v2.2h-2.6zM113.7 267.3h2.6v2.2h-2.6zM99.4 266.1h2.6v2.2h-2.6zM96.0 266.1h2.6v2.2h-2.6zM100.0 267.8h2.6v2.2h-2.6zM96.0 262.1h2.6v2.2h-2.6zM97.5 262.4h2.6v2.2h-2.6zM122.4 262.9h2.6v2.2h-2.6zM94.8 268.8h2.6v2.2h-2.6zM133.9 261.2h2.6v2.2h-2.6zM103.4 276.7h2.6v2.2h-2.6zM119.5 275.0h2.6v2.2h-2.6zM116.2 268.6h2.6v2.2h-2.6zM95.5 271.9h2.6v2.2h-2.6zM117.0 276.3h2.6v2.2h-2.6zM98.4 264.4h2.6v2.2h-2.6zM122.4 267.4h2.6v2.2h-2.6zM96.3 262.6h2.6v2.2h-2.6zM104.9 290.6h2.6v2.2h-2.6zM125.6 268.7h2.6v2.2h-2.6zM101.9 268.7h2.6v2.2h-2.6zM106.6 277.2h2.6v2.2h-2.6zM109.5 264.2h2.6v2.2h-2.6zM114.9 261.5h2.6v2.2h-2.6zM120.6 280.0h2.6v2.2h-2.6zM99.3 265.3h2.6v2.2h-2.6zM109.2 266.9h2.6v2.2h-2.6zM100.4 266.1h2.6v2.2h-2.6zM105.4 264.1h2.6v2.2h-2.6zM116.4 267.9h2.6v2.2h-2.6zM107.9 271.6h2.6v2.2h-2.6zM114.0 267.4h2.6v2.2h-2.6zM109.4 269.7h2.6v2.2h-2.6zM103.2 272.5h2.6v2.2h-2.6zM117.4 284.9h2.6v2.2h-2.6zM101.2 282.0h2.6v2.2h-2.6zM105.3 274.9h2.6v2.2h-2.6zM114.2 265.7h2.6v2.2h-2.6zM100.2 264.4h2.6v2.2h-2.6zM103.1 298.0h2.6v2.2h-2.6zM99.3 276.2h2.6v2.2h-2.6zM100.6 264.5h2.6v2.2h-2.6zM107.2 267.7h2.6v2.2h-2.6zM95.1 263.0h2.6v2.2h-2.6zM115.1 265.1h2.6v2.2h-2.6zM105.9 278.8h2.6v2.2h-2.6zM111.9 285.4h2.6v2.2h-2.6zM94.5 265.6h2.6v2.2h-2.6zM97.4 263.7h2.6v2.2h-2.6zM98.8 264.5h2.6v2.2h-2.6zM96.8 284.3h2.6v2.2h-2.6zM96.0 262.2h2.6v2.2h-2.6zM119.2 276.0h2.6v2.2h-2.6zM119.0 271.9h2.6v2.2h-2.6zM109.4 271.3h2.6v2.2h-2.6zM102.1 261.8h2.6v2.2h-2.6zM97.3 265.2h2.6v2.2h-2.6zM115.0 263.9h2.6v2.2h-2.6zM109.4 269.7h2.6v2.2h-2.6zM110.8 272.8h2.6v2.2h-2.6zM97.6 275.7h2.6v2.2h-2.6zM104.8 274.0h2.6v2.2h-2.6zM136.8 269.1h2.6v2.2h-2.6zM103.8 272.3h2.6v2.2h-2.6zM113.5 264.0h2.6v2.2h-2.6zM104.2 269.5h2.6v2.2h-2.6zM93.9 263.7h2.6v2.2h-2.6zM103.4 261.5h2.6v2.2h-2.6zM112.5 272.4h2.6v2.2h-2.6zM96.5 263.0h2.6v2.2h-2.6zM98.4 284.6h2.6v2.2h-2.6zM98.7 275.8h2.6v2.2h-2.6zM104.8 267.0h2.6v2.2h-2.6zM99.2 264.8h2.6v2.2h-2.6zM96.4 263.5h2.6v2.2h-2.6zM102.5 265.3h2.6v2.2h-2.6zM95.4 283.9h2.6v2.2h-2.6zM103.0 267.0h2.6v2.2h-2.6zM108.3 295.0h2.6v2.2h-2.6zM95.4 262.2h2.6v2.2h-2.6zM102.3 268.9h2.6v2.2h-2.6zM100.7 270.2h2.6v2.2h-2.6zM105.1 266.2h2.6v2.2h-2.6zM112.4 263.9h2.6v2.2h-2.6zM101.6 296.3h2.6v2.2h-2.6zM103.9 271.0h2.6v2.2h-2.6zM109.2 271.9h2.6v2.2h-2.6zM110.2 270.7h2.6v2.2h-2.6zM97.4 265.1h2.6v2.2h-2.6zM110.6 267.5h2.6v2.2h-2.6zM106.5 293.8h2.6v2.2h-2.6zM124.8 270.0h2.6v2.2h-2.6zM101.1 269.7h2.6v2.2h-2.6zM102.1 267.5h2.6v2.2h-2.6zM111.6 273.5h2.6v2.2h-2.6zM109.6 274.8h2.6v2.2h-2.6zM101.1 269.3h2.6v2.2h-2.6zM100.0 267.6h2.6v2.2h-2.6zM108.1 293.9h2.6v2.2h-2.6zM96.2 272.0h2.6v2.2h-2.6zM118.0 267.7h2.6v2.2h-2.6zM106.8 263.9h2.6v2.2h-2.6zM97.6 266.1h2.6v2.2h-2.6zM100.0 286.7h2.6v2.2h-2.6zM94.9 279.6h2.6v2.2h-2.6zM110.0 286.8h2.6v2.2h-2.6zM108.1 277.2h2.6v2.2h-2.6zM126.7 271.6h2.6v2.2h-2.6zM101.3 276.7h2.6v2.2h-2.6zM101.4 281.4h2.6v2.2h-2.6zM98.8 267.9h2.6v2.2h-2.6zM112.1 276.2h2.6v2.2h-2.6zM99.6 266.5h2.6v2.2h-2.6zM105.0 274.6h2.6v2.2h-2.6zM99.6 266.0h2.6v2.2h-2.6zM105.8 267.0h2.6v2.2h-2.6zM98.4 273.2h2.6v2.2h-2.6zM113.3 265.4h2.6v2.2h-2.6zM98.4 264.5h2.6v2.2h-2.6zM103.6 263.7h2.6v2.2h-2.6zM117.2 263.6h2.6v2.2h-2.6zM96.8 266.1h2.6v2.2h-2.6zM119.9 282.3h2.6v2.2h-2.6zM110.7 274.4h2.6v2.2h-2.6zM124.2 272.9h2.6v2.2h-2.6zM104.1 261.1h2.6v2.2h-2.6zM98.3 263.1h2.6v2.2h-2.6zM121.0 268.1h2.6v2.2h-2.6zM105.3 262.2h2.6v2.2h-2.6zM105.5 269.3h2.6v2.2h-2.6zM112.8 270.3h2.6v2.2h-2.6zM119.0 265.0h2.6v2.2h-2.6zM95.9 268.6h2.6v2.2h-2.6zM108.0 271.7h2.6v2.2h-2.6zM106.8 277.4h2.6v2.2h-2.6zM96.9 268.8h2.6v2.2h-2.6zM120.1 264.8h2.6v2.2h-2.6zM98.5 262.2h2.6v2.2h-2.6zM98.9 266.3h2.6v2.2h-2.6zM102.5 289.0h2.6v2.2h-2.6zM94.0 262.1h2.6v2.2h-2.6zM95.9 270.9h2.6v2.2h-2.6zM97.1 266.6h2.6v2.2h-2.6zM94.5 264.1h2.6v2.2h-2.6zM102.1 271.8h2.6v2.2h-2.6zM118.3 262.9h2.6v2.2h-2.6zM111.0 283.1h2.6v2.2h-2.6zM110.3 268.6h2.6v2.2h-2.6zM100.3 281.7h2.6v2.2h-2.6zM102.0 301.3h2.6v2.2h-2.6zM109.9 268.2h2.6v2.2h-2.6zM123.7 279.0h2.6v2.2h-2.6zM101.1 279.4h2.6v2.2h-2.6zM98.6 262.6h2.6v2.2h-2.6zM116.0 282.0h2.6v2.2h-2.6zM108.0 294.7h2.6v2.2h-2.6zM94.5 265.1h2.6v2.2h-2.6zM125.2 263.7h2.6v2.2h-2.6zM120.5 265.5h2.6v2.2h-2.6zM122.2 261.5h2.6v2.2h-2.6zM104.6 281.6h2.6v2.2h-2.6zM96.2 261.9h2.6v2.2h-2.6zM114.7 270.5h2.6v2.2h-2.6zM102.0 267.5h2.6v2.2h-2.6zM107.9 269.2h2.6v2.2h-2.6zM119.9 263.3h2.6v2.2h-2.6zM127.6 270.5h2.6v2.2h-2.6zM97.9 275.4h2.6v2.2h-2.6zM97.2 271.6h2.6v2.2h-2.6zM101.9 270.0h2.6v2.2h-2.6zM99.2 270.2h2.6v2.2h-2.6zM101.4 267.2h2.6v2.2h-2.6zM106.9 274.8h2.6v2.2h-2.6zM102.4 268.6h2.6v2.2h-2.6zM100.5 264.5h2.6v2.2h-2.6zM119.7 266.4h2.6v2.2h-2.6zM113.0 265.8h2.6v2.2h-2.6zM94.2 262.2h2.6v2.2h-2.6zM96.1 278.8h2.6v2.2h-2.6zM95.5 262.4h2.6v2.2h-2.6zM99.8 272.9h2.6v2.2h-2.6zM102.5 292.6h2.6v2.2h-2.6zM97.9 264.2h2.6v2.2h-2.6zM95.6 262.5h2.6v2.2h-2.6zM103.6 268.5h2.6v2.2h-2.6zM103.0 267.5h2.6v2.2h-2.6zM102.8 267.2h2.6v2.2h-2.6zM121.4 279.3h2.6v2.2h-2.6zM97.2 263.9h2.6v2.2h-2.6zM99.2 271.7h2.6v2.2h-2.6zM127.1 265.0h2.6v2.2h-2.6zM104.4 266.9h2.6v2.2h-2.6zM93.4 261.8h2.6v2.2h-2.6zM102.4 268.0h2.6v2.2h-2.6zM106.4 271.7h2.6v2.2h-2.6zM96.6 268.0h2.6v2.2h-2.6zM104.5 263.3h2.6v2.2h-2.6zM97.4 267.9h2.6v2.2h-2.6zM94.9 272.6h2.6v2.2h-2.6zM108.7 267.1h2.6v2.2h-2.6zM103.9 271.9h2.6v2.2h-2.6zM95.5 266.5h2.6v2.2h-2.6zM104.4 264.5h2.6v2.2h-2.6zM107.7 276.1h2.6v2.2h-2.6zM94.5 267.4h2.6v2.2h-2.6zM108.5 281.4h2.6v2.2h-2.6zM110.4 289.0h2.6v2.2h-2.6zM107.0 266.8h2.6v2.2h-2.6zM95.6 263.4h2.6v2.2h-2.6zM116.7 279.8h2.6v2.2h-2.6zM124.1 271.3h2.6v2.2h-2.6zM101.1 269.3h2.6v2.2h-2.6zM106.3 265.5h2.6v2.2h-2.6zM98.1 268.2h2.6v2.2h-2.6zM100.7 267.8h2.6v2.2h-2.6zM112.4 284.4h2.6v2.2h-2.6zM97.6 263.4h2.6v2.2h-2.6zM109.3 263.5h2.6v2.2h-2.6zM111.0 293.8h2.6v2.2h-2.6zM114.9 266.6h2.6v2.2h-2.6zM100.0 270.4h2.6v2.2h-2.6zM126.7 279.2h2.6v2.2h-2.6zM97.4 262.8h2.6v2.2h-2.6zM112.0 266.0h2.6v2.2h-2.6zM111.6 261.7h2.6v2.2h-2.6zM110.1 262.2h2.6v2.2h-2.6zM107.8 267.4h2.6v2.2h-2.6zM98.3 265.9h2.6v2.2h-2.6zM114.7 281.3h2.6v2.2h-2.6zM95.5 263.3h2.6v2.2h-2.6zM110.0 277.5h2.6v2.2h-2.6zM99.3 262.4h2.6v2.2h-2.6zM105.3 269.0h2.6v2.2h-2.6zM103.0 267.9h2.6v2.2h-2.6zM113.6 275.1h2.6v2.2h-2.6zM140.6 265.2h2.6v2.2h-2.6zM98.1 273.8h2.6v2.2h-2.6zM95.9 273.1h2.6v2.2h-2.6zM106.6 294.9h2.6v2.2h-2.6zM111.1 273.8h2.6v2.2h-2.6zM111.4 276.1h2.6v2.2h-2.6zM110.6 267.9h2.6v2.2h-2.6zM94.7 269.4h2.6v2.2h-2.6zM95.3 263.3h2.6v2.2h-2.6zM111.1 265.5h2.6v2.2h-2.6zM107.1 264.6h2.6v2.2h-2.6zM97.2 268.9h2.6v2.2h-2.6zM121.5 263.7h2.6v2.2h-2.6zM100.5 262.0h2.6v2.2h-2.6zM95.3 263.3h2.6v2.2h-2.6zM112.8 276.3h2.6v2.2h-2.6zM114.5 272.5h2.6v2.2h-2.6zM105.1 275.8h2.6v2.2h-2.6zM96.4 263.0h2.6v2.2h-2.6zM112.7 264.1h2.6v2.2h-2.6zM94.8 262.3h2.6v2.2h-2.6zM101.5 266.1h2.6v2.2h-2.6zM102.3 264.4h2.6v2.2h-2.6zM98.3 265.5h2.6v2.2h-2.6zM126.6 269.1h2.6v2.2h-2.6zM95.4 265.1h2.6v2.2h-2.6zM100.6 267.1h2.6v2.2h-2.6zM101.6 265.2h2.6v2.2h-2.6zM100.3 268.1h2.6v2.2h-2.6zM100.7 266.4h2.6v2.2h-2.6zM95.9 265.6h2.6v2.2h-2.6zM100.2 271.8h2.6v2.2h-2.6zM120.1 272.0h2.6v2.2h-2.6zM102.1 292.6h2.6v2.2h-2.6zM108.3 274.8h2.6v2.2h-2.6zM100.3 264.7h2.6v2.2h-2.6zM96.0 264.5h2.6v2.2h-2.6zM113.8 263.4h2.6v2.2h-2.6zM96.5 265.4h2.6v2.2h-2.6zM115.6 273.3h2.6v2.2h-2.6zM114.7 276.0h2.6v2.2h-2.6zM107.9 281.6h2.6v2.2h-2.6zM121.8 270.4h2.6v2.2h-2.6zM110.4 265.8h2.6v2.2h-2.6zM102.7 266.8h2.6v2.2h-2.6zM109.2 263.2h2.6v2.2h-2.6zM100.8 261.9h2.6v2.2h-2.6zM95.9 262.3h2.6v2.2h-2.6zM94.5 262.6h2.6v2.2h-2.6zM113.5 276.7h2.6v2.2h-2.6zM102.8 270.2h2.6v2.2h-2.6zM128.0 278.9h2.6v2.2h-2.6zM114.9 280.5h2.6v2.2h-2.6zM131.2 273.8h2.6v2.2h-2.6zM103.1 268.5h2.6v2.2h-2.6zM110.0 276.0h2.6v2.2h-2.6zM96.8 267.6h2.6v2.2h-2.6zM99.4 277.7h2.6v2.2h-2.6zM97.5 266.7h2.6v2.2h-2.6zM129.8 265.2h2.6v2.2h-2.6zM106.0 276.3h2.6v2.2h-2.6zM111.5 267.2h2.6v2.2h-2.6zM114.5 269.9h2.6v2.2h-2.6zM125.8 276.1h2.6v2.2h-2.6zM107.0 277.1h2.6v2.2h-2.6zM110.7 293.4h2.6v2.2h-2.6zM109.8 267.5h2.6v2.2h-2.6zM98.7 272.5h2.6v2.2h-2.6zM100.9 263.9h2.6v2.2h-2.6zM109.9 270.4h2.6v2.2h-2.6zM100.8 264.6h2.6v2.2h-2.6zM115.1 276.2h2.6v2.2h-2.6zM99.3 279.6h2.6v2.2h-2.6zM120.5 266.9h2.6v2.2h-2.6zM112.3 286.1h2.6v2.2h-2.6zM95.1 268.0h2.6v2.2h-2.6zM110.9 268.7h2.6v2.2h-2.6zM100.9 273.5h2.6v2.2h-2.6zM114.1 262.0h2.6v2.2h-2.6zM123.8 278.5h2.6v2.2h-2.6zM105.2 270.1h2.6v2.2h-2.6zM98.1 263.6h2.6v2.2h-2.6zM98.7 263.2h2.6v2.2h-2.6zM96.1 274.3h2.6v2.2h-2.6zM100.1 276.7h2.6v2.2h-2.6zM109.3 281.4h2.6v2.2h-2.6zM96.1 263.9h2.6v2.2h-2.6z"/>
<line x1="35.5" y1="187.7" x2="35.5" y2="330.5" stroke="#231f20" stroke-width="1.1" />
<line x1="35" y1="330" x2="177.2" y2="330" stroke="#231f20" stroke-width="1.1" />
<line x1="32.3" y1="228" x2="35.5" y2="228" stroke="#231f20" stroke-width="1" />
<text transform="translate(30 230.8)" font-size="7.7" text-anchor="end" fill="#111"  stroke="#111" stroke-width="0.15">4</text>
<line x1="32.3" y1="262" x2="35.5" y2="262" stroke="#231f20" stroke-width="1" />
<text transform="translate(30 264.8)" font-size="7.7" text-anchor="end" fill="#111"  stroke="#111" stroke-width="0.15">0</text>
<line x1="32.3" y1="296" x2="35.5" y2="296" stroke="#231f20" stroke-width="1" />
<text transform="translate(30 298.8)" font-size="7.7" text-anchor="end" fill="#111"  stroke="#111" stroke-width="0.15">−4</text>
<line x1="32.3" y1="330" x2="35.5" y2="330" stroke="#231f20" stroke-width="1" />
<text transform="translate(30 332.8)" font-size="7.7" text-anchor="end" fill="#111"  stroke="#111" stroke-width="0.15">−8</text>
<line x1="35.4" y1="330" x2="35.4" y2="333.3" stroke="#231f20" stroke-width="1" />
<text transform="translate(35.4 342.3)" font-size="7.7" text-anchor="middle" fill="#111"  stroke="#111" stroke-width="0.15">−5.0</text>
<line x1="64.6" y1="330" x2="64.6" y2="333.3" stroke="#231f20" stroke-width="1" />
<text transform="translate(64.6 342.3)" font-size="7.7" text-anchor="middle" fill="#111"  stroke="#111" stroke-width="0.15">−2.5</text>
<line x1="93.8" y1="330" x2="93.8" y2="333.3" stroke="#231f20" stroke-width="1" />
<text transform="translate(93.8 342.3)" font-size="7.7" text-anchor="middle" fill="#111"  stroke="#111" stroke-width="0.15">0.0</text>
<line x1="123" y1="330" x2="123" y2="333.3" stroke="#231f20" stroke-width="1" />
<text transform="translate(123 342.3)" font-size="7.7" text-anchor="middle" fill="#111"  stroke="#111" stroke-width="0.15">2.5</text>
<line x1="152.2" y1="330" x2="152.2" y2="333.3" stroke="#231f20" stroke-width="1" />
<text transform="translate(152.2 342.3)" font-size="7.7" text-anchor="middle" fill="#111"  stroke="#111" stroke-width="0.15">5.0</text>
<text transform="translate(106.3 354.5) scale(0.71 1)" font-size="8.9" text-anchor="middle" fill="#111"  stroke="#111" stroke-width="0.15">log2 FC ETO2 KO</text>
<text transform="translate(14.2 259) rotate(-90) scale(0.83 1)" font-size="8.9" text-anchor="middle" fill="#111"  stroke="#111" stroke-width="0.15">log2 FC Hemgn KO</text>
<line x1="99" y1="262.5" x2="95" y2="247" stroke="#1a1a1a" stroke-width="0.6" />
<line x1="99" y1="262.5" x2="80" y2="256" stroke="#1a1a1a" stroke-width="0.6" />
<line x1="99" y1="262.5" x2="97" y2="256" stroke="#1a1a1a" stroke-width="0.6" />
<line x1="99" y1="262.5" x2="112" y2="251" stroke="#1a1a1a" stroke-width="0.6" />
<line x1="99" y1="262.5" x2="110" y2="258" stroke="#1a1a1a" stroke-width="0.6" />
<line x1="99" y1="262.5" x2="90" y2="263" stroke="#1a1a1a" stroke-width="0.6" />
<line x1="99" y1="262.5" x2="115" y2="268" stroke="#1a1a1a" stroke-width="0.6" />
<line x1="99" y1="262.5" x2="95" y2="271" stroke="#1a1a1a" stroke-width="0.6" />
<line x1="99" y1="262.5" x2="112" y2="274" stroke="#1a1a1a" stroke-width="0.6" />
<line x1="99" y1="262.5" x2="85" y2="279" stroke="#1a1a1a" stroke-width="0.6" />
<line x1="99" y1="262.5" x2="80" y2="287" stroke="#1a1a1a" stroke-width="0.6" />
<line x1="99" y1="262.5" x2="104" y2="289" stroke="#1a1a1a" stroke-width="0.6" />
<line x1="99" y1="262.5" x2="108" y2="282" stroke="#1a1a1a" stroke-width="0.6" />
<line x1="99" y1="262.5" x2="133" y2="262" stroke="#1a1a1a" stroke-width="0.6" />
<line x1="99" y1="262.5" x2="126" y2="273" stroke="#1a1a1a" stroke-width="0.6" />
<text transform="translate(85.6 249.5) scale(0.97 1)" font-size="7.0" text-anchor="start" fill="#000" stroke="#000" stroke-width="0.3">FECH</text>
<text transform="translate(68.9 258.1) scale(0.97 1)" font-size="7.0" text-anchor="start" fill="#000" stroke="#000" stroke-width="0.3">UROD</text>
<text transform="translate(90.5 258.1) scale(0.97 1)" font-size="7.0" text-anchor="start" fill="#000" stroke="#000" stroke-width="0.3">TAL1</text>
<text transform="translate(110.7 253.2) scale(0.97 1)" font-size="7.0" text-anchor="start" fill="#000" stroke="#000" stroke-width="0.3">PPOX</text>
<text transform="translate(132.3 257) scale(0.97 1)" font-size="7.0" text-anchor="start" fill="#000" stroke="#000" stroke-width="0.3">SLC25A37</text>
<text transform="translate(109 260.4) scale(0.97 1)" font-size="7.0" text-anchor="start" fill="#000" stroke="#000" stroke-width="0.3">CPOX</text>
<text transform="translate(76 265.3) scale(0.97 1)" font-size="7.0" text-anchor="start" fill="#000" stroke="#000" stroke-width="0.3">ADD2</text>
<text transform="translate(133.7 266.2) scale(0.97 1)" font-size="7.0" text-anchor="start" fill="#000" stroke="#000" stroke-width="0.3">UROS</text>
<text transform="translate(110.7 270.5) scale(0.97 1)" font-size="7.0" text-anchor="start" fill="#000" stroke="#000" stroke-width="0.3">SPTB</text>
<text transform="translate(57.4 273.4) scale(0.97 1)" font-size="7.0" text-anchor="start" fill="#000" stroke="#000" stroke-width="0.3">ABCB6</text>
<text transform="translate(83.9 273.4) scale(0.97 1)" font-size="7.0" text-anchor="start" fill="#000" stroke="#000" stroke-width="0.3">KLF1</text>
<text transform="translate(111.6 276.8) scale(0.97 1)" font-size="7.0" text-anchor="start" fill="#000" stroke="#000" stroke-width="0.3">KEL</text>
<text transform="translate(128 276.8) scale(0.97 1)" font-size="7.0" text-anchor="start" fill="#000" stroke="#000" stroke-width="0.3">EPB42</text>
<text transform="translate(67.5 281.4) scale(0.97 1)" font-size="7.0" text-anchor="start" fill="#000" stroke="#000" stroke-width="0.3">EPOR</text>
<text transform="translate(84.8 281.4) scale(0.97 1)" font-size="7.0" text-anchor="start" fill="#000" stroke="#000" stroke-width="0.3">SPTA1</text>
<text transform="translate(112 284.3) scale(0.97 1)" font-size="7.0" text-anchor="start" fill="#000" stroke="#000" stroke-width="0.3">HMBS</text>
<text transform="translate(72.7 289.2) scale(0.97 1)" font-size="7.0" text-anchor="start" fill="#000" stroke="#000" stroke-width="0.3">SLC4A1</text>
<text transform="translate(103.5 291.6) scale(0.97 1)" font-size="7.0" text-anchor="start" fill="#000" stroke="#000" stroke-width="0.3">AHSP</text>
<text transform="translate(276.2 18.4) scale(1.08 1)" font-size="11" text-anchor="start" fill="#000" font-weight="bold" stroke="#000" stroke-width="0.3">C</text>
<line x1="288.5" y1="31.9" x2="471" y2="31.9" stroke="#333" stroke-width="1.2" />
<line x1="302.5" y1="26.5" x2="302.5" y2="36.6" stroke="#f8b729" stroke-width="1" />
<line x1="310" y1="26.5" x2="310" y2="36.6" stroke="#f8b729" stroke-width="1" />
<line x1="320" y1="26.5" x2="320" y2="36.6" stroke="#f8b729" stroke-width="1" />
<line x1="332.1" y1="26.5" x2="332.1" y2="36.6" stroke="#f8b729" stroke-width="1" />
<text transform="translate(305.4 38.3) rotate(-90)" font-size="8.0" text-anchor="end" fill="#111"  stroke="#111" stroke-width="0.15">HS4</text>
<text transform="translate(312.9 38.3) rotate(-90)" font-size="8.0" text-anchor="end" fill="#111"  stroke="#111" stroke-width="0.15">HS3</text>
<text transform="translate(322.9 38.3) rotate(-90)" font-size="8.0" text-anchor="end" fill="#111"  stroke="#111" stroke-width="0.15">HS2</text>
<text transform="translate(335 38.3) rotate(-90)" font-size="8.0" text-anchor="end" fill="#111"  stroke="#111" stroke-width="0.15">HS1</text>
<rect x="346.3" y="26.6" width="4.2" height="10" fill="#1a4f8a" />
<text transform="translate(348.5 23.2) scale(0.9 1)" font-size="8" text-anchor="middle" fill="#222" font-family="Liberation Serif" stroke="#222" stroke-width="0.15">ε</text>
<rect x="383" y="27" width="3.4" height="9.6" fill="#3cb44a" />
<rect x="395.4" y="27" width="3.4" height="9.6" fill="#3cb44a" />
<rect x="403" y="27" width="3.1" height="9.6" fill="#6c2c8f" />
<rect x="432.5" y="27" width="3" height="9.6" fill="#d2203d" />
<rect x="451.7" y="27" width="3" height="9.6" fill="#d2203d" />
<text transform="translate(379.4 22.8)" font-size="8.2" text-anchor="start" fill="#111"  stroke="#111" stroke-width="0.15">G</text>
<text transform="translate(385.4 22.8)" font-size="8.6" text-anchor="start" fill="#111" font-family="Liberation Serif" stroke="#111" stroke-width="0.15">γ</text>
<text transform="translate(392.3 22.8)" font-size="8.2" text-anchor="start" fill="#111"  stroke="#111" stroke-width="0.15">A</text>
<text transform="translate(397.8 22.8)" font-size="8.6" text-anchor="start" fill="#111" font-family="Liberation Serif" stroke="#111" stroke-width="0.15">γ</text>
<text transform="translate(402.2 22.8)" font-size="8.2" text-anchor="start" fill="#111"  stroke="#111" stroke-width="0.15">BGL3</text>
<text transform="translate(434 22.8)" font-size="8.6" text-anchor="middle" fill="#111" font-family="Liberation Serif" stroke="#111" stroke-width="0.15">δ</text>
<text transform="translate(453.2 22.8)" font-size="8.6" text-anchor="middle" fill="#111" font-family="Liberation Serif" stroke="#111" stroke-width="0.15">β</text>
<line x1="403.8" y1="38" x2="386.5" y2="50.4" stroke="#333" stroke-width="0.9" />
<line x1="404.5" y1="38" x2="424.8" y2="50.4" stroke="#333" stroke-width="0.9" />
<line x1="385.4" y1="52.7" x2="424.8" y2="52.7" stroke="#333" stroke-width="0.9" />
<rect x="393" y="50.8" width="23.2" height="3.8" fill="#6c2c8f" />
<line x1="393.5" y1="55" x2="393.5" y2="62.9" stroke="#333" stroke-width="0.9" />
<text transform="translate(378.5 71.8)" font-size="8.2" text-anchor="start" fill="#111"  stroke="#111" stroke-width="0.15">5′BGLT3</text>
<line x1="326.7" y1="78.7" x2="326.7" y2="171.2" stroke="#000" stroke-width="1.1" />
<line x1="326.2" y1="170.7" x2="464.6" y2="170.7" stroke="#111" stroke-width="1.4" />
<line x1="323.7" y1="170.7" x2="326.7" y2="170.7" stroke="#231f20" stroke-width="1" />
<text transform="translate(321.7 173.47)" font-size="7.7" text-anchor="end" fill="#111"  stroke="#111" stroke-width="0.15">0</text>
<line x1="323.7" y1="156.12" x2="326.7" y2="156.12" stroke="#231f20" stroke-width="1" />
<text transform="translate(321.7 158.89)" font-size="7.7" text-anchor="end" fill="#111"  stroke="#111" stroke-width="0.15">0.01</text>
<line x1="323.7" y1="141.54" x2="326.7" y2="141.54" stroke="#231f20" stroke-width="1" />
<text transform="translate(321.7 144.31)" font-size="7.7" text-anchor="end" fill="#111"  stroke="#111" stroke-width="0.15">0.02</text>
<line x1="323.7" y1="126.96" x2="326.7" y2="126.96" stroke="#231f20" stroke-width="1" />
<text transform="translate(321.7 129.73)" font-size="7.7" text-anchor="end" fill="#111"  stroke="#111" stroke-width="0.15">0.03</text>
<line x1="323.7" y1="112.38" x2="326.7" y2="112.38" stroke="#231f20" stroke-width="1" />
<text transform="translate(321.7 115.15)" font-size="7.7" text-anchor="end" fill="#111"  stroke="#111" stroke-width="0.15">0.04</text>
<line x1="323.7" y1="97.8" x2="326.7" y2="97.8" stroke="#231f20" stroke-width="1" />
<text transform="translate(321.7 100.57)" font-size="7.7" text-anchor="end" fill="#111"  stroke="#111" stroke-width="0.15">0.05</text>
<line x1="323.7" y1="83.22" x2="326.7" y2="83.22" stroke="#231f20" stroke-width="1" />
<text transform="translate(321.7 85.99)" font-size="7.7" text-anchor="end" fill="#111"  stroke="#111" stroke-width="0.15">0.06</text>
<line x1="335.6" y1="170.7" x2="335.6" y2="173.2" stroke="#231f20" stroke-width="0.8" />
<rect x="328.85" y="168.95" width="2.9" height="1.75" fill="#f7941d" />
<rect x="332.55" y="168.22" width="2.9" height="2.48" fill="#124f8c" />
<rect x="336.35" y="167.05" width="2.9" height="3.65" fill="#c7c8ca" />
<rect x="340.05" y="168.51" width="2.9" height="2.19" fill="#fdb515" />
<line x1="330.3" y1="168.51" x2="330.3" y2="169.39" stroke="#3a3a3a" stroke-width="0.7" />
<line x1="329.2" y1="168.51" x2="331.4" y2="168.51" stroke="#3a3a3a" stroke-width="0.7" />
<line x1="334" y1="166.47" x2="334" y2="169.97" stroke="#3a3a3a" stroke-width="0.7" />
<line x1="332.9" y1="166.47" x2="335.1" y2="166.47" stroke="#3a3a3a" stroke-width="0.7" />
<line x1="337.8" y1="165.31" x2="337.8" y2="168.8" stroke="#3a3a3a" stroke-width="0.7" />
<line x1="336.7" y1="165.31" x2="338.9" y2="165.31" stroke="#3a3a3a" stroke-width="0.7" />
<line x1="341.5" y1="167.64" x2="341.5" y2="169.39" stroke="#3a3a3a" stroke-width="0.7" />
<line x1="340.4" y1="167.64" x2="342.6" y2="167.64" stroke="#3a3a3a" stroke-width="0.7" />
<line x1="355.65" y1="170.7" x2="355.65" y2="173.2" stroke="#231f20" stroke-width="0.8" />
<rect x="348.9" y="165.45" width="2.9" height="5.25" fill="#f7941d" />
<rect x="352.6" y="162.83" width="2.9" height="7.87" fill="#124f8c" />
<rect x="356.4" y="149.85" width="2.9" height="20.85" fill="#c7c8ca" />
<rect x="360.1" y="161.08" width="2.9" height="9.62" fill="#fdb515" />
<line x1="350.35" y1="163.7" x2="350.35" y2="167.2" stroke="#3a3a3a" stroke-width="0.7" />
<line x1="349.25" y1="163.7" x2="351.45" y2="163.7" stroke="#3a3a3a" stroke-width="0.7" />
<line x1="354.05" y1="159.91" x2="354.05" y2="165.74" stroke="#3a3a3a" stroke-width="0.7" />
<line x1="352.95" y1="159.91" x2="355.15" y2="159.91" stroke="#3a3a3a" stroke-width="0.7" />
<line x1="357.85" y1="148.39" x2="357.85" y2="151.31" stroke="#3a3a3a" stroke-width="0.7" />
<line x1="356.75" y1="148.39" x2="358.95" y2="148.39" stroke="#3a3a3a" stroke-width="0.7" />
<line x1="361.55" y1="158.89" x2="361.55" y2="163.26" stroke="#3a3a3a" stroke-width="0.7" />
<line x1="360.45" y1="158.89" x2="362.65" y2="158.89" stroke="#3a3a3a" stroke-width="0.7" />
<circle cx="362.15" cy="154.59" r="1.05" fill="#222"/>
<line x1="375.7" y1="170.7" x2="375.7" y2="173.2" stroke="#231f20" stroke-width="0.8" />
<rect x="368.95" y="162.24" width="2.9" height="8.46" fill="#f7941d" />
<rect x="372.65" y="164.14" width="2.9" height="6.56" fill="#124f8c" />
<rect x="376.45" y="145.18" width="2.9" height="25.52" fill="#c7c8ca" />
<rect x="380.15" y="159.04" width="2.9" height="11.66" fill="#fdb515" />
<line x1="370.4" y1="161.08" x2="370.4" y2="163.41" stroke="#3a3a3a" stroke-width="0.7" />
<line x1="369.3" y1="161.08" x2="371.5" y2="161.08" stroke="#3a3a3a" stroke-width="0.7" />
<line x1="374.1" y1="162.68" x2="374.1" y2="165.6" stroke="#3a3a3a" stroke-width="0.7" />
<line x1="373" y1="162.68" x2="375.2" y2="162.68" stroke="#3a3a3a" stroke-width="0.7" />
<line x1="377.9" y1="143.44" x2="377.9" y2="146.93" stroke="#3a3a3a" stroke-width="0.7" />
<line x1="376.8" y1="143.44" x2="379" y2="143.44" stroke="#3a3a3a" stroke-width="0.7" />
<line x1="381.6" y1="158.6" x2="381.6" y2="159.47" stroke="#3a3a3a" stroke-width="0.7" />
<line x1="380.5" y1="158.6" x2="382.7" y2="158.6" stroke="#3a3a3a" stroke-width="0.7" />
<circle cx="380.65" cy="154.3" r="1.05" fill="#222"/>
<circle cx="383.75" cy="154.3" r="1.05" fill="#222"/>
<line x1="395.75" y1="170.7" x2="395.75" y2="173.2" stroke="#231f20" stroke-width="0.8" />
<rect x="389" y="164.87" width="2.9" height="5.83" fill="#f7941d" />
<rect x="392.7" y="167.49" width="2.9" height="3.21" fill="#124f8c" />
<rect x="396.5" y="146.64" width="2.9" height="24.06" fill="#c7c8ca" />
<rect x="400.2" y="160.79" width="2.9" height="9.91" fill="#fdb515" />
<line x1="390.45" y1="163.41" x2="390.45" y2="166.33" stroke="#3a3a3a" stroke-width="0.7" />
<line x1="389.35" y1="163.41" x2="391.55" y2="163.41" stroke="#3a3a3a" stroke-width="0.7" />
<line x1="394.15" y1="166.62" x2="394.15" y2="168.37" stroke="#3a3a3a" stroke-width="0.7" />
<line x1="393.05" y1="166.62" x2="395.25" y2="166.62" stroke="#3a3a3a" stroke-width="0.7" />
<line x1="397.95" y1="144.02" x2="397.95" y2="149.27" stroke="#3a3a3a" stroke-width="0.7" />
<line x1="396.85" y1="144.02" x2="399.05" y2="144.02" stroke="#3a3a3a" stroke-width="0.7" />
<line x1="401.65" y1="159.62" x2="401.65" y2="161.95" stroke="#3a3a3a" stroke-width="0.7" />
<line x1="400.55" y1="159.62" x2="402.75" y2="159.62" stroke="#3a3a3a" stroke-width="0.7" />
<circle cx="400.7" cy="155.32" r="1.05" fill="#222"/>
<circle cx="403.8" cy="155.32" r="1.05" fill="#222"/>
<line x1="415.8" y1="170.7" x2="415.8" y2="173.2" stroke="#231f20" stroke-width="0.8" />
<rect x="409.05" y="165.89" width="2.9" height="4.81" fill="#f7941d" />
<rect x="412.75" y="166.33" width="2.9" height="4.37" fill="#124f8c" />
<rect x="416.55" y="145.91" width="2.9" height="24.79" fill="#c7c8ca" />
<rect x="420.25" y="161.95" width="2.9" height="8.75" fill="#fdb515" />
<line x1="410.5" y1="164.14" x2="410.5" y2="167.64" stroke="#3a3a3a" stroke-width="0.7" />
<line x1="409.4" y1="164.14" x2="411.6" y2="164.14" stroke="#3a3a3a" stroke-width="0.7" />
<line x1="414.2" y1="164.58" x2="414.2" y2="168.08" stroke="#3a3a3a" stroke-width="0.7" />
<line x1="413.1" y1="164.58" x2="415.3" y2="164.58" stroke="#3a3a3a" stroke-width="0.7" />
<line x1="418" y1="143.73" x2="418" y2="148.1" stroke="#3a3a3a" stroke-width="0.7" />
<line x1="416.9" y1="143.73" x2="419.1" y2="143.73" stroke="#3a3a3a" stroke-width="0.7" />
<line x1="421.7" y1="160.79" x2="421.7" y2="163.12" stroke="#3a3a3a" stroke-width="0.7" />
<line x1="420.6" y1="160.79" x2="422.8" y2="160.79" stroke="#3a3a3a" stroke-width="0.7" />
<circle cx="420.75" cy="156.49" r="1.05" fill="#222"/>
<circle cx="423.85" cy="156.49" r="1.05" fill="#222"/>
<line x1="435.85" y1="170.7" x2="435.85" y2="173.2" stroke="#231f20" stroke-width="0.8" />
<rect x="429.1" y="169.83" width="2.9" height="0.87" fill="#f7941d" />
<rect x="432.8" y="169.83" width="2.9" height="0.87" fill="#124f8c" />
<rect x="436.6" y="163.41" width="2.9" height="7.29" fill="#c7c8ca" />
<rect x="440.3" y="167.05" width="2.9" height="3.65" fill="#fdb515" />
<line x1="430.55" y1="169.39" x2="430.55" y2="170.26" stroke="#3a3a3a" stroke-width="0.7" />
<line x1="429.45" y1="169.39" x2="431.65" y2="169.39" stroke="#3a3a3a" stroke-width="0.7" />
<line x1="434.25" y1="168.95" x2="434.25" y2="170.7" stroke="#3a3a3a" stroke-width="0.7" />
<line x1="433.15" y1="168.95" x2="435.35" y2="168.95" stroke="#3a3a3a" stroke-width="0.7" />
<line x1="438.05" y1="161.95" x2="438.05" y2="164.87" stroke="#3a3a3a" stroke-width="0.7" />
<line x1="436.95" y1="161.95" x2="439.15" y2="161.95" stroke="#3a3a3a" stroke-width="0.7" />
<line x1="441.75" y1="166.62" x2="441.75" y2="167.49" stroke="#3a3a3a" stroke-width="0.7" />
<line x1="440.65" y1="166.62" x2="442.85" y2="166.62" stroke="#3a3a3a" stroke-width="0.7" />
<circle cx="440.8" cy="162.32" r="1.05" fill="#222"/>
<circle cx="443.9" cy="162.32" r="1.05" fill="#222"/>
<line x1="455.9" y1="170.7" x2="455.9" y2="173.2" stroke="#231f20" stroke-width="0.8" />
<rect x="449.15" y="161.95" width="2.9" height="8.75" fill="#f7941d" />
<rect x="452.85" y="164.14" width="2.9" height="6.56" fill="#124f8c" />
<rect x="456.65" y="109.46" width="2.9" height="61.24" fill="#c7c8ca" />
<rect x="460.35" y="157.29" width="2.9" height="13.41" fill="#fdb515" />
<line x1="450.6" y1="159.76" x2="450.6" y2="164.14" stroke="#3a3a3a" stroke-width="0.7" />
<line x1="449.5" y1="159.76" x2="451.7" y2="159.76" stroke="#3a3a3a" stroke-width="0.7" />
<line x1="454.3" y1="162.39" x2="454.3" y2="165.89" stroke="#3a3a3a" stroke-width="0.7" />
<line x1="453.2" y1="162.39" x2="455.4" y2="162.39" stroke="#3a3a3a" stroke-width="0.7" />
<line x1="458.1" y1="93.43" x2="458.1" y2="125.5" stroke="#3a3a3a" stroke-width="0.7" />
<line x1="457" y1="93.43" x2="459.2" y2="93.43" stroke="#3a3a3a" stroke-width="0.7" />
<line x1="461.8" y1="155.54" x2="461.8" y2="159.04" stroke="#3a3a3a" stroke-width="0.7" />
<line x1="460.7" y1="155.54" x2="462.9" y2="155.54" stroke="#3a3a3a" stroke-width="0.7" />
<circle cx="462.4" cy="151.24" r="1.05" fill="#222"/>
<text transform="translate(340.8 177.2) rotate(-45)" font-size="8.3" text-anchor="end" fill="#111" stroke="#111" stroke-width="0.05">Necdin</text>
<text transform="translate(360.85 177.2) rotate(-45)" font-size="8.3" text-anchor="end" fill="#111" stroke="#111" stroke-width="0.05">HS1</text>
<text transform="translate(380.9 177.2) rotate(-45)" font-size="8.3" text-anchor="end" fill="#111" stroke="#111" stroke-width="0.05">HS2</text>
<text transform="translate(400.95 177.2) rotate(-45)" font-size="8.3" text-anchor="end" fill="#111" stroke="#111" stroke-width="0.05">HS3</text>
<text transform="translate(421 177.2) rotate(-45)" font-size="8.3" text-anchor="end" fill="#111" stroke="#111" stroke-width="0.05">HS4</text>
<text transform="translate(441.05 177.2) rotate(-45)" font-size="8.3" text-anchor="end" fill="#111" stroke="#111" stroke-width="0.05">γ pro</text>
<text transform="translate(461.1 177.2) rotate(-45)" font-size="8.3" text-anchor="end" fill="#111" stroke="#111" stroke-width="0.05">5′BGL3</text>
<rect x="337" y="83.2" width="4.2" height="4.2" fill="#f7941d" />
<text transform="translate(344.7 88.07) scale(0.9 1)" font-size="7.7" text-anchor="start" fill="#111"  stroke="#111" stroke-width="0.15">IgG-WT</text>
<rect x="337" y="92.65" width="4.2" height="4.2" fill="#124f8c" />
<text transform="translate(344.7 97.52) scale(0.9 1)" font-size="7.7" text-anchor="start" fill="#111"  stroke="#111" stroke-width="0.15">IgG-KO</text>
<rect x="337" y="102.1" width="4.2" height="4.2" fill="#c7c8ca" />
<text transform="translate(344.7 106.97) scale(0.9 1)" font-size="7.7" text-anchor="start" fill="#111"  stroke="#111" stroke-width="0.15">WT</text>
<rect x="337" y="111.55" width="4.2" height="4.2" fill="#fdb515" />
<text transform="translate(344.7 116.42) scale(0.9 1)" font-size="7.7" text-anchor="start" fill="#111"  stroke="#111" stroke-width="0.15">KO</text>
<text transform="translate(296.4 125) rotate(-90) scale(0.9 1)" font-size="8.4" text-anchor="middle" fill="#111"  stroke="#111" stroke-width="0.15">Hemogen enrichment</text>
<text transform="translate(184.2 219.4) scale(1.1 1)" font-size="11" text-anchor="start" fill="#000" font-weight="bold" stroke="#000" stroke-width="0.3">D</text>
<line x1="213.5" y1="227.2" x2="213.5" y2="315.5" stroke="#000" stroke-width="1.1" />
<line x1="213" y1="315" x2="344" y2="315" stroke="#111" stroke-width="1.4" />
<line x1="210.5" y1="315" x2="213.5" y2="315" stroke="#231f20" stroke-width="1" />
<text transform="translate(207.9 317.77)" font-size="7.7" text-anchor="end" fill="#111"  stroke="#111" stroke-width="0.15">0.0</text>
<line x1="210.5" y1="298.05" x2="213.5" y2="298.05" stroke="#231f20" stroke-width="1" />
<text transform="translate(207.9 300.82)" font-size="7.7" text-anchor="end" fill="#111"  stroke="#111" stroke-width="0.15">0.1</text>
<line x1="210.5" y1="281.1" x2="213.5" y2="281.1" stroke="#231f20" stroke-width="1" />
<text transform="translate(207.9 283.87)" font-size="7.7" text-anchor="end" fill="#111"  stroke="#111" stroke-width="0.15">0.2</text>
<line x1="210.5" y1="264.15" x2="213.5" y2="264.15" stroke="#231f20" stroke-width="1" />
<text transform="translate(207.9 266.92)" font-size="7.7" text-anchor="end" fill="#111"  stroke="#111" stroke-width="0.15">0.3</text>
<line x1="210.5" y1="247.2" x2="213.5" y2="247.2" stroke="#231f20" stroke-width="1" />
<text transform="translate(207.9 249.97)" font-size="7.7" text-anchor="end" fill="#111"  stroke="#111" stroke-width="0.15">0.4</text>
<line x1="210.5" y1="230.25" x2="213.5" y2="230.25" stroke="#231f20" stroke-width="1" />
<text transform="translate(207.9 233.02)" font-size="7.7" text-anchor="end" fill="#111"  stroke="#111" stroke-width="0.15">0.5</text>
<line x1="224.5" y1="315" x2="224.5" y2="317.5" stroke="#231f20" stroke-width="0.8" />
<rect x="217.05" y="314.66" width="3.1" height="0.34" fill="#124f8c" />
<rect x="220.95" y="314.15" width="3.1" height="0.85" fill="#f7941d" />
<rect x="224.85" y="314.66" width="3.1" height="0.34" fill="#c7c8ca" />
<rect x="228.75" y="314.66" width="3.1" height="0.34" fill="#fdb515" />
<line x1="222.5" y1="313.81" x2="222.5" y2="314.49" stroke="#3a3a3a" stroke-width="0.7" />
<line x1="221.4" y1="313.81" x2="223.6" y2="313.81" stroke="#3a3a3a" stroke-width="0.7" />
<line x1="246.6" y1="315" x2="246.6" y2="317.5" stroke="#231f20" stroke-width="0.8" />
<rect x="239.15" y="314.66" width="3.1" height="0.34" fill="#124f8c" />
<rect x="243.05" y="314.66" width="3.1" height="0.34" fill="#f7941d" />
<rect x="246.95" y="309.58" width="3.1" height="5.42" fill="#c7c8ca" />
<rect x="250.85" y="305" width="3.1" height="10" fill="#fdb515" />
<line x1="248.5" y1="307.54" x2="248.5" y2="311.61" stroke="#3a3a3a" stroke-width="0.7" />
<line x1="247.4" y1="307.54" x2="249.6" y2="307.54" stroke="#3a3a3a" stroke-width="0.7" />
<line x1="252.4" y1="301.61" x2="252.4" y2="308.39" stroke="#3a3a3a" stroke-width="0.7" />
<line x1="251.3" y1="301.61" x2="253.5" y2="301.61" stroke="#3a3a3a" stroke-width="0.7" />
<line x1="268.7" y1="315" x2="268.7" y2="317.5" stroke="#231f20" stroke-width="0.8" />
<rect x="261.25" y="314.15" width="3.1" height="0.85" fill="#124f8c" />
<rect x="265.15" y="314.49" width="3.1" height="0.51" fill="#f7941d" />
<rect x="269.05" y="279.74" width="3.1" height="35.26" fill="#c7c8ca" />
<rect x="272.95" y="251.27" width="3.1" height="63.73" fill="#fdb515" />
<line x1="270.6" y1="269.24" x2="270.6" y2="290.25" stroke="#3a3a3a" stroke-width="0.7" />
<line x1="269.5" y1="269.24" x2="271.7" y2="269.24" stroke="#3a3a3a" stroke-width="0.7" />
<line x1="274.5" y1="245.84" x2="274.5" y2="256.69" stroke="#3a3a3a" stroke-width="0.7" />
<line x1="273.4" y1="245.84" x2="275.6" y2="245.84" stroke="#3a3a3a" stroke-width="0.7" />
<circle cx="273.55" cy="241.94" r="1.05" fill="#222"/>
<circle cx="276.65" cy="241.94" r="1.05" fill="#222"/>
<line x1="290.8" y1="315" x2="290.8" y2="317.5" stroke="#231f20" stroke-width="0.8" />
<rect x="283.35" y="314.66" width="3.1" height="0.34" fill="#124f8c" />
<rect x="287.25" y="314.66" width="3.1" height="0.34" fill="#f7941d" />
<rect x="291.15" y="307.37" width="3.1" height="7.63" fill="#c7c8ca" />
<rect x="295.05" y="304.83" width="3.1" height="10.17" fill="#fdb515" />
<line x1="292.7" y1="305.68" x2="292.7" y2="309.07" stroke="#3a3a3a" stroke-width="0.7" />
<line x1="291.6" y1="305.68" x2="293.8" y2="305.68" stroke="#3a3a3a" stroke-width="0.7" />
<line x1="296.6" y1="302.29" x2="296.6" y2="307.37" stroke="#3a3a3a" stroke-width="0.7" />
<line x1="295.5" y1="302.29" x2="297.7" y2="302.29" stroke="#3a3a3a" stroke-width="0.7" />
<line x1="312.9" y1="315" x2="312.9" y2="317.5" stroke="#231f20" stroke-width="0.8" />
<rect x="305.45" y="313.98" width="3.1" height="1.02" fill="#124f8c" />
<rect x="309.35" y="314.66" width="3.1" height="0.34" fill="#f7941d" />
<rect x="313.25" y="307.37" width="3.1" height="7.63" fill="#c7c8ca" />
<rect x="317.15" y="304.83" width="3.1" height="10.17" fill="#fdb515" />
<line x1="314.8" y1="303.98" x2="314.8" y2="310.76" stroke="#3a3a3a" stroke-width="0.7" />
<line x1="313.7" y1="303.98" x2="315.9" y2="303.98" stroke="#3a3a3a" stroke-width="0.7" />
<line x1="318.7" y1="302.63" x2="318.7" y2="307.03" stroke="#3a3a3a" stroke-width="0.7" />
<line x1="317.6" y1="302.63" x2="319.8" y2="302.63" stroke="#3a3a3a" stroke-width="0.7" />
<line x1="335" y1="315" x2="335" y2="317.5" stroke="#231f20" stroke-width="0.8" />
<rect x="327.55" y="314.66" width="3.1" height="0.34" fill="#124f8c" />
<rect x="331.45" y="314.66" width="3.1" height="0.34" fill="#f7941d" />
<rect x="335.35" y="313.14" width="3.1" height="1.86" fill="#c7c8ca" />
<rect x="339.25" y="312.29" width="3.1" height="2.71" fill="#fdb515" />
<line x1="336.9" y1="312.46" x2="336.9" y2="313.81" stroke="#3a3a3a" stroke-width="0.7" />
<line x1="335.8" y1="312.46" x2="338" y2="312.46" stroke="#3a3a3a" stroke-width="0.7" />
<line x1="340.8" y1="311.61" x2="340.8" y2="312.97" stroke="#3a3a3a" stroke-width="0.7" />
<line x1="339.7" y1="311.61" x2="341.9" y2="311.61" stroke="#3a3a3a" stroke-width="0.7" />
<text transform="translate(224.5 326.8) scale(0.9 1)" font-size="8.8" text-anchor="middle" fill="#111"  stroke="#111" stroke-width="0.15">Necdin</text>
<text transform="translate(246.6 326.8) scale(0.9 1)" font-size="8.8" text-anchor="middle" fill="#111"  stroke="#111" stroke-width="0.15">HS1</text>
<text transform="translate(268.7 326.8) scale(0.9 1)" font-size="8.8" text-anchor="middle" fill="#111"  stroke="#111" stroke-width="0.15">HS2</text>
<text transform="translate(290.8 326.8) scale(0.9 1)" font-size="8.8" text-anchor="middle" fill="#111"  stroke="#111" stroke-width="0.15">HS3</text>
<text transform="translate(312.9 326.8) scale(0.9 1)" font-size="8.8" text-anchor="middle" fill="#111"  stroke="#111" stroke-width="0.15">HS4</text>
<text transform="translate(335 326.8) scale(0.9 1)" font-size="8.8" text-anchor="middle" fill="#111"  stroke="#111" stroke-width="0.15">γ pro</text>
<rect x="221.1" y="230.7" width="4.6" height="4.6" fill="#124f8c" />
<text transform="translate(229.2 235.88) scale(0.9 1)" font-size="8.0" text-anchor="start" fill="#111"  stroke="#111" stroke-width="0.15">WT-IgG</text>
<rect x="221.1" y="239.7" width="4.6" height="4.6" fill="#f7941d" />
<text transform="translate(229.2 244.88) scale(0.9 1)" font-size="8.0" text-anchor="start" fill="#111"  stroke="#111" stroke-width="0.15">KO-IgG</text>
<rect x="221.1" y="248.7" width="4.6" height="4.6" fill="#c7c8ca" />
<text transform="translate(229.2 253.88) scale(0.9 1)" font-size="8.0" text-anchor="start" fill="#111"  stroke="#111" stroke-width="0.15">WT</text>
<rect x="221.1" y="257.7" width="4.6" height="4.6" fill="#fdb515" />
<text transform="translate(229.2 262.88) scale(0.9 1)" font-size="8.0" text-anchor="start" fill="#111"  stroke="#111" stroke-width="0.15">KO</text>
<text transform="translate(190.8 270.9) rotate(-90) scale(0.9 1)" font-size="7.9" text-anchor="middle" fill="#111"  stroke="#111" stroke-width="0.15">ETO2 enrichment</text>
<text transform="translate(346 219.6)" font-size="11" text-anchor="start" fill="#000" font-weight="bold" stroke="#000" stroke-width="0.3">E</text>
<line x1="381.5" y1="229.5" x2="381.5" y2="315.5" stroke="#000" stroke-width="1.1" />
<line x1="381" y1="315" x2="512.8" y2="315" stroke="#111" stroke-width="1.4" />
<line x1="378.5" y1="315" x2="381.5" y2="315" stroke="#231f20" stroke-width="1" />
<text transform="translate(376.1 317.77)" font-size="7.7" text-anchor="end" fill="#111"  stroke="#111" stroke-width="0.15">0.00</text>
<line x1="378.5" y1="298.56" x2="381.5" y2="298.56" stroke="#231f20" stroke-width="1" />
<text transform="translate(376.1 301.33)" font-size="7.7" text-anchor="end" fill="#111"  stroke="#111" stroke-width="0.15">0.02</text>
<line x1="378.5" y1="282.12" x2="381.5" y2="282.12" stroke="#231f20" stroke-width="1" />
<text transform="translate(376.1 284.89)" font-size="7.7" text-anchor="end" fill="#111"  stroke="#111" stroke-width="0.15">0.04</text>
<line x1="378.5" y1="265.68" x2="381.5" y2="265.68" stroke="#231f20" stroke-width="1" />
<text transform="translate(376.1 268.45)" font-size="7.7" text-anchor="end" fill="#111"  stroke="#111" stroke-width="0.15">0.06</text>
<line x1="378.5" y1="249.24" x2="381.5" y2="249.24" stroke="#231f20" stroke-width="1" />
<text transform="translate(376.1 252.01)" font-size="7.7" text-anchor="end" fill="#111"  stroke="#111" stroke-width="0.15">0.08</text>
<line x1="378.5" y1="232.8" x2="381.5" y2="232.8" stroke="#231f20" stroke-width="1" />
<text transform="translate(376.1 235.57)" font-size="7.7" text-anchor="end" fill="#111"  stroke="#111" stroke-width="0.15">0.10</text>
<line x1="392.6" y1="315" x2="392.6" y2="317.5" stroke="#231f20" stroke-width="0.8" />
<rect x="385.15" y="314.59" width="3.1" height="0.41" fill="#124f8c" />
<rect x="389.05" y="314.59" width="3.1" height="0.41" fill="#f7941d" />
<rect x="392.95" y="314.59" width="3.1" height="0.41" fill="#c7c8ca" />
<rect x="396.85" y="313.19" width="3.1" height="1.81" fill="#fdb515" />
<line x1="398.4" y1="312.37" x2="398.4" y2="314.01" stroke="#3a3a3a" stroke-width="0.7" />
<line x1="397.3" y1="312.37" x2="399.5" y2="312.37" stroke="#3a3a3a" stroke-width="0.7" />
<line x1="414.45" y1="315" x2="414.45" y2="317.5" stroke="#231f20" stroke-width="0.8" />
<rect x="407" y="313.19" width="3.1" height="1.81" fill="#124f8c" />
<rect x="410.9" y="313.52" width="3.1" height="1.48" fill="#f7941d" />
<rect x="414.8" y="306.37" width="3.1" height="8.63" fill="#c7c8ca" />
<rect x="418.7" y="276.78" width="3.1" height="38.22" fill="#fdb515" />
<line x1="408.55" y1="312.53" x2="408.55" y2="313.85" stroke="#3a3a3a" stroke-width="0.7" />
<line x1="407.45" y1="312.53" x2="409.65" y2="312.53" stroke="#3a3a3a" stroke-width="0.7" />
<line x1="412.45" y1="312.7" x2="412.45" y2="314.34" stroke="#3a3a3a" stroke-width="0.7" />
<line x1="411.35" y1="312.7" x2="413.55" y2="312.7" stroke="#3a3a3a" stroke-width="0.7" />
<line x1="416.35" y1="303.9" x2="416.35" y2="308.83" stroke="#3a3a3a" stroke-width="0.7" />
<line x1="415.25" y1="303.9" x2="417.45" y2="303.9" stroke="#3a3a3a" stroke-width="0.7" />
<line x1="420.25" y1="273.49" x2="420.25" y2="280.06" stroke="#3a3a3a" stroke-width="0.7" />
<line x1="419.15" y1="273.49" x2="421.35" y2="273.49" stroke="#3a3a3a" stroke-width="0.7" />
<circle cx="419.3" cy="269.59" r="1.05" fill="#222"/>
<circle cx="422.4" cy="269.59" r="1.05" fill="#222"/>
<line x1="436.3" y1="315" x2="436.3" y2="317.5" stroke="#231f20" stroke-width="0.8" />
<rect x="428.85" y="314.01" width="3.1" height="0.99" fill="#124f8c" />
<rect x="432.75" y="310.07" width="3.1" height="4.93" fill="#f7941d" />
<rect x="436.65" y="302.83" width="3.1" height="12.17" fill="#c7c8ca" />
<rect x="440.55" y="268.56" width="3.1" height="46.44" fill="#fdb515" />
<line x1="430.4" y1="313.19" x2="430.4" y2="314.84" stroke="#3a3a3a" stroke-width="0.7" />
<line x1="429.3" y1="313.19" x2="431.5" y2="313.19" stroke="#3a3a3a" stroke-width="0.7" />
<line x1="434.3" y1="309.25" x2="434.3" y2="310.89" stroke="#3a3a3a" stroke-width="0.7" />
<line x1="433.2" y1="309.25" x2="435.4" y2="309.25" stroke="#3a3a3a" stroke-width="0.7" />
<line x1="438.2" y1="300.37" x2="438.2" y2="305.3" stroke="#3a3a3a" stroke-width="0.7" />
<line x1="437.1" y1="300.37" x2="439.3" y2="300.37" stroke="#3a3a3a" stroke-width="0.7" />
<line x1="442.1" y1="261.98" x2="442.1" y2="275.13" stroke="#3a3a3a" stroke-width="0.7" />
<line x1="441" y1="261.98" x2="443.2" y2="261.98" stroke="#3a3a3a" stroke-width="0.7" />
<circle cx="441.15" cy="258.08" r="1.05" fill="#222"/>
<circle cx="444.25" cy="258.08" r="1.05" fill="#222"/>
<line x1="458.15" y1="315" x2="458.15" y2="317.5" stroke="#231f20" stroke-width="0.8" />
<rect x="450.7" y="312.12" width="3.1" height="2.88" fill="#124f8c" />
<rect x="454.6" y="310.89" width="3.1" height="4.11" fill="#f7941d" />
<rect x="458.5" y="301.85" width="3.1" height="13.15" fill="#c7c8ca" />
<rect x="462.4" y="287.46" width="3.1" height="27.54" fill="#fdb515" />
<line x1="452.25" y1="310.07" x2="452.25" y2="314.18" stroke="#3a3a3a" stroke-width="0.7" />
<line x1="451.15" y1="310.07" x2="453.35" y2="310.07" stroke="#3a3a3a" stroke-width="0.7" />
<line x1="456.15" y1="310.07" x2="456.15" y2="311.71" stroke="#3a3a3a" stroke-width="0.7" />
<line x1="455.05" y1="310.07" x2="457.25" y2="310.07" stroke="#3a3a3a" stroke-width="0.7" />
<line x1="460.05" y1="297.74" x2="460.05" y2="305.96" stroke="#3a3a3a" stroke-width="0.7" />
<line x1="458.95" y1="297.74" x2="461.15" y2="297.74" stroke="#3a3a3a" stroke-width="0.7" />
<line x1="463.95" y1="280.89" x2="463.95" y2="294.04" stroke="#3a3a3a" stroke-width="0.7" />
<line x1="462.85" y1="280.89" x2="465.05" y2="280.89" stroke="#3a3a3a" stroke-width="0.7" />
<circle cx="464.55" cy="276.99" r="1.05" fill="#222"/>
<line x1="480" y1="315" x2="480" y2="317.5" stroke="#231f20" stroke-width="0.8" />
<rect x="472.55" y="313.52" width="3.1" height="1.48" fill="#124f8c" />
<rect x="476.45" y="312.94" width="3.1" height="2.06" fill="#f7941d" />
<rect x="480.35" y="306.12" width="3.1" height="8.88" fill="#c7c8ca" />
<rect x="484.25" y="281.71" width="3.1" height="33.29" fill="#fdb515" />
<line x1="474.1" y1="311.05" x2="474.1" y2="315" stroke="#3a3a3a" stroke-width="0.7" />
<line x1="473" y1="311.05" x2="475.2" y2="311.05" stroke="#3a3a3a" stroke-width="0.7" />
<line x1="478" y1="311.3" x2="478" y2="314.59" stroke="#3a3a3a" stroke-width="0.7" />
<line x1="476.9" y1="311.3" x2="479.1" y2="311.3" stroke="#3a3a3a" stroke-width="0.7" />
<line x1="481.9" y1="300.37" x2="481.9" y2="311.88" stroke="#3a3a3a" stroke-width="0.7" />
<line x1="480.8" y1="300.37" x2="483" y2="300.37" stroke="#3a3a3a" stroke-width="0.7" />
<line x1="485.8" y1="276.78" x2="485.8" y2="286.64" stroke="#3a3a3a" stroke-width="0.7" />
<line x1="484.7" y1="276.78" x2="486.9" y2="276.78" stroke="#3a3a3a" stroke-width="0.7" />
<circle cx="484.85" cy="272.88" r="1.05" fill="#222"/>
<circle cx="487.95" cy="272.88" r="1.05" fill="#222"/>
<line x1="501.85" y1="315" x2="501.85" y2="317.5" stroke="#231f20" stroke-width="0.8" />
<rect x="494.4" y="314.01" width="3.1" height="0.99" fill="#124f8c" />
<rect x="498.3" y="314.51" width="3.1" height="0.49" fill="#f7941d" />
<rect x="502.2" y="306.37" width="3.1" height="8.63" fill="#c7c8ca" />
<rect x="506.1" y="296.92" width="3.1" height="18.08" fill="#fdb515" />
<line x1="503.75" y1="304.73" x2="503.75" y2="308.01" stroke="#3a3a3a" stroke-width="0.7" />
<line x1="502.65" y1="304.73" x2="504.85" y2="304.73" stroke="#3a3a3a" stroke-width="0.7" />
<line x1="507.65" y1="293.63" x2="507.65" y2="300.2" stroke="#3a3a3a" stroke-width="0.7" />
<line x1="506.55" y1="293.63" x2="508.75" y2="293.63" stroke="#3a3a3a" stroke-width="0.7" />
<circle cx="508.25" cy="289.73" r="1.05" fill="#222"/>
<text transform="translate(392.6 327.4) scale(0.9 1)" font-size="8.8" text-anchor="middle" fill="#111"  stroke="#111" stroke-width="0.15">Necdin</text>
<text transform="translate(414.45 327.4) scale(0.9 1)" font-size="8.8" text-anchor="middle" fill="#111"  stroke="#111" stroke-width="0.15">HS1</text>
<text transform="translate(436.3 327.4) scale(0.9 1)" font-size="8.8" text-anchor="middle" fill="#111"  stroke="#111" stroke-width="0.15">HS2</text>
<text transform="translate(458.15 327.4) scale(0.9 1)" font-size="8.8" text-anchor="middle" fill="#111"  stroke="#111" stroke-width="0.15">HS3</text>
<text transform="translate(480 327.4) scale(0.9 1)" font-size="8.8" text-anchor="middle" fill="#111"  stroke="#111" stroke-width="0.15">HS4</text>
<text transform="translate(501.85 327.4) scale(0.9 1)" font-size="8.8" text-anchor="middle" fill="#111"  stroke="#111" stroke-width="0.15">γ pro</text>
<rect x="387.8" y="233.4" width="4.4" height="4.4" fill="#124f8c" />
<text transform="translate(395.7 238.52) scale(0.9 1)" font-size="8.1" text-anchor="start" fill="#111"  stroke="#111" stroke-width="0.15">WT-IgG</text>
<rect x="387.8" y="242.5" width="4.4" height="4.4" fill="#f7941d" />
<text transform="translate(395.7 247.62) scale(0.9 1)" font-size="8.1" text-anchor="start" fill="#111"  stroke="#111" stroke-width="0.15">KO-IgG</text>
<rect x="387.8" y="251.6" width="4.4" height="4.4" fill="#c7c8ca" />
<text transform="translate(395.7 256.72) scale(0.9 1)" font-size="8.1" text-anchor="start" fill="#111"  stroke="#111" stroke-width="0.15">WT</text>
<rect x="387.8" y="260.7" width="4.4" height="4.4" fill="#fdb515" />
<text transform="translate(395.7 265.82) scale(0.9 1)" font-size="8.1" text-anchor="start" fill="#111"  stroke="#111" stroke-width="0.15">KO</text>
<text transform="translate(354.8 272.2) rotate(-90) scale(0.9 1)" font-size="8.6" text-anchor="middle" fill="#111"  stroke="#111" stroke-width="0.15">CHD4 enrichment</text>
<text transform="translate(5.6 367.1)" font-size="11" text-anchor="start" fill="#000" font-weight="bold" stroke="#000" stroke-width="0.3">F</text>
<line x1="35.2" y1="373.2" x2="35.2" y2="466.6" stroke="#000" stroke-width="1.1" />
<line x1="34.7" y1="466.1" x2="176" y2="466.1" stroke="#111" stroke-width="1.4" />
<line x1="32.2" y1="466.1" x2="35.2" y2="466.1" stroke="#231f20" stroke-width="1" />
<text transform="translate(30.9 468.87)" font-size="7.7" text-anchor="end" fill="#111"  stroke="#111" stroke-width="0.15">0</text>
<line x1="32.2" y1="443.75" x2="35.2" y2="443.75" stroke="#231f20" stroke-width="1" />
<text transform="translate(30.9 446.52)" font-size="7.7" text-anchor="end" fill="#111"  stroke="#111" stroke-width="0.15">0.1</text>
<line x1="32.2" y1="421.4" x2="35.2" y2="421.4" stroke="#231f20" stroke-width="1" />
<text transform="translate(30.9 424.17)" font-size="7.7" text-anchor="end" fill="#111"  stroke="#111" stroke-width="0.15">0.2</text>
<line x1="32.2" y1="399.05" x2="35.2" y2="399.05" stroke="#231f20" stroke-width="1" />
<text transform="translate(30.9 401.82)" font-size="7.7" text-anchor="end" fill="#111"  stroke="#111" stroke-width="0.15">0.3</text>
<line x1="32.2" y1="376.7" x2="35.2" y2="376.7" stroke="#231f20" stroke-width="1" />
<text transform="translate(30.9 379.47)" font-size="7.7" text-anchor="end" fill="#111"  stroke="#111" stroke-width="0.15">0.4</text>
<line x1="47" y1="466.1" x2="47" y2="468.6" stroke="#231f20" stroke-width="0.8" />
<rect x="38.85" y="465.43" width="3.3" height="0.67" fill="#124f8c" />
<rect x="43.05" y="465.43" width="3.3" height="0.67" fill="#f7941d" />
<rect x="47.35" y="465.43" width="3.3" height="0.67" fill="#c7c8ca" />
<rect x="51.65" y="463.87" width="3.3" height="2.23" fill="#fdb515" />
<line x1="53.3" y1="463.42" x2="53.3" y2="464.31" stroke="#3a3a3a" stroke-width="0.7" />
<line x1="52.2" y1="463.42" x2="54.4" y2="463.42" stroke="#3a3a3a" stroke-width="0.7" />
<line x1="70.5" y1="466.1" x2="70.5" y2="468.6" stroke="#231f20" stroke-width="0.8" />
<rect x="62.35" y="465.43" width="3.3" height="0.67" fill="#124f8c" />
<rect x="66.55" y="465.43" width="3.3" height="0.67" fill="#f7941d" />
<rect x="70.85" y="397.93" width="3.3" height="68.17" fill="#c7c8ca" />
<rect x="75.15" y="427.66" width="3.3" height="38.44" fill="#fdb515" />
<line x1="72.5" y1="383.85" x2="72.5" y2="412.01" stroke="#3a3a3a" stroke-width="0.7" />
<line x1="71.4" y1="383.85" x2="73.6" y2="383.85" stroke="#3a3a3a" stroke-width="0.7" />
<line x1="76.8" y1="422.29" x2="76.8" y2="433.02" stroke="#3a3a3a" stroke-width="0.7" />
<line x1="75.7" y1="422.29" x2="77.9" y2="422.29" stroke="#3a3a3a" stroke-width="0.7" />
<circle cx="77.4" cy="418.39" r="1.05" fill="#222"/>
<line x1="94" y1="466.1" x2="94" y2="468.6" stroke="#231f20" stroke-width="0.8" />
<rect x="85.85" y="465.43" width="3.3" height="0.67" fill="#124f8c" />
<rect x="90.05" y="465.43" width="3.3" height="0.67" fill="#f7941d" />
<rect x="94.35" y="429.89" width="3.3" height="36.21" fill="#c7c8ca" />
<rect x="98.65" y="428.55" width="3.3" height="37.55" fill="#fdb515" />
<line x1="96" y1="424.98" x2="96" y2="434.81" stroke="#3a3a3a" stroke-width="0.7" />
<line x1="94.9" y1="424.98" x2="97.1" y2="424.98" stroke="#3a3a3a" stroke-width="0.7" />
<line x1="100.3" y1="426.32" x2="100.3" y2="430.79" stroke="#3a3a3a" stroke-width="0.7" />
<line x1="99.2" y1="426.32" x2="101.4" y2="426.32" stroke="#3a3a3a" stroke-width="0.7" />
<line x1="117.5" y1="466.1" x2="117.5" y2="468.6" stroke="#231f20" stroke-width="0.8" />
<rect x="109.35" y="465.65" width="3.3" height="0.45" fill="#124f8c" />
<rect x="113.55" y="464.98" width="3.3" height="1.12" fill="#f7941d" />
<rect x="117.85" y="448.22" width="3.3" height="17.88" fill="#c7c8ca" />
<rect x="122.15" y="456.04" width="3.3" height="10.06" fill="#fdb515" />
<line x1="119.5" y1="442.86" x2="119.5" y2="453.58" stroke="#3a3a3a" stroke-width="0.7" />
<line x1="118.4" y1="442.86" x2="120.6" y2="442.86" stroke="#3a3a3a" stroke-width="0.7" />
<line x1="123.8" y1="455.15" x2="123.8" y2="456.94" stroke="#3a3a3a" stroke-width="0.7" />
<line x1="122.7" y1="455.15" x2="124.9" y2="455.15" stroke="#3a3a3a" stroke-width="0.7" />
<circle cx="124.4" cy="451.25" r="1.05" fill="#222"/>
<line x1="141" y1="466.1" x2="141" y2="468.6" stroke="#231f20" stroke-width="0.8" />
<rect x="132.85" y="465.65" width="3.3" height="0.45" fill="#124f8c" />
<rect x="137.05" y="465.65" width="3.3" height="0.45" fill="#f7941d" />
<rect x="141.35" y="432.13" width="3.3" height="33.97" fill="#c7c8ca" />
<rect x="145.65" y="450.9" width="3.3" height="15.2" fill="#fdb515" />
<line x1="143" y1="427.66" x2="143" y2="436.6" stroke="#3a3a3a" stroke-width="0.7" />
<line x1="141.9" y1="427.66" x2="144.1" y2="427.66" stroke="#3a3a3a" stroke-width="0.7" />
<line x1="147.3" y1="448.67" x2="147.3" y2="453.14" stroke="#3a3a3a" stroke-width="0.7" />
<line x1="146.2" y1="448.67" x2="148.4" y2="448.67" stroke="#3a3a3a" stroke-width="0.7" />
<circle cx="146.35" cy="444.77" r="1.05" fill="#222"/>
<circle cx="149.45" cy="444.77" r="1.05" fill="#222"/>
<line x1="164.5" y1="466.1" x2="164.5" y2="468.6" stroke="#231f20" stroke-width="0.8" />
<rect x="156.35" y="465.65" width="3.3" height="0.45" fill="#124f8c" />
<rect x="160.55" y="465.88" width="3.3" height="0.22" fill="#f7941d" />
<rect x="164.85" y="451.8" width="3.3" height="14.3" fill="#c7c8ca" />
<rect x="169.15" y="456.49" width="3.3" height="9.61" fill="#fdb515" />
<line x1="166.5" y1="450.9" x2="166.5" y2="452.69" stroke="#3a3a3a" stroke-width="0.7" />
<line x1="165.4" y1="450.9" x2="167.6" y2="450.9" stroke="#3a3a3a" stroke-width="0.7" />
<line x1="170.8" y1="455.82" x2="170.8" y2="457.16" stroke="#3a3a3a" stroke-width="0.7" />
<line x1="169.7" y1="455.82" x2="171.9" y2="455.82" stroke="#3a3a3a" stroke-width="0.7" />
<circle cx="169.85" cy="451.92" r="1.05" fill="#222"/>
<circle cx="172.95" cy="451.92" r="1.05" fill="#222"/>
<text transform="translate(47 478.6) scale(0.9 1)" font-size="8.8" text-anchor="middle" fill="#111"  stroke="#111" stroke-width="0.15">Necdin</text>
<text transform="translate(70.5 478.6) scale(0.9 1)" font-size="8.8" text-anchor="middle" fill="#111"  stroke="#111" stroke-width="0.15">HS1</text>
<text transform="translate(94 478.6) scale(0.9 1)" font-size="8.8" text-anchor="middle" fill="#111"  stroke="#111" stroke-width="0.15">HS2</text>
<text transform="translate(117.5 478.6) scale(0.9 1)" font-size="8.8" text-anchor="middle" fill="#111"  stroke="#111" stroke-width="0.15">HS3</text>
<text transform="translate(141 478.6) scale(0.9 1)" font-size="8.8" text-anchor="middle" fill="#111"  stroke="#111" stroke-width="0.15">HS4</text>
<text transform="translate(164.5 478.6) scale(0.9 1)" font-size="8.8" text-anchor="middle" fill="#111"  stroke="#111" stroke-width="0.15">γ pro</text>
<rect x="137.7" y="377.8" width="4" height="4" fill="#124f8c" />
<text transform="translate(145.2 382.75) scale(0.9 1)" font-size="8.2" text-anchor="start" fill="#111"  stroke="#111" stroke-width="0.15">WT-IgG</text>
<rect x="137.7" y="387.1" width="4" height="4" fill="#f7941d" />
<text transform="translate(145.2 392.05) scale(0.9 1)" font-size="8.2" text-anchor="start" fill="#111"  stroke="#111" stroke-width="0.15">KO-IgG</text>
<rect x="137.7" y="396.4" width="4" height="4" fill="#c7c8ca" />
<text transform="translate(145.2 401.35) scale(0.9 1)" font-size="8.2" text-anchor="start" fill="#111"  stroke="#111" stroke-width="0.15">WT</text>
<rect x="137.7" y="405.7" width="4" height="4" fill="#fdb515" />
<text transform="translate(145.2 410.65) scale(0.9 1)" font-size="8.2" text-anchor="start" fill="#111"  stroke="#111" stroke-width="0.15">KO</text>
<text transform="translate(14.4 419.7) rotate(-90) scale(0.9 1)" font-size="8.3" text-anchor="middle" fill="#111"  stroke="#111" stroke-width="0.15">GATA1 enrichment</text>
<text transform="translate(183.8 367.1)" font-size="11" text-anchor="start" fill="#000" font-weight="bold" stroke="#000" stroke-width="0.3">G</text>
<line x1="213.6" y1="374.2" x2="213.6" y2="466.7" stroke="#000" stroke-width="1.1" />
<line x1="213.1" y1="466.2" x2="354" y2="466.2" stroke="#111" stroke-width="1.4" />
<line x1="210.6" y1="466.2" x2="213.6" y2="466.2" stroke="#231f20" stroke-width="1" />
<text transform="translate(209.1 468.97)" font-size="7.7" text-anchor="end" fill="#111"  stroke="#111" stroke-width="0.15">0</text>
<line x1="210.6" y1="444.15" x2="213.6" y2="444.15" stroke="#231f20" stroke-width="1" />
<text transform="translate(209.1 446.92)" font-size="7.7" text-anchor="end" fill="#111"  stroke="#111" stroke-width="0.15">0.05</text>
<line x1="210.6" y1="422.1" x2="213.6" y2="422.1" stroke="#231f20" stroke-width="1" />
<text transform="translate(209.1 424.87)" font-size="7.7" text-anchor="end" fill="#111"  stroke="#111" stroke-width="0.15">0.1</text>
<line x1="210.6" y1="400.05" x2="213.6" y2="400.05" stroke="#231f20" stroke-width="1" />
<text transform="translate(209.1 402.82)" font-size="7.7" text-anchor="end" fill="#111"  stroke="#111" stroke-width="0.15">0.15</text>
<line x1="210.6" y1="378" x2="213.6" y2="378" stroke="#231f20" stroke-width="1" />
<text transform="translate(209.1 380.77)" font-size="7.7" text-anchor="end" fill="#111"  stroke="#111" stroke-width="0.15">0.2</text>
<line x1="225.4" y1="466.2" x2="225.4" y2="468.7" stroke="#231f20" stroke-width="0.8" />
<rect x="217.25" y="465.32" width="3.3" height="0.88" fill="#124f8c" />
<rect x="221.45" y="465.76" width="3.3" height="0.44" fill="#f7941d" />
<rect x="225.75" y="464.88" width="3.3" height="1.32" fill="#c7c8ca" />
<rect x="230.05" y="465.32" width="3.3" height="0.88" fill="#fdb515" />
<line x1="227.4" y1="464.44" x2="227.4" y2="465.32" stroke="#3a3a3a" stroke-width="0.7" />
<line x1="226.3" y1="464.44" x2="228.5" y2="464.44" stroke="#3a3a3a" stroke-width="0.7" />
<line x1="248.6" y1="466.2" x2="248.6" y2="468.7" stroke="#231f20" stroke-width="0.8" />
<rect x="240.45" y="465.32" width="3.3" height="0.88" fill="#124f8c" />
<rect x="244.65" y="465.76" width="3.3" height="0.44" fill="#f7941d" />
<rect x="248.95" y="436.65" width="3.3" height="29.55" fill="#c7c8ca" />
<rect x="253.25" y="448.56" width="3.3" height="17.64" fill="#fdb515" />
<line x1="250.6" y1="434.01" x2="250.6" y2="439.3" stroke="#3a3a3a" stroke-width="0.7" />
<line x1="249.5" y1="434.01" x2="251.7" y2="434.01" stroke="#3a3a3a" stroke-width="0.7" />
<line x1="254.9" y1="446.8" x2="254.9" y2="450.32" stroke="#3a3a3a" stroke-width="0.7" />
<line x1="253.8" y1="446.8" x2="256" y2="446.8" stroke="#3a3a3a" stroke-width="0.7" />
<circle cx="255.5" cy="442.9" r="1.05" fill="#222"/>
<line x1="271.8" y1="466.2" x2="271.8" y2="468.7" stroke="#231f20" stroke-width="0.8" />
<rect x="263.65" y="465.32" width="3.3" height="0.88" fill="#124f8c" />
<rect x="267.85" y="464.88" width="3.3" height="1.32" fill="#f7941d" />
<rect x="272.15" y="408.87" width="3.3" height="57.33" fill="#c7c8ca" />
<rect x="276.45" y="418.13" width="3.3" height="48.07" fill="#fdb515" />
<line x1="273.8" y1="402.7" x2="273.8" y2="415.04" stroke="#3a3a3a" stroke-width="0.7" />
<line x1="272.7" y1="402.7" x2="274.9" y2="402.7" stroke="#3a3a3a" stroke-width="0.7" />
<line x1="278.1" y1="413.72" x2="278.1" y2="422.54" stroke="#3a3a3a" stroke-width="0.7" />
<line x1="277" y1="413.72" x2="279.2" y2="413.72" stroke="#3a3a3a" stroke-width="0.7" />
<line x1="295" y1="466.2" x2="295" y2="468.7" stroke="#231f20" stroke-width="0.8" />
<rect x="286.85" y="464.88" width="3.3" height="1.32" fill="#124f8c" />
<rect x="291.05" y="465.76" width="3.3" height="0.44" fill="#f7941d" />
<rect x="295.35" y="451.21" width="3.3" height="14.99" fill="#c7c8ca" />
<rect x="299.65" y="460.91" width="3.3" height="5.29" fill="#fdb515" />
<line x1="297" y1="448.56" x2="297" y2="453.85" stroke="#3a3a3a" stroke-width="0.7" />
<line x1="295.9" y1="448.56" x2="298.1" y2="448.56" stroke="#3a3a3a" stroke-width="0.7" />
<line x1="301.3" y1="460.03" x2="301.3" y2="461.79" stroke="#3a3a3a" stroke-width="0.7" />
<line x1="300.2" y1="460.03" x2="302.4" y2="460.03" stroke="#3a3a3a" stroke-width="0.7" />
<circle cx="301.9" cy="456.13" r="1.05" fill="#222"/>
<line x1="318.2" y1="466.2" x2="318.2" y2="468.7" stroke="#231f20" stroke-width="0.8" />
<rect x="310.05" y="465.32" width="3.3" height="0.88" fill="#124f8c" />
<rect x="314.25" y="465.76" width="3.3" height="0.44" fill="#f7941d" />
<rect x="318.55" y="427.39" width="3.3" height="38.81" fill="#c7c8ca" />
<rect x="322.85" y="453.85" width="3.3" height="12.35" fill="#fdb515" />
<line x1="320.2" y1="423.42" x2="320.2" y2="431.36" stroke="#3a3a3a" stroke-width="0.7" />
<line x1="319.1" y1="423.42" x2="321.3" y2="423.42" stroke="#3a3a3a" stroke-width="0.7" />
<line x1="324.5" y1="452.53" x2="324.5" y2="455.18" stroke="#3a3a3a" stroke-width="0.7" />
<line x1="323.4" y1="452.53" x2="325.6" y2="452.53" stroke="#3a3a3a" stroke-width="0.7" />
<circle cx="323.55" cy="448.63" r="1.05" fill="#222"/>
<circle cx="326.65" cy="448.63" r="1.05" fill="#222"/>
<line x1="341.4" y1="466.2" x2="341.4" y2="468.7" stroke="#231f20" stroke-width="0.8" />
<rect x="333.25" y="465.76" width="3.3" height="0.44" fill="#124f8c" />
<rect x="337.45" y="465.76" width="3.3" height="0.44" fill="#f7941d" />
<rect x="341.75" y="464.44" width="3.3" height="1.76" fill="#c7c8ca" />
<rect x="346.05" y="465.32" width="3.3" height="0.88" fill="#fdb515" />
<line x1="343.4" y1="464" x2="343.4" y2="464.88" stroke="#3a3a3a" stroke-width="0.7" />
<line x1="342.3" y1="464" x2="344.5" y2="464" stroke="#3a3a3a" stroke-width="0.7" />
<line x1="347.7" y1="464.88" x2="347.7" y2="465.76" stroke="#3a3a3a" stroke-width="0.7" />
<line x1="346.6" y1="464.88" x2="348.8" y2="464.88" stroke="#3a3a3a" stroke-width="0.7" />
<text transform="translate(225.4 477.9) scale(0.9 1)" font-size="8.8" text-anchor="middle" fill="#111"  stroke="#111" stroke-width="0.15">Necdin</text>
<text transform="translate(248.6 477.9) scale(0.9 1)" font-size="8.8" text-anchor="middle" fill="#111"  stroke="#111" stroke-width="0.15">HS1</text>
<text transform="translate(271.8 477.9) scale(0.9 1)" font-size="8.8" text-anchor="middle" fill="#111"  stroke="#111" stroke-width="0.15">HS2</text>
<text transform="translate(295 477.9) scale(0.9 1)" font-size="8.8" text-anchor="middle" fill="#111"  stroke="#111" stroke-width="0.15">HS3</text>
<text transform="translate(318.2 477.9) scale(0.9 1)" font-size="8.8" text-anchor="middle" fill="#111"  stroke="#111" stroke-width="0.15">HS4</text>
<text transform="translate(341.4 477.9) scale(0.9 1)" font-size="8.8" text-anchor="middle" fill="#111"  stroke="#111" stroke-width="0.15">γ pro</text>
<rect x="221.5" y="379.2" width="3.8" height="3.8" fill="#124f8c" />
<text transform="translate(228.8 383.94) scale(0.9 1)" font-size="7.9" text-anchor="start" fill="#111"  stroke="#111" stroke-width="0.15">WT-IgG</text>
<rect x="221.5" y="387.65" width="3.8" height="3.8" fill="#f7941d" />
<text transform="translate(228.8 392.39) scale(0.9 1)" font-size="7.9" text-anchor="start" fill="#111"  stroke="#111" stroke-width="0.15">KO-IgG</text>
<rect x="221.5" y="396.1" width="3.8" height="3.8" fill="#c7c8ca" />
<text transform="translate(228.8 400.84) scale(0.9 1)" font-size="7.9" text-anchor="start" fill="#111"  stroke="#111" stroke-width="0.15">WT</text>
<rect x="221.5" y="404.55" width="3.8" height="3.8" fill="#fdb515" />
<text transform="translate(228.8 409.29) scale(0.9 1)" font-size="7.9" text-anchor="start" fill="#111"  stroke="#111" stroke-width="0.15">KO</text>
<text transform="translate(189.1 424.3) rotate(-90) scale(0.9 1)" font-size="8.3" text-anchor="middle" fill="#111"  stroke="#111" stroke-width="0.15">LDB1 enrichment</text>
<text transform="translate(346.1 367.1)" font-size="11" text-anchor="start" fill="#000" font-weight="bold" stroke="#000" stroke-width="0.3">H</text>
<text transform="translate(399 357.2)" font-size="8.6" text-anchor="middle" fill="#111"  stroke="#111" stroke-width="0.15">IP</text>
<line x1="375" y1="359.8" x2="422.7" y2="359.8" stroke="#000" stroke-width="1.5" />
<text transform="translate(457.5 357.2)" font-size="8.6" text-anchor="middle" fill="#111"  stroke="#111" stroke-width="0.15">IP</text>
<line x1="434.5" y1="360" x2="483.1" y2="360" stroke="#000" stroke-width="1.5" />
<text transform="translate(375.5 391.5) rotate(-45)" font-size="8.6" text-anchor="start" fill="#111"  stroke="#111" stroke-width="0.15">Hemogen</text>
<text transform="translate(396 391.5) rotate(-45)" font-size="8.6" text-anchor="start" fill="#111"  stroke="#111" stroke-width="0.15">IgG</text>
<text transform="translate(415 391.5) rotate(-45)" font-size="8.6" text-anchor="start" fill="#111"  stroke="#111" stroke-width="0.15">Input</text>
<text transform="translate(439.5 391.5) rotate(-45)" font-size="8.6" text-anchor="start" fill="#111"  stroke="#111" stroke-width="0.15">LDB1</text>
<text transform="translate(456.8 391.5) rotate(-45)" font-size="8.6" text-anchor="start" fill="#111"  stroke="#111" stroke-width="0.15">IgG</text>
<text transform="translate(475 391.5) rotate(-45)" font-size="8.6" text-anchor="start" fill="#111"  stroke="#111" stroke-width="0.15">Input</text>
<text transform="translate(497.2 391.8)" font-size="8.6" text-anchor="middle" fill="#111"  stroke="#111" stroke-width="0.15">WB</text>
<line x1="490.8" y1="393.3" x2="503.6" y2="393.3" stroke="#111" stroke-width="0.7" />
<text transform="translate(487.8 401.5) scale(0.96 1)" font-size="8.5" text-anchor="start" fill="#111"  stroke="#111" stroke-width="0.15">BRG1</text>
<text transform="translate(487.8 414) scale(0.96 1)" font-size="8.5" text-anchor="start" fill="#111"  stroke="#111" stroke-width="0.15">Hem</text>
<text transform="translate(487.8 426.3) scale(0.96 1)" font-size="8.5" text-anchor="start" fill="#111"  stroke="#111" stroke-width="0.15">LDB1</text>
<rect x="373.6" y="392.7" width="50.1" height="10.5" fill="#e4e4e4"/>
<g filter="url(#bl)">
<rect x="375.6" y="397" width="13" height="2.4" rx="1.2" fill="#555" opacity="0.9"/>
<rect x="406.6" y="393.9" width="16.5" height="7" rx="3.5" fill="#222" opacity="1"/>
</g>
<rect x="373.6" y="405.8" width="50.1" height="10.7" fill="#dadada"/>
<g filter="url(#bl)">
<rect x="374.1" y="407" width="16" height="8.3" rx="4" fill="#121212" opacity="1"/>
<rect x="406.6" y="408.4" width="16.5" height="5.5" rx="2.75" fill="#222" opacity="1"/>
</g>
<rect x="373.6" y="418" width="50.1" height="10.8" fill="#dedede"/>
<g filter="url(#bl)">
<rect x="373.6" y="420.5" width="16" height="7.5" rx="3.75" fill="#1a1a1a" opacity="1"/>
<rect x="391.6" y="419" width="13" height="6" rx="3" fill="#c2c2c2" opacity="0.9"/>
<rect x="406.6" y="419.2" width="16" height="7" rx="3.5" fill="#9a9a9a" opacity="0.9"/>
<rect x="407.6" y="423" width="15" height="3" rx="1.5" fill="#777" opacity="0.9"/>
</g>
<rect x="432.3" y="393.4" width="52.1" height="10.1" fill="#e6e6e6"/>
<g filter="url(#bl)">
<rect x="435.3" y="395.9" width="13" height="3.5" rx="1.75" fill="#333" opacity="0.95"/>
<rect x="467.3" y="394.4" width="16" height="7" rx="3.5" fill="#1a1a1a" opacity="1"/>
</g>
<rect x="432.3" y="405.3" width="52.1" height="10.7" fill="#a9a9a9"/>
<g filter="url(#bl)">
<rect x="432.3" y="408.3" width="16" height="5" rx="2.5" fill="#151515" opacity="0.95"/>
<rect x="450.3" y="406.3" width="14" height="9" rx="4" fill="#939393" opacity="0.8"/>
<rect x="466.3" y="407.3" width="17" height="6.5" rx="3.25" fill="#1a1a1a" opacity="1"/>
</g>
<rect x="432.3" y="418.1" width="52.1" height="10.1" fill="#eaeaea"/>
<g filter="url(#bl)">
<rect x="433.3" y="419.3" width="15.5" height="7.5" rx="3.75" fill="#141414" opacity="1"/>
<rect x="451.3" y="418.6" width="12" height="2.5" rx="1.25" fill="#888" opacity="0.8"/>
<rect x="467.3" y="420.4" width="16" height="5.5" rx="2.75" fill="#2a2a2a" opacity="1"/>
</g>
<text transform="translate(398.5 440.8)" font-size="8.6" text-anchor="middle" fill="#111"  stroke="#111" stroke-width="0.15">IP</text>
<line x1="375.4" y1="443.8" x2="423" y2="443.8" stroke="#000" stroke-width="1.5" />
<text transform="translate(457 440.8)" font-size="8.6" text-anchor="middle" fill="#111"  stroke="#111" stroke-width="0.15">IP</text>
<line x1="433" y1="443.8" x2="483" y2="443.8" stroke="#000" stroke-width="1.5" />
<text transform="translate(378 476.3) rotate(-45)" font-size="7.9" text-anchor="start" fill="#111"  stroke="#111" stroke-width="0.15">Hemogen</text>
<text transform="translate(398 476.3) rotate(-45)" font-size="7.9" text-anchor="start" fill="#111"  stroke="#111" stroke-width="0.15">IgG</text>
<text transform="translate(417 476.3) rotate(-45)" font-size="7.9" text-anchor="start" fill="#111"  stroke="#111" stroke-width="0.15">Input</text>
<text transform="translate(436 476.3) rotate(-45)" font-size="7.9" text-anchor="start" fill="#111"  stroke="#111" stroke-width="0.15">GATA1</text>
<text transform="translate(455 476.3) rotate(-45)" font-size="7.9" text-anchor="start" fill="#111"  stroke="#111" stroke-width="0.15">IgG</text>
<text transform="translate(471 476.3) rotate(-45)" font-size="7.9" text-anchor="start" fill="#111"  stroke="#111" stroke-width="0.15">Input</text>
<text transform="translate(497.2 475.6)" font-size="8.6" text-anchor="middle" fill="#111"  stroke="#111" stroke-width="0.15">WB</text>
<line x1="490.8" y1="477.1" x2="503.6" y2="477.1" stroke="#111" stroke-width="0.7" />
<text transform="translate(487.8 485.4) scale(0.96 1)" font-size="8.5" text-anchor="start" fill="#111"  stroke="#111" stroke-width="0.15">BRG1</text>
<text transform="translate(487.8 501.3) scale(0.96 1)" font-size="8.5" text-anchor="start" fill="#111"  stroke="#111" stroke-width="0.15">Hem</text>
<text transform="translate(487.8 513.8) scale(0.96 1)" font-size="8.5" text-anchor="start" fill="#111"  stroke="#111" stroke-width="0.15">GATA1</text>
<rect x="373.9" y="479.5" width="51.1" height="10.8" fill="#c6c6c6"/>
<g filter="url(#bl)">
<rect x="375.9" y="482" width="14" height="4.5" rx="2.25" fill="#8a8a8a" opacity="0.9"/>
<rect x="408.9" y="480.5" width="16" height="8.5" rx="4" fill="#262626" opacity="1"/>
</g>
<rect x="373.9" y="492.3" width="51.1" height="11.2" fill="#c8c8c8"/>
<g filter="url(#bl)">
<rect x="374.4" y="493.8" width="15.5" height="8" rx="4" fill="#151515" opacity="1"/>
<rect x="408.9" y="494.3" width="16" height="7" rx="3.5" fill="#222" opacity="1"/>
</g>
<rect x="373.9" y="506.6" width="51.1" height="9.2" fill="#d0d0d0"/>
<g filter="url(#bl)">
<rect x="374.4" y="507.6" width="15" height="7" rx="3.5" fill="#666" opacity="0.95"/>
<rect x="407.9" y="510.1" width="16" height="3.5" rx="1.75" fill="#7a7a7a" opacity="0.9"/>
</g>
<rect x="432.3" y="478.8" width="48.5" height="11.3" fill="#c2c2c2"/>
<g filter="url(#bl)">
<rect x="434.3" y="481.8" width="12" height="3.5" rx="1.75" fill="#2a2a2a" opacity="0.95"/>
<rect x="463.3" y="479.3" width="17" height="10" rx="4" fill="#0e0e0e" opacity="1"/>
</g>
<rect x="432.3" y="492.9" width="48.5" height="10.4" fill="#c4c4c4"/>
<g filter="url(#bl)">
<rect x="432.3" y="493.9" width="16" height="8.5" rx="4" fill="#080808" opacity="1"/>
<rect x="452.3" y="494.4" width="4" height="3" rx="1.5" fill="#999" opacity="0.8"/>
<rect x="465.3" y="496.4" width="15" height="4" rx="2" fill="#1e1e1e" opacity="1"/>
</g>
<rect x="432.3" y="506.2" width="48.5" height="9.5" fill="#c4c4c4"/>
<g filter="url(#bl)">
<rect x="432.3" y="506.7" width="16" height="6.5" rx="3.25" fill="#0a0a0a" opacity="1"/>
<rect x="450.3" y="507.2" width="14" height="6" rx="3" fill="#b0b0b0" opacity="0.8"/>
<rect x="464.3" y="507.7" width="16" height="6.5" rx="3.25" fill="#161616" opacity="1"/>
</g>
<text transform="translate(5.6 500.2)" font-size="11" text-anchor="start" fill="#000" font-weight="bold" stroke="#000" stroke-width="0.3">I</text>
<line x1="117.5" y1="530.7" x2="117.5" y2="621.7" stroke="#a8a8a8" stroke-width="0.5" stroke-dasharray="1 1"/>
<line x1="126.8" y1="530.7" x2="126.8" y2="621.7" stroke="#a8a8a8" stroke-width="0.5" stroke-dasharray="1 1"/>
<line x1="132" y1="530.7" x2="132" y2="621.7" stroke="#a8a8a8" stroke-width="0.5" stroke-dasharray="1 1"/>
<line x1="165.8" y1="530.7" x2="165.8" y2="621.7" stroke="#a8a8a8" stroke-width="0.5" stroke-dasharray="1 1"/>
<line x1="171.6" y1="530.7" x2="171.6" y2="621.7" stroke="#a8a8a8" stroke-width="0.5" stroke-dasharray="1 1"/>
<line x1="179.7" y1="530.7" x2="179.7" y2="621.7" stroke="#a8a8a8" stroke-width="0.5" stroke-dasharray="1 1"/>
<line x1="194.7" y1="530.7" x2="194.7" y2="621.7" stroke="#a8a8a8" stroke-width="0.5" stroke-dasharray="1 1"/>
<line x1="218.5" y1="530.7" x2="218.5" y2="621.7" stroke="#a8a8a8" stroke-width="0.5" stroke-dasharray="1 1"/>
<line x1="230.7" y1="530.7" x2="230.7" y2="621.7" stroke="#a8a8a8" stroke-width="0.5" stroke-dasharray="1 1"/>
<line x1="245.5" y1="530.7" x2="245.5" y2="621.7" stroke="#a8a8a8" stroke-width="0.5" stroke-dasharray="1 1"/>
<line x1="288.5" y1="530.7" x2="288.5" y2="621.7" stroke="#a8a8a8" stroke-width="0.5" stroke-dasharray="1 1"/>
<text transform="translate(120 526.8) rotate(-90) scale(0.8 1)" font-size="8.6" text-anchor="start" fill="#111"  stroke="#111" stroke-width="0.15">Beta</text>
<text transform="translate(129.3 526.8) rotate(-90) scale(0.8 1)" font-size="8.6" text-anchor="start" fill="#111"  stroke="#111" stroke-width="0.15">DB1</text>
<text transform="translate(137.3 526.8) rotate(-90) scale(0.8 1)" font-size="8.6" text-anchor="start" fill="#111"  stroke="#111" stroke-width="0.15">Delta</text>
<text transform="translate(168 526.8) rotate(-90) scale(0.8 1)" font-size="8.6" text-anchor="start" fill="#111"  stroke="#111" stroke-width="0.15">5′BGL3</text>
<text transform="translate(175.5 526.8) rotate(-90) scale(0.8 1)" font-size="8.6" text-anchor="start" fill="#111"  stroke="#111" stroke-width="0.15">G/BGL3</text>
<text transform="translate(183 526.8) rotate(-90) scale(0.8 1)" font-size="8.6" text-anchor="start" fill="#111"  stroke="#111" stroke-width="0.15">GA2</text>
<text transform="translate(197.5 526.8) rotate(-90) scale(0.8 1)" font-size="8.6" text-anchor="start" fill="#111"  stroke="#111" stroke-width="0.15">Gamma</text>
<text transform="translate(222 526.8) rotate(-90) scale(0.8 1)" font-size="8.6" text-anchor="start" fill="#111"  stroke="#111" stroke-width="0.15">E/G</text>
<text transform="translate(233.5 526.8) rotate(-90) scale(0.8 1)" font-size="8.6" text-anchor="start" fill="#111"  stroke="#111" stroke-width="0.15">Epsilon</text>
<text transform="translate(248.7 526.8) rotate(-90) scale(0.8 1)" font-size="8.6" text-anchor="start" fill="#111"  stroke="#111" stroke-width="0.15">HS1</text>
<text transform="translate(291.3 526.8) rotate(-90) scale(0.8 1)" font-size="8.6" text-anchor="start" fill="#111"  stroke="#111" stroke-width="0.15">HS5</text>
<rect x="266" y="530.7" width="4.6" height="91" fill="#c8102e" />
<text transform="translate(271.3 526.8) rotate(-90) scale(0.8 1)" font-size="8.6" text-anchor="start" fill="#c8102e"  stroke="#c8102e" stroke-width="0.15">HS2</text>
<path d="M34.5 530.7H309.5V621.7" fill="none" stroke="#111" stroke-width="1"/>
<line x1="34.5" y1="530.2" x2="34.5" y2="622.2" stroke="#111" stroke-width="1.1" />
<line x1="34" y1="621.7" x2="309.5" y2="621.7" stroke="#111" stroke-width="1.1" />
<line x1="31.3" y1="621.7" x2="34.5" y2="621.7" stroke="#231f20" stroke-width="1" />
<text transform="translate(29.9 624.55)" font-size="7.9" text-anchor="end" fill="#111"  stroke="#111" stroke-width="0.15">0</text>
<line x1="31.3" y1="608.7" x2="34.5" y2="608.7" stroke="#231f20" stroke-width="1" />
<text transform="translate(29.9 611.55)" font-size="7.9" text-anchor="end" fill="#111"  stroke="#111" stroke-width="0.15">2</text>
<line x1="31.3" y1="595.7" x2="34.5" y2="595.7" stroke="#231f20" stroke-width="1" />
<text transform="translate(29.9 598.55)" font-size="7.9" text-anchor="end" fill="#111"  stroke="#111" stroke-width="0.15">4</text>
<line x1="31.3" y1="582.7" x2="34.5" y2="582.7" stroke="#231f20" stroke-width="1" />
<text transform="translate(29.9 585.55)" font-size="7.9" text-anchor="end" fill="#111"  stroke="#111" stroke-width="0.15">6</text>
<line x1="31.3" y1="569.7" x2="34.5" y2="569.7" stroke="#231f20" stroke-width="1" />
<text transform="translate(29.9 572.55)" font-size="7.9" text-anchor="end" fill="#111"  stroke="#111" stroke-width="0.15">8</text>
<line x1="31.3" y1="556.7" x2="34.5" y2="556.7" stroke="#231f20" stroke-width="1" />
<text transform="translate(29.9 559.55)" font-size="7.9" text-anchor="end" fill="#111"  stroke="#111" stroke-width="0.15">10</text>
<line x1="31.3" y1="543.7" x2="34.5" y2="543.7" stroke="#231f20" stroke-width="1" />
<text transform="translate(29.9 546.55)" font-size="7.9" text-anchor="end" fill="#111"  stroke="#111" stroke-width="0.15">12</text>
<line x1="31.3" y1="530.7" x2="34.5" y2="530.7" stroke="#231f20" stroke-width="1" />
<text transform="translate(29.9 533.55)" font-size="7.9" text-anchor="end" fill="#111"  stroke="#111" stroke-width="0.15">14</text>
<line x1="34.5" y1="621.7" x2="34.5" y2="624.7" stroke="#231f20" stroke-width="1" />
<text transform="translate(34.5 634.4)" font-size="8.2" text-anchor="middle" fill="#111"  stroke="#111" stroke-width="0.15">5220000</text>
<line x1="89.45" y1="621.7" x2="89.45" y2="624.7" stroke="#231f20" stroke-width="1" />
<text transform="translate(89.45 634.4)" font-size="8.2" text-anchor="middle" fill="#111"  stroke="#111" stroke-width="0.15">5240000</text>
<line x1="144.4" y1="621.7" x2="144.4" y2="624.7" stroke="#231f20" stroke-width="1" />
<text transform="translate(144.4 634.4)" font-size="8.2" text-anchor="middle" fill="#111"  stroke="#111" stroke-width="0.15">5260000</text>
<line x1="199.35" y1="621.7" x2="199.35" y2="624.7" stroke="#231f20" stroke-width="1" />
<text transform="translate(199.35 634.4)" font-size="8.2" text-anchor="middle" fill="#111"  stroke="#111" stroke-width="0.15">5280000</text>
<line x1="254.3" y1="621.7" x2="254.3" y2="624.7" stroke="#231f20" stroke-width="1" />
<text transform="translate(254.3 634.4)" font-size="8.2" text-anchor="middle" fill="#111"  stroke="#111" stroke-width="0.15">5300000</text>
<line x1="309.25" y1="621.7" x2="309.25" y2="624.7" stroke="#231f20" stroke-width="1" />
<text transform="translate(309.25 634.4)" font-size="8.2" text-anchor="middle" fill="#111"  stroke="#111" stroke-width="0.15">5320000</text>
<text transform="translate(13.6 576) rotate(-90) scale(0.9 1)" font-size="8.6" text-anchor="middle" fill="#111"  stroke="#111" stroke-width="0.15">Relative interaction frequency</text>
<line x1="97" y1="621.7" x2="294" y2="621.7" stroke="#c4c4c4" stroke-width="2.0" />
<g fill="#bdbdbd">
<path d="M94.5 624.2h7l-3.5-6.2z"/>
<path d="M105.3 624.2h7l-3.5-6.2z"/>
<path d="M120.2 624.2h7l-3.5-6.2z"/>
<path d="M124.2 624.2h7l-3.5-6.2z"/>
<path d="M140.3 624.2h7l-3.5-6.2z"/>
<path d="M159.2 624.2h7l-3.5-6.2z"/>
<path d="M167.3 624.2h7l-3.5-6.2z"/>
<path d="M175.3 624.2h7l-3.5-6.2z"/>
<path d="M200.9 624.2h7l-3.5-6.2z"/>
<path d="M205.0 624.2h7l-3.5-6.2z"/>
<path d="M210.4 624.2h7l-3.5-6.2z"/>
<path d="M215.5 624.2h7l-3.5-6.2z"/>
<path d="M225.0 624.2h7l-3.5-6.2z"/>
<path d="M251.3 624.2h7l-3.5-6.2z"/>
<path d="M281.5 624.2h7l-3.5-6.2z"/>
<path d="M289.5 624.2h7l-3.5-6.2z"/>
</g>
<path d="M116.6 618.5 L126.5 616.5 L132.3 619.8 L165.8 585.7 L171.6 620.4 L179.7 620.4 L194.7 551.5 L218.5 620.4 L230.7 619.1 L245.7 617.8" fill="none" stroke="#f9b31c" stroke-width="1.3"/>
<line x1="116.6" y1="617.48" x2="116.6" y2="619.43" stroke="#f9b31c" stroke-width="0.9" />
<line x1="115.1" y1="617.48" x2="118.1" y2="617.48" stroke="#f9b31c" stroke-width="0.9" />
<line x1="115.1" y1="619.43" x2="118.1" y2="619.43" stroke="#f9b31c" stroke-width="0.9" />
<path d="M114.8 616.7l3.6 3.6M114.8 620.2l3.6 -3.6" stroke="#f9b31c" stroke-width="1.1"/>
<line x1="126.5" y1="615.2" x2="126.5" y2="617.8" stroke="#f9b31c" stroke-width="0.9" />
<line x1="125" y1="615.2" x2="128" y2="615.2" stroke="#f9b31c" stroke-width="0.9" />
<line x1="125" y1="617.8" x2="128" y2="617.8" stroke="#f9b31c" stroke-width="0.9" />
<path d="M124.7 614.7l3.6 3.6M124.7 618.3l3.6 -3.6" stroke="#f9b31c" stroke-width="1.1"/>
<line x1="132.3" y1="619.1" x2="132.3" y2="620.4" stroke="#f9b31c" stroke-width="0.9" />
<line x1="130.8" y1="619.1" x2="133.8" y2="619.1" stroke="#f9b31c" stroke-width="0.9" />
<line x1="130.8" y1="620.4" x2="133.8" y2="620.4" stroke="#f9b31c" stroke-width="0.9" />
<path d="M130.5 618.0l3.6 3.6M130.5 621.5l3.6 -3.6" stroke="#f9b31c" stroke-width="1.1"/>
<line x1="165.8" y1="570.74" x2="165.8" y2="600.64" stroke="#f9b31c" stroke-width="0.9" />
<line x1="164.3" y1="570.74" x2="167.3" y2="570.74" stroke="#f9b31c" stroke-width="0.9" />
<line x1="164.3" y1="600.64" x2="167.3" y2="600.64" stroke="#f9b31c" stroke-width="0.9" />
<path d="M164.0 583.9l3.6 3.6M164.0 587.5l3.6 -3.6" stroke="#f9b31c" stroke-width="1.1"/>
<path d="M169.8 618.6l3.6 3.6M169.8 622.2l3.6 -3.6" stroke="#f9b31c" stroke-width="1.1"/>
<path d="M177.9 618.6l3.6 3.6M177.9 622.2l3.6 -3.6" stroke="#f9b31c" stroke-width="1.1"/>
<line x1="194.7" y1="543.05" x2="194.7" y2="559.95" stroke="#f9b31c" stroke-width="0.9" />
<line x1="193.2" y1="543.05" x2="196.2" y2="543.05" stroke="#f9b31c" stroke-width="0.9" />
<line x1="193.2" y1="559.95" x2="196.2" y2="559.95" stroke="#f9b31c" stroke-width="0.9" />
<path d="M192.9 549.7l3.6 3.6M192.9 553.3l3.6 -3.6" stroke="#f9b31c" stroke-width="1.1"/>
<path d="M216.7 618.6l3.6 3.6M216.7 622.2l3.6 -3.6" stroke="#f9b31c" stroke-width="1.1"/>
<line x1="230.7" y1="618.45" x2="230.7" y2="619.75" stroke="#f9b31c" stroke-width="0.9" />
<line x1="229.2" y1="618.45" x2="232.2" y2="618.45" stroke="#f9b31c" stroke-width="0.9" />
<line x1="229.2" y1="619.75" x2="232.2" y2="619.75" stroke="#f9b31c" stroke-width="0.9" />
<path d="M228.9 617.3l3.6 3.6M228.9 620.9l3.6 -3.6" stroke="#f9b31c" stroke-width="1.1"/>
<line x1="245.7" y1="616.83" x2="245.7" y2="618.78" stroke="#f9b31c" stroke-width="0.9" />
<line x1="244.2" y1="616.83" x2="247.2" y2="616.83" stroke="#f9b31c" stroke-width="0.9" />
<line x1="244.2" y1="618.78" x2="247.2" y2="618.78" stroke="#f9b31c" stroke-width="0.9" />
<path d="M243.9 616.0l3.6 3.6M243.9 619.6l3.6 -3.6" stroke="#f9b31c" stroke-width="1.1"/>
<path d="M116.6 616.5 L126.5 618.5 L132.3 618.5 L165.8 602.2 L171.6 620.4 L179.7 621.1 L194.7 595.4 L218.5 620.7 L230.7 620.1 L245.7 619.8" fill="none" stroke="#1f4e89" stroke-width="1.3"/>
<line x1="116.6" y1="614.88" x2="116.6" y2="618.12" stroke="#1f4e89" stroke-width="0.9" />
<line x1="115.1" y1="614.88" x2="118.1" y2="614.88" stroke="#1f4e89" stroke-width="0.9" />
<line x1="115.1" y1="618.12" x2="118.1" y2="618.12" stroke="#1f4e89" stroke-width="0.9" />
<path d="M114.8 614.7l3.6 3.6M114.8 618.3l3.6 -3.6" stroke="#1f4e89" stroke-width="1.1"/>
<line x1="126.5" y1="617.48" x2="126.5" y2="619.43" stroke="#1f4e89" stroke-width="0.9" />
<line x1="125" y1="617.48" x2="128" y2="617.48" stroke="#1f4e89" stroke-width="0.9" />
<line x1="125" y1="619.43" x2="128" y2="619.43" stroke="#1f4e89" stroke-width="0.9" />
<path d="M124.7 616.7l3.6 3.6M124.7 620.2l3.6 -3.6" stroke="#1f4e89" stroke-width="1.1"/>
<line x1="132.3" y1="617.48" x2="132.3" y2="619.43" stroke="#1f4e89" stroke-width="0.9" />
<line x1="130.8" y1="617.48" x2="133.8" y2="617.48" stroke="#1f4e89" stroke-width="0.9" />
<line x1="130.8" y1="619.43" x2="133.8" y2="619.43" stroke="#1f4e89" stroke-width="0.9" />
<path d="M130.5 616.7l3.6 3.6M130.5 620.2l3.6 -3.6" stroke="#1f4e89" stroke-width="1.1"/>
<line x1="165.8" y1="596.35" x2="165.8" y2="608.05" stroke="#1f4e89" stroke-width="0.9" />
<line x1="164.3" y1="596.35" x2="167.3" y2="596.35" stroke="#1f4e89" stroke-width="0.9" />
<line x1="164.3" y1="608.05" x2="167.3" y2="608.05" stroke="#1f4e89" stroke-width="0.9" />
<path d="M164.0 600.4l3.6 3.6M164.0 604.0l3.6 -3.6" stroke="#1f4e89" stroke-width="1.1"/>
<path d="M169.8 618.6l3.6 3.6M169.8 622.2l3.6 -3.6" stroke="#1f4e89" stroke-width="1.1"/>
<path d="M177.9 619.3l3.6 3.6M177.9 622.9l3.6 -3.6" stroke="#1f4e89" stroke-width="1.1"/>
<line x1="194.7" y1="589.2" x2="194.7" y2="601.55" stroke="#1f4e89" stroke-width="0.9" />
<line x1="193.2" y1="589.2" x2="196.2" y2="589.2" stroke="#1f4e89" stroke-width="0.9" />
<line x1="193.2" y1="601.55" x2="196.2" y2="601.55" stroke="#1f4e89" stroke-width="0.9" />
<path d="M192.9 593.6l3.6 3.6M192.9 597.2l3.6 -3.6" stroke="#1f4e89" stroke-width="1.1"/>
<path d="M216.7 618.9l3.6 3.6M216.7 622.5l3.6 -3.6" stroke="#1f4e89" stroke-width="1.1"/>
<line x1="230.7" y1="619.43" x2="230.7" y2="620.73" stroke="#1f4e89" stroke-width="0.9" />
<line x1="229.2" y1="619.43" x2="232.2" y2="619.43" stroke="#1f4e89" stroke-width="0.9" />
<line x1="229.2" y1="620.73" x2="232.2" y2="620.73" stroke="#1f4e89" stroke-width="0.9" />
<path d="M228.9 618.3l3.6 3.6M228.9 621.9l3.6 -3.6" stroke="#1f4e89" stroke-width="1.1"/>
<line x1="245.7" y1="619.1" x2="245.7" y2="620.4" stroke="#1f4e89" stroke-width="0.9" />
<line x1="244.2" y1="619.1" x2="247.2" y2="619.1" stroke="#1f4e89" stroke-width="0.9" />
<line x1="244.2" y1="620.4" x2="247.2" y2="620.4" stroke="#1f4e89" stroke-width="0.9" />
<path d="M243.9 618.0l3.6 3.6M243.9 621.5l3.6 -3.6" stroke="#1f4e89" stroke-width="1.1"/>
<path d="M286.7 618.0l3.6 3.6M286.7 621.5l3.6 -3.6" stroke="#1f4e89" stroke-width="1.1"/>
<path d="M286.7 618.0l3.6 3.6M286.7 621.5l3.6 -3.6" stroke="#f9b31c" stroke-width="1.1"/>
<circle cx="193.1" cy="583.6" r="1.05" fill="#222"/>
<circle cx="196.6" cy="583.6" r="1.05" fill="#222"/>
<circle cx="230.9" cy="613.5" r="1.05" fill="#222"/>
<circle cx="245.9" cy="613.5" r="1.05" fill="#222"/>
<line x1="46" y1="541.3" x2="61" y2="541.3" stroke="#c0c0c0" stroke-width="1.2" />
<path d="M50.5 543.5h6l-3-5.2z" fill="#bdbdbd"/>
<text transform="translate(63.9 544.2) scale(0.92 1)" font-size="8.4" text-anchor="start" fill="#111"  stroke="#111" stroke-width="0.15">ECOR1</text>
<line x1="46" y1="551.5" x2="61" y2="551.5" stroke="#f9b31c" stroke-width="1.3" />
<path d="M51.7 549.7l3.6 3.6M51.7 553.3l3.6 -3.6" stroke="#f9b31c" stroke-width="1.1"/>
<text transform="translate(63.9 554.4) scale(0.92 1)" font-size="8.4" text-anchor="start" fill="#111"  stroke="#111" stroke-width="0.15">WT</text>
<line x1="46" y1="561.4" x2="61" y2="561.4" stroke="#1f4e89" stroke-width="1.3" />
<path d="M51.7 559.6l3.6 3.6M51.7 563.2l3.6 -3.6" stroke="#1f4e89" stroke-width="1.1"/>
<text transform="translate(63.9 564.3) scale(0.92 1)" font-size="8.4" text-anchor="start" fill="#111"  stroke="#111" stroke-width="0.15">KO</text>
<rect x="114.2" y="639.8" width="5.4" height="2.8" fill="#333" />
<text transform="translate(114.7 651.5) scale(0.92 1)" font-size="8.4" text-anchor="middle" fill="#111"  stroke="#111" stroke-width="0.15">HBD</text>
<rect x="130.4" y="639.8" width="4.8" height="2.8" fill="#333" />
<text transform="translate(136.4 651.5) scale(0.92 1)" font-size="8.4" text-anchor="middle" fill="#111"  stroke="#111" stroke-width="0.15">HBB</text>
<rect x="172.1" y="639.8" width="5.4" height="2.8" fill="#333" />
<text transform="translate(171.5 651.5) scale(0.92 1)" font-size="8.4" text-anchor="middle" fill="#111"  stroke="#111" stroke-width="0.15">HBG1</text>
<rect x="191.8" y="639.8" width="4.6" height="2.8" fill="#333" />
<text transform="translate(197.8 651.5) scale(0.92 1)" font-size="8.4" text-anchor="middle" fill="#111"  stroke="#111" stroke-width="0.15">HBG2</text>
<rect x="227.7" y="639.8" width="5.1" height="2.8" fill="#333" />
<text transform="translate(231.2 651.5) scale(0.92 1)" font-size="8.4" text-anchor="middle" fill="#111"  stroke="#111" stroke-width="0.15">HBE1</text>
<rect x="0.6" y="0.6" width="518.8" height="656.8" fill="none" stroke="#000" stroke-width="1.4"/>
</svg>
</body></html>
